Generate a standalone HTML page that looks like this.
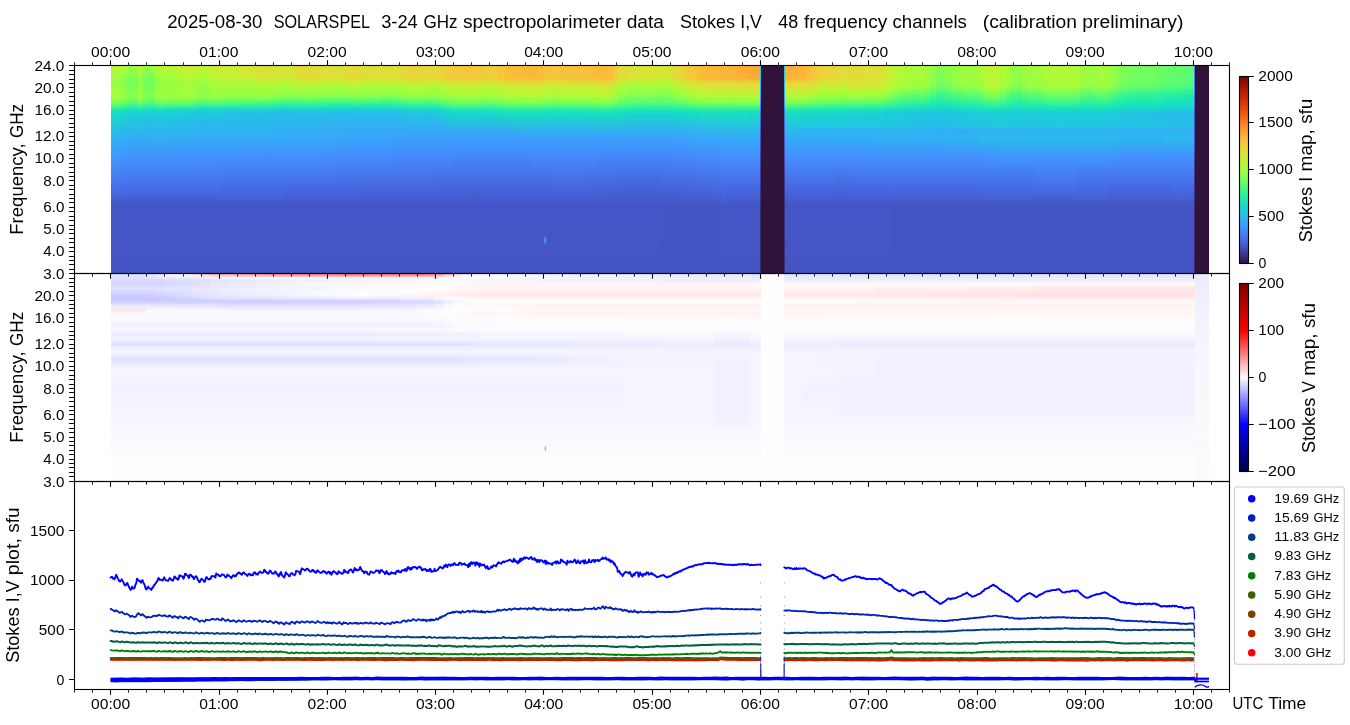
<!DOCTYPE html>
<html><head><meta charset="utf-8"><title>SOLARSPEL 2025-08-30</title>
<style>html,body{margin:0;padding:0;background:#fff;overflow:hidden}svg{display:block}text{font-family:"Liberation Sans",sans-serif;white-space:pre}</style></head>
<body>
<svg width="1350" height="725" viewBox="0 0 1350 725">
<rect width="1350" height="725" fill="#fff"/>
<defs>
<linearGradient id="i0" x1="0" y1="0" x2="0" y2="1"><stop offset="0" stop-color="#c3f134"/><stop offset="0.043" stop-color="#acfb38"/><stop offset="0.064" stop-color="#a1fd3d"/><stop offset="0.085" stop-color="#9ffd3f"/><stop offset="0.106" stop-color="#9ffd3f"/><stop offset="0.128" stop-color="#a7fc3a"/><stop offset="0.149" stop-color="#acfb38"/><stop offset="0.17" stop-color="#8fff49"/><stop offset="0.191" stop-color="#65fd69"/><stop offset="0.213" stop-color="#20eaac"/><stop offset="0.234" stop-color="#18d9c8"/><stop offset="0.34" stop-color="#2cb7f0"/><stop offset="0.447" stop-color="#4196ff"/><stop offset="0.553" stop-color="#4778f0"/><stop offset="0.638" stop-color="#4661d6"/><stop offset="0.655" stop-color="#4559cb"/><stop offset="0.674" stop-color="#4456c7"/><stop offset="1" stop-color="#4454c3"/></linearGradient>
<linearGradient id="i1" x1="0" y1="0" x2="0" y2="1"><stop offset="0" stop-color="#bef434"/><stop offset="0.043" stop-color="#a7fc3a"/><stop offset="0.064" stop-color="#9cfe40"/><stop offset="0.085" stop-color="#99fe42"/><stop offset="0.106" stop-color="#99fe42"/><stop offset="0.128" stop-color="#a1fd3d"/><stop offset="0.149" stop-color="#a7fc3a"/><stop offset="0.17" stop-color="#88ff4e"/><stop offset="0.191" stop-color="#5dfc6f"/><stop offset="0.213" stop-color="#1de7b2"/><stop offset="0.234" stop-color="#18d7ca"/><stop offset="0.34" stop-color="#2eb4f2"/><stop offset="0.447" stop-color="#4294ff"/><stop offset="0.553" stop-color="#4778f0"/><stop offset="0.638" stop-color="#4661d6"/><stop offset="0.655" stop-color="#4559cb"/><stop offset="0.674" stop-color="#4456c7"/><stop offset="1" stop-color="#4454c3"/></linearGradient>
<linearGradient id="i2" x1="0" y1="0" x2="0" y2="1"><stop offset="0" stop-color="#b1f936"/><stop offset="0.043" stop-color="#99fe42"/><stop offset="0.064" stop-color="#8bff4b"/><stop offset="0.085" stop-color="#88ff4e"/><stop offset="0.106" stop-color="#88ff4e"/><stop offset="0.128" stop-color="#92ff47"/><stop offset="0.149" stop-color="#99fe42"/><stop offset="0.17" stop-color="#75fe5c"/><stop offset="0.191" stop-color="#4ef97d"/><stop offset="0.213" stop-color="#1ae4b6"/><stop offset="0.234" stop-color="#1ad4d0"/><stop offset="0.34" stop-color="#2fb2f4"/><stop offset="0.447" stop-color="#4294ff"/><stop offset="0.553" stop-color="#4776ee"/><stop offset="0.638" stop-color="#4661d6"/><stop offset="0.655" stop-color="#4559cb"/><stop offset="0.674" stop-color="#4456c7"/><stop offset="1" stop-color="#4454c3"/></linearGradient>
<linearGradient id="i3" x1="0" y1="0" x2="0" y2="1"><stop offset="0" stop-color="#a1fd3d"/><stop offset="0.043" stop-color="#88ff4e"/><stop offset="0.064" stop-color="#79fe59"/><stop offset="0.085" stop-color="#75fe5c"/><stop offset="0.106" stop-color="#75fe5c"/><stop offset="0.128" stop-color="#80ff53"/><stop offset="0.149" stop-color="#88ff4e"/><stop offset="0.17" stop-color="#65fd69"/><stop offset="0.191" stop-color="#43f787"/><stop offset="0.213" stop-color="#18e0bd"/><stop offset="0.234" stop-color="#1bd0d5"/><stop offset="0.34" stop-color="#2fb2f4"/><stop offset="0.447" stop-color="#4391fe"/><stop offset="0.553" stop-color="#4776ee"/><stop offset="0.638" stop-color="#4661d6"/><stop offset="0.655" stop-color="#4559cb"/><stop offset="0.674" stop-color="#4456c7"/><stop offset="1" stop-color="#4454c3"/></linearGradient>
<linearGradient id="i4" x1="0" y1="0" x2="0" y2="1"><stop offset="0" stop-color="#a4fc3c"/><stop offset="0.043" stop-color="#8bff4b"/><stop offset="0.064" stop-color="#7dff56"/><stop offset="0.085" stop-color="#79fe59"/><stop offset="0.106" stop-color="#79fe59"/><stop offset="0.128" stop-color="#84ff51"/><stop offset="0.149" stop-color="#8bff4b"/><stop offset="0.17" stop-color="#65fd69"/><stop offset="0.191" stop-color="#3ff68a"/><stop offset="0.213" stop-color="#18dec0"/><stop offset="0.234" stop-color="#1ccdd8"/><stop offset="0.34" stop-color="#31aff5"/><stop offset="0.447" stop-color="#4391fe"/><stop offset="0.553" stop-color="#4776ee"/><stop offset="0.638" stop-color="#4661d6"/><stop offset="0.655" stop-color="#4559cb"/><stop offset="0.674" stop-color="#4456c7"/><stop offset="1" stop-color="#4454c3"/></linearGradient>
<linearGradient id="i5" x1="0" y1="0" x2="0" y2="1"><stop offset="0" stop-color="#b9f635"/><stop offset="0.043" stop-color="#a1fd3d"/><stop offset="0.064" stop-color="#92ff47"/><stop offset="0.085" stop-color="#92ff47"/><stop offset="0.106" stop-color="#92ff47"/><stop offset="0.128" stop-color="#99fe42"/><stop offset="0.149" stop-color="#a1fd3d"/><stop offset="0.17" stop-color="#7dff56"/><stop offset="0.191" stop-color="#52fa7a"/><stop offset="0.213" stop-color="#19e3b9"/><stop offset="0.234" stop-color="#1ad2d2"/><stop offset="0.34" stop-color="#31aff5"/><stop offset="0.447" stop-color="#4391fe"/><stop offset="0.553" stop-color="#4776ee"/><stop offset="0.638" stop-color="#4661d6"/><stop offset="0.655" stop-color="#4559cb"/><stop offset="0.674" stop-color="#4456c7"/><stop offset="1" stop-color="#4454c3"/></linearGradient>
<linearGradient id="i6" x1="0" y1="0" x2="0" y2="1"><stop offset="0" stop-color="#a1fd3d"/><stop offset="0.043" stop-color="#88ff4e"/><stop offset="0.064" stop-color="#79fe59"/><stop offset="0.085" stop-color="#75fe5c"/><stop offset="0.106" stop-color="#75fe5c"/><stop offset="0.128" stop-color="#80ff53"/><stop offset="0.149" stop-color="#88ff4e"/><stop offset="0.17" stop-color="#65fd69"/><stop offset="0.191" stop-color="#3ff68a"/><stop offset="0.213" stop-color="#18dec0"/><stop offset="0.234" stop-color="#1ecbda"/><stop offset="0.34" stop-color="#2fb2f4"/><stop offset="0.447" stop-color="#4391fe"/><stop offset="0.553" stop-color="#4776ee"/><stop offset="0.638" stop-color="#4661d6"/><stop offset="0.655" stop-color="#4559cb"/><stop offset="0.674" stop-color="#4456c7"/><stop offset="1" stop-color="#4454c3"/></linearGradient>
<linearGradient id="i7" x1="0" y1="0" x2="0" y2="1"><stop offset="0" stop-color="#9ffd3f"/><stop offset="0.043" stop-color="#80ff53"/><stop offset="0.064" stop-color="#71fe5f"/><stop offset="0.085" stop-color="#71fe5f"/><stop offset="0.106" stop-color="#71fe5f"/><stop offset="0.128" stop-color="#79fe59"/><stop offset="0.149" stop-color="#80ff53"/><stop offset="0.17" stop-color="#5dfc6f"/><stop offset="0.191" stop-color="#3cf58e"/><stop offset="0.213" stop-color="#18ddc2"/><stop offset="0.234" stop-color="#1ecbda"/><stop offset="0.34" stop-color="#2fb2f4"/><stop offset="0.447" stop-color="#4391fe"/><stop offset="0.553" stop-color="#4776ee"/><stop offset="0.638" stop-color="#4661d6"/><stop offset="0.655" stop-color="#4559cb"/><stop offset="0.674" stop-color="#4456c7"/><stop offset="1" stop-color="#4454c3"/></linearGradient>
<linearGradient id="i8" x1="0" y1="0" x2="0" y2="1"><stop offset="0" stop-color="#b7f735"/><stop offset="0.043" stop-color="#9ffd3f"/><stop offset="0.064" stop-color="#92ff47"/><stop offset="0.085" stop-color="#8fff49"/><stop offset="0.106" stop-color="#8fff49"/><stop offset="0.128" stop-color="#96fe44"/><stop offset="0.149" stop-color="#9ffd3f"/><stop offset="0.17" stop-color="#79fe59"/><stop offset="0.191" stop-color="#4ef97d"/><stop offset="0.213" stop-color="#18e0bd"/><stop offset="0.234" stop-color="#1ccdd8"/><stop offset="0.34" stop-color="#2eb4f2"/><stop offset="0.447" stop-color="#4391fe"/><stop offset="0.553" stop-color="#4776ee"/><stop offset="0.638" stop-color="#4661d6"/><stop offset="0.655" stop-color="#4559cb"/><stop offset="0.674" stop-color="#4456c7"/><stop offset="1" stop-color="#4454c3"/></linearGradient>
<linearGradient id="i9" x1="0" y1="0" x2="0" y2="1"><stop offset="0" stop-color="#bef434"/><stop offset="0.043" stop-color="#a7fc3a"/><stop offset="0.064" stop-color="#9cfe40"/><stop offset="0.085" stop-color="#99fe42"/><stop offset="0.106" stop-color="#96fe44"/><stop offset="0.128" stop-color="#9ffd3f"/><stop offset="0.149" stop-color="#a4fc3c"/><stop offset="0.17" stop-color="#7dff56"/><stop offset="0.191" stop-color="#52fa7a"/><stop offset="0.213" stop-color="#18e0bd"/><stop offset="0.234" stop-color="#1ccdd8"/><stop offset="0.34" stop-color="#2eb4f2"/><stop offset="0.447" stop-color="#4391fe"/><stop offset="0.553" stop-color="#4776ee"/><stop offset="0.638" stop-color="#4661d6"/><stop offset="0.655" stop-color="#4559cb"/><stop offset="0.674" stop-color="#4456c7"/><stop offset="1" stop-color="#4454c3"/></linearGradient>
<linearGradient id="i10" x1="0" y1="0" x2="0" y2="1"><stop offset="0" stop-color="#bef434"/><stop offset="0.043" stop-color="#a7fc3a"/><stop offset="0.064" stop-color="#9cfe40"/><stop offset="0.085" stop-color="#96fe44"/><stop offset="0.106" stop-color="#96fe44"/><stop offset="0.128" stop-color="#9cfe40"/><stop offset="0.149" stop-color="#9ffd3f"/><stop offset="0.17" stop-color="#79fe59"/><stop offset="0.191" stop-color="#4ef97d"/><stop offset="0.213" stop-color="#18dec0"/><stop offset="0.234" stop-color="#1ccdd8"/><stop offset="0.34" stop-color="#2fb2f4"/><stop offset="0.447" stop-color="#4391fe"/><stop offset="0.553" stop-color="#4776ee"/><stop offset="0.638" stop-color="#4661d6"/><stop offset="0.655" stop-color="#4559cb"/><stop offset="0.674" stop-color="#4456c7"/><stop offset="1" stop-color="#4454c3"/></linearGradient>
<linearGradient id="i11" x1="0" y1="0" x2="0" y2="1"><stop offset="0" stop-color="#c1f334"/><stop offset="0.043" stop-color="#acfb38"/><stop offset="0.064" stop-color="#a1fd3d"/><stop offset="0.085" stop-color="#9cfe40"/><stop offset="0.106" stop-color="#99fe42"/><stop offset="0.128" stop-color="#9cfe40"/><stop offset="0.149" stop-color="#a1fd3d"/><stop offset="0.17" stop-color="#79fe59"/><stop offset="0.191" stop-color="#4ef97d"/><stop offset="0.213" stop-color="#18ddc2"/><stop offset="0.234" stop-color="#1ecbda"/><stop offset="0.34" stop-color="#2fb2f4"/><stop offset="0.447" stop-color="#4391fe"/><stop offset="0.553" stop-color="#4776ee"/><stop offset="0.638" stop-color="#4661d6"/><stop offset="0.655" stop-color="#4559cb"/><stop offset="0.674" stop-color="#4456c7"/><stop offset="1" stop-color="#4454c3"/></linearGradient>
<linearGradient id="i12" x1="0" y1="0" x2="0" y2="1"><stop offset="0" stop-color="#c6f034"/><stop offset="0.043" stop-color="#b1f936"/><stop offset="0.064" stop-color="#a7fc3a"/><stop offset="0.085" stop-color="#9ffd3f"/><stop offset="0.106" stop-color="#9cfe40"/><stop offset="0.128" stop-color="#a1fd3d"/><stop offset="0.149" stop-color="#a4fc3c"/><stop offset="0.17" stop-color="#7dff56"/><stop offset="0.191" stop-color="#4ef97d"/><stop offset="0.213" stop-color="#18ddc2"/><stop offset="0.234" stop-color="#1ecbda"/><stop offset="0.34" stop-color="#2fb2f4"/><stop offset="0.447" stop-color="#4391fe"/><stop offset="0.553" stop-color="#4776ee"/><stop offset="0.638" stop-color="#4661d6"/><stop offset="0.655" stop-color="#4559cb"/><stop offset="0.674" stop-color="#4456c7"/><stop offset="1" stop-color="#4454c3"/></linearGradient>
<linearGradient id="i13" x1="0" y1="0" x2="0" y2="1"><stop offset="0" stop-color="#cbed34"/><stop offset="0.043" stop-color="#b9f635"/><stop offset="0.064" stop-color="#affa37"/><stop offset="0.085" stop-color="#a7fc3a"/><stop offset="0.106" stop-color="#a1fd3d"/><stop offset="0.128" stop-color="#a4fc3c"/><stop offset="0.149" stop-color="#a7fc3a"/><stop offset="0.17" stop-color="#80ff53"/><stop offset="0.191" stop-color="#4ef97d"/><stop offset="0.213" stop-color="#18dbc5"/><stop offset="0.234" stop-color="#1fc9dd"/><stop offset="0.34" stop-color="#2fb2f4"/><stop offset="0.447" stop-color="#4391fe"/><stop offset="0.553" stop-color="#4776ee"/><stop offset="0.638" stop-color="#4661d6"/><stop offset="0.655" stop-color="#4559cb"/><stop offset="0.674" stop-color="#4456c7"/><stop offset="1" stop-color="#4454c3"/></linearGradient>
<linearGradient id="i14" x1="0" y1="0" x2="0" y2="1"><stop offset="0" stop-color="#cdec34"/><stop offset="0.043" stop-color="#bcf534"/><stop offset="0.064" stop-color="#b4f836"/><stop offset="0.085" stop-color="#a7fc3a"/><stop offset="0.106" stop-color="#a4fc3c"/><stop offset="0.128" stop-color="#a4fc3c"/><stop offset="0.149" stop-color="#a7fc3a"/><stop offset="0.17" stop-color="#7dff56"/><stop offset="0.191" stop-color="#4ef97d"/><stop offset="0.213" stop-color="#18dbc5"/><stop offset="0.234" stop-color="#1fc9dd"/><stop offset="0.34" stop-color="#2fb2f4"/><stop offset="0.447" stop-color="#4391fe"/><stop offset="0.553" stop-color="#4776ee"/><stop offset="0.638" stop-color="#4661d6"/><stop offset="0.655" stop-color="#4559cb"/><stop offset="0.674" stop-color="#4456c7"/><stop offset="1" stop-color="#4454c3"/></linearGradient>
<linearGradient id="i15" x1="0" y1="0" x2="0" y2="1"><stop offset="0" stop-color="#cbed34"/><stop offset="0.043" stop-color="#b9f635"/><stop offset="0.064" stop-color="#b1f936"/><stop offset="0.085" stop-color="#a4fc3c"/><stop offset="0.106" stop-color="#9ffd3f"/><stop offset="0.128" stop-color="#9ffd3f"/><stop offset="0.149" stop-color="#9ffd3f"/><stop offset="0.17" stop-color="#75fe5c"/><stop offset="0.191" stop-color="#46f884"/><stop offset="0.213" stop-color="#18d9c8"/><stop offset="0.234" stop-color="#20c7df"/><stop offset="0.34" stop-color="#31aff5"/><stop offset="0.447" stop-color="#4391fe"/><stop offset="0.553" stop-color="#4776ee"/><stop offset="0.638" stop-color="#4661d6"/><stop offset="0.655" stop-color="#4559cb"/><stop offset="0.674" stop-color="#4456c7"/><stop offset="1" stop-color="#4454c3"/></linearGradient>
<linearGradient id="i16" x1="0" y1="0" x2="0" y2="1"><stop offset="0" stop-color="#bef434"/><stop offset="0.043" stop-color="#affa37"/><stop offset="0.064" stop-color="#a7fc3a"/><stop offset="0.085" stop-color="#99fe42"/><stop offset="0.106" stop-color="#8fff49"/><stop offset="0.128" stop-color="#8fff49"/><stop offset="0.149" stop-color="#8fff49"/><stop offset="0.17" stop-color="#65fd69"/><stop offset="0.191" stop-color="#38f491"/><stop offset="0.213" stop-color="#1ad4d0"/><stop offset="0.234" stop-color="#23c3e4"/><stop offset="0.34" stop-color="#31aff5"/><stop offset="0.447" stop-color="#4391fe"/><stop offset="0.553" stop-color="#4776ee"/><stop offset="0.638" stop-color="#4661d6"/><stop offset="0.655" stop-color="#4559cb"/><stop offset="0.674" stop-color="#4456c7"/><stop offset="1" stop-color="#4454c3"/></linearGradient>
<linearGradient id="i17" x1="0" y1="0" x2="0" y2="1"><stop offset="0" stop-color="#c1f334"/><stop offset="0.043" stop-color="#b4f836"/><stop offset="0.064" stop-color="#acfb38"/><stop offset="0.085" stop-color="#9cfe40"/><stop offset="0.106" stop-color="#92ff47"/><stop offset="0.128" stop-color="#92ff47"/><stop offset="0.149" stop-color="#8fff49"/><stop offset="0.17" stop-color="#65fd69"/><stop offset="0.191" stop-color="#38f491"/><stop offset="0.213" stop-color="#19d5cd"/><stop offset="0.234" stop-color="#23c3e4"/><stop offset="0.34" stop-color="#31aff5"/><stop offset="0.447" stop-color="#448ffe"/><stop offset="0.553" stop-color="#4776ee"/><stop offset="0.638" stop-color="#4661d6"/><stop offset="0.655" stop-color="#4559cb"/><stop offset="0.674" stop-color="#4456c7"/><stop offset="1" stop-color="#4454c3"/></linearGradient>
<linearGradient id="i18" x1="0" y1="0" x2="0" y2="1"><stop offset="0" stop-color="#c8ef34"/><stop offset="0.043" stop-color="#bcf534"/><stop offset="0.064" stop-color="#b4f836"/><stop offset="0.085" stop-color="#a4fc3c"/><stop offset="0.106" stop-color="#9cfe40"/><stop offset="0.128" stop-color="#99fe42"/><stop offset="0.149" stop-color="#96fe44"/><stop offset="0.17" stop-color="#69fd66"/><stop offset="0.191" stop-color="#3cf58e"/><stop offset="0.213" stop-color="#18d7ca"/><stop offset="0.234" stop-color="#22c5e2"/><stop offset="0.34" stop-color="#31aff5"/><stop offset="0.447" stop-color="#448ffe"/><stop offset="0.553" stop-color="#4776ee"/><stop offset="0.638" stop-color="#4661d6"/><stop offset="0.655" stop-color="#4559cb"/><stop offset="0.674" stop-color="#4456c7"/><stop offset="1" stop-color="#4454c3"/></linearGradient>
<linearGradient id="i19" x1="0" y1="0" x2="0" y2="1"><stop offset="0" stop-color="#d2e935"/><stop offset="0.043" stop-color="#c6f034"/><stop offset="0.064" stop-color="#bef434"/><stop offset="0.085" stop-color="#acfb38"/><stop offset="0.106" stop-color="#a4fc3c"/><stop offset="0.128" stop-color="#a1fd3d"/><stop offset="0.149" stop-color="#9cfe40"/><stop offset="0.17" stop-color="#71fe5f"/><stop offset="0.191" stop-color="#3ff68a"/><stop offset="0.213" stop-color="#18d7ca"/><stop offset="0.234" stop-color="#22c5e2"/><stop offset="0.34" stop-color="#31aff5"/><stop offset="0.447" stop-color="#448ffe"/><stop offset="0.553" stop-color="#4776ee"/><stop offset="0.638" stop-color="#4661d6"/><stop offset="0.655" stop-color="#4559cb"/><stop offset="0.674" stop-color="#4456c7"/><stop offset="1" stop-color="#4454c3"/></linearGradient>
<linearGradient id="i20" x1="0" y1="0" x2="0" y2="1"><stop offset="0" stop-color="#d2e935"/><stop offset="0.043" stop-color="#c6f034"/><stop offset="0.064" stop-color="#bef434"/><stop offset="0.085" stop-color="#acfb38"/><stop offset="0.106" stop-color="#a1fd3d"/><stop offset="0.128" stop-color="#9ffd3f"/><stop offset="0.149" stop-color="#99fe42"/><stop offset="0.17" stop-color="#6dfe62"/><stop offset="0.191" stop-color="#3cf58e"/><stop offset="0.213" stop-color="#18d7ca"/><stop offset="0.234" stop-color="#22c5e2"/><stop offset="0.34" stop-color="#31aff5"/><stop offset="0.447" stop-color="#448ffe"/><stop offset="0.553" stop-color="#4773eb"/><stop offset="0.638" stop-color="#4661d6"/><stop offset="0.655" stop-color="#4559cb"/><stop offset="0.674" stop-color="#4456c7"/><stop offset="1" stop-color="#4454c3"/></linearGradient>
<linearGradient id="i21" x1="0" y1="0" x2="0" y2="1"><stop offset="0" stop-color="#d0ea34"/><stop offset="0.043" stop-color="#c6f034"/><stop offset="0.064" stop-color="#bef434"/><stop offset="0.085" stop-color="#a9fb39"/><stop offset="0.106" stop-color="#a1fd3d"/><stop offset="0.128" stop-color="#9cfe40"/><stop offset="0.149" stop-color="#96fe44"/><stop offset="0.17" stop-color="#69fd66"/><stop offset="0.191" stop-color="#38f491"/><stop offset="0.213" stop-color="#19d5cd"/><stop offset="0.234" stop-color="#23c3e4"/><stop offset="0.34" stop-color="#31aff5"/><stop offset="0.447" stop-color="#448ffe"/><stop offset="0.553" stop-color="#4773eb"/><stop offset="0.638" stop-color="#4661d6"/><stop offset="0.655" stop-color="#4559cb"/><stop offset="0.674" stop-color="#4456c7"/><stop offset="1" stop-color="#4454c3"/></linearGradient>
<linearGradient id="i22" x1="0" y1="0" x2="0" y2="1"><stop offset="0" stop-color="#d0ea34"/><stop offset="0.043" stop-color="#c6f034"/><stop offset="0.064" stop-color="#bef434"/><stop offset="0.085" stop-color="#a9fb39"/><stop offset="0.106" stop-color="#9ffd3f"/><stop offset="0.128" stop-color="#9cfe40"/><stop offset="0.149" stop-color="#92ff47"/><stop offset="0.17" stop-color="#65fd69"/><stop offset="0.191" stop-color="#38f491"/><stop offset="0.213" stop-color="#1ad4d0"/><stop offset="0.234" stop-color="#23c3e4"/><stop offset="0.34" stop-color="#31aff5"/><stop offset="0.447" stop-color="#448ffe"/><stop offset="0.553" stop-color="#4773eb"/><stop offset="0.638" stop-color="#4661d6"/><stop offset="0.655" stop-color="#4559cb"/><stop offset="0.674" stop-color="#4456c7"/><stop offset="1" stop-color="#4454c3"/></linearGradient>
<linearGradient id="i23" x1="0" y1="0" x2="0" y2="1"><stop offset="0" stop-color="#d4e735"/><stop offset="0.043" stop-color="#cbed34"/><stop offset="0.064" stop-color="#c6f034"/><stop offset="0.085" stop-color="#affa37"/><stop offset="0.106" stop-color="#a4fc3c"/><stop offset="0.128" stop-color="#9ffd3f"/><stop offset="0.149" stop-color="#96fe44"/><stop offset="0.17" stop-color="#65fd69"/><stop offset="0.191" stop-color="#38f491"/><stop offset="0.213" stop-color="#1ad4d0"/><stop offset="0.234" stop-color="#25c0e7"/><stop offset="0.34" stop-color="#31aff5"/><stop offset="0.447" stop-color="#448ffe"/><stop offset="0.553" stop-color="#4773eb"/><stop offset="0.638" stop-color="#4661d6"/><stop offset="0.655" stop-color="#4559cb"/><stop offset="0.674" stop-color="#4456c7"/><stop offset="1" stop-color="#4454c3"/></linearGradient>
<linearGradient id="i24" x1="0" y1="0" x2="0" y2="1"><stop offset="0" stop-color="#d7e535"/><stop offset="0.043" stop-color="#cdec34"/><stop offset="0.064" stop-color="#c8ef34"/><stop offset="0.085" stop-color="#b1f936"/><stop offset="0.106" stop-color="#a4fc3c"/><stop offset="0.128" stop-color="#9ffd3f"/><stop offset="0.149" stop-color="#96fe44"/><stop offset="0.17" stop-color="#65fd69"/><stop offset="0.191" stop-color="#35f394"/><stop offset="0.213" stop-color="#1ad4d0"/><stop offset="0.234" stop-color="#25c0e7"/><stop offset="0.34" stop-color="#31aff5"/><stop offset="0.447" stop-color="#448ffe"/><stop offset="0.553" stop-color="#4773eb"/><stop offset="0.638" stop-color="#4661d6"/><stop offset="0.655" stop-color="#4559cb"/><stop offset="0.674" stop-color="#4456c7"/><stop offset="1" stop-color="#4454c3"/></linearGradient>
<linearGradient id="i25" x1="0" y1="0" x2="0" y2="1"><stop offset="0" stop-color="#d7e535"/><stop offset="0.043" stop-color="#cdec34"/><stop offset="0.064" stop-color="#c8ef34"/><stop offset="0.085" stop-color="#affa37"/><stop offset="0.106" stop-color="#a4fc3c"/><stop offset="0.128" stop-color="#9ffd3f"/><stop offset="0.149" stop-color="#92ff47"/><stop offset="0.17" stop-color="#65fd69"/><stop offset="0.191" stop-color="#35f394"/><stop offset="0.213" stop-color="#1ad4d0"/><stop offset="0.234" stop-color="#25c0e7"/><stop offset="0.34" stop-color="#33adf7"/><stop offset="0.447" stop-color="#448ffe"/><stop offset="0.553" stop-color="#4773eb"/><stop offset="0.638" stop-color="#4661d6"/><stop offset="0.655" stop-color="#4559cb"/><stop offset="0.674" stop-color="#4456c7"/><stop offset="1" stop-color="#4454c3"/></linearGradient>
<linearGradient id="i26" x1="0" y1="0" x2="0" y2="1"><stop offset="0" stop-color="#d9e436"/><stop offset="0.043" stop-color="#d0ea34"/><stop offset="0.064" stop-color="#cbed34"/><stop offset="0.085" stop-color="#b1f936"/><stop offset="0.106" stop-color="#a4fc3c"/><stop offset="0.128" stop-color="#9ffd3f"/><stop offset="0.149" stop-color="#92ff47"/><stop offset="0.17" stop-color="#65fd69"/><stop offset="0.191" stop-color="#35f394"/><stop offset="0.213" stop-color="#1ad4d0"/><stop offset="0.234" stop-color="#25c0e7"/><stop offset="0.34" stop-color="#33adf7"/><stop offset="0.447" stop-color="#448ffe"/><stop offset="0.553" stop-color="#4773eb"/><stop offset="0.638" stop-color="#4661d6"/><stop offset="0.655" stop-color="#4559cb"/><stop offset="0.674" stop-color="#4456c7"/><stop offset="1" stop-color="#4454c3"/></linearGradient>
<linearGradient id="i27" x1="0" y1="0" x2="0" y2="1"><stop offset="0" stop-color="#dbe236"/><stop offset="0.043" stop-color="#d4e735"/><stop offset="0.064" stop-color="#d0ea34"/><stop offset="0.085" stop-color="#b7f735"/><stop offset="0.106" stop-color="#a9fb39"/><stop offset="0.128" stop-color="#a1fd3d"/><stop offset="0.149" stop-color="#96fe44"/><stop offset="0.17" stop-color="#65fd69"/><stop offset="0.191" stop-color="#35f394"/><stop offset="0.213" stop-color="#1ad4d0"/><stop offset="0.234" stop-color="#25c0e7"/><stop offset="0.34" stop-color="#33adf7"/><stop offset="0.447" stop-color="#448ffe"/><stop offset="0.553" stop-color="#4773eb"/><stop offset="0.638" stop-color="#4661d6"/><stop offset="0.655" stop-color="#4559cb"/><stop offset="0.674" stop-color="#4456c7"/><stop offset="1" stop-color="#4454c3"/></linearGradient>
<linearGradient id="i28" x1="0" y1="0" x2="0" y2="1"><stop offset="0" stop-color="#dfdf37"/><stop offset="0.043" stop-color="#d9e436"/><stop offset="0.064" stop-color="#d4e735"/><stop offset="0.085" stop-color="#b9f635"/><stop offset="0.106" stop-color="#acfb38"/><stop offset="0.128" stop-color="#a4fc3c"/><stop offset="0.149" stop-color="#99fe42"/><stop offset="0.17" stop-color="#65fd69"/><stop offset="0.191" stop-color="#35f394"/><stop offset="0.213" stop-color="#1ad4d0"/><stop offset="0.234" stop-color="#25c0e7"/><stop offset="0.34" stop-color="#33adf7"/><stop offset="0.447" stop-color="#448ffe"/><stop offset="0.553" stop-color="#4773eb"/><stop offset="0.638" stop-color="#4661d6"/><stop offset="0.655" stop-color="#4559cb"/><stop offset="0.674" stop-color="#4456c7"/><stop offset="1" stop-color="#4454c3"/></linearGradient>
<linearGradient id="i29" x1="0" y1="0" x2="0" y2="1"><stop offset="0" stop-color="#dde037"/><stop offset="0.043" stop-color="#d9e436"/><stop offset="0.064" stop-color="#d4e735"/><stop offset="0.085" stop-color="#b9f635"/><stop offset="0.106" stop-color="#a9fb39"/><stop offset="0.128" stop-color="#a1fd3d"/><stop offset="0.149" stop-color="#96fe44"/><stop offset="0.17" stop-color="#61fc6c"/><stop offset="0.191" stop-color="#32f298"/><stop offset="0.213" stop-color="#1ad2d2"/><stop offset="0.234" stop-color="#25c0e7"/><stop offset="0.34" stop-color="#33adf7"/><stop offset="0.447" stop-color="#458cfd"/><stop offset="0.553" stop-color="#4773eb"/><stop offset="0.638" stop-color="#4661d6"/><stop offset="0.655" stop-color="#4559cb"/><stop offset="0.674" stop-color="#4456c7"/><stop offset="1" stop-color="#4454c3"/></linearGradient>
<linearGradient id="i30" x1="0" y1="0" x2="0" y2="1"><stop offset="0" stop-color="#dbe236"/><stop offset="0.043" stop-color="#d7e535"/><stop offset="0.064" stop-color="#d2e935"/><stop offset="0.085" stop-color="#b7f735"/><stop offset="0.106" stop-color="#a7fc3a"/><stop offset="0.128" stop-color="#9ffd3f"/><stop offset="0.149" stop-color="#8fff49"/><stop offset="0.17" stop-color="#59fb73"/><stop offset="0.191" stop-color="#2ff19b"/><stop offset="0.213" stop-color="#1bd0d5"/><stop offset="0.234" stop-color="#27bee9"/><stop offset="0.34" stop-color="#33adf7"/><stop offset="0.447" stop-color="#458cfd"/><stop offset="0.553" stop-color="#4773eb"/><stop offset="0.638" stop-color="#4661d6"/><stop offset="0.655" stop-color="#4559cb"/><stop offset="0.674" stop-color="#4456c7"/><stop offset="1" stop-color="#4454c3"/></linearGradient>
<linearGradient id="i31" x1="0" y1="0" x2="0" y2="1"><stop offset="0" stop-color="#d9e436"/><stop offset="0.043" stop-color="#d4e735"/><stop offset="0.064" stop-color="#d0ea34"/><stop offset="0.085" stop-color="#b1f936"/><stop offset="0.106" stop-color="#a4fc3c"/><stop offset="0.128" stop-color="#99fe42"/><stop offset="0.149" stop-color="#88ff4e"/><stop offset="0.17" stop-color="#55fa76"/><stop offset="0.191" stop-color="#2aefa1"/><stop offset="0.213" stop-color="#1bd0d5"/><stop offset="0.234" stop-color="#28bceb"/><stop offset="0.34" stop-color="#33adf7"/><stop offset="0.447" stop-color="#458cfd"/><stop offset="0.553" stop-color="#4773eb"/><stop offset="0.638" stop-color="#4661d6"/><stop offset="0.655" stop-color="#4559cb"/><stop offset="0.674" stop-color="#4456c7"/><stop offset="1" stop-color="#4454c3"/></linearGradient>
<linearGradient id="i32" x1="0" y1="0" x2="0" y2="1"><stop offset="0" stop-color="#d7e535"/><stop offset="0.043" stop-color="#d2e935"/><stop offset="0.064" stop-color="#d0ea34"/><stop offset="0.085" stop-color="#b1f936"/><stop offset="0.106" stop-color="#a1fd3d"/><stop offset="0.128" stop-color="#96fe44"/><stop offset="0.149" stop-color="#84ff51"/><stop offset="0.17" stop-color="#52fa7a"/><stop offset="0.191" stop-color="#27eea4"/><stop offset="0.213" stop-color="#1ccdd8"/><stop offset="0.234" stop-color="#28bceb"/><stop offset="0.34" stop-color="#35abf8"/><stop offset="0.447" stop-color="#458cfd"/><stop offset="0.553" stop-color="#4771e9"/><stop offset="0.638" stop-color="#455ed3"/><stop offset="0.655" stop-color="#4559cb"/><stop offset="0.674" stop-color="#4456c7"/><stop offset="1" stop-color="#4454c3"/></linearGradient>
<linearGradient id="i33" x1="0" y1="0" x2="0" y2="1"><stop offset="0" stop-color="#d9e436"/><stop offset="0.043" stop-color="#d7e535"/><stop offset="0.064" stop-color="#d4e735"/><stop offset="0.085" stop-color="#b4f836"/><stop offset="0.106" stop-color="#a4fc3c"/><stop offset="0.128" stop-color="#99fe42"/><stop offset="0.149" stop-color="#84ff51"/><stop offset="0.17" stop-color="#52fa7a"/><stop offset="0.191" stop-color="#2aefa1"/><stop offset="0.213" stop-color="#1bd0d5"/><stop offset="0.234" stop-color="#28bceb"/><stop offset="0.34" stop-color="#35abf8"/><stop offset="0.447" stop-color="#458cfd"/><stop offset="0.553" stop-color="#4771e9"/><stop offset="0.638" stop-color="#455ed3"/><stop offset="0.655" stop-color="#4559cb"/><stop offset="0.674" stop-color="#4456c7"/><stop offset="1" stop-color="#4454c3"/></linearGradient>
<linearGradient id="i34" x1="0" y1="0" x2="0" y2="1"><stop offset="0" stop-color="#dfdf37"/><stop offset="0.043" stop-color="#dde037"/><stop offset="0.064" stop-color="#dbe236"/><stop offset="0.085" stop-color="#b9f635"/><stop offset="0.106" stop-color="#a9fb39"/><stop offset="0.128" stop-color="#9cfe40"/><stop offset="0.149" stop-color="#88ff4e"/><stop offset="0.17" stop-color="#55fa76"/><stop offset="0.191" stop-color="#2aefa1"/><stop offset="0.213" stop-color="#1bd0d5"/><stop offset="0.234" stop-color="#27bee9"/><stop offset="0.34" stop-color="#35abf8"/><stop offset="0.447" stop-color="#458cfd"/><stop offset="0.553" stop-color="#4771e9"/><stop offset="0.638" stop-color="#455ed3"/><stop offset="0.655" stop-color="#4559cb"/><stop offset="0.674" stop-color="#4456c7"/><stop offset="1" stop-color="#4454c3"/></linearGradient>
<linearGradient id="i35" x1="0" y1="0" x2="0" y2="1"><stop offset="0" stop-color="#e5d938"/><stop offset="0.043" stop-color="#e3db38"/><stop offset="0.064" stop-color="#e1dd37"/><stop offset="0.085" stop-color="#bef434"/><stop offset="0.106" stop-color="#affa37"/><stop offset="0.128" stop-color="#a1fd3d"/><stop offset="0.149" stop-color="#8fff49"/><stop offset="0.17" stop-color="#59fb73"/><stop offset="0.191" stop-color="#2cf09e"/><stop offset="0.213" stop-color="#1ad2d2"/><stop offset="0.234" stop-color="#27bee9"/><stop offset="0.34" stop-color="#35abf8"/><stop offset="0.447" stop-color="#458cfd"/><stop offset="0.553" stop-color="#4771e9"/><stop offset="0.638" stop-color="#455ed3"/><stop offset="0.655" stop-color="#4559cb"/><stop offset="0.674" stop-color="#4456c7"/><stop offset="1" stop-color="#4454c3"/></linearGradient>
<linearGradient id="i36" x1="0" y1="0" x2="0" y2="1"><stop offset="0" stop-color="#e5d938"/><stop offset="0.043" stop-color="#e5d938"/><stop offset="0.064" stop-color="#e3db38"/><stop offset="0.085" stop-color="#c1f334"/><stop offset="0.106" stop-color="#affa37"/><stop offset="0.128" stop-color="#a1fd3d"/><stop offset="0.149" stop-color="#8fff49"/><stop offset="0.17" stop-color="#59fb73"/><stop offset="0.191" stop-color="#2cf09e"/><stop offset="0.213" stop-color="#1ad2d2"/><stop offset="0.234" stop-color="#27bee9"/><stop offset="0.34" stop-color="#35abf8"/><stop offset="0.447" stop-color="#458cfd"/><stop offset="0.553" stop-color="#4771e9"/><stop offset="0.638" stop-color="#455ed3"/><stop offset="0.655" stop-color="#4559cb"/><stop offset="0.674" stop-color="#4456c7"/><stop offset="1" stop-color="#4454c3"/></linearGradient>
<linearGradient id="i37" x1="0" y1="0" x2="0" y2="1"><stop offset="0" stop-color="#e3db38"/><stop offset="0.043" stop-color="#e3db38"/><stop offset="0.064" stop-color="#e1dd37"/><stop offset="0.085" stop-color="#bef434"/><stop offset="0.106" stop-color="#acfb38"/><stop offset="0.128" stop-color="#9ffd3f"/><stop offset="0.149" stop-color="#8bff4b"/><stop offset="0.17" stop-color="#55fa76"/><stop offset="0.191" stop-color="#2aefa1"/><stop offset="0.213" stop-color="#1bd0d5"/><stop offset="0.234" stop-color="#27bee9"/><stop offset="0.34" stop-color="#35abf8"/><stop offset="0.447" stop-color="#458cfd"/><stop offset="0.553" stop-color="#4771e9"/><stop offset="0.638" stop-color="#455ed3"/><stop offset="0.655" stop-color="#4559cb"/><stop offset="0.674" stop-color="#4456c7"/><stop offset="1" stop-color="#4454c3"/></linearGradient>
<linearGradient id="i38" x1="0" y1="0" x2="0" y2="1"><stop offset="0" stop-color="#e1dd37"/><stop offset="0.043" stop-color="#e1dd37"/><stop offset="0.064" stop-color="#dfdf37"/><stop offset="0.085" stop-color="#bcf534"/><stop offset="0.106" stop-color="#a9fb39"/><stop offset="0.128" stop-color="#9cfe40"/><stop offset="0.149" stop-color="#88ff4e"/><stop offset="0.17" stop-color="#52fa7a"/><stop offset="0.191" stop-color="#2aefa1"/><stop offset="0.213" stop-color="#1bd0d5"/><stop offset="0.234" stop-color="#27bee9"/><stop offset="0.34" stop-color="#37a8fa"/><stop offset="0.447" stop-color="#458cfd"/><stop offset="0.553" stop-color="#4771e9"/><stop offset="0.638" stop-color="#455ed3"/><stop offset="0.655" stop-color="#4559cb"/><stop offset="0.674" stop-color="#4456c7"/><stop offset="1" stop-color="#4454c3"/></linearGradient>
<linearGradient id="i39" x1="0" y1="0" x2="0" y2="1"><stop offset="0" stop-color="#dfdf37"/><stop offset="0.043" stop-color="#dfdf37"/><stop offset="0.064" stop-color="#dde037"/><stop offset="0.085" stop-color="#b9f635"/><stop offset="0.106" stop-color="#a9fb39"/><stop offset="0.128" stop-color="#9cfe40"/><stop offset="0.149" stop-color="#84ff51"/><stop offset="0.17" stop-color="#52fa7a"/><stop offset="0.191" stop-color="#27eea4"/><stop offset="0.213" stop-color="#1bd0d5"/><stop offset="0.234" stop-color="#27bee9"/><stop offset="0.34" stop-color="#37a8fa"/><stop offset="0.447" stop-color="#458cfd"/><stop offset="0.553" stop-color="#4771e9"/><stop offset="0.638" stop-color="#455ed3"/><stop offset="0.655" stop-color="#4559cb"/><stop offset="0.674" stop-color="#4456c7"/><stop offset="1" stop-color="#4454c3"/></linearGradient>
<linearGradient id="i40" x1="0" y1="0" x2="0" y2="1"><stop offset="0" stop-color="#dfdf37"/><stop offset="0.043" stop-color="#dde037"/><stop offset="0.064" stop-color="#dbe236"/><stop offset="0.085" stop-color="#b9f635"/><stop offset="0.106" stop-color="#a7fc3a"/><stop offset="0.128" stop-color="#99fe42"/><stop offset="0.149" stop-color="#84ff51"/><stop offset="0.17" stop-color="#4ef97d"/><stop offset="0.191" stop-color="#27eea4"/><stop offset="0.213" stop-color="#1bd0d5"/><stop offset="0.234" stop-color="#28bceb"/><stop offset="0.34" stop-color="#37a8fa"/><stop offset="0.447" stop-color="#458cfd"/><stop offset="0.553" stop-color="#4771e9"/><stop offset="0.638" stop-color="#455ed3"/><stop offset="0.655" stop-color="#4559cb"/><stop offset="0.674" stop-color="#4456c7"/><stop offset="1" stop-color="#4454c3"/></linearGradient>
<linearGradient id="i41" x1="0" y1="0" x2="0" y2="1"><stop offset="0" stop-color="#dfdf37"/><stop offset="0.043" stop-color="#dde037"/><stop offset="0.064" stop-color="#dbe236"/><stop offset="0.085" stop-color="#b9f635"/><stop offset="0.106" stop-color="#a7fc3a"/><stop offset="0.128" stop-color="#99fe42"/><stop offset="0.149" stop-color="#84ff51"/><stop offset="0.17" stop-color="#4ef97d"/><stop offset="0.191" stop-color="#27eea4"/><stop offset="0.213" stop-color="#1ccdd8"/><stop offset="0.234" stop-color="#28bceb"/><stop offset="0.34" stop-color="#37a8fa"/><stop offset="0.447" stop-color="#458cfd"/><stop offset="0.553" stop-color="#4771e9"/><stop offset="0.638" stop-color="#455ed3"/><stop offset="0.655" stop-color="#4559cb"/><stop offset="0.674" stop-color="#4456c7"/><stop offset="1" stop-color="#4454c3"/></linearGradient>
<linearGradient id="i42" x1="0" y1="0" x2="0" y2="1"><stop offset="0" stop-color="#dfdf37"/><stop offset="0.043" stop-color="#dde037"/><stop offset="0.064" stop-color="#dde037"/><stop offset="0.085" stop-color="#b9f635"/><stop offset="0.106" stop-color="#a7fc3a"/><stop offset="0.128" stop-color="#99fe42"/><stop offset="0.149" stop-color="#84ff51"/><stop offset="0.17" stop-color="#4ef97d"/><stop offset="0.191" stop-color="#27eea4"/><stop offset="0.213" stop-color="#1ccdd8"/><stop offset="0.234" stop-color="#28bceb"/><stop offset="0.34" stop-color="#37a8fa"/><stop offset="0.447" stop-color="#458afc"/><stop offset="0.553" stop-color="#4771e9"/><stop offset="0.638" stop-color="#455ed3"/><stop offset="0.655" stop-color="#4559cb"/><stop offset="0.674" stop-color="#4456c7"/><stop offset="1" stop-color="#4454c3"/></linearGradient>
<linearGradient id="i43" x1="0" y1="0" x2="0" y2="1"><stop offset="0" stop-color="#e1dd37"/><stop offset="0.043" stop-color="#e1dd37"/><stop offset="0.064" stop-color="#dfdf37"/><stop offset="0.085" stop-color="#bcf534"/><stop offset="0.106" stop-color="#a9fb39"/><stop offset="0.128" stop-color="#9cfe40"/><stop offset="0.149" stop-color="#88ff4e"/><stop offset="0.17" stop-color="#52fa7a"/><stop offset="0.191" stop-color="#27eea4"/><stop offset="0.213" stop-color="#1ccdd8"/><stop offset="0.234" stop-color="#28bceb"/><stop offset="0.34" stop-color="#37a8fa"/><stop offset="0.447" stop-color="#458afc"/><stop offset="0.553" stop-color="#4771e9"/><stop offset="0.638" stop-color="#455ed3"/><stop offset="0.655" stop-color="#4559cb"/><stop offset="0.674" stop-color="#4456c7"/><stop offset="1" stop-color="#4454c3"/></linearGradient>
<linearGradient id="i44" x1="0" y1="0" x2="0" y2="1"><stop offset="0" stop-color="#e5d938"/><stop offset="0.043" stop-color="#e3db38"/><stop offset="0.064" stop-color="#e1dd37"/><stop offset="0.085" stop-color="#c1f334"/><stop offset="0.106" stop-color="#affa37"/><stop offset="0.128" stop-color="#a1fd3d"/><stop offset="0.149" stop-color="#8bff4b"/><stop offset="0.17" stop-color="#52fa7a"/><stop offset="0.191" stop-color="#27eea4"/><stop offset="0.213" stop-color="#1ccdd8"/><stop offset="0.234" stop-color="#28bceb"/><stop offset="0.34" stop-color="#38a5fb"/><stop offset="0.447" stop-color="#458afc"/><stop offset="0.553" stop-color="#4771e9"/><stop offset="0.638" stop-color="#455ed3"/><stop offset="0.655" stop-color="#4559cb"/><stop offset="0.674" stop-color="#4456c7"/><stop offset="1" stop-color="#4454c3"/></linearGradient>
<linearGradient id="i45" x1="0" y1="0" x2="0" y2="1"><stop offset="0" stop-color="#e5d938"/><stop offset="0.043" stop-color="#e5d938"/><stop offset="0.064" stop-color="#e3db38"/><stop offset="0.085" stop-color="#c1f334"/><stop offset="0.106" stop-color="#affa37"/><stop offset="0.128" stop-color="#a1fd3d"/><stop offset="0.149" stop-color="#8fff49"/><stop offset="0.17" stop-color="#55fa76"/><stop offset="0.191" stop-color="#2aefa1"/><stop offset="0.213" stop-color="#1ccdd8"/><stop offset="0.234" stop-color="#28bceb"/><stop offset="0.34" stop-color="#38a5fb"/><stop offset="0.447" stop-color="#458afc"/><stop offset="0.553" stop-color="#4771e9"/><stop offset="0.638" stop-color="#455ed3"/><stop offset="0.655" stop-color="#4559cb"/><stop offset="0.674" stop-color="#4456c7"/><stop offset="1" stop-color="#4454c3"/></linearGradient>
<linearGradient id="i46" x1="0" y1="0" x2="0" y2="1"><stop offset="0" stop-color="#e3db38"/><stop offset="0.043" stop-color="#e3db38"/><stop offset="0.064" stop-color="#e1dd37"/><stop offset="0.085" stop-color="#bef434"/><stop offset="0.106" stop-color="#acfb38"/><stop offset="0.128" stop-color="#9ffd3f"/><stop offset="0.149" stop-color="#8bff4b"/><stop offset="0.17" stop-color="#52fa7a"/><stop offset="0.191" stop-color="#27eea4"/><stop offset="0.213" stop-color="#1ccdd8"/><stop offset="0.234" stop-color="#28bceb"/><stop offset="0.34" stop-color="#38a5fb"/><stop offset="0.447" stop-color="#458afc"/><stop offset="0.553" stop-color="#476ee6"/><stop offset="0.638" stop-color="#455ed3"/><stop offset="0.655" stop-color="#4559cb"/><stop offset="0.674" stop-color="#4456c7"/><stop offset="1" stop-color="#4454c3"/></linearGradient>
<linearGradient id="i47" x1="0" y1="0" x2="0" y2="1"><stop offset="0" stop-color="#dfdf37"/><stop offset="0.043" stop-color="#dde037"/><stop offset="0.064" stop-color="#dde037"/><stop offset="0.085" stop-color="#b9f635"/><stop offset="0.106" stop-color="#a7fc3a"/><stop offset="0.128" stop-color="#99fe42"/><stop offset="0.149" stop-color="#84ff51"/><stop offset="0.17" stop-color="#4ef97d"/><stop offset="0.191" stop-color="#27eea4"/><stop offset="0.213" stop-color="#1ccdd8"/><stop offset="0.234" stop-color="#28bceb"/><stop offset="0.34" stop-color="#38a5fb"/><stop offset="0.447" stop-color="#458afc"/><stop offset="0.553" stop-color="#476ee6"/><stop offset="0.638" stop-color="#455ed3"/><stop offset="0.655" stop-color="#4559cb"/><stop offset="0.674" stop-color="#4456c7"/><stop offset="1" stop-color="#4454c3"/></linearGradient>
<linearGradient id="i48" x1="0" y1="0" x2="0" y2="1"><stop offset="0" stop-color="#e1dd37"/><stop offset="0.043" stop-color="#dfdf37"/><stop offset="0.064" stop-color="#dde037"/><stop offset="0.085" stop-color="#bcf534"/><stop offset="0.106" stop-color="#a9fb39"/><stop offset="0.128" stop-color="#9cfe40"/><stop offset="0.149" stop-color="#84ff51"/><stop offset="0.17" stop-color="#4ef97d"/><stop offset="0.191" stop-color="#27eea4"/><stop offset="0.213" stop-color="#1ccdd8"/><stop offset="0.234" stop-color="#28bceb"/><stop offset="0.34" stop-color="#38a5fb"/><stop offset="0.447" stop-color="#458afc"/><stop offset="0.553" stop-color="#476ee6"/><stop offset="0.638" stop-color="#455ed3"/><stop offset="0.655" stop-color="#4559cb"/><stop offset="0.674" stop-color="#4456c7"/><stop offset="1" stop-color="#4454c3"/></linearGradient>
<linearGradient id="i49" x1="0" y1="0" x2="0" y2="1"><stop offset="0" stop-color="#e1dd37"/><stop offset="0.043" stop-color="#e1dd37"/><stop offset="0.064" stop-color="#dfdf37"/><stop offset="0.085" stop-color="#bcf534"/><stop offset="0.106" stop-color="#a9fb39"/><stop offset="0.128" stop-color="#9ffd3f"/><stop offset="0.149" stop-color="#88ff4e"/><stop offset="0.17" stop-color="#52fa7a"/><stop offset="0.191" stop-color="#27eea4"/><stop offset="0.213" stop-color="#1ccdd8"/><stop offset="0.234" stop-color="#28bceb"/><stop offset="0.34" stop-color="#38a5fb"/><stop offset="0.447" stop-color="#458afc"/><stop offset="0.553" stop-color="#476ee6"/><stop offset="0.638" stop-color="#455ed3"/><stop offset="0.655" stop-color="#4559cb"/><stop offset="0.674" stop-color="#4456c7"/><stop offset="1" stop-color="#4454c3"/></linearGradient>
<linearGradient id="i50" x1="0" y1="0" x2="0" y2="1"><stop offset="0" stop-color="#dfdf37"/><stop offset="0.043" stop-color="#dfdf37"/><stop offset="0.064" stop-color="#dde037"/><stop offset="0.085" stop-color="#bcf534"/><stop offset="0.106" stop-color="#a9fb39"/><stop offset="0.128" stop-color="#9cfe40"/><stop offset="0.149" stop-color="#84ff51"/><stop offset="0.17" stop-color="#4ef97d"/><stop offset="0.191" stop-color="#27eea4"/><stop offset="0.213" stop-color="#1ccdd8"/><stop offset="0.234" stop-color="#28bceb"/><stop offset="0.34" stop-color="#38a5fb"/><stop offset="0.447" stop-color="#458afc"/><stop offset="0.553" stop-color="#476ee6"/><stop offset="0.638" stop-color="#455ed3"/><stop offset="0.655" stop-color="#4559cb"/><stop offset="0.674" stop-color="#4456c7"/><stop offset="1" stop-color="#4454c3"/></linearGradient>
<linearGradient id="i51" x1="0" y1="0" x2="0" y2="1"><stop offset="0" stop-color="#dde037"/><stop offset="0.043" stop-color="#dbe236"/><stop offset="0.064" stop-color="#dbe236"/><stop offset="0.085" stop-color="#b7f735"/><stop offset="0.106" stop-color="#a7fc3a"/><stop offset="0.128" stop-color="#99fe42"/><stop offset="0.149" stop-color="#80ff53"/><stop offset="0.17" stop-color="#4ef97d"/><stop offset="0.191" stop-color="#25eca7"/><stop offset="0.213" stop-color="#1ccdd8"/><stop offset="0.234" stop-color="#28bceb"/><stop offset="0.34" stop-color="#38a5fb"/><stop offset="0.447" stop-color="#458afc"/><stop offset="0.553" stop-color="#476ee6"/><stop offset="0.638" stop-color="#455ed3"/><stop offset="0.655" stop-color="#4559cb"/><stop offset="0.674" stop-color="#4456c7"/><stop offset="1" stop-color="#4454c3"/></linearGradient>
<linearGradient id="i52" x1="0" y1="0" x2="0" y2="1"><stop offset="0" stop-color="#dfdf37"/><stop offset="0.043" stop-color="#dde037"/><stop offset="0.064" stop-color="#dbe236"/><stop offset="0.085" stop-color="#b9f635"/><stop offset="0.106" stop-color="#a7fc3a"/><stop offset="0.128" stop-color="#99fe42"/><stop offset="0.149" stop-color="#84ff51"/><stop offset="0.17" stop-color="#4ef97d"/><stop offset="0.191" stop-color="#27eea4"/><stop offset="0.213" stop-color="#1bd0d5"/><stop offset="0.234" stop-color="#28bceb"/><stop offset="0.34" stop-color="#38a5fb"/><stop offset="0.447" stop-color="#4687fb"/><stop offset="0.553" stop-color="#476ee6"/><stop offset="0.638" stop-color="#455ed3"/><stop offset="0.655" stop-color="#4559cb"/><stop offset="0.674" stop-color="#4456c7"/><stop offset="1" stop-color="#4454c3"/></linearGradient>
<linearGradient id="i53" x1="0" y1="0" x2="0" y2="1"><stop offset="0" stop-color="#e3db38"/><stop offset="0.043" stop-color="#e1dd37"/><stop offset="0.064" stop-color="#dfdf37"/><stop offset="0.085" stop-color="#bef434"/><stop offset="0.106" stop-color="#acfb38"/><stop offset="0.128" stop-color="#9ffd3f"/><stop offset="0.149" stop-color="#88ff4e"/><stop offset="0.17" stop-color="#55fa76"/><stop offset="0.191" stop-color="#2aefa1"/><stop offset="0.213" stop-color="#1ad2d2"/><stop offset="0.234" stop-color="#27bee9"/><stop offset="0.34" stop-color="#3aa3fc"/><stop offset="0.447" stop-color="#4687fb"/><stop offset="0.553" stop-color="#476ee6"/><stop offset="0.638" stop-color="#455ed3"/><stop offset="0.655" stop-color="#4559cb"/><stop offset="0.674" stop-color="#4456c7"/><stop offset="1" stop-color="#4454c3"/></linearGradient>
<linearGradient id="i54" x1="0" y1="0" x2="0" y2="1"><stop offset="0" stop-color="#e7d739"/><stop offset="0.043" stop-color="#e5d938"/><stop offset="0.064" stop-color="#e3db38"/><stop offset="0.085" stop-color="#c1f334"/><stop offset="0.106" stop-color="#affa37"/><stop offset="0.128" stop-color="#a1fd3d"/><stop offset="0.149" stop-color="#8fff49"/><stop offset="0.17" stop-color="#59fb73"/><stop offset="0.191" stop-color="#2cf09e"/><stop offset="0.213" stop-color="#1ad4d0"/><stop offset="0.234" stop-color="#25c0e7"/><stop offset="0.34" stop-color="#3aa3fc"/><stop offset="0.447" stop-color="#4687fb"/><stop offset="0.553" stop-color="#476ee6"/><stop offset="0.638" stop-color="#455ed3"/><stop offset="0.655" stop-color="#4559cb"/><stop offset="0.674" stop-color="#4456c7"/><stop offset="1" stop-color="#4454c3"/></linearGradient>
<linearGradient id="i55" x1="0" y1="0" x2="0" y2="1"><stop offset="0" stop-color="#ebd339"/><stop offset="0.043" stop-color="#e9d539"/><stop offset="0.064" stop-color="#e7d739"/><stop offset="0.085" stop-color="#c6f034"/><stop offset="0.106" stop-color="#b4f836"/><stop offset="0.128" stop-color="#a7fc3a"/><stop offset="0.149" stop-color="#92ff47"/><stop offset="0.17" stop-color="#5dfc6f"/><stop offset="0.191" stop-color="#32f298"/><stop offset="0.213" stop-color="#19d5cd"/><stop offset="0.234" stop-color="#23c3e4"/><stop offset="0.34" stop-color="#3aa3fc"/><stop offset="0.447" stop-color="#4687fb"/><stop offset="0.553" stop-color="#476ee6"/><stop offset="0.638" stop-color="#455ed3"/><stop offset="0.655" stop-color="#4559cb"/><stop offset="0.674" stop-color="#4456c7"/><stop offset="1" stop-color="#4454c3"/></linearGradient>
<linearGradient id="i56" x1="0" y1="0" x2="0" y2="1"><stop offset="0" stop-color="#ecd13a"/><stop offset="0.043" stop-color="#ebd339"/><stop offset="0.064" stop-color="#e9d539"/><stop offset="0.085" stop-color="#c8ef34"/><stop offset="0.106" stop-color="#b7f735"/><stop offset="0.128" stop-color="#a9fb39"/><stop offset="0.149" stop-color="#96fe44"/><stop offset="0.17" stop-color="#61fc6c"/><stop offset="0.191" stop-color="#35f394"/><stop offset="0.213" stop-color="#18d7ca"/><stop offset="0.234" stop-color="#22c5e2"/><stop offset="0.34" stop-color="#3aa3fc"/><stop offset="0.447" stop-color="#4687fb"/><stop offset="0.553" stop-color="#476ee6"/><stop offset="0.638" stop-color="#455ed3"/><stop offset="0.655" stop-color="#4559cb"/><stop offset="0.674" stop-color="#4456c7"/><stop offset="1" stop-color="#4454c3"/></linearGradient>
<linearGradient id="i57" x1="0" y1="0" x2="0" y2="1"><stop offset="0" stop-color="#ebd339"/><stop offset="0.043" stop-color="#e9d539"/><stop offset="0.064" stop-color="#e7d739"/><stop offset="0.085" stop-color="#c6f034"/><stop offset="0.106" stop-color="#b4f836"/><stop offset="0.128" stop-color="#a7fc3a"/><stop offset="0.149" stop-color="#92ff47"/><stop offset="0.17" stop-color="#61fc6c"/><stop offset="0.191" stop-color="#32f298"/><stop offset="0.213" stop-color="#18d7ca"/><stop offset="0.234" stop-color="#22c5e2"/><stop offset="0.34" stop-color="#3aa3fc"/><stop offset="0.447" stop-color="#4687fb"/><stop offset="0.553" stop-color="#476ee6"/><stop offset="0.638" stop-color="#455ed3"/><stop offset="0.655" stop-color="#4559cb"/><stop offset="0.674" stop-color="#4456c7"/><stop offset="1" stop-color="#4454c3"/></linearGradient>
<linearGradient id="i58" x1="0" y1="0" x2="0" y2="1"><stop offset="0" stop-color="#e7d739"/><stop offset="0.043" stop-color="#e7d739"/><stop offset="0.064" stop-color="#e5d938"/><stop offset="0.085" stop-color="#c3f134"/><stop offset="0.106" stop-color="#b1f936"/><stop offset="0.128" stop-color="#a4fc3c"/><stop offset="0.149" stop-color="#8fff49"/><stop offset="0.17" stop-color="#5dfc6f"/><stop offset="0.191" stop-color="#32f298"/><stop offset="0.213" stop-color="#19d5cd"/><stop offset="0.234" stop-color="#23c3e4"/><stop offset="0.34" stop-color="#3aa3fc"/><stop offset="0.447" stop-color="#4687fb"/><stop offset="0.553" stop-color="#476ee6"/><stop offset="0.638" stop-color="#455ed3"/><stop offset="0.655" stop-color="#4559cb"/><stop offset="0.674" stop-color="#4456c7"/><stop offset="1" stop-color="#4454c3"/></linearGradient>
<linearGradient id="i59" x1="0" y1="0" x2="0" y2="1"><stop offset="0" stop-color="#e7d739"/><stop offset="0.043" stop-color="#e5d938"/><stop offset="0.064" stop-color="#e5d938"/><stop offset="0.085" stop-color="#c3f134"/><stop offset="0.106" stop-color="#b1f936"/><stop offset="0.128" stop-color="#a4fc3c"/><stop offset="0.149" stop-color="#8fff49"/><stop offset="0.17" stop-color="#5dfc6f"/><stop offset="0.191" stop-color="#32f298"/><stop offset="0.213" stop-color="#19d5cd"/><stop offset="0.234" stop-color="#23c3e4"/><stop offset="0.34" stop-color="#3aa3fc"/><stop offset="0.447" stop-color="#4687fb"/><stop offset="0.553" stop-color="#476ee6"/><stop offset="0.638" stop-color="#455ed3"/><stop offset="0.655" stop-color="#4559cb"/><stop offset="0.674" stop-color="#4456c7"/><stop offset="1" stop-color="#4454c3"/></linearGradient>
<linearGradient id="i60" x1="0" y1="0" x2="0" y2="1"><stop offset="0" stop-color="#e9d539"/><stop offset="0.043" stop-color="#e7d739"/><stop offset="0.064" stop-color="#e7d739"/><stop offset="0.085" stop-color="#c6f034"/><stop offset="0.106" stop-color="#b1f936"/><stop offset="0.128" stop-color="#a4fc3c"/><stop offset="0.149" stop-color="#92ff47"/><stop offset="0.17" stop-color="#61fc6c"/><stop offset="0.191" stop-color="#35f394"/><stop offset="0.213" stop-color="#18d9c8"/><stop offset="0.234" stop-color="#20c7df"/><stop offset="0.34" stop-color="#3aa3fc"/><stop offset="0.447" stop-color="#4687fb"/><stop offset="0.553" stop-color="#466be3"/><stop offset="0.638" stop-color="#455ed3"/><stop offset="0.655" stop-color="#4559cb"/><stop offset="0.674" stop-color="#4456c7"/><stop offset="1" stop-color="#4454c3"/></linearGradient>
<linearGradient id="i61" x1="0" y1="0" x2="0" y2="1"><stop offset="0" stop-color="#ecd13a"/><stop offset="0.043" stop-color="#ebd339"/><stop offset="0.064" stop-color="#e9d539"/><stop offset="0.085" stop-color="#c8ef34"/><stop offset="0.106" stop-color="#b7f735"/><stop offset="0.128" stop-color="#a9fb39"/><stop offset="0.149" stop-color="#96fe44"/><stop offset="0.17" stop-color="#6dfe62"/><stop offset="0.191" stop-color="#3ff68a"/><stop offset="0.213" stop-color="#18dec0"/><stop offset="0.234" stop-color="#1ecbda"/><stop offset="0.34" stop-color="#3ba0fd"/><stop offset="0.447" stop-color="#4687fb"/><stop offset="0.553" stop-color="#466be3"/><stop offset="0.638" stop-color="#455ed3"/><stop offset="0.655" stop-color="#4559cb"/><stop offset="0.674" stop-color="#4456c7"/><stop offset="1" stop-color="#4454c3"/></linearGradient>
<linearGradient id="i62" x1="0" y1="0" x2="0" y2="1"><stop offset="0" stop-color="#efcd3a"/><stop offset="0.043" stop-color="#efcd3a"/><stop offset="0.064" stop-color="#eecf3a"/><stop offset="0.085" stop-color="#cdec34"/><stop offset="0.106" stop-color="#bcf534"/><stop offset="0.128" stop-color="#affa37"/><stop offset="0.149" stop-color="#9cfe40"/><stop offset="0.17" stop-color="#75fe5c"/><stop offset="0.191" stop-color="#4af880"/><stop offset="0.213" stop-color="#19e3b9"/><stop offset="0.234" stop-color="#1ad2d2"/><stop offset="0.34" stop-color="#3ba0fd"/><stop offset="0.447" stop-color="#4687fb"/><stop offset="0.553" stop-color="#466be3"/><stop offset="0.638" stop-color="#455ed3"/><stop offset="0.655" stop-color="#4559cb"/><stop offset="0.674" stop-color="#4456c7"/><stop offset="1" stop-color="#4454c3"/></linearGradient>
<linearGradient id="i63" x1="0" y1="0" x2="0" y2="1"><stop offset="0" stop-color="#f2c93a"/><stop offset="0.043" stop-color="#f1cb3a"/><stop offset="0.064" stop-color="#efcd3a"/><stop offset="0.085" stop-color="#d2e935"/><stop offset="0.106" stop-color="#c1f334"/><stop offset="0.128" stop-color="#b1f936"/><stop offset="0.149" stop-color="#9ffd3f"/><stop offset="0.17" stop-color="#7dff56"/><stop offset="0.191" stop-color="#52fa7a"/><stop offset="0.213" stop-color="#1ce6b4"/><stop offset="0.234" stop-color="#19d5cd"/><stop offset="0.34" stop-color="#3ba0fd"/><stop offset="0.447" stop-color="#4685fa"/><stop offset="0.553" stop-color="#466be3"/><stop offset="0.638" stop-color="#455ed3"/><stop offset="0.655" stop-color="#4559cb"/><stop offset="0.674" stop-color="#4456c7"/><stop offset="1" stop-color="#4454c3"/></linearGradient>
<linearGradient id="i64" x1="0" y1="0" x2="0" y2="1"><stop offset="0" stop-color="#f4c73a"/><stop offset="0.043" stop-color="#f2c93a"/><stop offset="0.064" stop-color="#f1cb3a"/><stop offset="0.085" stop-color="#d4e735"/><stop offset="0.106" stop-color="#c1f334"/><stop offset="0.128" stop-color="#b4f836"/><stop offset="0.149" stop-color="#a1fd3d"/><stop offset="0.17" stop-color="#80ff53"/><stop offset="0.191" stop-color="#52fa7a"/><stop offset="0.213" stop-color="#1de7b2"/><stop offset="0.234" stop-color="#18d7ca"/><stop offset="0.34" stop-color="#3ba0fd"/><stop offset="0.447" stop-color="#4685fa"/><stop offset="0.553" stop-color="#466be3"/><stop offset="0.638" stop-color="#455ed3"/><stop offset="0.655" stop-color="#4559cb"/><stop offset="0.674" stop-color="#4456c7"/><stop offset="1" stop-color="#4454c3"/></linearGradient>
<linearGradient id="i65" x1="0" y1="0" x2="0" y2="1"><stop offset="0" stop-color="#f4c73a"/><stop offset="0.043" stop-color="#f2c93a"/><stop offset="0.064" stop-color="#f1cb3a"/><stop offset="0.085" stop-color="#d4e735"/><stop offset="0.106" stop-color="#c1f334"/><stop offset="0.128" stop-color="#b4f836"/><stop offset="0.149" stop-color="#a1fd3d"/><stop offset="0.17" stop-color="#80ff53"/><stop offset="0.191" stop-color="#52fa7a"/><stop offset="0.213" stop-color="#1de7b2"/><stop offset="0.234" stop-color="#18d7ca"/><stop offset="0.34" stop-color="#3ba0fd"/><stop offset="0.447" stop-color="#4685fa"/><stop offset="0.553" stop-color="#466be3"/><stop offset="0.638" stop-color="#455ed3"/><stop offset="0.655" stop-color="#4559cb"/><stop offset="0.674" stop-color="#4456c7"/><stop offset="1" stop-color="#4454c3"/></linearGradient>
<linearGradient id="i66" x1="0" y1="0" x2="0" y2="1"><stop offset="0" stop-color="#f4c73a"/><stop offset="0.043" stop-color="#f2c93a"/><stop offset="0.064" stop-color="#f1cb3a"/><stop offset="0.085" stop-color="#d4e735"/><stop offset="0.106" stop-color="#c1f334"/><stop offset="0.128" stop-color="#b4f836"/><stop offset="0.149" stop-color="#a1fd3d"/><stop offset="0.17" stop-color="#80ff53"/><stop offset="0.191" stop-color="#55fa76"/><stop offset="0.213" stop-color="#1de7b2"/><stop offset="0.234" stop-color="#18d7ca"/><stop offset="0.34" stop-color="#3ba0fd"/><stop offset="0.447" stop-color="#4685fa"/><stop offset="0.553" stop-color="#466be3"/><stop offset="0.638" stop-color="#455ed3"/><stop offset="0.655" stop-color="#4559cb"/><stop offset="0.674" stop-color="#4456c7"/><stop offset="1" stop-color="#4454c3"/></linearGradient>
<linearGradient id="i67" x1="0" y1="0" x2="0" y2="1"><stop offset="0" stop-color="#f5c53a"/><stop offset="0.043" stop-color="#f4c73a"/><stop offset="0.064" stop-color="#f2c93a"/><stop offset="0.085" stop-color="#d7e535"/><stop offset="0.106" stop-color="#c3f134"/><stop offset="0.128" stop-color="#b7f735"/><stop offset="0.149" stop-color="#a4fc3c"/><stop offset="0.17" stop-color="#84ff51"/><stop offset="0.191" stop-color="#55fa76"/><stop offset="0.213" stop-color="#1de7b2"/><stop offset="0.234" stop-color="#18d7ca"/><stop offset="0.34" stop-color="#3ba0fd"/><stop offset="0.447" stop-color="#4685fa"/><stop offset="0.553" stop-color="#466be3"/><stop offset="0.638" stop-color="#455ccf"/><stop offset="0.655" stop-color="#4559cb"/><stop offset="0.674" stop-color="#4456c7"/><stop offset="1" stop-color="#4454c3"/></linearGradient>
<linearGradient id="i68" x1="0" y1="0" x2="0" y2="1"><stop offset="0" stop-color="#f2c93a"/><stop offset="0.043" stop-color="#f2c93a"/><stop offset="0.064" stop-color="#f1cb3a"/><stop offset="0.085" stop-color="#d2e935"/><stop offset="0.106" stop-color="#c1f334"/><stop offset="0.128" stop-color="#b4f836"/><stop offset="0.149" stop-color="#a1fd3d"/><stop offset="0.17" stop-color="#80ff53"/><stop offset="0.191" stop-color="#52fa7a"/><stop offset="0.213" stop-color="#1de7b2"/><stop offset="0.234" stop-color="#18d7ca"/><stop offset="0.34" stop-color="#3ba0fd"/><stop offset="0.447" stop-color="#4685fa"/><stop offset="0.553" stop-color="#466be3"/><stop offset="0.638" stop-color="#455ccf"/><stop offset="0.655" stop-color="#4559cb"/><stop offset="0.674" stop-color="#4456c7"/><stop offset="1" stop-color="#4454c3"/></linearGradient>
<linearGradient id="i69" x1="0" y1="0" x2="0" y2="1"><stop offset="0" stop-color="#efcd3a"/><stop offset="0.043" stop-color="#eecf3a"/><stop offset="0.064" stop-color="#ecd13a"/><stop offset="0.085" stop-color="#cdec34"/><stop offset="0.106" stop-color="#bcf534"/><stop offset="0.128" stop-color="#affa37"/><stop offset="0.149" stop-color="#9cfe40"/><stop offset="0.17" stop-color="#79fe59"/><stop offset="0.191" stop-color="#4ef97d"/><stop offset="0.213" stop-color="#1de7b2"/><stop offset="0.234" stop-color="#19d5cd"/><stop offset="0.34" stop-color="#3ba0fd"/><stop offset="0.447" stop-color="#4685fa"/><stop offset="0.553" stop-color="#466be3"/><stop offset="0.638" stop-color="#455ed3"/><stop offset="0.655" stop-color="#4559cb"/><stop offset="0.674" stop-color="#4456c7"/><stop offset="1" stop-color="#4454c3"/></linearGradient>
<linearGradient id="i70" x1="0" y1="0" x2="0" y2="1"><stop offset="0" stop-color="#efcd3a"/><stop offset="0.043" stop-color="#eecf3a"/><stop offset="0.064" stop-color="#ecd13a"/><stop offset="0.085" stop-color="#cdec34"/><stop offset="0.106" stop-color="#bcf534"/><stop offset="0.128" stop-color="#acfb38"/><stop offset="0.149" stop-color="#9cfe40"/><stop offset="0.17" stop-color="#7dff56"/><stop offset="0.191" stop-color="#4ef97d"/><stop offset="0.213" stop-color="#1de7b2"/><stop offset="0.234" stop-color="#18d7ca"/><stop offset="0.34" stop-color="#3ba0fd"/><stop offset="0.447" stop-color="#4685fa"/><stop offset="0.553" stop-color="#466be3"/><stop offset="0.638" stop-color="#455ed3"/><stop offset="0.655" stop-color="#4559cb"/><stop offset="0.674" stop-color="#4456c7"/><stop offset="1" stop-color="#4454c3"/></linearGradient>
<linearGradient id="i71" x1="0" y1="0" x2="0" y2="1"><stop offset="0" stop-color="#f2c93a"/><stop offset="0.043" stop-color="#f1cb3a"/><stop offset="0.064" stop-color="#f1cb3a"/><stop offset="0.085" stop-color="#d2e935"/><stop offset="0.106" stop-color="#c1f334"/><stop offset="0.128" stop-color="#b4f836"/><stop offset="0.149" stop-color="#a1fd3d"/><stop offset="0.17" stop-color="#80ff53"/><stop offset="0.191" stop-color="#55fa76"/><stop offset="0.213" stop-color="#1fe9af"/><stop offset="0.234" stop-color="#18d9c8"/><stop offset="0.34" stop-color="#3ba0fd"/><stop offset="0.447" stop-color="#4685fa"/><stop offset="0.553" stop-color="#466be3"/><stop offset="0.638" stop-color="#455ed3"/><stop offset="0.655" stop-color="#4559cb"/><stop offset="0.674" stop-color="#4456c7"/><stop offset="1" stop-color="#4454c3"/></linearGradient>
<linearGradient id="i72" x1="0" y1="0" x2="0" y2="1"><stop offset="0" stop-color="#f6c33a"/><stop offset="0.043" stop-color="#f5c53a"/><stop offset="0.064" stop-color="#f5c53a"/><stop offset="0.085" stop-color="#d9e436"/><stop offset="0.106" stop-color="#c6f034"/><stop offset="0.128" stop-color="#b9f635"/><stop offset="0.149" stop-color="#a7fc3a"/><stop offset="0.17" stop-color="#88ff4e"/><stop offset="0.191" stop-color="#59fb73"/><stop offset="0.213" stop-color="#20eaac"/><stop offset="0.234" stop-color="#18d9c8"/><stop offset="0.34" stop-color="#3ba0fd"/><stop offset="0.447" stop-color="#4685fa"/><stop offset="0.553" stop-color="#466be3"/><stop offset="0.638" stop-color="#455ed3"/><stop offset="0.655" stop-color="#4559cb"/><stop offset="0.674" stop-color="#4456c7"/><stop offset="1" stop-color="#4454c3"/></linearGradient>
<linearGradient id="i73" x1="0" y1="0" x2="0" y2="1"><stop offset="0" stop-color="#f8be39"/><stop offset="0.043" stop-color="#f8be39"/><stop offset="0.064" stop-color="#f7c13a"/><stop offset="0.085" stop-color="#dde037"/><stop offset="0.106" stop-color="#cbed34"/><stop offset="0.128" stop-color="#bef434"/><stop offset="0.149" stop-color="#acfb38"/><stop offset="0.17" stop-color="#8fff49"/><stop offset="0.191" stop-color="#61fc6c"/><stop offset="0.213" stop-color="#22ebaa"/><stop offset="0.234" stop-color="#18dbc5"/><stop offset="0.34" stop-color="#3ba0fd"/><stop offset="0.447" stop-color="#4685fa"/><stop offset="0.553" stop-color="#466be3"/><stop offset="0.638" stop-color="#455ed3"/><stop offset="0.655" stop-color="#4559cb"/><stop offset="0.674" stop-color="#4456c7"/><stop offset="1" stop-color="#4454c3"/></linearGradient>
<linearGradient id="i74" x1="0" y1="0" x2="0" y2="1"><stop offset="0" stop-color="#f9bc39"/><stop offset="0.043" stop-color="#f8be39"/><stop offset="0.064" stop-color="#f7c13a"/><stop offset="0.085" stop-color="#dde037"/><stop offset="0.106" stop-color="#cdec34"/><stop offset="0.128" stop-color="#bef434"/><stop offset="0.149" stop-color="#acfb38"/><stop offset="0.17" stop-color="#8fff49"/><stop offset="0.191" stop-color="#61fc6c"/><stop offset="0.213" stop-color="#25eca7"/><stop offset="0.234" stop-color="#18ddc2"/><stop offset="0.34" stop-color="#3ba0fd"/><stop offset="0.447" stop-color="#4685fa"/><stop offset="0.553" stop-color="#466be3"/><stop offset="0.638" stop-color="#455ed3"/><stop offset="0.655" stop-color="#4559cb"/><stop offset="0.674" stop-color="#4456c7"/><stop offset="1" stop-color="#4454c3"/></linearGradient>
<linearGradient id="i75" x1="0" y1="0" x2="0" y2="1"><stop offset="0" stop-color="#f9bc39"/><stop offset="0.043" stop-color="#f8be39"/><stop offset="0.064" stop-color="#f7c13a"/><stop offset="0.085" stop-color="#dde037"/><stop offset="0.106" stop-color="#cdec34"/><stop offset="0.128" stop-color="#bef434"/><stop offset="0.149" stop-color="#acfb38"/><stop offset="0.17" stop-color="#8fff49"/><stop offset="0.191" stop-color="#61fc6c"/><stop offset="0.213" stop-color="#25eca7"/><stop offset="0.234" stop-color="#18ddc2"/><stop offset="0.34" stop-color="#3ba0fd"/><stop offset="0.447" stop-color="#4685fa"/><stop offset="0.553" stop-color="#466be3"/><stop offset="0.638" stop-color="#455ed3"/><stop offset="0.655" stop-color="#4559cb"/><stop offset="0.674" stop-color="#4456c7"/><stop offset="1" stop-color="#4454c3"/></linearGradient>
<linearGradient id="i76" x1="0" y1="0" x2="0" y2="1"><stop offset="0" stop-color="#faba39"/><stop offset="0.043" stop-color="#faba39"/><stop offset="0.064" stop-color="#f9bc39"/><stop offset="0.085" stop-color="#e1dd37"/><stop offset="0.106" stop-color="#d0ea34"/><stop offset="0.128" stop-color="#c1f334"/><stop offset="0.149" stop-color="#affa37"/><stop offset="0.17" stop-color="#92ff47"/><stop offset="0.191" stop-color="#65fd69"/><stop offset="0.213" stop-color="#25eca7"/><stop offset="0.234" stop-color="#18ddc2"/><stop offset="0.34" stop-color="#3aa3fc"/><stop offset="0.447" stop-color="#4685fa"/><stop offset="0.553" stop-color="#466be3"/><stop offset="0.638" stop-color="#455ed3"/><stop offset="0.655" stop-color="#4559cb"/><stop offset="0.674" stop-color="#4456c7"/><stop offset="1" stop-color="#4454c3"/></linearGradient>
<linearGradient id="i77" x1="0" y1="0" x2="0" y2="1"><stop offset="0" stop-color="#fbb838"/><stop offset="0.043" stop-color="#fbb838"/><stop offset="0.064" stop-color="#faba39"/><stop offset="0.085" stop-color="#e3db38"/><stop offset="0.106" stop-color="#d2e935"/><stop offset="0.128" stop-color="#c3f134"/><stop offset="0.149" stop-color="#b1f936"/><stop offset="0.17" stop-color="#96fe44"/><stop offset="0.191" stop-color="#65fd69"/><stop offset="0.213" stop-color="#25eca7"/><stop offset="0.234" stop-color="#18ddc2"/><stop offset="0.34" stop-color="#3aa3fc"/><stop offset="0.447" stop-color="#4685fa"/><stop offset="0.553" stop-color="#466be3"/><stop offset="0.638" stop-color="#455ed3"/><stop offset="0.655" stop-color="#4559cb"/><stop offset="0.674" stop-color="#4456c7"/><stop offset="1" stop-color="#4454c3"/></linearGradient>
<linearGradient id="i78" x1="0" y1="0" x2="0" y2="1"><stop offset="0" stop-color="#fbb838"/><stop offset="0.043" stop-color="#faba39"/><stop offset="0.064" stop-color="#f9bc39"/><stop offset="0.085" stop-color="#e1dd37"/><stop offset="0.106" stop-color="#d0ea34"/><stop offset="0.128" stop-color="#c3f134"/><stop offset="0.149" stop-color="#b1f936"/><stop offset="0.17" stop-color="#92ff47"/><stop offset="0.191" stop-color="#65fd69"/><stop offset="0.213" stop-color="#25eca7"/><stop offset="0.234" stop-color="#18ddc2"/><stop offset="0.34" stop-color="#3aa3fc"/><stop offset="0.447" stop-color="#4687fb"/><stop offset="0.553" stop-color="#466be3"/><stop offset="0.638" stop-color="#455ed3"/><stop offset="0.655" stop-color="#4559cb"/><stop offset="0.674" stop-color="#4456c7"/><stop offset="1" stop-color="#4454c3"/></linearGradient>
<linearGradient id="i79" x1="0" y1="0" x2="0" y2="1"><stop offset="0" stop-color="#f9bc39"/><stop offset="0.043" stop-color="#f9bc39"/><stop offset="0.064" stop-color="#f8be39"/><stop offset="0.085" stop-color="#dfdf37"/><stop offset="0.106" stop-color="#cdec34"/><stop offset="0.128" stop-color="#c1f334"/><stop offset="0.149" stop-color="#acfb38"/><stop offset="0.17" stop-color="#8fff49"/><stop offset="0.191" stop-color="#61fc6c"/><stop offset="0.213" stop-color="#25eca7"/><stop offset="0.234" stop-color="#18ddc2"/><stop offset="0.34" stop-color="#3aa3fc"/><stop offset="0.447" stop-color="#4687fb"/><stop offset="0.553" stop-color="#466be3"/><stop offset="0.638" stop-color="#455ed3"/><stop offset="0.655" stop-color="#4559cb"/><stop offset="0.674" stop-color="#4456c7"/><stop offset="1" stop-color="#4454c3"/></linearGradient>
<linearGradient id="i80" x1="0" y1="0" x2="0" y2="1"><stop offset="0" stop-color="#f7c13a"/><stop offset="0.043" stop-color="#f7c13a"/><stop offset="0.064" stop-color="#f6c33a"/><stop offset="0.085" stop-color="#dbe236"/><stop offset="0.106" stop-color="#c8ef34"/><stop offset="0.128" stop-color="#bcf534"/><stop offset="0.149" stop-color="#a9fb39"/><stop offset="0.17" stop-color="#8bff4b"/><stop offset="0.191" stop-color="#61fc6c"/><stop offset="0.213" stop-color="#22ebaa"/><stop offset="0.234" stop-color="#18dbc5"/><stop offset="0.34" stop-color="#3aa3fc"/><stop offset="0.447" stop-color="#4687fb"/><stop offset="0.553" stop-color="#466be3"/><stop offset="0.638" stop-color="#455ed3"/><stop offset="0.655" stop-color="#4559cb"/><stop offset="0.674" stop-color="#4456c7"/><stop offset="1" stop-color="#4454c3"/></linearGradient>
<linearGradient id="i81" x1="0" y1="0" x2="0" y2="1"><stop offset="0" stop-color="#f6c33a"/><stop offset="0.043" stop-color="#f5c53a"/><stop offset="0.064" stop-color="#f4c73a"/><stop offset="0.085" stop-color="#d9e436"/><stop offset="0.106" stop-color="#c6f034"/><stop offset="0.128" stop-color="#b9f635"/><stop offset="0.149" stop-color="#a7fc3a"/><stop offset="0.17" stop-color="#88ff4e"/><stop offset="0.191" stop-color="#5dfc6f"/><stop offset="0.213" stop-color="#22ebaa"/><stop offset="0.234" stop-color="#18dbc5"/><stop offset="0.34" stop-color="#3aa3fc"/><stop offset="0.447" stop-color="#4687fb"/><stop offset="0.553" stop-color="#466be3"/><stop offset="0.638" stop-color="#455ed3"/><stop offset="0.655" stop-color="#4559cb"/><stop offset="0.674" stop-color="#4456c7"/><stop offset="1" stop-color="#4454c3"/></linearGradient>
<linearGradient id="i82" x1="0" y1="0" x2="0" y2="1"><stop offset="0" stop-color="#f5c53a"/><stop offset="0.043" stop-color="#f5c53a"/><stop offset="0.064" stop-color="#f4c73a"/><stop offset="0.085" stop-color="#d7e535"/><stop offset="0.106" stop-color="#c6f034"/><stop offset="0.128" stop-color="#b7f735"/><stop offset="0.149" stop-color="#a4fc3c"/><stop offset="0.17" stop-color="#88ff4e"/><stop offset="0.191" stop-color="#59fb73"/><stop offset="0.213" stop-color="#20eaac"/><stop offset="0.234" stop-color="#18dbc5"/><stop offset="0.34" stop-color="#3aa3fc"/><stop offset="0.447" stop-color="#4687fb"/><stop offset="0.553" stop-color="#476ee6"/><stop offset="0.638" stop-color="#455ed3"/><stop offset="0.655" stop-color="#4559cb"/><stop offset="0.674" stop-color="#4456c7"/><stop offset="1" stop-color="#4454c3"/></linearGradient>
<linearGradient id="i83" x1="0" y1="0" x2="0" y2="1"><stop offset="0" stop-color="#f6c33a"/><stop offset="0.043" stop-color="#f6c33a"/><stop offset="0.064" stop-color="#f5c53a"/><stop offset="0.085" stop-color="#d9e436"/><stop offset="0.106" stop-color="#c6f034"/><stop offset="0.128" stop-color="#b9f635"/><stop offset="0.149" stop-color="#a7fc3a"/><stop offset="0.17" stop-color="#88ff4e"/><stop offset="0.191" stop-color="#5dfc6f"/><stop offset="0.213" stop-color="#20eaac"/><stop offset="0.234" stop-color="#18dbc5"/><stop offset="0.34" stop-color="#3aa3fc"/><stop offset="0.447" stop-color="#4687fb"/><stop offset="0.553" stop-color="#476ee6"/><stop offset="0.638" stop-color="#455ed3"/><stop offset="0.655" stop-color="#4559cb"/><stop offset="0.674" stop-color="#4456c7"/><stop offset="1" stop-color="#4454c3"/></linearGradient>
<linearGradient id="i84" x1="0" y1="0" x2="0" y2="1"><stop offset="0" stop-color="#f7c13a"/><stop offset="0.043" stop-color="#f7c13a"/><stop offset="0.064" stop-color="#f6c33a"/><stop offset="0.085" stop-color="#dbe236"/><stop offset="0.106" stop-color="#c8ef34"/><stop offset="0.128" stop-color="#bcf534"/><stop offset="0.149" stop-color="#a9fb39"/><stop offset="0.17" stop-color="#8bff4b"/><stop offset="0.191" stop-color="#5dfc6f"/><stop offset="0.213" stop-color="#22ebaa"/><stop offset="0.234" stop-color="#18dbc5"/><stop offset="0.34" stop-color="#3aa3fc"/><stop offset="0.447" stop-color="#4687fb"/><stop offset="0.553" stop-color="#476ee6"/><stop offset="0.638" stop-color="#455ed3"/><stop offset="0.655" stop-color="#4559cb"/><stop offset="0.674" stop-color="#4456c7"/><stop offset="1" stop-color="#4454c3"/></linearGradient>
<linearGradient id="i85" x1="0" y1="0" x2="0" y2="1"><stop offset="0" stop-color="#f8be39"/><stop offset="0.043" stop-color="#f7c13a"/><stop offset="0.064" stop-color="#f6c33a"/><stop offset="0.085" stop-color="#dbe236"/><stop offset="0.106" stop-color="#c8ef34"/><stop offset="0.128" stop-color="#bcf534"/><stop offset="0.149" stop-color="#a9fb39"/><stop offset="0.17" stop-color="#8bff4b"/><stop offset="0.191" stop-color="#5dfc6f"/><stop offset="0.213" stop-color="#22ebaa"/><stop offset="0.234" stop-color="#18dbc5"/><stop offset="0.34" stop-color="#3aa3fc"/><stop offset="0.447" stop-color="#4687fb"/><stop offset="0.553" stop-color="#476ee6"/><stop offset="0.638" stop-color="#455ed3"/><stop offset="0.655" stop-color="#4559cb"/><stop offset="0.674" stop-color="#4456c7"/><stop offset="1" stop-color="#4454c3"/></linearGradient>
<linearGradient id="i86" x1="0" y1="0" x2="0" y2="1"><stop offset="0" stop-color="#f7c13a"/><stop offset="0.043" stop-color="#f7c13a"/><stop offset="0.064" stop-color="#f6c33a"/><stop offset="0.085" stop-color="#dbe236"/><stop offset="0.106" stop-color="#c8ef34"/><stop offset="0.128" stop-color="#bcf534"/><stop offset="0.149" stop-color="#a9fb39"/><stop offset="0.17" stop-color="#8bff4b"/><stop offset="0.191" stop-color="#5dfc6f"/><stop offset="0.213" stop-color="#22ebaa"/><stop offset="0.234" stop-color="#18dbc5"/><stop offset="0.34" stop-color="#3aa3fc"/><stop offset="0.447" stop-color="#4687fb"/><stop offset="0.553" stop-color="#476ee6"/><stop offset="0.638" stop-color="#455ed3"/><stop offset="0.655" stop-color="#4559cb"/><stop offset="0.674" stop-color="#4456c7"/><stop offset="1" stop-color="#4454c3"/></linearGradient>
<linearGradient id="i87" x1="0" y1="0" x2="0" y2="1"><stop offset="0" stop-color="#f7c13a"/><stop offset="0.043" stop-color="#f7c13a"/><stop offset="0.064" stop-color="#f6c33a"/><stop offset="0.085" stop-color="#dbe236"/><stop offset="0.106" stop-color="#c8ef34"/><stop offset="0.128" stop-color="#bcf534"/><stop offset="0.149" stop-color="#a9fb39"/><stop offset="0.17" stop-color="#8bff4b"/><stop offset="0.191" stop-color="#61fc6c"/><stop offset="0.213" stop-color="#22ebaa"/><stop offset="0.234" stop-color="#18dbc5"/><stop offset="0.34" stop-color="#3aa3fc"/><stop offset="0.447" stop-color="#4687fb"/><stop offset="0.553" stop-color="#476ee6"/><stop offset="0.638" stop-color="#455ed3"/><stop offset="0.655" stop-color="#4559cb"/><stop offset="0.674" stop-color="#4456c7"/><stop offset="1" stop-color="#4454c3"/></linearGradient>
<linearGradient id="i88" x1="0" y1="0" x2="0" y2="1"><stop offset="0" stop-color="#f8be39"/><stop offset="0.043" stop-color="#f7c13a"/><stop offset="0.064" stop-color="#f6c33a"/><stop offset="0.085" stop-color="#dbe236"/><stop offset="0.106" stop-color="#c8ef34"/><stop offset="0.128" stop-color="#bcf534"/><stop offset="0.149" stop-color="#a9fb39"/><stop offset="0.17" stop-color="#8fff49"/><stop offset="0.191" stop-color="#61fc6c"/><stop offset="0.213" stop-color="#25eca7"/><stop offset="0.234" stop-color="#18ddc2"/><stop offset="0.34" stop-color="#3aa3fc"/><stop offset="0.447" stop-color="#4687fb"/><stop offset="0.553" stop-color="#466be3"/><stop offset="0.638" stop-color="#455ed3"/><stop offset="0.655" stop-color="#4559cb"/><stop offset="0.674" stop-color="#4456c7"/><stop offset="1" stop-color="#4454c3"/></linearGradient>
<linearGradient id="i89" x1="0" y1="0" x2="0" y2="1"><stop offset="0" stop-color="#f9bc39"/><stop offset="0.043" stop-color="#f8be39"/><stop offset="0.064" stop-color="#f7c13a"/><stop offset="0.085" stop-color="#dde037"/><stop offset="0.106" stop-color="#cbed34"/><stop offset="0.128" stop-color="#bef434"/><stop offset="0.149" stop-color="#acfb38"/><stop offset="0.17" stop-color="#8fff49"/><stop offset="0.191" stop-color="#65fd69"/><stop offset="0.213" stop-color="#25eca7"/><stop offset="0.234" stop-color="#18ddc2"/><stop offset="0.34" stop-color="#3aa3fc"/><stop offset="0.447" stop-color="#4687fb"/><stop offset="0.553" stop-color="#466be3"/><stop offset="0.638" stop-color="#455ed3"/><stop offset="0.655" stop-color="#4559cb"/><stop offset="0.674" stop-color="#4456c7"/><stop offset="1" stop-color="#4454c3"/></linearGradient>
<linearGradient id="i90" x1="0" y1="0" x2="0" y2="1"><stop offset="0" stop-color="#faba39"/><stop offset="0.043" stop-color="#faba39"/><stop offset="0.064" stop-color="#f9bc39"/><stop offset="0.085" stop-color="#e1dd37"/><stop offset="0.106" stop-color="#d0ea34"/><stop offset="0.128" stop-color="#c1f334"/><stop offset="0.149" stop-color="#affa37"/><stop offset="0.17" stop-color="#92ff47"/><stop offset="0.191" stop-color="#65fd69"/><stop offset="0.213" stop-color="#27eea4"/><stop offset="0.234" stop-color="#18dec0"/><stop offset="0.34" stop-color="#3aa3fc"/><stop offset="0.447" stop-color="#4685fa"/><stop offset="0.553" stop-color="#466be3"/><stop offset="0.638" stop-color="#455ed3"/><stop offset="0.655" stop-color="#4559cb"/><stop offset="0.674" stop-color="#4456c7"/><stop offset="1" stop-color="#4454c3"/></linearGradient>
<linearGradient id="i91" x1="0" y1="0" x2="0" y2="1"><stop offset="0" stop-color="#fbb838"/><stop offset="0.043" stop-color="#faba39"/><stop offset="0.064" stop-color="#faba39"/><stop offset="0.085" stop-color="#e1dd37"/><stop offset="0.106" stop-color="#d2e935"/><stop offset="0.128" stop-color="#c3f134"/><stop offset="0.149" stop-color="#b1f936"/><stop offset="0.17" stop-color="#96fe44"/><stop offset="0.191" stop-color="#69fd66"/><stop offset="0.213" stop-color="#27eea4"/><stop offset="0.234" stop-color="#18dec0"/><stop offset="0.34" stop-color="#3aa3fc"/><stop offset="0.447" stop-color="#4685fa"/><stop offset="0.553" stop-color="#466be3"/><stop offset="0.638" stop-color="#455ccf"/><stop offset="0.655" stop-color="#4559cb"/><stop offset="0.674" stop-color="#4456c7"/><stop offset="1" stop-color="#4454c3"/></linearGradient>
<linearGradient id="i92" x1="0" y1="0" x2="0" y2="1"><stop offset="0" stop-color="#f9bc39"/><stop offset="0.043" stop-color="#f8be39"/><stop offset="0.064" stop-color="#f7c13a"/><stop offset="0.085" stop-color="#dde037"/><stop offset="0.106" stop-color="#cbed34"/><stop offset="0.128" stop-color="#bef434"/><stop offset="0.149" stop-color="#acfb38"/><stop offset="0.17" stop-color="#92ff47"/><stop offset="0.191" stop-color="#65fd69"/><stop offset="0.213" stop-color="#27eea4"/><stop offset="0.234" stop-color="#18dec0"/><stop offset="0.34" stop-color="#3aa3fc"/><stop offset="0.447" stop-color="#4685fa"/><stop offset="0.553" stop-color="#466be3"/><stop offset="0.638" stop-color="#455ccf"/><stop offset="0.655" stop-color="#4559cb"/><stop offset="0.674" stop-color="#4456c7"/><stop offset="1" stop-color="#4454c3"/></linearGradient>
<linearGradient id="i93" x1="0" y1="0" x2="0" y2="1"><stop offset="0" stop-color="#efcd3a"/><stop offset="0.043" stop-color="#efcd3a"/><stop offset="0.064" stop-color="#eecf3a"/><stop offset="0.085" stop-color="#d0ea34"/><stop offset="0.106" stop-color="#bcf534"/><stop offset="0.128" stop-color="#affa37"/><stop offset="0.149" stop-color="#9cfe40"/><stop offset="0.17" stop-color="#84ff51"/><stop offset="0.191" stop-color="#59fb73"/><stop offset="0.213" stop-color="#22ebaa"/><stop offset="0.234" stop-color="#18ddc2"/><stop offset="0.34" stop-color="#3aa3fc"/><stop offset="0.447" stop-color="#4685fa"/><stop offset="0.553" stop-color="#466be3"/><stop offset="0.638" stop-color="#455ccf"/><stop offset="0.655" stop-color="#4559cb"/><stop offset="0.674" stop-color="#4456c7"/><stop offset="1" stop-color="#4454c3"/></linearGradient>
<linearGradient id="i94" x1="0" y1="0" x2="0" y2="1"><stop offset="0" stop-color="#e3db38"/><stop offset="0.043" stop-color="#e1dd37"/><stop offset="0.064" stop-color="#dfdf37"/><stop offset="0.085" stop-color="#bef434"/><stop offset="0.106" stop-color="#acfb38"/><stop offset="0.128" stop-color="#9ffd3f"/><stop offset="0.149" stop-color="#88ff4e"/><stop offset="0.17" stop-color="#75fe5c"/><stop offset="0.191" stop-color="#4ef97d"/><stop offset="0.213" stop-color="#20eaac"/><stop offset="0.234" stop-color="#18dbc5"/><stop offset="0.34" stop-color="#3aa3fc"/><stop offset="0.447" stop-color="#4685fa"/><stop offset="0.553" stop-color="#4669e0"/><stop offset="0.638" stop-color="#455ccf"/><stop offset="0.655" stop-color="#4559cb"/><stop offset="0.674" stop-color="#4456c7"/><stop offset="1" stop-color="#4454c3"/></linearGradient>
<linearGradient id="i95" x1="0" y1="0" x2="0" y2="1"><stop offset="0" stop-color="#dfdf37"/><stop offset="0.043" stop-color="#dfdf37"/><stop offset="0.064" stop-color="#dde037"/><stop offset="0.085" stop-color="#b9f635"/><stop offset="0.106" stop-color="#a7fc3a"/><stop offset="0.128" stop-color="#9cfe40"/><stop offset="0.149" stop-color="#84ff51"/><stop offset="0.17" stop-color="#6dfe62"/><stop offset="0.191" stop-color="#4af880"/><stop offset="0.213" stop-color="#1fe9af"/><stop offset="0.234" stop-color="#18d9c8"/><stop offset="0.34" stop-color="#3aa3fc"/><stop offset="0.447" stop-color="#4685fa"/><stop offset="0.553" stop-color="#4669e0"/><stop offset="0.638" stop-color="#455ccf"/><stop offset="0.655" stop-color="#4559cb"/><stop offset="0.674" stop-color="#4456c7"/><stop offset="1" stop-color="#4454c3"/></linearGradient>
<linearGradient id="i96" x1="0" y1="0" x2="0" y2="1"><stop offset="0" stop-color="#dbe236"/><stop offset="0.043" stop-color="#d9e436"/><stop offset="0.064" stop-color="#d9e436"/><stop offset="0.085" stop-color="#b4f836"/><stop offset="0.106" stop-color="#a4fc3c"/><stop offset="0.128" stop-color="#96fe44"/><stop offset="0.149" stop-color="#7dff56"/><stop offset="0.17" stop-color="#69fd66"/><stop offset="0.191" stop-color="#46f884"/><stop offset="0.213" stop-color="#1de7b2"/><stop offset="0.234" stop-color="#18d7ca"/><stop offset="0.34" stop-color="#3aa3fc"/><stop offset="0.447" stop-color="#4685fa"/><stop offset="0.553" stop-color="#4669e0"/><stop offset="0.638" stop-color="#455ccf"/><stop offset="0.655" stop-color="#4559cb"/><stop offset="0.674" stop-color="#4456c7"/><stop offset="1" stop-color="#4454c3"/></linearGradient>
<linearGradient id="i97" x1="0" y1="0" x2="0" y2="1"><stop offset="0" stop-color="#d9e436"/><stop offset="0.043" stop-color="#d9e436"/><stop offset="0.064" stop-color="#d7e535"/><stop offset="0.085" stop-color="#b4f836"/><stop offset="0.106" stop-color="#a1fd3d"/><stop offset="0.128" stop-color="#92ff47"/><stop offset="0.149" stop-color="#7dff56"/><stop offset="0.17" stop-color="#65fd69"/><stop offset="0.191" stop-color="#43f787"/><stop offset="0.213" stop-color="#1ce6b4"/><stop offset="0.234" stop-color="#19d5cd"/><stop offset="0.34" stop-color="#3aa3fc"/><stop offset="0.447" stop-color="#4685fa"/><stop offset="0.553" stop-color="#4669e0"/><stop offset="0.638" stop-color="#455ccf"/><stop offset="0.655" stop-color="#4559cb"/><stop offset="0.674" stop-color="#4456c7"/><stop offset="1" stop-color="#4454c3"/></linearGradient>
<linearGradient id="i98" x1="0" y1="0" x2="0" y2="1"><stop offset="0" stop-color="#d9e436"/><stop offset="0.043" stop-color="#d7e535"/><stop offset="0.064" stop-color="#d7e535"/><stop offset="0.085" stop-color="#b1f936"/><stop offset="0.106" stop-color="#a1fd3d"/><stop offset="0.128" stop-color="#92ff47"/><stop offset="0.149" stop-color="#7dff56"/><stop offset="0.17" stop-color="#65fd69"/><stop offset="0.191" stop-color="#43f787"/><stop offset="0.213" stop-color="#1ce6b4"/><stop offset="0.234" stop-color="#19d5cd"/><stop offset="0.34" stop-color="#38a5fb"/><stop offset="0.447" stop-color="#4685fa"/><stop offset="0.553" stop-color="#4669e0"/><stop offset="0.638" stop-color="#455ccf"/><stop offset="0.655" stop-color="#4559cb"/><stop offset="0.674" stop-color="#4456c7"/><stop offset="1" stop-color="#4454c3"/></linearGradient>
<linearGradient id="i99" x1="0" y1="0" x2="0" y2="1"><stop offset="0" stop-color="#dbe236"/><stop offset="0.043" stop-color="#d9e436"/><stop offset="0.064" stop-color="#d9e436"/><stop offset="0.085" stop-color="#b4f836"/><stop offset="0.106" stop-color="#a1fd3d"/><stop offset="0.128" stop-color="#96fe44"/><stop offset="0.149" stop-color="#7dff56"/><stop offset="0.17" stop-color="#69fd66"/><stop offset="0.191" stop-color="#43f787"/><stop offset="0.213" stop-color="#1ce6b4"/><stop offset="0.234" stop-color="#19d5cd"/><stop offset="0.34" stop-color="#38a5fb"/><stop offset="0.447" stop-color="#4685fa"/><stop offset="0.553" stop-color="#4669e0"/><stop offset="0.638" stop-color="#455ccf"/><stop offset="0.655" stop-color="#4559cb"/><stop offset="0.674" stop-color="#4456c7"/><stop offset="1" stop-color="#4454c3"/></linearGradient>
<linearGradient id="i100" x1="0" y1="0" x2="0" y2="1"><stop offset="0" stop-color="#d9e436"/><stop offset="0.043" stop-color="#d9e436"/><stop offset="0.064" stop-color="#d7e535"/><stop offset="0.085" stop-color="#b4f836"/><stop offset="0.106" stop-color="#a1fd3d"/><stop offset="0.128" stop-color="#92ff47"/><stop offset="0.149" stop-color="#7dff56"/><stop offset="0.17" stop-color="#65fd69"/><stop offset="0.191" stop-color="#43f787"/><stop offset="0.213" stop-color="#1de7b2"/><stop offset="0.234" stop-color="#19d5cd"/><stop offset="0.34" stop-color="#38a5fb"/><stop offset="0.447" stop-color="#4685fa"/><stop offset="0.553" stop-color="#4669e0"/><stop offset="0.638" stop-color="#455ccf"/><stop offset="0.655" stop-color="#4559cb"/><stop offset="0.674" stop-color="#4456c7"/><stop offset="1" stop-color="#4454c3"/></linearGradient>
<linearGradient id="i101" x1="0" y1="0" x2="0" y2="1"><stop offset="0" stop-color="#d7e535"/><stop offset="0.043" stop-color="#d4e735"/><stop offset="0.064" stop-color="#d2e935"/><stop offset="0.085" stop-color="#affa37"/><stop offset="0.106" stop-color="#9ffd3f"/><stop offset="0.128" stop-color="#8fff49"/><stop offset="0.149" stop-color="#75fe5c"/><stop offset="0.17" stop-color="#65fd69"/><stop offset="0.191" stop-color="#43f787"/><stop offset="0.213" stop-color="#1de7b2"/><stop offset="0.234" stop-color="#19d5cd"/><stop offset="0.34" stop-color="#38a5fb"/><stop offset="0.447" stop-color="#4685fa"/><stop offset="0.553" stop-color="#4669e0"/><stop offset="0.638" stop-color="#455ccf"/><stop offset="0.655" stop-color="#4559cb"/><stop offset="0.674" stop-color="#4456c7"/><stop offset="1" stop-color="#4454c3"/></linearGradient>
<linearGradient id="i102" x1="0" y1="0" x2="0" y2="1"><stop offset="0" stop-color="#d7e535"/><stop offset="0.043" stop-color="#d4e735"/><stop offset="0.064" stop-color="#d2e935"/><stop offset="0.085" stop-color="#b1f936"/><stop offset="0.106" stop-color="#9ffd3f"/><stop offset="0.128" stop-color="#8fff49"/><stop offset="0.149" stop-color="#79fe59"/><stop offset="0.17" stop-color="#65fd69"/><stop offset="0.191" stop-color="#43f787"/><stop offset="0.213" stop-color="#1de7b2"/><stop offset="0.234" stop-color="#19d5cd"/><stop offset="0.34" stop-color="#38a5fb"/><stop offset="0.447" stop-color="#4685fa"/><stop offset="0.553" stop-color="#466be3"/><stop offset="0.638" stop-color="#455ccf"/><stop offset="0.655" stop-color="#4559cb"/><stop offset="0.674" stop-color="#4454c3"/><stop offset="1" stop-color="#4454c3"/></linearGradient>
<linearGradient id="i103" x1="0" y1="0" x2="0" y2="1"><stop offset="0" stop-color="#d9e436"/><stop offset="0.043" stop-color="#d7e535"/><stop offset="0.064" stop-color="#d7e535"/><stop offset="0.085" stop-color="#b4f836"/><stop offset="0.106" stop-color="#a1fd3d"/><stop offset="0.128" stop-color="#92ff47"/><stop offset="0.149" stop-color="#7dff56"/><stop offset="0.17" stop-color="#65fd69"/><stop offset="0.191" stop-color="#43f787"/><stop offset="0.213" stop-color="#1de7b2"/><stop offset="0.234" stop-color="#18d7ca"/><stop offset="0.34" stop-color="#38a5fb"/><stop offset="0.447" stop-color="#4685fa"/><stop offset="0.553" stop-color="#466be3"/><stop offset="0.638" stop-color="#455ccf"/><stop offset="0.655" stop-color="#4559cb"/><stop offset="0.674" stop-color="#4454c3"/><stop offset="1" stop-color="#4454c3"/></linearGradient>
<linearGradient id="i104" x1="0" y1="0" x2="0" y2="1"><stop offset="0" stop-color="#dfdf37"/><stop offset="0.043" stop-color="#dfdf37"/><stop offset="0.064" stop-color="#dde037"/><stop offset="0.085" stop-color="#bcf534"/><stop offset="0.106" stop-color="#a9fb39"/><stop offset="0.128" stop-color="#9cfe40"/><stop offset="0.149" stop-color="#84ff51"/><stop offset="0.17" stop-color="#6dfe62"/><stop offset="0.191" stop-color="#46f884"/><stop offset="0.213" stop-color="#1de7b2"/><stop offset="0.234" stop-color="#18d7ca"/><stop offset="0.34" stop-color="#38a5fb"/><stop offset="0.447" stop-color="#4687fb"/><stop offset="0.553" stop-color="#466be3"/><stop offset="0.638" stop-color="#455ccf"/><stop offset="0.655" stop-color="#4559cb"/><stop offset="0.674" stop-color="#4454c3"/><stop offset="1" stop-color="#4454c3"/></linearGradient>
<linearGradient id="i105" x1="0" y1="0" x2="0" y2="1"><stop offset="0" stop-color="#e7d739"/><stop offset="0.043" stop-color="#e7d739"/><stop offset="0.064" stop-color="#e5d938"/><stop offset="0.085" stop-color="#c6f034"/><stop offset="0.106" stop-color="#b4f836"/><stop offset="0.128" stop-color="#a4fc3c"/><stop offset="0.149" stop-color="#92ff47"/><stop offset="0.17" stop-color="#75fe5c"/><stop offset="0.191" stop-color="#4ef97d"/><stop offset="0.213" stop-color="#1de7b2"/><stop offset="0.234" stop-color="#18d7ca"/><stop offset="0.34" stop-color="#38a5fb"/><stop offset="0.447" stop-color="#4687fb"/><stop offset="0.553" stop-color="#466be3"/><stop offset="0.638" stop-color="#455ccf"/><stop offset="0.655" stop-color="#4559cb"/><stop offset="0.674" stop-color="#4454c3"/><stop offset="1" stop-color="#4454c3"/></linearGradient>
<linearGradient id="i106" x1="0" y1="0" x2="0" y2="1"><stop offset="0" stop-color="#eecf3a"/><stop offset="0.043" stop-color="#eecf3a"/><stop offset="0.064" stop-color="#ecd13a"/><stop offset="0.085" stop-color="#cdec34"/><stop offset="0.106" stop-color="#bef434"/><stop offset="0.128" stop-color="#affa37"/><stop offset="0.149" stop-color="#9cfe40"/><stop offset="0.17" stop-color="#7dff56"/><stop offset="0.191" stop-color="#52fa7a"/><stop offset="0.213" stop-color="#1fe9af"/><stop offset="0.234" stop-color="#18d9c8"/><stop offset="0.34" stop-color="#37a8fa"/><stop offset="0.447" stop-color="#4687fb"/><stop offset="0.553" stop-color="#466be3"/><stop offset="0.638" stop-color="#455ed3"/><stop offset="0.655" stop-color="#4559cb"/><stop offset="0.674" stop-color="#4454c3"/><stop offset="1" stop-color="#4454c3"/></linearGradient>
<linearGradient id="i107" x1="0" y1="0" x2="0" y2="1"><stop offset="0" stop-color="#f4c73a"/><stop offset="0.043" stop-color="#f2c93a"/><stop offset="0.064" stop-color="#f1cb3a"/><stop offset="0.085" stop-color="#d7e535"/><stop offset="0.106" stop-color="#c6f034"/><stop offset="0.128" stop-color="#b4f836"/><stop offset="0.149" stop-color="#a1fd3d"/><stop offset="0.17" stop-color="#84ff51"/><stop offset="0.191" stop-color="#59fb73"/><stop offset="0.213" stop-color="#20eaac"/><stop offset="0.234" stop-color="#18d9c8"/><stop offset="0.34" stop-color="#37a8fa"/><stop offset="0.447" stop-color="#4687fb"/><stop offset="0.553" stop-color="#466be3"/><stop offset="0.638" stop-color="#455ed3"/><stop offset="0.655" stop-color="#4559cb"/><stop offset="0.674" stop-color="#4454c3"/><stop offset="1" stop-color="#4454c3"/></linearGradient>
<linearGradient id="i108" x1="0" y1="0" x2="0" y2="1"><stop offset="0" stop-color="#f7c13a"/><stop offset="0.043" stop-color="#f6c33a"/><stop offset="0.064" stop-color="#f5c53a"/><stop offset="0.085" stop-color="#dbe236"/><stop offset="0.106" stop-color="#cbed34"/><stop offset="0.128" stop-color="#bcf534"/><stop offset="0.149" stop-color="#a7fc3a"/><stop offset="0.17" stop-color="#8bff4b"/><stop offset="0.191" stop-color="#5dfc6f"/><stop offset="0.213" stop-color="#22ebaa"/><stop offset="0.234" stop-color="#18dbc5"/><stop offset="0.34" stop-color="#37a8fa"/><stop offset="0.447" stop-color="#458afc"/><stop offset="0.553" stop-color="#476ee6"/><stop offset="0.638" stop-color="#455ed3"/><stop offset="0.655" stop-color="#4559cb"/><stop offset="0.674" stop-color="#4454c3"/><stop offset="1" stop-color="#4454c3"/></linearGradient>
<linearGradient id="i109" x1="0" y1="0" x2="0" y2="1"><stop offset="0" stop-color="#f9bc39"/><stop offset="0.043" stop-color="#f9bc39"/><stop offset="0.064" stop-color="#f8be39"/><stop offset="0.085" stop-color="#dfdf37"/><stop offset="0.106" stop-color="#d0ea34"/><stop offset="0.128" stop-color="#bef434"/><stop offset="0.149" stop-color="#acfb38"/><stop offset="0.17" stop-color="#8fff49"/><stop offset="0.191" stop-color="#61fc6c"/><stop offset="0.213" stop-color="#25eca7"/><stop offset="0.234" stop-color="#18ddc2"/><stop offset="0.34" stop-color="#35abf8"/><stop offset="0.447" stop-color="#458afc"/><stop offset="0.553" stop-color="#476ee6"/><stop offset="0.638" stop-color="#455ed3"/><stop offset="0.655" stop-color="#4559cb"/><stop offset="0.674" stop-color="#4454c3"/><stop offset="1" stop-color="#4454c3"/></linearGradient>
<linearGradient id="i110" x1="0" y1="0" x2="0" y2="1"><stop offset="0" stop-color="#fbb838"/><stop offset="0.043" stop-color="#faba39"/><stop offset="0.064" stop-color="#faba39"/><stop offset="0.085" stop-color="#e3db38"/><stop offset="0.106" stop-color="#d4e735"/><stop offset="0.128" stop-color="#c3f134"/><stop offset="0.149" stop-color="#affa37"/><stop offset="0.17" stop-color="#92ff47"/><stop offset="0.191" stop-color="#65fd69"/><stop offset="0.213" stop-color="#25eca7"/><stop offset="0.234" stop-color="#18ddc2"/><stop offset="0.34" stop-color="#35abf8"/><stop offset="0.447" stop-color="#458afc"/><stop offset="0.553" stop-color="#476ee6"/><stop offset="0.638" stop-color="#455ed3"/><stop offset="0.655" stop-color="#4559cb"/><stop offset="0.674" stop-color="#4454c3"/><stop offset="1" stop-color="#4454c3"/></linearGradient>
<linearGradient id="i111" x1="0" y1="0" x2="0" y2="1"><stop offset="0" stop-color="#fbb637"/><stop offset="0.043" stop-color="#fbb838"/><stop offset="0.064" stop-color="#fbb838"/><stop offset="0.085" stop-color="#e3db38"/><stop offset="0.106" stop-color="#d7e535"/><stop offset="0.128" stop-color="#c3f134"/><stop offset="0.149" stop-color="#b1f936"/><stop offset="0.17" stop-color="#92ff47"/><stop offset="0.191" stop-color="#65fd69"/><stop offset="0.213" stop-color="#25eca7"/><stop offset="0.234" stop-color="#18ddc2"/><stop offset="0.34" stop-color="#35abf8"/><stop offset="0.447" stop-color="#458afc"/><stop offset="0.553" stop-color="#476ee6"/><stop offset="0.638" stop-color="#455ed3"/><stop offset="0.655" stop-color="#4559cb"/><stop offset="0.674" stop-color="#4454c3"/><stop offset="1" stop-color="#4454c3"/></linearGradient>
<linearGradient id="i112" x1="0" y1="0" x2="0" y2="1"><stop offset="0" stop-color="#fcb336"/><stop offset="0.043" stop-color="#fbb637"/><stop offset="0.064" stop-color="#fbb838"/><stop offset="0.085" stop-color="#e3db38"/><stop offset="0.106" stop-color="#d7e535"/><stop offset="0.128" stop-color="#c3f134"/><stop offset="0.149" stop-color="#b1f936"/><stop offset="0.17" stop-color="#92ff47"/><stop offset="0.191" stop-color="#65fd69"/><stop offset="0.213" stop-color="#25eca7"/><stop offset="0.234" stop-color="#18ddc2"/><stop offset="0.34" stop-color="#33adf7"/><stop offset="0.447" stop-color="#458afc"/><stop offset="0.553" stop-color="#4771e9"/><stop offset="0.638" stop-color="#455ed3"/><stop offset="0.655" stop-color="#4559cb"/><stop offset="0.674" stop-color="#4454c3"/><stop offset="1" stop-color="#4454c3"/></linearGradient>
<linearGradient id="i113" x1="0" y1="0" x2="0" y2="1"><stop offset="0" stop-color="#fcb336"/><stop offset="0.043" stop-color="#fbb637"/><stop offset="0.064" stop-color="#fbb838"/><stop offset="0.085" stop-color="#e3db38"/><stop offset="0.106" stop-color="#d7e535"/><stop offset="0.128" stop-color="#c3f134"/><stop offset="0.149" stop-color="#affa37"/><stop offset="0.17" stop-color="#92ff47"/><stop offset="0.191" stop-color="#65fd69"/><stop offset="0.213" stop-color="#25eca7"/><stop offset="0.234" stop-color="#18ddc2"/><stop offset="0.34" stop-color="#33adf7"/><stop offset="0.447" stop-color="#458cfd"/><stop offset="0.553" stop-color="#4771e9"/><stop offset="0.638" stop-color="#4661d6"/><stop offset="0.655" stop-color="#455ccf"/><stop offset="0.674" stop-color="#4456c7"/><stop offset="1" stop-color="#4454c3"/></linearGradient>
<linearGradient id="i114" x1="0" y1="0" x2="0" y2="1"><stop offset="0" stop-color="#fcb336"/><stop offset="0.043" stop-color="#fbb637"/><stop offset="0.064" stop-color="#fbb637"/><stop offset="0.085" stop-color="#e3db38"/><stop offset="0.106" stop-color="#d7e535"/><stop offset="0.128" stop-color="#c3f134"/><stop offset="0.149" stop-color="#affa37"/><stop offset="0.17" stop-color="#92ff47"/><stop offset="0.191" stop-color="#65fd69"/><stop offset="0.213" stop-color="#22ebaa"/><stop offset="0.234" stop-color="#18ddc2"/><stop offset="0.34" stop-color="#33adf7"/><stop offset="0.447" stop-color="#458cfd"/><stop offset="0.553" stop-color="#4771e9"/><stop offset="0.638" stop-color="#455ed3"/><stop offset="0.655" stop-color="#455ccf"/><stop offset="0.674" stop-color="#4456c7"/><stop offset="1" stop-color="#4454c3"/></linearGradient>
<linearGradient id="i115" x1="0" y1="0" x2="0" y2="1"><stop offset="0" stop-color="#fcb136"/><stop offset="0.043" stop-color="#fcb336"/><stop offset="0.064" stop-color="#fbb637"/><stop offset="0.085" stop-color="#e3db38"/><stop offset="0.106" stop-color="#d7e535"/><stop offset="0.128" stop-color="#c3f134"/><stop offset="0.149" stop-color="#affa37"/><stop offset="0.17" stop-color="#92ff47"/><stop offset="0.191" stop-color="#61fc6c"/><stop offset="0.213" stop-color="#22ebaa"/><stop offset="0.234" stop-color="#18ddc2"/><stop offset="0.34" stop-color="#33adf7"/><stop offset="0.447" stop-color="#458cfd"/><stop offset="0.553" stop-color="#4771e9"/><stop offset="0.638" stop-color="#455ed3"/><stop offset="0.655" stop-color="#4559cb"/><stop offset="0.674" stop-color="#4456c7"/><stop offset="1" stop-color="#4454c3"/></linearGradient>
<linearGradient id="i116" x1="0" y1="0" x2="0" y2="1"><stop offset="0" stop-color="#fdac34"/><stop offset="0.043" stop-color="#fdae35"/><stop offset="0.064" stop-color="#fcb136"/><stop offset="0.085" stop-color="#e5d938"/><stop offset="0.106" stop-color="#d9e436"/><stop offset="0.128" stop-color="#c6f034"/><stop offset="0.149" stop-color="#b1f936"/><stop offset="0.17" stop-color="#92ff47"/><stop offset="0.191" stop-color="#65fd69"/><stop offset="0.213" stop-color="#22ebaa"/><stop offset="0.234" stop-color="#18ddc2"/><stop offset="0.34" stop-color="#33adf7"/><stop offset="0.447" stop-color="#458cfd"/><stop offset="0.553" stop-color="#4771e9"/><stop offset="0.638" stop-color="#455ed3"/><stop offset="0.655" stop-color="#4559cb"/><stop offset="0.674" stop-color="#4456c7"/><stop offset="1" stop-color="#4454c3"/></linearGradient>
<linearGradient id="i117" x1="0" y1="0" x2="0" y2="1"><stop offset="0" stop-color="#fea933"/><stop offset="0.043" stop-color="#fdac34"/><stop offset="0.064" stop-color="#fdae35"/><stop offset="0.085" stop-color="#e7d739"/><stop offset="0.106" stop-color="#dbe236"/><stop offset="0.128" stop-color="#c6f034"/><stop offset="0.149" stop-color="#b4f836"/><stop offset="0.17" stop-color="#92ff47"/><stop offset="0.191" stop-color="#65fd69"/><stop offset="0.213" stop-color="#22ebaa"/><stop offset="0.234" stop-color="#18ddc2"/><stop offset="0.34" stop-color="#31aff5"/><stop offset="0.447" stop-color="#458cfd"/><stop offset="0.553" stop-color="#4771e9"/><stop offset="0.638" stop-color="#455ed3"/><stop offset="0.655" stop-color="#4559cb"/><stop offset="0.674" stop-color="#4456c7"/><stop offset="1" stop-color="#4454c3"/></linearGradient>
<linearGradient id="i118" x1="0" y1="0" x2="0" y2="1"><stop offset="0" stop-color="#fea732"/><stop offset="0.043" stop-color="#fea933"/><stop offset="0.064" stop-color="#fdac34"/><stop offset="0.085" stop-color="#e7d739"/><stop offset="0.106" stop-color="#dbe236"/><stop offset="0.128" stop-color="#c6f034"/><stop offset="0.149" stop-color="#b4f836"/><stop offset="0.17" stop-color="#92ff47"/><stop offset="0.191" stop-color="#65fd69"/><stop offset="0.213" stop-color="#22ebaa"/><stop offset="0.234" stop-color="#18dbc5"/><stop offset="0.34" stop-color="#31aff5"/><stop offset="0.447" stop-color="#458cfd"/><stop offset="0.553" stop-color="#4771e9"/><stop offset="0.638" stop-color="#455ed3"/><stop offset="0.655" stop-color="#4559cb"/><stop offset="0.674" stop-color="#4456c7"/><stop offset="1" stop-color="#4454c3"/></linearGradient>
<linearGradient id="i119" x1="0" y1="0" x2="0" y2="1"><stop offset="0" stop-color="#fea732"/><stop offset="0.043" stop-color="#fea933"/><stop offset="0.064" stop-color="#fdac34"/><stop offset="0.085" stop-color="#e9d539"/><stop offset="0.106" stop-color="#dbe236"/><stop offset="0.128" stop-color="#c8ef34"/><stop offset="0.149" stop-color="#b4f836"/><stop offset="0.17" stop-color="#96fe44"/><stop offset="0.191" stop-color="#65fd69"/><stop offset="0.213" stop-color="#22ebaa"/><stop offset="0.234" stop-color="#18dbc5"/><stop offset="0.34" stop-color="#31aff5"/><stop offset="0.447" stop-color="#458cfd"/><stop offset="0.553" stop-color="#4771e9"/><stop offset="0.638" stop-color="#455ed3"/><stop offset="0.655" stop-color="#4559cb"/><stop offset="0.674" stop-color="#4456c7"/><stop offset="1" stop-color="#4454c3"/></linearGradient>
<linearGradient id="i120" x1="0" y1="0" x2="0" y2="1"><stop offset="0" stop-color="#fea431"/><stop offset="0.043" stop-color="#fea732"/><stop offset="0.064" stop-color="#fea933"/><stop offset="0.085" stop-color="#e9d539"/><stop offset="0.106" stop-color="#dde037"/><stop offset="0.128" stop-color="#c8ef34"/><stop offset="0.149" stop-color="#b4f836"/><stop offset="0.17" stop-color="#96fe44"/><stop offset="0.191" stop-color="#65fd69"/><stop offset="0.213" stop-color="#22ebaa"/><stop offset="0.234" stop-color="#18dbc5"/><stop offset="0.34" stop-color="#31aff5"/><stop offset="0.447" stop-color="#458cfd"/><stop offset="0.553" stop-color="#4771e9"/><stop offset="0.638" stop-color="#455ed3"/><stop offset="0.655" stop-color="#4559cb"/><stop offset="0.674" stop-color="#4456c7"/><stop offset="1" stop-color="#4454c3"/></linearGradient>
<linearGradient id="i121" x1="0" y1="0" x2="0" y2="1"><stop offset="0" stop-color="#fdae35"/><stop offset="0.043" stop-color="#fcb136"/><stop offset="0.064" stop-color="#fcb336"/><stop offset="0.085" stop-color="#e5d938"/><stop offset="0.106" stop-color="#dbe236"/><stop offset="0.128" stop-color="#c3f134"/><stop offset="0.149" stop-color="#affa37"/><stop offset="0.17" stop-color="#8fff49"/><stop offset="0.191" stop-color="#5dfc6f"/><stop offset="0.213" stop-color="#1fe9af"/><stop offset="0.234" stop-color="#18d9c8"/><stop offset="0.34" stop-color="#31aff5"/><stop offset="0.447" stop-color="#458cfd"/><stop offset="0.553" stop-color="#4771e9"/><stop offset="0.638" stop-color="#455ed3"/><stop offset="0.655" stop-color="#4559cb"/><stop offset="0.674" stop-color="#4456c7"/><stop offset="1" stop-color="#4454c3"/></linearGradient>
<linearGradient id="i122" x1="0" y1="0" x2="0" y2="1"><stop offset="0" stop-color="#fcb136"/><stop offset="0.043" stop-color="#fcb336"/><stop offset="0.064" stop-color="#fbb637"/><stop offset="0.085" stop-color="#e5d938"/><stop offset="0.106" stop-color="#dbe236"/><stop offset="0.128" stop-color="#c3f134"/><stop offset="0.149" stop-color="#affa37"/><stop offset="0.17" stop-color="#8bff4b"/><stop offset="0.191" stop-color="#5dfc6f"/><stop offset="0.213" stop-color="#1fe9af"/><stop offset="0.234" stop-color="#18d9c8"/><stop offset="0.34" stop-color="#2fb2f4"/><stop offset="0.447" stop-color="#458cfd"/><stop offset="0.553" stop-color="#4771e9"/><stop offset="0.638" stop-color="#455ed3"/><stop offset="0.655" stop-color="#4559cb"/><stop offset="0.674" stop-color="#4456c7"/><stop offset="1" stop-color="#4454c3"/></linearGradient>
<linearGradient id="i123" x1="0" y1="0" x2="0" y2="1"><stop offset="0" stop-color="#fcb136"/><stop offset="0.043" stop-color="#fcb336"/><stop offset="0.064" stop-color="#fbb637"/><stop offset="0.085" stop-color="#e5d938"/><stop offset="0.106" stop-color="#dbe236"/><stop offset="0.128" stop-color="#c3f134"/><stop offset="0.149" stop-color="#affa37"/><stop offset="0.17" stop-color="#8bff4b"/><stop offset="0.191" stop-color="#5dfc6f"/><stop offset="0.213" stop-color="#1fe9af"/><stop offset="0.234" stop-color="#18d9c8"/><stop offset="0.294" stop-color="#20c7df"/><stop offset="0.313" stop-color="#2fb2f4"/><stop offset="0.34" stop-color="#2fb2f4"/><stop offset="0.447" stop-color="#458cfd"/><stop offset="0.553" stop-color="#4771e9"/><stop offset="0.638" stop-color="#455ed3"/><stop offset="0.655" stop-color="#4559cb"/><stop offset="0.674" stop-color="#4456c7"/><stop offset="1" stop-color="#4454c3"/></linearGradient>
<linearGradient id="i124" x1="0" y1="0" x2="0" y2="1"><stop offset="0" stop-color="#fcb336"/><stop offset="0.043" stop-color="#fbb637"/><stop offset="0.064" stop-color="#fbb838"/><stop offset="0.085" stop-color="#e7d739"/><stop offset="0.106" stop-color="#dbe236"/><stop offset="0.128" stop-color="#c3f134"/><stop offset="0.149" stop-color="#affa37"/><stop offset="0.17" stop-color="#8bff4b"/><stop offset="0.191" stop-color="#59fb73"/><stop offset="0.213" stop-color="#1de7b2"/><stop offset="0.234" stop-color="#18d7ca"/><stop offset="0.294" stop-color="#20c7df"/><stop offset="0.313" stop-color="#2fb2f4"/><stop offset="0.34" stop-color="#2fb2f4"/><stop offset="0.447" stop-color="#458cfd"/><stop offset="0.553" stop-color="#4771e9"/><stop offset="0.638" stop-color="#455ed3"/><stop offset="0.655" stop-color="#4559cb"/><stop offset="0.674" stop-color="#4456c7"/><stop offset="1" stop-color="#4454c3"/></linearGradient>
<linearGradient id="i125" x1="0" y1="0" x2="0" y2="1"><stop offset="0" stop-color="#faba39"/><stop offset="0.043" stop-color="#f8be39"/><stop offset="0.064" stop-color="#f8be39"/><stop offset="0.085" stop-color="#e3db38"/><stop offset="0.106" stop-color="#d7e535"/><stop offset="0.128" stop-color="#bef434"/><stop offset="0.149" stop-color="#acfb38"/><stop offset="0.17" stop-color="#88ff4e"/><stop offset="0.191" stop-color="#55fa76"/><stop offset="0.213" stop-color="#1de7b2"/><stop offset="0.234" stop-color="#18d7ca"/><stop offset="0.294" stop-color="#20c7df"/><stop offset="0.313" stop-color="#2fb2f4"/><stop offset="0.34" stop-color="#2fb2f4"/><stop offset="0.447" stop-color="#458cfd"/><stop offset="0.553" stop-color="#4771e9"/><stop offset="0.638" stop-color="#455ed3"/><stop offset="0.655" stop-color="#4559cb"/><stop offset="0.674" stop-color="#4456c7"/><stop offset="1" stop-color="#4454c3"/></linearGradient>
<linearGradient id="i126" x1="0" y1="0" x2="0" y2="1"><stop offset="0" stop-color="#f5c53a"/><stop offset="0.043" stop-color="#f4c73a"/><stop offset="0.064" stop-color="#f2c93a"/><stop offset="0.085" stop-color="#dde037"/><stop offset="0.106" stop-color="#d2e935"/><stop offset="0.128" stop-color="#b9f635"/><stop offset="0.149" stop-color="#a4fc3c"/><stop offset="0.17" stop-color="#80ff53"/><stop offset="0.191" stop-color="#52fa7a"/><stop offset="0.213" stop-color="#1ce6b4"/><stop offset="0.234" stop-color="#19d5cd"/><stop offset="0.294" stop-color="#20c7df"/><stop offset="0.313" stop-color="#2fb2f4"/><stop offset="0.34" stop-color="#2fb2f4"/><stop offset="0.447" stop-color="#458cfd"/><stop offset="0.553" stop-color="#4771e9"/><stop offset="0.638" stop-color="#455ed3"/><stop offset="0.655" stop-color="#4559cb"/><stop offset="0.674" stop-color="#4456c7"/><stop offset="1" stop-color="#4454c3"/></linearGradient>
<linearGradient id="i127" x1="0" y1="0" x2="0" y2="1"><stop offset="0" stop-color="#efcd3a"/><stop offset="0.043" stop-color="#eecf3a"/><stop offset="0.064" stop-color="#ecd13a"/><stop offset="0.085" stop-color="#d7e535"/><stop offset="0.106" stop-color="#cbed34"/><stop offset="0.128" stop-color="#b1f936"/><stop offset="0.149" stop-color="#9cfe40"/><stop offset="0.17" stop-color="#79fe59"/><stop offset="0.191" stop-color="#4ef97d"/><stop offset="0.213" stop-color="#1ce6b4"/><stop offset="0.234" stop-color="#19d5cd"/><stop offset="0.294" stop-color="#22c5e2"/><stop offset="0.313" stop-color="#2fb2f4"/><stop offset="0.34" stop-color="#2fb2f4"/><stop offset="0.447" stop-color="#458cfd"/><stop offset="0.553" stop-color="#4771e9"/><stop offset="0.638" stop-color="#455ed3"/><stop offset="0.655" stop-color="#4559cb"/><stop offset="0.674" stop-color="#4456c7"/><stop offset="1" stop-color="#4454c3"/></linearGradient>
<linearGradient id="i128" x1="0" y1="0" x2="0" y2="1"><stop offset="0" stop-color="#ebd339"/><stop offset="0.043" stop-color="#e9d539"/><stop offset="0.064" stop-color="#e7d739"/><stop offset="0.085" stop-color="#d2e935"/><stop offset="0.106" stop-color="#c6f034"/><stop offset="0.128" stop-color="#acfb38"/><stop offset="0.149" stop-color="#99fe42"/><stop offset="0.17" stop-color="#75fe5c"/><stop offset="0.191" stop-color="#4af880"/><stop offset="0.213" stop-color="#1ae4b6"/><stop offset="0.234" stop-color="#1ad4d0"/><stop offset="0.294" stop-color="#22c5e2"/><stop offset="0.313" stop-color="#2fb2f4"/><stop offset="0.34" stop-color="#2fb2f4"/><stop offset="0.447" stop-color="#458cfd"/><stop offset="0.553" stop-color="#4771e9"/><stop offset="0.638" stop-color="#455ed3"/><stop offset="0.655" stop-color="#4559cb"/><stop offset="0.674" stop-color="#4456c7"/><stop offset="1" stop-color="#4454c3"/></linearGradient>
<linearGradient id="i129" x1="0" y1="0" x2="0" y2="1"><stop offset="0" stop-color="#ebd339"/><stop offset="0.043" stop-color="#e9d539"/><stop offset="0.064" stop-color="#e7d739"/><stop offset="0.085" stop-color="#d4e735"/><stop offset="0.106" stop-color="#cbed34"/><stop offset="0.128" stop-color="#affa37"/><stop offset="0.149" stop-color="#9cfe40"/><stop offset="0.17" stop-color="#75fe5c"/><stop offset="0.191" stop-color="#4af880"/><stop offset="0.213" stop-color="#1ae4b6"/><stop offset="0.234" stop-color="#1ad4d0"/><stop offset="0.294" stop-color="#22c5e2"/><stop offset="0.313" stop-color="#2fb2f4"/><stop offset="0.34" stop-color="#2fb2f4"/><stop offset="0.447" stop-color="#458cfd"/><stop offset="0.553" stop-color="#4771e9"/><stop offset="0.638" stop-color="#455ed3"/><stop offset="0.655" stop-color="#4559cb"/><stop offset="0.674" stop-color="#4456c7"/><stop offset="1" stop-color="#4454c3"/></linearGradient>
<linearGradient id="i130" x1="0" y1="0" x2="0" y2="1"><stop offset="0" stop-color="#e9d539"/><stop offset="0.043" stop-color="#e7d739"/><stop offset="0.064" stop-color="#e5d938"/><stop offset="0.085" stop-color="#d4e735"/><stop offset="0.106" stop-color="#cbed34"/><stop offset="0.128" stop-color="#affa37"/><stop offset="0.149" stop-color="#9cfe40"/><stop offset="0.17" stop-color="#75fe5c"/><stop offset="0.191" stop-color="#4af880"/><stop offset="0.213" stop-color="#1ae4b6"/><stop offset="0.234" stop-color="#1ad4d0"/><stop offset="0.294" stop-color="#22c5e2"/><stop offset="0.313" stop-color="#2fb2f4"/><stop offset="0.34" stop-color="#2fb2f4"/><stop offset="0.447" stop-color="#458cfd"/><stop offset="0.553" stop-color="#476ee6"/><stop offset="0.638" stop-color="#455ed3"/><stop offset="0.655" stop-color="#4559cb"/><stop offset="0.674" stop-color="#4456c7"/><stop offset="1" stop-color="#4454c3"/></linearGradient>
<linearGradient id="i131" x1="0" y1="0" x2="0" y2="1"><stop offset="0" stop-color="#e1dd37"/><stop offset="0.043" stop-color="#dfdf37"/><stop offset="0.064" stop-color="#dfdf37"/><stop offset="0.085" stop-color="#d0ea34"/><stop offset="0.106" stop-color="#c3f134"/><stop offset="0.128" stop-color="#a9fb39"/><stop offset="0.149" stop-color="#96fe44"/><stop offset="0.17" stop-color="#71fe5f"/><stop offset="0.191" stop-color="#46f884"/><stop offset="0.213" stop-color="#1ae4b6"/><stop offset="0.234" stop-color="#1ad4d0"/><stop offset="0.294" stop-color="#22c5e2"/><stop offset="0.313" stop-color="#2fb2f4"/><stop offset="0.34" stop-color="#2fb2f4"/><stop offset="0.447" stop-color="#458cfd"/><stop offset="0.553" stop-color="#476ee6"/><stop offset="0.638" stop-color="#455ed3"/><stop offset="0.655" stop-color="#4559cb"/><stop offset="0.674" stop-color="#4456c7"/><stop offset="1" stop-color="#4454c3"/></linearGradient>
<linearGradient id="i132" x1="0" y1="0" x2="0" y2="1"><stop offset="0" stop-color="#e1dd37"/><stop offset="0.043" stop-color="#dfdf37"/><stop offset="0.064" stop-color="#dde037"/><stop offset="0.085" stop-color="#d0ea34"/><stop offset="0.106" stop-color="#c6f034"/><stop offset="0.128" stop-color="#a9fb39"/><stop offset="0.149" stop-color="#96fe44"/><stop offset="0.17" stop-color="#71fe5f"/><stop offset="0.191" stop-color="#46f884"/><stop offset="0.213" stop-color="#19e3b9"/><stop offset="0.234" stop-color="#1ad4d0"/><stop offset="0.294" stop-color="#22c5e2"/><stop offset="0.313" stop-color="#2fb2f4"/><stop offset="0.34" stop-color="#2fb2f4"/><stop offset="0.447" stop-color="#458cfd"/><stop offset="0.553" stop-color="#476ee6"/><stop offset="0.638" stop-color="#455ed3"/><stop offset="0.655" stop-color="#4559cb"/><stop offset="0.674" stop-color="#4456c7"/><stop offset="1" stop-color="#4454c3"/></linearGradient>
<linearGradient id="i133" x1="0" y1="0" x2="0" y2="1"><stop offset="0" stop-color="#e5d938"/><stop offset="0.043" stop-color="#e3db38"/><stop offset="0.064" stop-color="#e1dd37"/><stop offset="0.085" stop-color="#d7e535"/><stop offset="0.106" stop-color="#cbed34"/><stop offset="0.128" stop-color="#b1f936"/><stop offset="0.149" stop-color="#9cfe40"/><stop offset="0.17" stop-color="#75fe5c"/><stop offset="0.191" stop-color="#46f884"/><stop offset="0.213" stop-color="#19e3b9"/><stop offset="0.234" stop-color="#1ad2d2"/><stop offset="0.294" stop-color="#22c5e2"/><stop offset="0.313" stop-color="#2fb2f4"/><stop offset="0.34" stop-color="#2fb2f4"/><stop offset="0.447" stop-color="#458cfd"/><stop offset="0.553" stop-color="#4771e9"/><stop offset="0.638" stop-color="#455ed3"/><stop offset="0.655" stop-color="#4559cb"/><stop offset="0.674" stop-color="#4456c7"/><stop offset="1" stop-color="#4454c3"/></linearGradient>
<linearGradient id="i134" x1="0" y1="0" x2="0" y2="1"><stop offset="0" stop-color="#e5d938"/><stop offset="0.043" stop-color="#e3db38"/><stop offset="0.064" stop-color="#e3db38"/><stop offset="0.085" stop-color="#d9e436"/><stop offset="0.106" stop-color="#d0ea34"/><stop offset="0.128" stop-color="#b4f836"/><stop offset="0.149" stop-color="#9ffd3f"/><stop offset="0.17" stop-color="#75fe5c"/><stop offset="0.191" stop-color="#46f884"/><stop offset="0.213" stop-color="#19e3b9"/><stop offset="0.234" stop-color="#1ad2d2"/><stop offset="0.294" stop-color="#22c5e2"/><stop offset="0.313" stop-color="#2fb2f4"/><stop offset="0.34" stop-color="#2fb2f4"/><stop offset="0.447" stop-color="#458cfd"/><stop offset="0.553" stop-color="#4771e9"/><stop offset="0.638" stop-color="#455ed3"/><stop offset="0.655" stop-color="#4559cb"/><stop offset="0.674" stop-color="#4456c7"/><stop offset="1" stop-color="#4454c3"/></linearGradient>
<linearGradient id="i135" x1="0" y1="0" x2="0" y2="1"><stop offset="0" stop-color="#e3db38"/><stop offset="0.043" stop-color="#e1dd37"/><stop offset="0.064" stop-color="#dfdf37"/><stop offset="0.085" stop-color="#d7e535"/><stop offset="0.106" stop-color="#cdec34"/><stop offset="0.128" stop-color="#b1f936"/><stop offset="0.149" stop-color="#9cfe40"/><stop offset="0.17" stop-color="#75fe5c"/><stop offset="0.191" stop-color="#46f884"/><stop offset="0.213" stop-color="#19e2bb"/><stop offset="0.234" stop-color="#1ad2d2"/><stop offset="0.294" stop-color="#22c5e2"/><stop offset="0.313" stop-color="#2fb2f4"/><stop offset="0.34" stop-color="#2fb2f4"/><stop offset="0.447" stop-color="#458cfd"/><stop offset="0.553" stop-color="#4771e9"/><stop offset="0.638" stop-color="#455ed3"/><stop offset="0.655" stop-color="#4559cb"/><stop offset="0.674" stop-color="#4456c7"/><stop offset="1" stop-color="#4454c3"/></linearGradient>
<linearGradient id="i136" x1="0" y1="0" x2="0" y2="1"><stop offset="0" stop-color="#e1dd37"/><stop offset="0.043" stop-color="#dde037"/><stop offset="0.064" stop-color="#dde037"/><stop offset="0.085" stop-color="#d4e735"/><stop offset="0.106" stop-color="#cbed34"/><stop offset="0.128" stop-color="#affa37"/><stop offset="0.149" stop-color="#99fe42"/><stop offset="0.17" stop-color="#71fe5f"/><stop offset="0.191" stop-color="#43f787"/><stop offset="0.213" stop-color="#19e2bb"/><stop offset="0.234" stop-color="#1bd0d5"/><stop offset="0.294" stop-color="#22c5e2"/><stop offset="0.313" stop-color="#2fb2f4"/><stop offset="0.34" stop-color="#2fb2f4"/><stop offset="0.447" stop-color="#458cfd"/><stop offset="0.553" stop-color="#4771e9"/><stop offset="0.638" stop-color="#455ed3"/><stop offset="0.655" stop-color="#4559cb"/><stop offset="0.674" stop-color="#4456c7"/><stop offset="1" stop-color="#4454c3"/></linearGradient>
<linearGradient id="i137" x1="0" y1="0" x2="0" y2="1"><stop offset="0" stop-color="#dfdf37"/><stop offset="0.043" stop-color="#dde037"/><stop offset="0.064" stop-color="#dbe236"/><stop offset="0.085" stop-color="#d4e735"/><stop offset="0.106" stop-color="#cbed34"/><stop offset="0.128" stop-color="#affa37"/><stop offset="0.149" stop-color="#99fe42"/><stop offset="0.17" stop-color="#71fe5f"/><stop offset="0.191" stop-color="#43f787"/><stop offset="0.213" stop-color="#19e2bb"/><stop offset="0.234" stop-color="#1bd0d5"/><stop offset="0.294" stop-color="#22c5e2"/><stop offset="0.313" stop-color="#2fb2f4"/><stop offset="0.34" stop-color="#2fb2f4"/><stop offset="0.447" stop-color="#448ffe"/><stop offset="0.553" stop-color="#4771e9"/><stop offset="0.638" stop-color="#455ed3"/><stop offset="0.655" stop-color="#4559cb"/><stop offset="0.674" stop-color="#4456c7"/><stop offset="1" stop-color="#4454c3"/></linearGradient>
<linearGradient id="i138" x1="0" y1="0" x2="0" y2="1"><stop offset="0" stop-color="#dde037"/><stop offset="0.043" stop-color="#dbe236"/><stop offset="0.064" stop-color="#d9e436"/><stop offset="0.085" stop-color="#d4e735"/><stop offset="0.106" stop-color="#cbed34"/><stop offset="0.128" stop-color="#affa37"/><stop offset="0.149" stop-color="#99fe42"/><stop offset="0.17" stop-color="#6dfe62"/><stop offset="0.191" stop-color="#43f787"/><stop offset="0.213" stop-color="#18e0bd"/><stop offset="0.234" stop-color="#1bd0d5"/><stop offset="0.294" stop-color="#22c5e2"/><stop offset="0.313" stop-color="#2eb4f2"/><stop offset="0.34" stop-color="#2eb4f2"/><stop offset="0.447" stop-color="#448ffe"/><stop offset="0.553" stop-color="#4771e9"/><stop offset="0.638" stop-color="#455ed3"/><stop offset="0.655" stop-color="#4559cb"/><stop offset="0.674" stop-color="#4456c7"/><stop offset="1" stop-color="#4454c3"/></linearGradient>
<linearGradient id="i139" x1="0" y1="0" x2="0" y2="1"><stop offset="0" stop-color="#d7e535"/><stop offset="0.043" stop-color="#d4e735"/><stop offset="0.064" stop-color="#d2e935"/><stop offset="0.085" stop-color="#d0ea34"/><stop offset="0.106" stop-color="#c6f034"/><stop offset="0.128" stop-color="#a7fc3a"/><stop offset="0.149" stop-color="#92ff47"/><stop offset="0.17" stop-color="#69fd66"/><stop offset="0.191" stop-color="#3cf58e"/><stop offset="0.213" stop-color="#18dec0"/><stop offset="0.234" stop-color="#1ccdd8"/><stop offset="0.294" stop-color="#23c3e4"/><stop offset="0.313" stop-color="#2eb4f2"/><stop offset="0.34" stop-color="#2eb4f2"/><stop offset="0.447" stop-color="#448ffe"/><stop offset="0.553" stop-color="#4771e9"/><stop offset="0.638" stop-color="#455ed3"/><stop offset="0.655" stop-color="#4559cb"/><stop offset="0.674" stop-color="#4456c7"/><stop offset="1" stop-color="#4454c3"/></linearGradient>
<linearGradient id="i140" x1="0" y1="0" x2="0" y2="1"><stop offset="0" stop-color="#cbed34"/><stop offset="0.043" stop-color="#c8ef34"/><stop offset="0.064" stop-color="#c8ef34"/><stop offset="0.085" stop-color="#c3f134"/><stop offset="0.106" stop-color="#b9f635"/><stop offset="0.128" stop-color="#9cfe40"/><stop offset="0.149" stop-color="#84ff51"/><stop offset="0.17" stop-color="#5dfc6f"/><stop offset="0.191" stop-color="#35f394"/><stop offset="0.213" stop-color="#18dec0"/><stop offset="0.234" stop-color="#1ecbda"/><stop offset="0.294" stop-color="#23c3e4"/><stop offset="0.313" stop-color="#2eb4f2"/><stop offset="0.34" stop-color="#2eb4f2"/><stop offset="0.447" stop-color="#448ffe"/><stop offset="0.553" stop-color="#4771e9"/><stop offset="0.638" stop-color="#455ed3"/><stop offset="0.655" stop-color="#4559cb"/><stop offset="0.674" stop-color="#4456c7"/><stop offset="1" stop-color="#4454c3"/></linearGradient>
<linearGradient id="i141" x1="0" y1="0" x2="0" y2="1"><stop offset="0" stop-color="#bef434"/><stop offset="0.043" stop-color="#bcf534"/><stop offset="0.064" stop-color="#bcf534"/><stop offset="0.085" stop-color="#b7f735"/><stop offset="0.106" stop-color="#affa37"/><stop offset="0.128" stop-color="#8fff49"/><stop offset="0.149" stop-color="#75fe5c"/><stop offset="0.17" stop-color="#52fa7a"/><stop offset="0.191" stop-color="#2ff19b"/><stop offset="0.213" stop-color="#18ddc2"/><stop offset="0.234" stop-color="#1fc9dd"/><stop offset="0.294" stop-color="#23c3e4"/><stop offset="0.313" stop-color="#2eb4f2"/><stop offset="0.34" stop-color="#2eb4f2"/><stop offset="0.447" stop-color="#448ffe"/><stop offset="0.553" stop-color="#4773eb"/><stop offset="0.638" stop-color="#455ed3"/><stop offset="0.655" stop-color="#4559cb"/><stop offset="0.674" stop-color="#4454c3"/><stop offset="1" stop-color="#4454c3"/></linearGradient>
<linearGradient id="i142" x1="0" y1="0" x2="0" y2="1"><stop offset="0" stop-color="#b7f735"/><stop offset="0.043" stop-color="#b4f836"/><stop offset="0.064" stop-color="#b1f936"/><stop offset="0.085" stop-color="#affa37"/><stop offset="0.106" stop-color="#a4fc3c"/><stop offset="0.128" stop-color="#84ff51"/><stop offset="0.149" stop-color="#69fd66"/><stop offset="0.17" stop-color="#46f884"/><stop offset="0.191" stop-color="#2aefa1"/><stop offset="0.213" stop-color="#18dbc5"/><stop offset="0.234" stop-color="#1fc9dd"/><stop offset="0.294" stop-color="#23c3e4"/><stop offset="0.313" stop-color="#2fb2f4"/><stop offset="0.34" stop-color="#2eb4f2"/><stop offset="0.447" stop-color="#448ffe"/><stop offset="0.553" stop-color="#4771e9"/><stop offset="0.638" stop-color="#455ed3"/><stop offset="0.655" stop-color="#4559cb"/><stop offset="0.674" stop-color="#4454c3"/><stop offset="1" stop-color="#4454c3"/></linearGradient>
<linearGradient id="i143" x1="0" y1="0" x2="0" y2="1"><stop offset="0" stop-color="#b1f936"/><stop offset="0.043" stop-color="#acfb38"/><stop offset="0.064" stop-color="#acfb38"/><stop offset="0.085" stop-color="#a9fb39"/><stop offset="0.106" stop-color="#9ffd3f"/><stop offset="0.128" stop-color="#7dff56"/><stop offset="0.149" stop-color="#61fc6c"/><stop offset="0.17" stop-color="#43f787"/><stop offset="0.191" stop-color="#27eea4"/><stop offset="0.213" stop-color="#18d9c8"/><stop offset="0.234" stop-color="#20c7df"/><stop offset="0.294" stop-color="#23c3e4"/><stop offset="0.313" stop-color="#2fb2f4"/><stop offset="0.34" stop-color="#2eb4f2"/><stop offset="0.447" stop-color="#448ffe"/><stop offset="0.553" stop-color="#4771e9"/><stop offset="0.638" stop-color="#455ed3"/><stop offset="0.655" stop-color="#4559cb"/><stop offset="0.674" stop-color="#4454c3"/><stop offset="1" stop-color="#4454c3"/></linearGradient>
<linearGradient id="i144" x1="0" y1="0" x2="0" y2="1"><stop offset="0" stop-color="#a9fb39"/><stop offset="0.043" stop-color="#a7fc3a"/><stop offset="0.064" stop-color="#a4fc3c"/><stop offset="0.085" stop-color="#a1fd3d"/><stop offset="0.106" stop-color="#99fe42"/><stop offset="0.128" stop-color="#75fe5c"/><stop offset="0.149" stop-color="#59fb73"/><stop offset="0.17" stop-color="#3cf58e"/><stop offset="0.191" stop-color="#25eca7"/><stop offset="0.213" stop-color="#18d9c8"/><stop offset="0.234" stop-color="#20c7df"/><stop offset="0.294" stop-color="#25c0e7"/><stop offset="0.313" stop-color="#31aff5"/><stop offset="0.34" stop-color="#2eb4f2"/><stop offset="0.447" stop-color="#448ffe"/><stop offset="0.553" stop-color="#4771e9"/><stop offset="0.638" stop-color="#455ed3"/><stop offset="0.655" stop-color="#4559cb"/><stop offset="0.674" stop-color="#4454c3"/><stop offset="1" stop-color="#4454c3"/></linearGradient>
<linearGradient id="i145" x1="0" y1="0" x2="0" y2="1"><stop offset="0" stop-color="#a9fb39"/><stop offset="0.043" stop-color="#a7fc3a"/><stop offset="0.064" stop-color="#a7fc3a"/><stop offset="0.085" stop-color="#a1fd3d"/><stop offset="0.106" stop-color="#99fe42"/><stop offset="0.128" stop-color="#75fe5c"/><stop offset="0.149" stop-color="#59fb73"/><stop offset="0.17" stop-color="#3cf58e"/><stop offset="0.191" stop-color="#22ebaa"/><stop offset="0.213" stop-color="#18d7ca"/><stop offset="0.234" stop-color="#22c5e2"/><stop offset="0.294" stop-color="#25c0e7"/><stop offset="0.313" stop-color="#31aff5"/><stop offset="0.34" stop-color="#2eb4f2"/><stop offset="0.447" stop-color="#448ffe"/><stop offset="0.553" stop-color="#4771e9"/><stop offset="0.638" stop-color="#455ed3"/><stop offset="0.655" stop-color="#4559cb"/><stop offset="0.674" stop-color="#4454c3"/><stop offset="1" stop-color="#4454c3"/></linearGradient>
<linearGradient id="i146" x1="0" y1="0" x2="0" y2="1"><stop offset="0" stop-color="#acfb38"/><stop offset="0.043" stop-color="#a9fb39"/><stop offset="0.064" stop-color="#a7fc3a"/><stop offset="0.085" stop-color="#a4fc3c"/><stop offset="0.106" stop-color="#9cfe40"/><stop offset="0.128" stop-color="#79fe59"/><stop offset="0.149" stop-color="#5dfc6f"/><stop offset="0.17" stop-color="#3ff68a"/><stop offset="0.191" stop-color="#22ebaa"/><stop offset="0.213" stop-color="#19d5cd"/><stop offset="0.234" stop-color="#22c5e2"/><stop offset="0.294" stop-color="#25c0e7"/><stop offset="0.313" stop-color="#31aff5"/><stop offset="0.34" stop-color="#2eb4f2"/><stop offset="0.447" stop-color="#448ffe"/><stop offset="0.553" stop-color="#4771e9"/><stop offset="0.638" stop-color="#455ed3"/><stop offset="0.655" stop-color="#4559cb"/><stop offset="0.674" stop-color="#4454c3"/><stop offset="1" stop-color="#4454c3"/></linearGradient>
<linearGradient id="i147" x1="0" y1="0" x2="0" y2="1"><stop offset="0" stop-color="#a4fc3c"/><stop offset="0.043" stop-color="#a1fd3d"/><stop offset="0.064" stop-color="#9ffd3f"/><stop offset="0.085" stop-color="#9cfe40"/><stop offset="0.106" stop-color="#92ff47"/><stop offset="0.128" stop-color="#6dfe62"/><stop offset="0.149" stop-color="#55fa76"/><stop offset="0.17" stop-color="#38f491"/><stop offset="0.191" stop-color="#20eaac"/><stop offset="0.213" stop-color="#19d5cd"/><stop offset="0.234" stop-color="#23c3e4"/><stop offset="0.294" stop-color="#25c0e7"/><stop offset="0.313" stop-color="#33adf7"/><stop offset="0.34" stop-color="#2eb4f2"/><stop offset="0.447" stop-color="#448ffe"/><stop offset="0.553" stop-color="#4771e9"/><stop offset="0.638" stop-color="#455ed3"/><stop offset="0.655" stop-color="#4559cb"/><stop offset="0.674" stop-color="#4454c3"/><stop offset="1" stop-color="#4454c3"/></linearGradient>
<linearGradient id="i148" x1="0" y1="0" x2="0" y2="1"><stop offset="0" stop-color="#92ff47"/><stop offset="0.043" stop-color="#8fff49"/><stop offset="0.064" stop-color="#8fff49"/><stop offset="0.085" stop-color="#8bff4b"/><stop offset="0.106" stop-color="#7dff56"/><stop offset="0.128" stop-color="#59fb73"/><stop offset="0.149" stop-color="#43f787"/><stop offset="0.17" stop-color="#2cf09e"/><stop offset="0.191" stop-color="#1de7b2"/><stop offset="0.213" stop-color="#19d5cd"/><stop offset="0.234" stop-color="#23c3e4"/><stop offset="0.294" stop-color="#25c0e7"/><stop offset="0.313" stop-color="#33adf7"/><stop offset="0.34" stop-color="#2eb4f2"/><stop offset="0.447" stop-color="#448ffe"/><stop offset="0.553" stop-color="#4771e9"/><stop offset="0.638" stop-color="#455ed3"/><stop offset="0.655" stop-color="#4559cb"/><stop offset="0.674" stop-color="#4454c3"/><stop offset="1" stop-color="#4454c3"/></linearGradient>
<linearGradient id="i149" x1="0" y1="0" x2="0" y2="1"><stop offset="0" stop-color="#84ff51"/><stop offset="0.043" stop-color="#80ff53"/><stop offset="0.064" stop-color="#7dff56"/><stop offset="0.085" stop-color="#79fe59"/><stop offset="0.106" stop-color="#6dfe62"/><stop offset="0.128" stop-color="#4af880"/><stop offset="0.149" stop-color="#35f394"/><stop offset="0.17" stop-color="#27eea4"/><stop offset="0.191" stop-color="#1ae4b6"/><stop offset="0.213" stop-color="#1ad4d0"/><stop offset="0.234" stop-color="#23c3e4"/><stop offset="0.294" stop-color="#25c0e7"/><stop offset="0.313" stop-color="#35abf8"/><stop offset="0.34" stop-color="#2eb4f2"/><stop offset="0.447" stop-color="#448ffe"/><stop offset="0.553" stop-color="#4771e9"/><stop offset="0.638" stop-color="#455ed3"/><stop offset="0.655" stop-color="#4559cb"/><stop offset="0.674" stop-color="#4454c3"/><stop offset="1" stop-color="#4454c3"/></linearGradient>
<linearGradient id="i150" x1="0" y1="0" x2="0" y2="1"><stop offset="0" stop-color="#84ff51"/><stop offset="0.043" stop-color="#80ff53"/><stop offset="0.064" stop-color="#7dff56"/><stop offset="0.085" stop-color="#79fe59"/><stop offset="0.106" stop-color="#6dfe62"/><stop offset="0.128" stop-color="#4af880"/><stop offset="0.149" stop-color="#35f394"/><stop offset="0.17" stop-color="#27eea4"/><stop offset="0.191" stop-color="#1ae4b6"/><stop offset="0.213" stop-color="#1ad4d0"/><stop offset="0.234" stop-color="#25c0e7"/><stop offset="0.294" stop-color="#25c0e7"/><stop offset="0.313" stop-color="#35abf8"/><stop offset="0.34" stop-color="#2eb4f2"/><stop offset="0.447" stop-color="#448ffe"/><stop offset="0.553" stop-color="#4771e9"/><stop offset="0.638" stop-color="#455ed3"/><stop offset="0.655" stop-color="#4559cb"/><stop offset="0.674" stop-color="#4454c3"/><stop offset="1" stop-color="#4454c3"/></linearGradient>
<linearGradient id="i151" x1="0" y1="0" x2="0" y2="1"><stop offset="0" stop-color="#8fff49"/><stop offset="0.043" stop-color="#8bff4b"/><stop offset="0.064" stop-color="#88ff4e"/><stop offset="0.085" stop-color="#84ff51"/><stop offset="0.106" stop-color="#79fe59"/><stop offset="0.128" stop-color="#55fa76"/><stop offset="0.149" stop-color="#3ff68a"/><stop offset="0.17" stop-color="#2cf09e"/><stop offset="0.191" stop-color="#1ce6b4"/><stop offset="0.213" stop-color="#19d5cd"/><stop offset="0.234" stop-color="#23c3e4"/><stop offset="0.294" stop-color="#25c0e7"/><stop offset="0.313" stop-color="#35abf8"/><stop offset="0.34" stop-color="#2cb7f0"/><stop offset="0.447" stop-color="#448ffe"/><stop offset="0.553" stop-color="#4771e9"/><stop offset="0.638" stop-color="#455ed3"/><stop offset="0.655" stop-color="#4559cb"/><stop offset="0.674" stop-color="#4454c3"/><stop offset="1" stop-color="#4454c3"/></linearGradient>
<linearGradient id="i152" x1="0" y1="0" x2="0" y2="1"><stop offset="0" stop-color="#96fe44"/><stop offset="0.043" stop-color="#92ff47"/><stop offset="0.064" stop-color="#92ff47"/><stop offset="0.085" stop-color="#8bff4b"/><stop offset="0.106" stop-color="#80ff53"/><stop offset="0.128" stop-color="#5dfc6f"/><stop offset="0.149" stop-color="#46f884"/><stop offset="0.17" stop-color="#2ff19b"/><stop offset="0.191" stop-color="#1fe9af"/><stop offset="0.213" stop-color="#19d5cd"/><stop offset="0.234" stop-color="#22c5e2"/><stop offset="0.294" stop-color="#23c3e4"/><stop offset="0.313" stop-color="#37a8fa"/><stop offset="0.34" stop-color="#2cb7f0"/><stop offset="0.447" stop-color="#448ffe"/><stop offset="0.553" stop-color="#4771e9"/><stop offset="0.638" stop-color="#455ed3"/><stop offset="0.655" stop-color="#4559cb"/><stop offset="0.674" stop-color="#4454c3"/><stop offset="1" stop-color="#4454c3"/></linearGradient>
<linearGradient id="i153" x1="0" y1="0" x2="0" y2="1"><stop offset="0" stop-color="#9ffd3f"/><stop offset="0.043" stop-color="#9cfe40"/><stop offset="0.064" stop-color="#99fe42"/><stop offset="0.085" stop-color="#96fe44"/><stop offset="0.106" stop-color="#8bff4b"/><stop offset="0.128" stop-color="#65fd69"/><stop offset="0.149" stop-color="#4ef97d"/><stop offset="0.17" stop-color="#35f394"/><stop offset="0.191" stop-color="#20eaac"/><stop offset="0.213" stop-color="#18d7ca"/><stop offset="0.234" stop-color="#22c5e2"/><stop offset="0.294" stop-color="#23c3e4"/><stop offset="0.313" stop-color="#37a8fa"/><stop offset="0.34" stop-color="#2cb7f0"/><stop offset="0.447" stop-color="#448ffe"/><stop offset="0.553" stop-color="#4771e9"/><stop offset="0.638" stop-color="#455ed3"/><stop offset="0.655" stop-color="#4559cb"/><stop offset="0.674" stop-color="#4454c3"/><stop offset="1" stop-color="#4454c3"/></linearGradient>
<linearGradient id="i154" x1="0" y1="0" x2="0" y2="1"><stop offset="0" stop-color="#a4fc3c"/><stop offset="0.043" stop-color="#a1fd3d"/><stop offset="0.064" stop-color="#a1fd3d"/><stop offset="0.085" stop-color="#9cfe40"/><stop offset="0.106" stop-color="#92ff47"/><stop offset="0.128" stop-color="#6dfe62"/><stop offset="0.149" stop-color="#55fa76"/><stop offset="0.17" stop-color="#38f491"/><stop offset="0.191" stop-color="#22ebaa"/><stop offset="0.213" stop-color="#18d9c8"/><stop offset="0.234" stop-color="#20c7df"/><stop offset="0.294" stop-color="#22c5e2"/><stop offset="0.313" stop-color="#37a8fa"/><stop offset="0.34" stop-color="#2ab9ee"/><stop offset="0.447" stop-color="#448ffe"/><stop offset="0.553" stop-color="#4771e9"/><stop offset="0.638" stop-color="#455ed3"/><stop offset="0.655" stop-color="#4559cb"/><stop offset="0.674" stop-color="#4454c3"/><stop offset="1" stop-color="#4454c3"/></linearGradient>
<linearGradient id="i155" x1="0" y1="0" x2="0" y2="1"><stop offset="0" stop-color="#a1fd3d"/><stop offset="0.043" stop-color="#9ffd3f"/><stop offset="0.064" stop-color="#9ffd3f"/><stop offset="0.085" stop-color="#9cfe40"/><stop offset="0.106" stop-color="#8fff49"/><stop offset="0.128" stop-color="#6dfe62"/><stop offset="0.149" stop-color="#52fa7a"/><stop offset="0.17" stop-color="#38f491"/><stop offset="0.191" stop-color="#22ebaa"/><stop offset="0.213" stop-color="#18d9c8"/><stop offset="0.234" stop-color="#20c7df"/><stop offset="0.294" stop-color="#22c5e2"/><stop offset="0.313" stop-color="#35abf8"/><stop offset="0.34" stop-color="#2ab9ee"/><stop offset="0.447" stop-color="#448ffe"/><stop offset="0.553" stop-color="#4771e9"/><stop offset="0.638" stop-color="#455ed3"/><stop offset="0.655" stop-color="#4559cb"/><stop offset="0.674" stop-color="#4454c3"/><stop offset="1" stop-color="#4454c3"/></linearGradient>
<linearGradient id="i156" x1="0" y1="0" x2="0" y2="1"><stop offset="0" stop-color="#a4fc3c"/><stop offset="0.043" stop-color="#a1fd3d"/><stop offset="0.064" stop-color="#9ffd3f"/><stop offset="0.085" stop-color="#9cfe40"/><stop offset="0.106" stop-color="#92ff47"/><stop offset="0.128" stop-color="#6dfe62"/><stop offset="0.149" stop-color="#55fa76"/><stop offset="0.17" stop-color="#3cf58e"/><stop offset="0.191" stop-color="#25eca7"/><stop offset="0.213" stop-color="#18dbc5"/><stop offset="0.234" stop-color="#1fc9dd"/><stop offset="0.294" stop-color="#20c7df"/><stop offset="0.313" stop-color="#35abf8"/><stop offset="0.34" stop-color="#2ab9ee"/><stop offset="0.447" stop-color="#448ffe"/><stop offset="0.553" stop-color="#4771e9"/><stop offset="0.638" stop-color="#455ed3"/><stop offset="0.655" stop-color="#4559cb"/><stop offset="0.674" stop-color="#4454c3"/><stop offset="1" stop-color="#4454c3"/></linearGradient>
<linearGradient id="i157" x1="0" y1="0" x2="0" y2="1"><stop offset="0" stop-color="#affa37"/><stop offset="0.043" stop-color="#acfb38"/><stop offset="0.064" stop-color="#a9fb39"/><stop offset="0.085" stop-color="#a7fc3a"/><stop offset="0.106" stop-color="#9ffd3f"/><stop offset="0.128" stop-color="#7dff56"/><stop offset="0.149" stop-color="#61fc6c"/><stop offset="0.17" stop-color="#43f787"/><stop offset="0.191" stop-color="#2aefa1"/><stop offset="0.213" stop-color="#18ddc2"/><stop offset="0.234" stop-color="#1ecbda"/><stop offset="0.294" stop-color="#20c7df"/><stop offset="0.313" stop-color="#35abf8"/><stop offset="0.34" stop-color="#28bceb"/><stop offset="0.447" stop-color="#448ffe"/><stop offset="0.553" stop-color="#4773eb"/><stop offset="0.638" stop-color="#455ed3"/><stop offset="0.655" stop-color="#4559cb"/><stop offset="0.674" stop-color="#4454c3"/><stop offset="1" stop-color="#4454c3"/></linearGradient>
<linearGradient id="i158" x1="0" y1="0" x2="0" y2="1"><stop offset="0" stop-color="#bcf534"/><stop offset="0.043" stop-color="#b9f635"/><stop offset="0.064" stop-color="#b9f635"/><stop offset="0.085" stop-color="#b4f836"/><stop offset="0.106" stop-color="#acfb38"/><stop offset="0.128" stop-color="#8bff4b"/><stop offset="0.149" stop-color="#71fe5f"/><stop offset="0.17" stop-color="#4ef97d"/><stop offset="0.191" stop-color="#2ff19b"/><stop offset="0.213" stop-color="#18dec0"/><stop offset="0.234" stop-color="#1ecbda"/><stop offset="0.294" stop-color="#20c7df"/><stop offset="0.313" stop-color="#35abf8"/><stop offset="0.34" stop-color="#28bceb"/><stop offset="0.447" stop-color="#4391fe"/><stop offset="0.553" stop-color="#4773eb"/><stop offset="0.638" stop-color="#4661d6"/><stop offset="0.655" stop-color="#4559cb"/><stop offset="0.674" stop-color="#4454c3"/><stop offset="1" stop-color="#4454c3"/></linearGradient>
<linearGradient id="i159" x1="0" y1="0" x2="0" y2="1"><stop offset="0" stop-color="#c3f134"/><stop offset="0.043" stop-color="#c1f334"/><stop offset="0.064" stop-color="#c1f334"/><stop offset="0.085" stop-color="#bcf534"/><stop offset="0.106" stop-color="#b4f836"/><stop offset="0.128" stop-color="#96fe44"/><stop offset="0.149" stop-color="#7dff56"/><stop offset="0.17" stop-color="#55fa76"/><stop offset="0.191" stop-color="#35f394"/><stop offset="0.213" stop-color="#18dec0"/><stop offset="0.234" stop-color="#1ccdd8"/><stop offset="0.294" stop-color="#1fc9dd"/><stop offset="0.313" stop-color="#33adf7"/><stop offset="0.34" stop-color="#28bceb"/><stop offset="0.447" stop-color="#4391fe"/><stop offset="0.553" stop-color="#4773eb"/><stop offset="0.638" stop-color="#4661d6"/><stop offset="0.655" stop-color="#4559cb"/><stop offset="0.674" stop-color="#4454c3"/><stop offset="1" stop-color="#4454c3"/></linearGradient>
<linearGradient id="i160" x1="0" y1="0" x2="0" y2="1"><stop offset="0" stop-color="#bef434"/><stop offset="0.043" stop-color="#bcf534"/><stop offset="0.064" stop-color="#b9f635"/><stop offset="0.085" stop-color="#b7f735"/><stop offset="0.106" stop-color="#affa37"/><stop offset="0.128" stop-color="#8fff49"/><stop offset="0.149" stop-color="#75fe5c"/><stop offset="0.17" stop-color="#52fa7a"/><stop offset="0.191" stop-color="#32f298"/><stop offset="0.213" stop-color="#18dec0"/><stop offset="0.234" stop-color="#1ccdd8"/><stop offset="0.294" stop-color="#1fc9dd"/><stop offset="0.313" stop-color="#33adf7"/><stop offset="0.34" stop-color="#28bceb"/><stop offset="0.447" stop-color="#4391fe"/><stop offset="0.553" stop-color="#4773eb"/><stop offset="0.638" stop-color="#4661d6"/><stop offset="0.655" stop-color="#4559cb"/><stop offset="0.674" stop-color="#4454c3"/><stop offset="1" stop-color="#4454c3"/></linearGradient>
<linearGradient id="i161" x1="0" y1="0" x2="0" y2="1"><stop offset="0" stop-color="#b1f936"/><stop offset="0.043" stop-color="#affa37"/><stop offset="0.064" stop-color="#affa37"/><stop offset="0.085" stop-color="#a9fb39"/><stop offset="0.106" stop-color="#a1fd3d"/><stop offset="0.128" stop-color="#80ff53"/><stop offset="0.149" stop-color="#65fd69"/><stop offset="0.17" stop-color="#46f884"/><stop offset="0.191" stop-color="#2cf09e"/><stop offset="0.213" stop-color="#18dec0"/><stop offset="0.234" stop-color="#1ecbda"/><stop offset="0.294" stop-color="#1fc9dd"/><stop offset="0.313" stop-color="#33adf7"/><stop offset="0.34" stop-color="#28bceb"/><stop offset="0.447" stop-color="#4294ff"/><stop offset="0.553" stop-color="#4773eb"/><stop offset="0.638" stop-color="#4661d6"/><stop offset="0.655" stop-color="#4559cb"/><stop offset="0.674" stop-color="#4454c3"/><stop offset="1" stop-color="#4454c3"/></linearGradient>
<linearGradient id="i162" x1="0" y1="0" x2="0" y2="1"><stop offset="0" stop-color="#a4fc3c"/><stop offset="0.043" stop-color="#a1fd3d"/><stop offset="0.064" stop-color="#9ffd3f"/><stop offset="0.085" stop-color="#9cfe40"/><stop offset="0.106" stop-color="#92ff47"/><stop offset="0.128" stop-color="#6dfe62"/><stop offset="0.149" stop-color="#55fa76"/><stop offset="0.17" stop-color="#3cf58e"/><stop offset="0.191" stop-color="#25eca7"/><stop offset="0.213" stop-color="#18ddc2"/><stop offset="0.234" stop-color="#1ecbda"/><stop offset="0.294" stop-color="#20c7df"/><stop offset="0.313" stop-color="#33adf7"/><stop offset="0.34" stop-color="#28bceb"/><stop offset="0.447" stop-color="#4294ff"/><stop offset="0.553" stop-color="#4773eb"/><stop offset="0.638" stop-color="#4661d6"/><stop offset="0.655" stop-color="#4559cb"/><stop offset="0.674" stop-color="#4454c3"/><stop offset="1" stop-color="#4454c3"/></linearGradient>
<linearGradient id="i163" x1="0" y1="0" x2="0" y2="1"><stop offset="0" stop-color="#96fe44"/><stop offset="0.043" stop-color="#92ff47"/><stop offset="0.064" stop-color="#8fff49"/><stop offset="0.085" stop-color="#8bff4b"/><stop offset="0.106" stop-color="#80ff53"/><stop offset="0.128" stop-color="#5dfc6f"/><stop offset="0.149" stop-color="#43f787"/><stop offset="0.17" stop-color="#32f298"/><stop offset="0.191" stop-color="#20eaac"/><stop offset="0.213" stop-color="#18dbc5"/><stop offset="0.234" stop-color="#1fc9dd"/><stop offset="0.294" stop-color="#20c7df"/><stop offset="0.313" stop-color="#33adf7"/><stop offset="0.34" stop-color="#28bceb"/><stop offset="0.447" stop-color="#4294ff"/><stop offset="0.553" stop-color="#4773eb"/><stop offset="0.638" stop-color="#4661d6"/><stop offset="0.655" stop-color="#4559cb"/><stop offset="0.674" stop-color="#4454c3"/><stop offset="1" stop-color="#4454c3"/></linearGradient>
<linearGradient id="i164" x1="0" y1="0" x2="0" y2="1"><stop offset="0" stop-color="#8fff49"/><stop offset="0.043" stop-color="#8bff4b"/><stop offset="0.064" stop-color="#8bff4b"/><stop offset="0.085" stop-color="#88ff4e"/><stop offset="0.106" stop-color="#7dff56"/><stop offset="0.128" stop-color="#55fa76"/><stop offset="0.149" stop-color="#3ff68a"/><stop offset="0.17" stop-color="#2ff19b"/><stop offset="0.191" stop-color="#1fe9af"/><stop offset="0.213" stop-color="#18d9c8"/><stop offset="0.234" stop-color="#20c7df"/><stop offset="0.294" stop-color="#20c7df"/><stop offset="0.313" stop-color="#33adf7"/><stop offset="0.34" stop-color="#28bceb"/><stop offset="0.447" stop-color="#4294ff"/><stop offset="0.553" stop-color="#4773eb"/><stop offset="0.638" stop-color="#4661d6"/><stop offset="0.655" stop-color="#4559cb"/><stop offset="0.674" stop-color="#4454c3"/><stop offset="1" stop-color="#4454c3"/></linearGradient>
<linearGradient id="i165" x1="0" y1="0" x2="0" y2="1"><stop offset="0" stop-color="#9ffd3f"/><stop offset="0.043" stop-color="#9cfe40"/><stop offset="0.064" stop-color="#99fe42"/><stop offset="0.085" stop-color="#96fe44"/><stop offset="0.106" stop-color="#8bff4b"/><stop offset="0.128" stop-color="#65fd69"/><stop offset="0.149" stop-color="#4ef97d"/><stop offset="0.17" stop-color="#35f394"/><stop offset="0.191" stop-color="#22ebaa"/><stop offset="0.213" stop-color="#18d9c8"/><stop offset="0.234" stop-color="#20c7df"/><stop offset="0.294" stop-color="#20c7df"/><stop offset="0.313" stop-color="#33adf7"/><stop offset="0.34" stop-color="#27bee9"/><stop offset="0.447" stop-color="#4294ff"/><stop offset="0.553" stop-color="#4773eb"/><stop offset="0.638" stop-color="#4661d6"/><stop offset="0.655" stop-color="#4559cb"/><stop offset="0.674" stop-color="#4454c3"/><stop offset="1" stop-color="#4454c3"/></linearGradient>
<linearGradient id="i166" x1="0" y1="0" x2="0" y2="1"><stop offset="0" stop-color="#a7fc3a"/><stop offset="0.043" stop-color="#a1fd3d"/><stop offset="0.064" stop-color="#a1fd3d"/><stop offset="0.085" stop-color="#9ffd3f"/><stop offset="0.106" stop-color="#96fe44"/><stop offset="0.128" stop-color="#71fe5f"/><stop offset="0.149" stop-color="#55fa76"/><stop offset="0.17" stop-color="#3cf58e"/><stop offset="0.191" stop-color="#25eca7"/><stop offset="0.213" stop-color="#18dbc5"/><stop offset="0.234" stop-color="#1fc9dd"/><stop offset="0.294" stop-color="#20c7df"/><stop offset="0.313" stop-color="#33adf7"/><stop offset="0.34" stop-color="#27bee9"/><stop offset="0.447" stop-color="#4294ff"/><stop offset="0.553" stop-color="#4773eb"/><stop offset="0.638" stop-color="#4661d6"/><stop offset="0.655" stop-color="#4559cb"/><stop offset="0.674" stop-color="#4454c3"/><stop offset="1" stop-color="#4454c3"/></linearGradient>
<linearGradient id="i167" x1="0" y1="0" x2="0" y2="1"><stop offset="0" stop-color="#a1fd3d"/><stop offset="0.043" stop-color="#9ffd3f"/><stop offset="0.064" stop-color="#9ffd3f"/><stop offset="0.085" stop-color="#9cfe40"/><stop offset="0.106" stop-color="#8fff49"/><stop offset="0.128" stop-color="#69fd66"/><stop offset="0.149" stop-color="#52fa7a"/><stop offset="0.17" stop-color="#38f491"/><stop offset="0.191" stop-color="#25eca7"/><stop offset="0.213" stop-color="#18dbc5"/><stop offset="0.234" stop-color="#1fc9dd"/><stop offset="0.294" stop-color="#20c7df"/><stop offset="0.313" stop-color="#33adf7"/><stop offset="0.34" stop-color="#27bee9"/><stop offset="0.447" stop-color="#4294ff"/><stop offset="0.553" stop-color="#4776ee"/><stop offset="0.638" stop-color="#4661d6"/><stop offset="0.655" stop-color="#4559cb"/><stop offset="0.674" stop-color="#4454c3"/><stop offset="1" stop-color="#4454c3"/></linearGradient>
<linearGradient id="i168" x1="0" y1="0" x2="0" y2="1"><stop offset="0" stop-color="#a7fc3a"/><stop offset="0.043" stop-color="#a4fc3c"/><stop offset="0.064" stop-color="#a1fd3d"/><stop offset="0.085" stop-color="#9ffd3f"/><stop offset="0.106" stop-color="#96fe44"/><stop offset="0.128" stop-color="#71fe5f"/><stop offset="0.149" stop-color="#55fa76"/><stop offset="0.17" stop-color="#3cf58e"/><stop offset="0.191" stop-color="#25eca7"/><stop offset="0.213" stop-color="#18dbc5"/><stop offset="0.234" stop-color="#1fc9dd"/><stop offset="0.294" stop-color="#1fc9dd"/><stop offset="0.313" stop-color="#33adf7"/><stop offset="0.34" stop-color="#27bee9"/><stop offset="0.447" stop-color="#4294ff"/><stop offset="0.553" stop-color="#4776ee"/><stop offset="0.638" stop-color="#4661d6"/><stop offset="0.655" stop-color="#4559cb"/><stop offset="0.674" stop-color="#4454c3"/><stop offset="1" stop-color="#4454c3"/></linearGradient>
<linearGradient id="i169" x1="0" y1="0" x2="0" y2="1"><stop offset="0" stop-color="#affa37"/><stop offset="0.043" stop-color="#acfb38"/><stop offset="0.064" stop-color="#acfb38"/><stop offset="0.085" stop-color="#a7fc3a"/><stop offset="0.106" stop-color="#9ffd3f"/><stop offset="0.128" stop-color="#7dff56"/><stop offset="0.149" stop-color="#61fc6c"/><stop offset="0.17" stop-color="#43f787"/><stop offset="0.191" stop-color="#2aefa1"/><stop offset="0.213" stop-color="#18dbc5"/><stop offset="0.234" stop-color="#1fc9dd"/><stop offset="0.294" stop-color="#1fc9dd"/><stop offset="0.313" stop-color="#33adf7"/><stop offset="0.34" stop-color="#27bee9"/><stop offset="0.447" stop-color="#4294ff"/><stop offset="0.553" stop-color="#4776ee"/><stop offset="0.638" stop-color="#4661d6"/><stop offset="0.655" stop-color="#4559cb"/><stop offset="0.674" stop-color="#4454c3"/><stop offset="1" stop-color="#4454c3"/></linearGradient>
<linearGradient id="i170" x1="0" y1="0" x2="0" y2="1"><stop offset="0" stop-color="#b4f836"/><stop offset="0.043" stop-color="#b1f936"/><stop offset="0.064" stop-color="#b1f936"/><stop offset="0.085" stop-color="#acfb38"/><stop offset="0.106" stop-color="#a4fc3c"/><stop offset="0.128" stop-color="#84ff51"/><stop offset="0.149" stop-color="#69fd66"/><stop offset="0.17" stop-color="#46f884"/><stop offset="0.191" stop-color="#2aefa1"/><stop offset="0.213" stop-color="#18ddc2"/><stop offset="0.234" stop-color="#1fc9dd"/><stop offset="0.294" stop-color="#1fc9dd"/><stop offset="0.313" stop-color="#33adf7"/><stop offset="0.34" stop-color="#27bee9"/><stop offset="0.447" stop-color="#4294ff"/><stop offset="0.553" stop-color="#4776ee"/><stop offset="0.638" stop-color="#4661d6"/><stop offset="0.655" stop-color="#4559cb"/><stop offset="0.674" stop-color="#4454c3"/><stop offset="1" stop-color="#4454c3"/></linearGradient>
<linearGradient id="i171" x1="0" y1="0" x2="0" y2="1"><stop offset="0" stop-color="#b7f735"/><stop offset="0.043" stop-color="#b4f836"/><stop offset="0.064" stop-color="#b1f936"/><stop offset="0.085" stop-color="#affa37"/><stop offset="0.106" stop-color="#a7fc3a"/><stop offset="0.128" stop-color="#84ff51"/><stop offset="0.149" stop-color="#69fd66"/><stop offset="0.17" stop-color="#4af880"/><stop offset="0.191" stop-color="#2cf09e"/><stop offset="0.213" stop-color="#18ddc2"/><stop offset="0.234" stop-color="#1ecbda"/><stop offset="0.294" stop-color="#1fc9dd"/><stop offset="0.313" stop-color="#31aff5"/><stop offset="0.34" stop-color="#27bee9"/><stop offset="0.447" stop-color="#4294ff"/><stop offset="0.553" stop-color="#4776ee"/><stop offset="0.638" stop-color="#4661d6"/><stop offset="0.655" stop-color="#4559cb"/><stop offset="0.674" stop-color="#4454c3"/><stop offset="1" stop-color="#4454c3"/></linearGradient>
<linearGradient id="i172" x1="0" y1="0" x2="0" y2="1"><stop offset="0" stop-color="#b1f936"/><stop offset="0.043" stop-color="#affa37"/><stop offset="0.064" stop-color="#affa37"/><stop offset="0.085" stop-color="#a9fb39"/><stop offset="0.106" stop-color="#a1fd3d"/><stop offset="0.128" stop-color="#80ff53"/><stop offset="0.149" stop-color="#65fd69"/><stop offset="0.17" stop-color="#46f884"/><stop offset="0.191" stop-color="#2aefa1"/><stop offset="0.213" stop-color="#18ddc2"/><stop offset="0.234" stop-color="#1ecbda"/><stop offset="0.294" stop-color="#1fc9dd"/><stop offset="0.313" stop-color="#31aff5"/><stop offset="0.34" stop-color="#27bee9"/><stop offset="0.447" stop-color="#4294ff"/><stop offset="0.553" stop-color="#4776ee"/><stop offset="0.638" stop-color="#4661d6"/><stop offset="0.655" stop-color="#4559cb"/><stop offset="0.674" stop-color="#4454c3"/><stop offset="1" stop-color="#4454c3"/></linearGradient>
<linearGradient id="i173" x1="0" y1="0" x2="0" y2="1"><stop offset="0" stop-color="#b1f936"/><stop offset="0.043" stop-color="#affa37"/><stop offset="0.064" stop-color="#acfb38"/><stop offset="0.085" stop-color="#a9fb39"/><stop offset="0.106" stop-color="#a1fd3d"/><stop offset="0.128" stop-color="#80ff53"/><stop offset="0.149" stop-color="#65fd69"/><stop offset="0.17" stop-color="#46f884"/><stop offset="0.191" stop-color="#2aefa1"/><stop offset="0.213" stop-color="#18dbc5"/><stop offset="0.234" stop-color="#1fc9dd"/><stop offset="0.294" stop-color="#1fc9dd"/><stop offset="0.313" stop-color="#31aff5"/><stop offset="0.34" stop-color="#27bee9"/><stop offset="0.447" stop-color="#4294ff"/><stop offset="0.553" stop-color="#4776ee"/><stop offset="0.638" stop-color="#4661d6"/><stop offset="0.655" stop-color="#4559cb"/><stop offset="0.674" stop-color="#4454c3"/><stop offset="1" stop-color="#4454c3"/></linearGradient>
<linearGradient id="i174" x1="0" y1="0" x2="0" y2="1"><stop offset="0" stop-color="#b1f936"/><stop offset="0.043" stop-color="#affa37"/><stop offset="0.064" stop-color="#affa37"/><stop offset="0.085" stop-color="#acfb38"/><stop offset="0.106" stop-color="#a1fd3d"/><stop offset="0.128" stop-color="#80ff53"/><stop offset="0.149" stop-color="#65fd69"/><stop offset="0.17" stop-color="#46f884"/><stop offset="0.191" stop-color="#2aefa1"/><stop offset="0.213" stop-color="#18dbc5"/><stop offset="0.234" stop-color="#1fc9dd"/><stop offset="0.294" stop-color="#1fc9dd"/><stop offset="0.313" stop-color="#31aff5"/><stop offset="0.34" stop-color="#27bee9"/><stop offset="0.447" stop-color="#4294ff"/><stop offset="0.553" stop-color="#4776ee"/><stop offset="0.638" stop-color="#4661d6"/><stop offset="0.655" stop-color="#4559cb"/><stop offset="0.674" stop-color="#4454c3"/><stop offset="1" stop-color="#4454c3"/></linearGradient>
<linearGradient id="i175" x1="0" y1="0" x2="0" y2="1"><stop offset="0" stop-color="#acfb38"/><stop offset="0.043" stop-color="#a9fb39"/><stop offset="0.064" stop-color="#a9fb39"/><stop offset="0.085" stop-color="#a7fc3a"/><stop offset="0.106" stop-color="#9cfe40"/><stop offset="0.128" stop-color="#79fe59"/><stop offset="0.149" stop-color="#5dfc6f"/><stop offset="0.17" stop-color="#43f787"/><stop offset="0.191" stop-color="#27eea4"/><stop offset="0.213" stop-color="#18dbc5"/><stop offset="0.234" stop-color="#1fc9dd"/><stop offset="0.294" stop-color="#1fc9dd"/><stop offset="0.313" stop-color="#33adf7"/><stop offset="0.34" stop-color="#27bee9"/><stop offset="0.447" stop-color="#4294ff"/><stop offset="0.553" stop-color="#4773eb"/><stop offset="0.638" stop-color="#4661d6"/><stop offset="0.655" stop-color="#4559cb"/><stop offset="0.674" stop-color="#4454c3"/><stop offset="1" stop-color="#4454c3"/></linearGradient>
<linearGradient id="i176" x1="0" y1="0" x2="0" y2="1"><stop offset="0" stop-color="#a1fd3d"/><stop offset="0.043" stop-color="#9ffd3f"/><stop offset="0.064" stop-color="#9cfe40"/><stop offset="0.085" stop-color="#99fe42"/><stop offset="0.106" stop-color="#8fff49"/><stop offset="0.128" stop-color="#69fd66"/><stop offset="0.149" stop-color="#52fa7a"/><stop offset="0.17" stop-color="#38f491"/><stop offset="0.191" stop-color="#22ebaa"/><stop offset="0.213" stop-color="#18dbc5"/><stop offset="0.234" stop-color="#1fc9dd"/><stop offset="0.294" stop-color="#1fc9dd"/><stop offset="0.313" stop-color="#33adf7"/><stop offset="0.34" stop-color="#27bee9"/><stop offset="0.447" stop-color="#4294ff"/><stop offset="0.553" stop-color="#4773eb"/><stop offset="0.638" stop-color="#4661d6"/><stop offset="0.655" stop-color="#4559cb"/><stop offset="0.674" stop-color="#4454c3"/><stop offset="1" stop-color="#4454c3"/></linearGradient>
<linearGradient id="i177" x1="0" y1="0" x2="0" y2="1"><stop offset="0" stop-color="#9cfe40"/><stop offset="0.043" stop-color="#99fe42"/><stop offset="0.064" stop-color="#99fe42"/><stop offset="0.085" stop-color="#96fe44"/><stop offset="0.106" stop-color="#88ff4e"/><stop offset="0.128" stop-color="#65fd69"/><stop offset="0.149" stop-color="#4af880"/><stop offset="0.17" stop-color="#35f394"/><stop offset="0.191" stop-color="#22ebaa"/><stop offset="0.213" stop-color="#18dbc5"/><stop offset="0.234" stop-color="#1fc9dd"/><stop offset="0.294" stop-color="#1fc9dd"/><stop offset="0.313" stop-color="#33adf7"/><stop offset="0.34" stop-color="#27bee9"/><stop offset="0.447" stop-color="#4294ff"/><stop offset="0.553" stop-color="#4773eb"/><stop offset="0.638" stop-color="#4661d6"/><stop offset="0.655" stop-color="#4559cb"/><stop offset="0.674" stop-color="#4454c3"/><stop offset="1" stop-color="#4454c3"/></linearGradient>
<linearGradient id="i178" x1="0" y1="0" x2="0" y2="1"><stop offset="0" stop-color="#a1fd3d"/><stop offset="0.043" stop-color="#9ffd3f"/><stop offset="0.064" stop-color="#9ffd3f"/><stop offset="0.085" stop-color="#9cfe40"/><stop offset="0.106" stop-color="#8fff49"/><stop offset="0.128" stop-color="#6dfe62"/><stop offset="0.149" stop-color="#52fa7a"/><stop offset="0.17" stop-color="#38f491"/><stop offset="0.191" stop-color="#25eca7"/><stop offset="0.213" stop-color="#18dbc5"/><stop offset="0.234" stop-color="#1fc9dd"/><stop offset="0.294" stop-color="#1fc9dd"/><stop offset="0.313" stop-color="#33adf7"/><stop offset="0.34" stop-color="#27bee9"/><stop offset="0.447" stop-color="#4294ff"/><stop offset="0.553" stop-color="#4773eb"/><stop offset="0.638" stop-color="#4661d6"/><stop offset="0.655" stop-color="#4559cb"/><stop offset="0.674" stop-color="#4454c3"/><stop offset="1" stop-color="#4454c3"/></linearGradient>
<linearGradient id="i179" x1="0" y1="0" x2="0" y2="1"><stop offset="0" stop-color="#a9fb39"/><stop offset="0.043" stop-color="#a4fc3c"/><stop offset="0.064" stop-color="#a4fc3c"/><stop offset="0.085" stop-color="#a1fd3d"/><stop offset="0.106" stop-color="#99fe42"/><stop offset="0.128" stop-color="#75fe5c"/><stop offset="0.149" stop-color="#59fb73"/><stop offset="0.17" stop-color="#3ff68a"/><stop offset="0.191" stop-color="#25eca7"/><stop offset="0.213" stop-color="#18dbc5"/><stop offset="0.234" stop-color="#1fc9dd"/><stop offset="0.294" stop-color="#1fc9dd"/><stop offset="0.313" stop-color="#33adf7"/><stop offset="0.34" stop-color="#27bee9"/><stop offset="0.447" stop-color="#4294ff"/><stop offset="0.553" stop-color="#4773eb"/><stop offset="0.638" stop-color="#4661d6"/><stop offset="0.655" stop-color="#4559cb"/><stop offset="0.674" stop-color="#4454c3"/><stop offset="1" stop-color="#4454c3"/></linearGradient>
<linearGradient id="i180" x1="0" y1="0" x2="0" y2="1"><stop offset="0" stop-color="#a9fb39"/><stop offset="0.043" stop-color="#a7fc3a"/><stop offset="0.064" stop-color="#a4fc3c"/><stop offset="0.085" stop-color="#a1fd3d"/><stop offset="0.106" stop-color="#99fe42"/><stop offset="0.128" stop-color="#75fe5c"/><stop offset="0.149" stop-color="#59fb73"/><stop offset="0.17" stop-color="#3ff68a"/><stop offset="0.191" stop-color="#25eca7"/><stop offset="0.213" stop-color="#18dbc5"/><stop offset="0.234" stop-color="#1fc9dd"/><stop offset="0.294" stop-color="#20c7df"/><stop offset="0.313" stop-color="#33adf7"/><stop offset="0.34" stop-color="#27bee9"/><stop offset="0.447" stop-color="#4294ff"/><stop offset="0.553" stop-color="#4773eb"/><stop offset="0.638" stop-color="#4661d6"/><stop offset="0.655" stop-color="#4559cb"/><stop offset="0.674" stop-color="#4454c3"/><stop offset="1" stop-color="#4454c3"/></linearGradient>
<linearGradient id="i181" x1="0" y1="0" x2="0" y2="1"><stop offset="0" stop-color="#9ffd3f"/><stop offset="0.043" stop-color="#9cfe40"/><stop offset="0.064" stop-color="#9cfe40"/><stop offset="0.085" stop-color="#99fe42"/><stop offset="0.106" stop-color="#8bff4b"/><stop offset="0.128" stop-color="#69fd66"/><stop offset="0.149" stop-color="#4ef97d"/><stop offset="0.17" stop-color="#35f394"/><stop offset="0.191" stop-color="#22ebaa"/><stop offset="0.213" stop-color="#18d9c8"/><stop offset="0.234" stop-color="#20c7df"/><stop offset="0.294" stop-color="#20c7df"/><stop offset="0.313" stop-color="#33adf7"/><stop offset="0.34" stop-color="#28bceb"/><stop offset="0.447" stop-color="#4391fe"/><stop offset="0.553" stop-color="#4773eb"/><stop offset="0.638" stop-color="#455ed3"/><stop offset="0.655" stop-color="#4559cb"/><stop offset="0.674" stop-color="#4454c3"/><stop offset="1" stop-color="#4454c3"/></linearGradient>
<linearGradient id="i182" x1="0" y1="0" x2="0" y2="1"><stop offset="0" stop-color="#8fff49"/><stop offset="0.043" stop-color="#8bff4b"/><stop offset="0.064" stop-color="#8bff4b"/><stop offset="0.085" stop-color="#88ff4e"/><stop offset="0.106" stop-color="#7dff56"/><stop offset="0.128" stop-color="#55fa76"/><stop offset="0.149" stop-color="#3ff68a"/><stop offset="0.17" stop-color="#2cf09e"/><stop offset="0.191" stop-color="#1de7b2"/><stop offset="0.213" stop-color="#18d7ca"/><stop offset="0.234" stop-color="#22c5e2"/><stop offset="0.294" stop-color="#22c5e2"/><stop offset="0.313" stop-color="#35abf8"/><stop offset="0.34" stop-color="#28bceb"/><stop offset="0.447" stop-color="#4391fe"/><stop offset="0.553" stop-color="#4771e9"/><stop offset="0.638" stop-color="#455ed3"/><stop offset="0.655" stop-color="#4559cb"/><stop offset="0.674" stop-color="#4454c3"/><stop offset="1" stop-color="#4454c3"/></linearGradient>
<linearGradient id="i183" x1="0" y1="0" x2="0" y2="1"><stop offset="0" stop-color="#84ff51"/><stop offset="0.043" stop-color="#80ff53"/><stop offset="0.064" stop-color="#7dff56"/><stop offset="0.085" stop-color="#79fe59"/><stop offset="0.106" stop-color="#6dfe62"/><stop offset="0.128" stop-color="#4af880"/><stop offset="0.149" stop-color="#35f394"/><stop offset="0.17" stop-color="#27eea4"/><stop offset="0.191" stop-color="#1ae4b6"/><stop offset="0.213" stop-color="#19d5cd"/><stop offset="0.234" stop-color="#23c3e4"/><stop offset="0.294" stop-color="#23c3e4"/><stop offset="0.313" stop-color="#35abf8"/><stop offset="0.34" stop-color="#2ab9ee"/><stop offset="0.447" stop-color="#448ffe"/><stop offset="0.553" stop-color="#4771e9"/><stop offset="0.638" stop-color="#455ed3"/><stop offset="0.655" stop-color="#4559cb"/><stop offset="0.674" stop-color="#4454c3"/><stop offset="1" stop-color="#4454c3"/></linearGradient>
<linearGradient id="i184" x1="0" y1="0" x2="0" y2="1"><stop offset="0" stop-color="#7dff56"/><stop offset="0.043" stop-color="#79fe59"/><stop offset="0.064" stop-color="#75fe5c"/><stop offset="0.085" stop-color="#71fe5f"/><stop offset="0.106" stop-color="#65fd69"/><stop offset="0.128" stop-color="#43f787"/><stop offset="0.149" stop-color="#2ff19b"/><stop offset="0.17" stop-color="#25eca7"/><stop offset="0.191" stop-color="#1ae4b6"/><stop offset="0.213" stop-color="#1ad4d0"/><stop offset="0.234" stop-color="#23c3e4"/><stop offset="0.294" stop-color="#23c3e4"/><stop offset="0.313" stop-color="#35abf8"/><stop offset="0.34" stop-color="#2ab9ee"/><stop offset="0.447" stop-color="#448ffe"/><stop offset="0.553" stop-color="#4771e9"/><stop offset="0.638" stop-color="#455ed3"/><stop offset="0.655" stop-color="#4559cb"/><stop offset="0.674" stop-color="#4454c3"/><stop offset="1" stop-color="#4454c3"/></linearGradient>
<linearGradient id="i185" x1="0" y1="0" x2="0" y2="1"><stop offset="0" stop-color="#79fe59"/><stop offset="0.043" stop-color="#75fe5c"/><stop offset="0.064" stop-color="#71fe5f"/><stop offset="0.085" stop-color="#6dfe62"/><stop offset="0.106" stop-color="#61fc6c"/><stop offset="0.128" stop-color="#3ff68a"/><stop offset="0.149" stop-color="#2ff19b"/><stop offset="0.17" stop-color="#22ebaa"/><stop offset="0.191" stop-color="#19e3b9"/><stop offset="0.213" stop-color="#1ad4d0"/><stop offset="0.234" stop-color="#25c0e7"/><stop offset="0.294" stop-color="#23c3e4"/><stop offset="0.313" stop-color="#35abf8"/><stop offset="0.34" stop-color="#2ab9ee"/><stop offset="0.447" stop-color="#448ffe"/><stop offset="0.553" stop-color="#4771e9"/><stop offset="0.638" stop-color="#455ed3"/><stop offset="0.655" stop-color="#4559cb"/><stop offset="0.674" stop-color="#4454c3"/><stop offset="1" stop-color="#4454c3"/></linearGradient>
<linearGradient id="i186" x1="0" y1="0" x2="0" y2="1"><stop offset="0" stop-color="#75fe5c"/><stop offset="0.043" stop-color="#71fe5f"/><stop offset="0.064" stop-color="#71fe5f"/><stop offset="0.085" stop-color="#6dfe62"/><stop offset="0.106" stop-color="#61fc6c"/><stop offset="0.128" stop-color="#3ff68a"/><stop offset="0.149" stop-color="#2cf09e"/><stop offset="0.17" stop-color="#20eaac"/><stop offset="0.191" stop-color="#19e3b9"/><stop offset="0.213" stop-color="#1ad4d0"/><stop offset="0.234" stop-color="#25c0e7"/><stop offset="0.294" stop-color="#23c3e4"/><stop offset="0.313" stop-color="#35abf8"/><stop offset="0.34" stop-color="#2ab9ee"/><stop offset="0.447" stop-color="#448ffe"/><stop offset="0.553" stop-color="#4771e9"/><stop offset="0.638" stop-color="#455ed3"/><stop offset="0.655" stop-color="#4559cb"/><stop offset="0.674" stop-color="#4454c3"/><stop offset="1" stop-color="#4454c3"/></linearGradient>
<linearGradient id="i187" x1="0" y1="0" x2="0" y2="1"><stop offset="0" stop-color="#75fe5c"/><stop offset="0.043" stop-color="#71fe5f"/><stop offset="0.064" stop-color="#71fe5f"/><stop offset="0.085" stop-color="#6dfe62"/><stop offset="0.106" stop-color="#61fc6c"/><stop offset="0.128" stop-color="#3ff68a"/><stop offset="0.149" stop-color="#2cf09e"/><stop offset="0.17" stop-color="#20eaac"/><stop offset="0.191" stop-color="#19e2bb"/><stop offset="0.213" stop-color="#1ad2d2"/><stop offset="0.234" stop-color="#25c0e7"/><stop offset="0.294" stop-color="#23c3e4"/><stop offset="0.313" stop-color="#35abf8"/><stop offset="0.34" stop-color="#2ab9ee"/><stop offset="0.447" stop-color="#448ffe"/><stop offset="0.553" stop-color="#4771e9"/><stop offset="0.638" stop-color="#455ed3"/><stop offset="0.655" stop-color="#4559cb"/><stop offset="0.674" stop-color="#4454c3"/><stop offset="1" stop-color="#4454c3"/></linearGradient>
<linearGradient id="i188" x1="0" y1="0" x2="0" y2="1"><stop offset="0" stop-color="#75fe5c"/><stop offset="0.043" stop-color="#71fe5f"/><stop offset="0.064" stop-color="#71fe5f"/><stop offset="0.085" stop-color="#6dfe62"/><stop offset="0.106" stop-color="#61fc6c"/><stop offset="0.128" stop-color="#3ff68a"/><stop offset="0.149" stop-color="#2cf09e"/><stop offset="0.17" stop-color="#20eaac"/><stop offset="0.191" stop-color="#19e2bb"/><stop offset="0.213" stop-color="#1ad2d2"/><stop offset="0.234" stop-color="#25c0e7"/><stop offset="0.294" stop-color="#23c3e4"/><stop offset="0.313" stop-color="#35abf8"/><stop offset="0.34" stop-color="#2ab9ee"/><stop offset="0.447" stop-color="#448ffe"/><stop offset="0.553" stop-color="#4771e9"/><stop offset="0.638" stop-color="#455ed3"/><stop offset="0.655" stop-color="#4559cb"/><stop offset="0.674" stop-color="#4454c3"/><stop offset="1" stop-color="#4454c3"/></linearGradient>
<linearGradient id="i189" x1="0" y1="0" x2="0" y2="1"><stop offset="0" stop-color="#75fe5c"/><stop offset="0.043" stop-color="#71fe5f"/><stop offset="0.064" stop-color="#6dfe62"/><stop offset="0.085" stop-color="#69fd66"/><stop offset="0.106" stop-color="#5dfc6f"/><stop offset="0.128" stop-color="#3ff68a"/><stop offset="0.149" stop-color="#2cf09e"/><stop offset="0.17" stop-color="#20eaac"/><stop offset="0.191" stop-color="#19e2bb"/><stop offset="0.213" stop-color="#1ad2d2"/><stop offset="0.234" stop-color="#27bee9"/><stop offset="0.294" stop-color="#23c3e4"/><stop offset="0.313" stop-color="#35abf8"/><stop offset="0.34" stop-color="#2ab9ee"/><stop offset="0.447" stop-color="#448ffe"/><stop offset="0.553" stop-color="#4771e9"/><stop offset="0.638" stop-color="#455ed3"/><stop offset="0.655" stop-color="#4559cb"/><stop offset="0.674" stop-color="#4454c3"/><stop offset="1" stop-color="#4454c3"/></linearGradient>
<linearGradient id="i190" x1="0" y1="0" x2="0" y2="1"><stop offset="0" stop-color="#6dfe62"/><stop offset="0.043" stop-color="#69fd66"/><stop offset="0.064" stop-color="#65fd69"/><stop offset="0.085" stop-color="#61fc6c"/><stop offset="0.106" stop-color="#59fb73"/><stop offset="0.128" stop-color="#38f491"/><stop offset="0.149" stop-color="#27eea4"/><stop offset="0.17" stop-color="#1fe9af"/><stop offset="0.191" stop-color="#18e0bd"/><stop offset="0.213" stop-color="#1bd0d5"/><stop offset="0.234" stop-color="#27bee9"/><stop offset="0.294" stop-color="#23c3e4"/><stop offset="0.313" stop-color="#35abf8"/><stop offset="0.34" stop-color="#2ab9ee"/><stop offset="0.447" stop-color="#448ffe"/><stop offset="0.553" stop-color="#4771e9"/><stop offset="0.638" stop-color="#455ed3"/><stop offset="0.655" stop-color="#4559cb"/><stop offset="0.674" stop-color="#4454c3"/><stop offset="1" stop-color="#4454c3"/></linearGradient>
<linearGradient id="i191" x1="0" y1="0" x2="0" y2="1"><stop offset="0" stop-color="#69fd66"/><stop offset="0.043" stop-color="#65fd69"/><stop offset="0.064" stop-color="#61fc6c"/><stop offset="0.085" stop-color="#5dfc6f"/><stop offset="0.106" stop-color="#55fa76"/><stop offset="0.128" stop-color="#35f394"/><stop offset="0.149" stop-color="#25eca7"/><stop offset="0.17" stop-color="#1de7b2"/><stop offset="0.191" stop-color="#18dec0"/><stop offset="0.213" stop-color="#1bd0d5"/><stop offset="0.234" stop-color="#27bee9"/><stop offset="0.294" stop-color="#23c3e4"/><stop offset="0.313" stop-color="#35abf8"/><stop offset="0.34" stop-color="#28bceb"/><stop offset="0.447" stop-color="#448ffe"/><stop offset="0.553" stop-color="#4771e9"/><stop offset="0.638" stop-color="#455ed3"/><stop offset="0.655" stop-color="#4559cb"/><stop offset="0.674" stop-color="#4454c3"/><stop offset="1" stop-color="#4454c3"/></linearGradient>
<linearGradient id="i192" x1="0" y1="0" x2="0" y2="1"><stop offset="0" stop-color="#69fd66"/><stop offset="0.043" stop-color="#65fd69"/><stop offset="0.064" stop-color="#61fc6c"/><stop offset="0.085" stop-color="#5dfc6f"/><stop offset="0.106" stop-color="#52fa7a"/><stop offset="0.128" stop-color="#35f394"/><stop offset="0.149" stop-color="#25eca7"/><stop offset="0.17" stop-color="#1de7b2"/><stop offset="0.191" stop-color="#18dec0"/><stop offset="0.213" stop-color="#1bd0d5"/><stop offset="0.234" stop-color="#28bceb"/><stop offset="0.294" stop-color="#23c3e4"/><stop offset="0.313" stop-color="#35abf8"/><stop offset="0.34" stop-color="#28bceb"/><stop offset="0.447" stop-color="#448ffe"/><stop offset="0.553" stop-color="#4773eb"/><stop offset="0.638" stop-color="#455ed3"/><stop offset="0.655" stop-color="#4559cb"/><stop offset="0.674" stop-color="#4454c3"/><stop offset="1" stop-color="#4454c3"/></linearGradient>
<linearGradient id="i193" x1="0" y1="0" x2="0" y2="1"><stop offset="0" stop-color="#65fd69"/><stop offset="0.043" stop-color="#61fc6c"/><stop offset="0.064" stop-color="#61fc6c"/><stop offset="0.085" stop-color="#5dfc6f"/><stop offset="0.106" stop-color="#52fa7a"/><stop offset="0.128" stop-color="#35f394"/><stop offset="0.149" stop-color="#25eca7"/><stop offset="0.17" stop-color="#1ce6b4"/><stop offset="0.191" stop-color="#18dec0"/><stop offset="0.213" stop-color="#1ccdd8"/><stop offset="0.234" stop-color="#28bceb"/><stop offset="0.294" stop-color="#25c0e7"/><stop offset="0.313" stop-color="#35abf8"/><stop offset="0.34" stop-color="#28bceb"/><stop offset="0.447" stop-color="#448ffe"/><stop offset="0.553" stop-color="#4773eb"/><stop offset="0.638" stop-color="#4661d6"/><stop offset="0.655" stop-color="#4559cb"/><stop offset="0.674" stop-color="#4454c3"/><stop offset="1" stop-color="#4454c3"/></linearGradient>
<linearGradient id="i194" x1="0" y1="0" x2="0" y2="1"><stop offset="0" stop-color="#61fc6c"/><stop offset="0.043" stop-color="#5dfc6f"/><stop offset="0.064" stop-color="#5dfc6f"/><stop offset="0.085" stop-color="#59fb73"/><stop offset="0.106" stop-color="#4ef97d"/><stop offset="0.128" stop-color="#2ff19b"/><stop offset="0.149" stop-color="#22ebaa"/><stop offset="0.17" stop-color="#1ae4b6"/><stop offset="0.191" stop-color="#18ddc2"/><stop offset="0.213" stop-color="#1ccdd8"/><stop offset="0.234" stop-color="#28bceb"/><stop offset="0.294" stop-color="#25c0e7"/><stop offset="0.313" stop-color="#35abf8"/><stop offset="0.34" stop-color="#28bceb"/><stop offset="0.447" stop-color="#448ffe"/><stop offset="0.553" stop-color="#4773eb"/><stop offset="0.638" stop-color="#4661d6"/><stop offset="0.655" stop-color="#4559cb"/><stop offset="0.674" stop-color="#4454c3"/><stop offset="1" stop-color="#4454c3"/></linearGradient>
<linearGradient id="i195" x1="0" y1="0" x2="0" y2="1"><stop offset="0" stop-color="#5dfc6f"/><stop offset="0.043" stop-color="#59fb73"/><stop offset="0.064" stop-color="#59fb73"/><stop offset="0.085" stop-color="#55fa76"/><stop offset="0.106" stop-color="#4af880"/><stop offset="0.128" stop-color="#2ff19b"/><stop offset="0.149" stop-color="#20eaac"/><stop offset="0.17" stop-color="#1ae4b6"/><stop offset="0.191" stop-color="#18ddc2"/><stop offset="0.213" stop-color="#1ecbda"/><stop offset="0.234" stop-color="#2ab9ee"/><stop offset="0.294" stop-color="#25c0e7"/><stop offset="0.313" stop-color="#35abf8"/><stop offset="0.34" stop-color="#28bceb"/><stop offset="0.447" stop-color="#448ffe"/><stop offset="0.553" stop-color="#4773eb"/><stop offset="0.638" stop-color="#455ed3"/><stop offset="0.655" stop-color="#4559cb"/><stop offset="0.674" stop-color="#4454c3"/><stop offset="1" stop-color="#4454c3"/></linearGradient>
<linearGradient id="i196" x1="0" y1="0" x2="0" y2="1"><stop offset="0" stop-color="#5dfc6f"/><stop offset="0.043" stop-color="#59fb73"/><stop offset="0.064" stop-color="#59fb73"/><stop offset="0.085" stop-color="#55fa76"/><stop offset="0.106" stop-color="#4af880"/><stop offset="0.128" stop-color="#2ff19b"/><stop offset="0.149" stop-color="#20eaac"/><stop offset="0.17" stop-color="#1ae4b6"/><stop offset="0.191" stop-color="#18ddc2"/><stop offset="0.213" stop-color="#1ccdd8"/><stop offset="0.234" stop-color="#28bceb"/><stop offset="0.294" stop-color="#25c0e7"/><stop offset="0.313" stop-color="#35abf8"/><stop offset="0.34" stop-color="#28bceb"/><stop offset="0.447" stop-color="#448ffe"/><stop offset="0.553" stop-color="#4773eb"/><stop offset="0.638" stop-color="#455ed3"/><stop offset="0.655" stop-color="#4559cb"/><stop offset="0.674" stop-color="#4454c3"/><stop offset="1" stop-color="#4454c3"/></linearGradient>
<linearGradient id="ie0" x1="0" y1="0" x2="0" y2="1"><stop offset="0" stop-color="#1ecbda"/><stop offset="0.043" stop-color="#1ecbda"/><stop offset="0.064" stop-color="#1fc9dd"/><stop offset="0.085" stop-color="#2cb7f0"/><stop offset="0.106" stop-color="#2fb2f4"/><stop offset="0.128" stop-color="#37a8fa"/><stop offset="0.149" stop-color="#3ba0fd"/><stop offset="0.17" stop-color="#4196ff"/><stop offset="0.191" stop-color="#458afc"/><stop offset="0.213" stop-color="#4776ee"/><stop offset="0.234" stop-color="#4669e0"/><stop offset="0.34" stop-color="#4454c3"/><stop offset="0.447" stop-color="#4146ac"/><stop offset="0.553" stop-color="#3e3891"/><stop offset="0.638" stop-color="#3c3286"/><stop offset="0.655" stop-color="#3b2f80"/><stop offset="0.674" stop-color="#3a2d79"/><stop offset="1" stop-color="#3a2d79"/></linearGradient>
<linearGradient id="ie1" x1="0" y1="0" x2="0" y2="1"><stop offset="0" stop-color="#1bd0d5"/><stop offset="0.043" stop-color="#1bd0d5"/><stop offset="0.064" stop-color="#1ccdd8"/><stop offset="0.085" stop-color="#27bee9"/><stop offset="0.106" stop-color="#2ab9ee"/><stop offset="0.128" stop-color="#33adf7"/><stop offset="0.149" stop-color="#38a5fb"/><stop offset="0.17" stop-color="#4099ff"/><stop offset="0.191" stop-color="#458cfd"/><stop offset="0.213" stop-color="#4778f0"/><stop offset="0.234" stop-color="#466be3"/><stop offset="0.34" stop-color="#4559cb"/><stop offset="0.447" stop-color="#4249b1"/><stop offset="0.553" stop-color="#3f3b97"/><stop offset="0.638" stop-color="#3c3286"/><stop offset="0.655" stop-color="#3b2f80"/><stop offset="0.674" stop-color="#3b2f80"/><stop offset="1" stop-color="#3a2d79"/></linearGradient>
<linearGradient id="ie2" x1="0" y1="0" x2="0" y2="1"><stop offset="0" stop-color="#4682f8"/><stop offset="0.043" stop-color="#4680f6"/><stop offset="0.064" stop-color="#4680f6"/><stop offset="0.085" stop-color="#4680f6"/><stop offset="0.106" stop-color="#467df4"/><stop offset="0.128" stop-color="#4776ee"/><stop offset="0.149" stop-color="#4771e9"/><stop offset="0.17" stop-color="#466be3"/><stop offset="0.191" stop-color="#4666dd"/><stop offset="0.213" stop-color="#455ed3"/><stop offset="0.234" stop-color="#4456c7"/><stop offset="0.294" stop-color="#4559cb"/><stop offset="0.313" stop-color="#434eba"/><stop offset="0.34" stop-color="#4456c7"/><stop offset="0.447" stop-color="#4143a7"/><stop offset="0.553" stop-color="#3e3891"/><stop offset="0.638" stop-color="#3b2f80"/><stop offset="0.655" stop-color="#3a2d79"/><stop offset="0.674" stop-color="#3a2d79"/><stop offset="1" stop-color="#392a73"/></linearGradient>
<radialGradient id="spI"><stop offset="0" stop-color="#2cb0f5"/><stop offset=".45" stop-color="#38a0f2" stop-opacity=".8"/><stop offset="1" stop-color="#4458c8" stop-opacity="0"/></radialGradient>
<linearGradient id="v0" x1="0" y1="0" x2="0" y2="1"><stop offset="0" stop-color="#e1e1ff"/><stop offset="0.01" stop-color="#e1e1ff"/><stop offset="0.022" stop-color="#e1e1ff"/><stop offset="0.032" stop-color="#d9d9ff"/><stop offset="0.051" stop-color="#d5d5ff"/><stop offset="0.072" stop-color="#e1e1ff"/><stop offset="0.092" stop-color="#d5d5ff"/><stop offset="0.106" stop-color="#cdcdff"/><stop offset="0.121" stop-color="#c5c5ff"/><stop offset="0.136" stop-color="#cdcdff"/><stop offset="0.155" stop-color="#e9e9ff"/><stop offset="0.177" stop-color="#ffe9e9"/><stop offset="0.196" stop-color="#f9f9ff"/><stop offset="0.224" stop-color="#f9f9ff"/><stop offset="0.249" stop-color="#f1f1ff"/><stop offset="0.27" stop-color="#f9f9ff"/><stop offset="0.294" stop-color="#e9e9ff"/><stop offset="0.313" stop-color="#f5f5ff"/><stop offset="0.341" stop-color="#e1e1ff"/><stop offset="0.362" stop-color="#f1f1ff"/><stop offset="0.379" stop-color="#f5f5ff"/><stop offset="0.413" stop-color="#e1e1ff"/><stop offset="0.432" stop-color="#e9e9ff"/><stop offset="0.458" stop-color="#f5f5ff"/><stop offset="0.511" stop-color="#f5f5ff"/><stop offset="0.575" stop-color="#f1f1ff"/><stop offset="0.639" stop-color="#f5f5ff"/><stop offset="0.702" stop-color="#f5f5ff"/><stop offset="0.766" stop-color="#f9f9ff"/><stop offset="0.83" stop-color="#f9f9ff"/><stop offset="0.873" stop-color="#fdfdff"/><stop offset="0.915" stop-color="#fffdfd"/><stop offset="1" stop-color="#fffdfd"/></linearGradient>
<linearGradient id="v1" x1="0" y1="0" x2="0" y2="1"><stop offset="0" stop-color="#e5e5ff"/><stop offset="0.01" stop-color="#e5e5ff"/><stop offset="0.022" stop-color="#e5e5ff"/><stop offset="0.032" stop-color="#d9d9ff"/><stop offset="0.051" stop-color="#d5d5ff"/><stop offset="0.072" stop-color="#e1e1ff"/><stop offset="0.092" stop-color="#d5d5ff"/><stop offset="0.106" stop-color="#cdcdff"/><stop offset="0.121" stop-color="#c9c9ff"/><stop offset="0.136" stop-color="#cdcdff"/><stop offset="0.155" stop-color="#e9e9ff"/><stop offset="0.177" stop-color="#f9f9ff"/><stop offset="0.196" stop-color="#f9f9ff"/><stop offset="0.224" stop-color="#f9f9ff"/><stop offset="0.249" stop-color="#f1f1ff"/><stop offset="0.27" stop-color="#f9f9ff"/><stop offset="0.294" stop-color="#e9e9ff"/><stop offset="0.313" stop-color="#f5f5ff"/><stop offset="0.341" stop-color="#e1e1ff"/><stop offset="0.362" stop-color="#f1f1ff"/><stop offset="0.379" stop-color="#f5f5ff"/><stop offset="0.413" stop-color="#e1e1ff"/><stop offset="0.432" stop-color="#e9e9ff"/><stop offset="0.458" stop-color="#f5f5ff"/><stop offset="0.511" stop-color="#f5f5ff"/><stop offset="0.575" stop-color="#f1f1ff"/><stop offset="0.639" stop-color="#f5f5ff"/><stop offset="0.702" stop-color="#f5f5ff"/><stop offset="0.766" stop-color="#f9f9ff"/><stop offset="0.83" stop-color="#f9f9ff"/><stop offset="0.873" stop-color="#fdfdff"/><stop offset="0.915" stop-color="#fffdfd"/><stop offset="1" stop-color="#fffdfd"/></linearGradient>
<linearGradient id="v2" x1="0" y1="0" x2="0" y2="1"><stop offset="0" stop-color="#f1f1ff"/><stop offset="0.01" stop-color="#ededff"/><stop offset="0.022" stop-color="#e5e5ff"/><stop offset="0.032" stop-color="#d9d9ff"/><stop offset="0.051" stop-color="#d5d5ff"/><stop offset="0.072" stop-color="#e1e1ff"/><stop offset="0.092" stop-color="#d9d9ff"/><stop offset="0.106" stop-color="#d1d1ff"/><stop offset="0.121" stop-color="#c9c9ff"/><stop offset="0.136" stop-color="#cdcdff"/><stop offset="0.155" stop-color="#e9e9ff"/><stop offset="0.177" stop-color="#f9f9ff"/><stop offset="0.196" stop-color="#f9f9ff"/><stop offset="0.224" stop-color="#f9f9ff"/><stop offset="0.249" stop-color="#f1f1ff"/><stop offset="0.27" stop-color="#f9f9ff"/><stop offset="0.294" stop-color="#e9e9ff"/><stop offset="0.313" stop-color="#f5f5ff"/><stop offset="0.341" stop-color="#e1e1ff"/><stop offset="0.362" stop-color="#f1f1ff"/><stop offset="0.379" stop-color="#f5f5ff"/><stop offset="0.413" stop-color="#e1e1ff"/><stop offset="0.432" stop-color="#e9e9ff"/><stop offset="0.458" stop-color="#f5f5ff"/><stop offset="0.511" stop-color="#f5f5ff"/><stop offset="0.575" stop-color="#f1f1ff"/><stop offset="0.639" stop-color="#f5f5ff"/><stop offset="0.702" stop-color="#f5f5ff"/><stop offset="0.766" stop-color="#f9f9ff"/><stop offset="0.83" stop-color="#f9f9ff"/><stop offset="0.873" stop-color="#fdfdff"/><stop offset="0.915" stop-color="#fffdfd"/><stop offset="1" stop-color="#fffdfd"/></linearGradient>
<linearGradient id="v3" x1="0" y1="0" x2="0" y2="1"><stop offset="0" stop-color="#fdfdff"/><stop offset="0.01" stop-color="#f5f5ff"/><stop offset="0.022" stop-color="#e5e5ff"/><stop offset="0.032" stop-color="#ddddff"/><stop offset="0.051" stop-color="#d9d9ff"/><stop offset="0.072" stop-color="#e5e5ff"/><stop offset="0.092" stop-color="#ddddff"/><stop offset="0.106" stop-color="#d5d5ff"/><stop offset="0.121" stop-color="#cdcdff"/><stop offset="0.136" stop-color="#cdcdff"/><stop offset="0.155" stop-color="#e9e9ff"/><stop offset="0.177" stop-color="#f9f9ff"/><stop offset="0.196" stop-color="#f9f9ff"/><stop offset="0.224" stop-color="#f9f9ff"/><stop offset="0.249" stop-color="#f1f1ff"/><stop offset="0.27" stop-color="#f9f9ff"/><stop offset="0.294" stop-color="#e9e9ff"/><stop offset="0.313" stop-color="#f5f5ff"/><stop offset="0.341" stop-color="#e1e1ff"/><stop offset="0.362" stop-color="#f1f1ff"/><stop offset="0.379" stop-color="#f5f5ff"/><stop offset="0.413" stop-color="#e1e1ff"/><stop offset="0.432" stop-color="#e9e9ff"/><stop offset="0.458" stop-color="#f5f5ff"/><stop offset="0.511" stop-color="#f5f5ff"/><stop offset="0.575" stop-color="#f1f1ff"/><stop offset="0.639" stop-color="#f5f5ff"/><stop offset="0.702" stop-color="#f5f5ff"/><stop offset="0.766" stop-color="#f9f9ff"/><stop offset="0.83" stop-color="#f9f9ff"/><stop offset="0.873" stop-color="#fdfdff"/><stop offset="0.915" stop-color="#fffdfd"/><stop offset="1" stop-color="#fffdfd"/></linearGradient>
<linearGradient id="v4" x1="0" y1="0" x2="0" y2="1"><stop offset="0" stop-color="#fff5f5"/><stop offset="0.01" stop-color="#fdfdff"/><stop offset="0.022" stop-color="#e9e9ff"/><stop offset="0.032" stop-color="#ddddff"/><stop offset="0.051" stop-color="#d9d9ff"/><stop offset="0.072" stop-color="#e5e5ff"/><stop offset="0.092" stop-color="#ddddff"/><stop offset="0.106" stop-color="#d9d9ff"/><stop offset="0.121" stop-color="#d1d1ff"/><stop offset="0.136" stop-color="#cdcdff"/><stop offset="0.155" stop-color="#e5e5ff"/><stop offset="0.177" stop-color="#f9f9ff"/><stop offset="0.196" stop-color="#f9f9ff"/><stop offset="0.224" stop-color="#f9f9ff"/><stop offset="0.249" stop-color="#f1f1ff"/><stop offset="0.27" stop-color="#f9f9ff"/><stop offset="0.294" stop-color="#e9e9ff"/><stop offset="0.313" stop-color="#f5f5ff"/><stop offset="0.341" stop-color="#e1e1ff"/><stop offset="0.362" stop-color="#f1f1ff"/><stop offset="0.379" stop-color="#f5f5ff"/><stop offset="0.413" stop-color="#e1e1ff"/><stop offset="0.432" stop-color="#e9e9ff"/><stop offset="0.458" stop-color="#f5f5ff"/><stop offset="0.511" stop-color="#f5f5ff"/><stop offset="0.575" stop-color="#f1f1ff"/><stop offset="0.639" stop-color="#f5f5ff"/><stop offset="0.702" stop-color="#f5f5ff"/><stop offset="0.766" stop-color="#f9f9ff"/><stop offset="0.83" stop-color="#f9f9ff"/><stop offset="0.873" stop-color="#fdfdff"/><stop offset="0.915" stop-color="#fffdfd"/><stop offset="1" stop-color="#fffdfd"/></linearGradient>
<linearGradient id="v5" x1="0" y1="0" x2="0" y2="1"><stop offset="0" stop-color="#ffe9e9"/><stop offset="0.01" stop-color="#fff9f9"/><stop offset="0.022" stop-color="#e9e9ff"/><stop offset="0.032" stop-color="#ddddff"/><stop offset="0.051" stop-color="#ddddff"/><stop offset="0.072" stop-color="#e5e5ff"/><stop offset="0.092" stop-color="#e1e1ff"/><stop offset="0.106" stop-color="#ddddff"/><stop offset="0.121" stop-color="#d1d1ff"/><stop offset="0.136" stop-color="#cdcdff"/><stop offset="0.155" stop-color="#e5e5ff"/><stop offset="0.177" stop-color="#f9f9ff"/><stop offset="0.196" stop-color="#f9f9ff"/><stop offset="0.224" stop-color="#f9f9ff"/><stop offset="0.249" stop-color="#f1f1ff"/><stop offset="0.27" stop-color="#f9f9ff"/><stop offset="0.294" stop-color="#e9e9ff"/><stop offset="0.313" stop-color="#f5f5ff"/><stop offset="0.341" stop-color="#e1e1ff"/><stop offset="0.362" stop-color="#f1f1ff"/><stop offset="0.379" stop-color="#f5f5ff"/><stop offset="0.413" stop-color="#e1e1ff"/><stop offset="0.432" stop-color="#e9e9ff"/><stop offset="0.458" stop-color="#f5f5ff"/><stop offset="0.511" stop-color="#f5f5ff"/><stop offset="0.575" stop-color="#f1f1ff"/><stop offset="0.639" stop-color="#f5f5ff"/><stop offset="0.702" stop-color="#f5f5ff"/><stop offset="0.766" stop-color="#f9f9ff"/><stop offset="0.83" stop-color="#f9f9ff"/><stop offset="0.873" stop-color="#fdfdff"/><stop offset="0.915" stop-color="#fffdfd"/><stop offset="1" stop-color="#fffdfd"/></linearGradient>
<linearGradient id="v6" x1="0" y1="0" x2="0" y2="1"><stop offset="0" stop-color="#ffd9d9"/><stop offset="0.01" stop-color="#ffe9e9"/><stop offset="0.022" stop-color="#ededff"/><stop offset="0.032" stop-color="#e1e1ff"/><stop offset="0.051" stop-color="#ddddff"/><stop offset="0.072" stop-color="#e9e9ff"/><stop offset="0.092" stop-color="#e5e5ff"/><stop offset="0.106" stop-color="#e1e1ff"/><stop offset="0.121" stop-color="#d5d5ff"/><stop offset="0.136" stop-color="#cdcdff"/><stop offset="0.155" stop-color="#e5e5ff"/><stop offset="0.177" stop-color="#f9f9ff"/><stop offset="0.196" stop-color="#f9f9ff"/><stop offset="0.224" stop-color="#f9f9ff"/><stop offset="0.249" stop-color="#f1f1ff"/><stop offset="0.27" stop-color="#f9f9ff"/><stop offset="0.294" stop-color="#e9e9ff"/><stop offset="0.313" stop-color="#f5f5ff"/><stop offset="0.341" stop-color="#e1e1ff"/><stop offset="0.362" stop-color="#f1f1ff"/><stop offset="0.379" stop-color="#f5f5ff"/><stop offset="0.413" stop-color="#e1e1ff"/><stop offset="0.432" stop-color="#e9e9ff"/><stop offset="0.458" stop-color="#f5f5ff"/><stop offset="0.511" stop-color="#f5f5ff"/><stop offset="0.575" stop-color="#f1f1ff"/><stop offset="0.639" stop-color="#f5f5ff"/><stop offset="0.702" stop-color="#f5f5ff"/><stop offset="0.766" stop-color="#f9f9ff"/><stop offset="0.83" stop-color="#f9f9ff"/><stop offset="0.873" stop-color="#fdfdff"/><stop offset="0.915" stop-color="#fffdfd"/><stop offset="1" stop-color="#fffdfd"/></linearGradient>
<linearGradient id="v7" x1="0" y1="0" x2="0" y2="1"><stop offset="0" stop-color="#ffc5c5"/><stop offset="0.01" stop-color="#ffdddd"/><stop offset="0.022" stop-color="#f1f1ff"/><stop offset="0.032" stop-color="#e1e1ff"/><stop offset="0.051" stop-color="#e1e1ff"/><stop offset="0.072" stop-color="#e9e9ff"/><stop offset="0.092" stop-color="#e5e5ff"/><stop offset="0.106" stop-color="#e5e5ff"/><stop offset="0.121" stop-color="#d9d9ff"/><stop offset="0.136" stop-color="#cdcdff"/><stop offset="0.155" stop-color="#e5e5ff"/><stop offset="0.177" stop-color="#f9f9ff"/><stop offset="0.196" stop-color="#f9f9ff"/><stop offset="0.224" stop-color="#f9f9ff"/><stop offset="0.249" stop-color="#f1f1ff"/><stop offset="0.27" stop-color="#f9f9ff"/><stop offset="0.294" stop-color="#e9e9ff"/><stop offset="0.313" stop-color="#f5f5ff"/><stop offset="0.341" stop-color="#e1e1ff"/><stop offset="0.362" stop-color="#f1f1ff"/><stop offset="0.379" stop-color="#f5f5ff"/><stop offset="0.413" stop-color="#e1e1ff"/><stop offset="0.432" stop-color="#e9e9ff"/><stop offset="0.458" stop-color="#f5f5ff"/><stop offset="0.511" stop-color="#f5f5ff"/><stop offset="0.575" stop-color="#f1f1ff"/><stop offset="0.639" stop-color="#f5f5ff"/><stop offset="0.702" stop-color="#f5f5ff"/><stop offset="0.766" stop-color="#f9f9ff"/><stop offset="0.83" stop-color="#f9f9ff"/><stop offset="0.873" stop-color="#fdfdff"/><stop offset="0.915" stop-color="#fffdfd"/><stop offset="1" stop-color="#fffdfd"/></linearGradient>
<linearGradient id="v8" x1="0" y1="0" x2="0" y2="1"><stop offset="0" stop-color="#ffb5b5"/><stop offset="0.01" stop-color="#ffcdcd"/><stop offset="0.022" stop-color="#f5f5ff"/><stop offset="0.032" stop-color="#e5e5ff"/><stop offset="0.051" stop-color="#e5e5ff"/><stop offset="0.072" stop-color="#ededff"/><stop offset="0.092" stop-color="#e9e9ff"/><stop offset="0.106" stop-color="#e5e5ff"/><stop offset="0.121" stop-color="#ddddff"/><stop offset="0.136" stop-color="#cdcdff"/><stop offset="0.155" stop-color="#e5e5ff"/><stop offset="0.177" stop-color="#f9f9ff"/><stop offset="0.196" stop-color="#f9f9ff"/><stop offset="0.224" stop-color="#f9f9ff"/><stop offset="0.249" stop-color="#f1f1ff"/><stop offset="0.27" stop-color="#f9f9ff"/><stop offset="0.294" stop-color="#e9e9ff"/><stop offset="0.313" stop-color="#f5f5ff"/><stop offset="0.341" stop-color="#e1e1ff"/><stop offset="0.362" stop-color="#f1f1ff"/><stop offset="0.379" stop-color="#f5f5ff"/><stop offset="0.413" stop-color="#e1e1ff"/><stop offset="0.432" stop-color="#e9e9ff"/><stop offset="0.458" stop-color="#f5f5ff"/><stop offset="0.511" stop-color="#f5f5ff"/><stop offset="0.575" stop-color="#f1f1ff"/><stop offset="0.639" stop-color="#f5f5ff"/><stop offset="0.702" stop-color="#f5f5ff"/><stop offset="0.766" stop-color="#f9f9ff"/><stop offset="0.83" stop-color="#f9f9ff"/><stop offset="0.873" stop-color="#fdfdff"/><stop offset="0.915" stop-color="#fffdfd"/><stop offset="1" stop-color="#fffdfd"/></linearGradient>
<linearGradient id="v9" x1="0" y1="0" x2="0" y2="1"><stop offset="0" stop-color="#ffa9a9"/><stop offset="0.01" stop-color="#ffc5c5"/><stop offset="0.022" stop-color="#f9f9ff"/><stop offset="0.032" stop-color="#e5e5ff"/><stop offset="0.051" stop-color="#e5e5ff"/><stop offset="0.072" stop-color="#ededff"/><stop offset="0.092" stop-color="#ededff"/><stop offset="0.106" stop-color="#e9e9ff"/><stop offset="0.121" stop-color="#ddddff"/><stop offset="0.136" stop-color="#cdcdff"/><stop offset="0.155" stop-color="#e1e1ff"/><stop offset="0.177" stop-color="#f9f9ff"/><stop offset="0.196" stop-color="#f9f9ff"/><stop offset="0.224" stop-color="#f9f9ff"/><stop offset="0.249" stop-color="#f1f1ff"/><stop offset="0.27" stop-color="#f9f9ff"/><stop offset="0.294" stop-color="#e9e9ff"/><stop offset="0.313" stop-color="#f5f5ff"/><stop offset="0.341" stop-color="#e1e1ff"/><stop offset="0.362" stop-color="#f1f1ff"/><stop offset="0.379" stop-color="#f5f5ff"/><stop offset="0.413" stop-color="#e1e1ff"/><stop offset="0.432" stop-color="#e9e9ff"/><stop offset="0.458" stop-color="#f5f5ff"/><stop offset="0.511" stop-color="#f5f5ff"/><stop offset="0.575" stop-color="#f1f1ff"/><stop offset="0.639" stop-color="#f5f5ff"/><stop offset="0.702" stop-color="#f5f5ff"/><stop offset="0.766" stop-color="#f9f9ff"/><stop offset="0.83" stop-color="#f9f9ff"/><stop offset="0.873" stop-color="#fdfdff"/><stop offset="0.915" stop-color="#fffdfd"/><stop offset="1" stop-color="#fffdfd"/></linearGradient>
<linearGradient id="v10" x1="0" y1="0" x2="0" y2="1"><stop offset="0" stop-color="#ffa5a5"/><stop offset="0.01" stop-color="#ffc1c1"/><stop offset="0.022" stop-color="#f9f9ff"/><stop offset="0.032" stop-color="#e9e9ff"/><stop offset="0.051" stop-color="#e9e9ff"/><stop offset="0.072" stop-color="#ededff"/><stop offset="0.092" stop-color="#ededff"/><stop offset="0.106" stop-color="#e9e9ff"/><stop offset="0.121" stop-color="#e1e1ff"/><stop offset="0.136" stop-color="#cdcdff"/><stop offset="0.155" stop-color="#e1e1ff"/><stop offset="0.177" stop-color="#f5f5ff"/><stop offset="0.196" stop-color="#f9f9ff"/><stop offset="0.224" stop-color="#f9f9ff"/><stop offset="0.249" stop-color="#f1f1ff"/><stop offset="0.27" stop-color="#f9f9ff"/><stop offset="0.294" stop-color="#e9e9ff"/><stop offset="0.313" stop-color="#f5f5ff"/><stop offset="0.341" stop-color="#e1e1ff"/><stop offset="0.362" stop-color="#f1f1ff"/><stop offset="0.379" stop-color="#f5f5ff"/><stop offset="0.413" stop-color="#e1e1ff"/><stop offset="0.432" stop-color="#e9e9ff"/><stop offset="0.458" stop-color="#f5f5ff"/><stop offset="0.511" stop-color="#f5f5ff"/><stop offset="0.575" stop-color="#f1f1ff"/><stop offset="0.639" stop-color="#f5f5ff"/><stop offset="0.702" stop-color="#f5f5ff"/><stop offset="0.766" stop-color="#f9f9ff"/><stop offset="0.83" stop-color="#f9f9ff"/><stop offset="0.873" stop-color="#fdfdff"/><stop offset="0.915" stop-color="#fffdfd"/><stop offset="1" stop-color="#fffdfd"/></linearGradient>
<linearGradient id="v11" x1="0" y1="0" x2="0" y2="1"><stop offset="0" stop-color="#ff9d9d"/><stop offset="0.01" stop-color="#ffbdbd"/><stop offset="0.022" stop-color="#fdfdff"/><stop offset="0.032" stop-color="#e9e9ff"/><stop offset="0.051" stop-color="#e9e9ff"/><stop offset="0.072" stop-color="#f1f1ff"/><stop offset="0.092" stop-color="#ededff"/><stop offset="0.106" stop-color="#ededff"/><stop offset="0.121" stop-color="#e1e1ff"/><stop offset="0.136" stop-color="#cdcdff"/><stop offset="0.155" stop-color="#e1e1ff"/><stop offset="0.177" stop-color="#f5f5ff"/><stop offset="0.196" stop-color="#f9f9ff"/><stop offset="0.224" stop-color="#f9f9ff"/><stop offset="0.249" stop-color="#f1f1ff"/><stop offset="0.27" stop-color="#f9f9ff"/><stop offset="0.294" stop-color="#e9e9ff"/><stop offset="0.313" stop-color="#f5f5ff"/><stop offset="0.341" stop-color="#e1e1ff"/><stop offset="0.362" stop-color="#f1f1ff"/><stop offset="0.379" stop-color="#f5f5ff"/><stop offset="0.413" stop-color="#e1e1ff"/><stop offset="0.432" stop-color="#e9e9ff"/><stop offset="0.458" stop-color="#f5f5ff"/><stop offset="0.511" stop-color="#f5f5ff"/><stop offset="0.575" stop-color="#f1f1ff"/><stop offset="0.639" stop-color="#f5f5ff"/><stop offset="0.702" stop-color="#f5f5ff"/><stop offset="0.766" stop-color="#f9f9ff"/><stop offset="0.83" stop-color="#f9f9ff"/><stop offset="0.873" stop-color="#fdfdff"/><stop offset="0.915" stop-color="#fffdfd"/><stop offset="1" stop-color="#fffdfd"/></linearGradient>
<linearGradient id="v12" x1="0" y1="0" x2="0" y2="1"><stop offset="0" stop-color="#ff9999"/><stop offset="0.01" stop-color="#ffb9b9"/><stop offset="0.022" stop-color="#fdfdff"/><stop offset="0.032" stop-color="#e9e9ff"/><stop offset="0.051" stop-color="#e9e9ff"/><stop offset="0.072" stop-color="#f1f1ff"/><stop offset="0.092" stop-color="#ededff"/><stop offset="0.106" stop-color="#ededff"/><stop offset="0.121" stop-color="#e1e1ff"/><stop offset="0.136" stop-color="#cdcdff"/><stop offset="0.155" stop-color="#e1e1ff"/><stop offset="0.177" stop-color="#f5f5ff"/><stop offset="0.196" stop-color="#f9f9ff"/><stop offset="0.224" stop-color="#f9f9ff"/><stop offset="0.249" stop-color="#f1f1ff"/><stop offset="0.27" stop-color="#f9f9ff"/><stop offset="0.294" stop-color="#e9e9ff"/><stop offset="0.313" stop-color="#f5f5ff"/><stop offset="0.341" stop-color="#e1e1ff"/><stop offset="0.362" stop-color="#f1f1ff"/><stop offset="0.379" stop-color="#f5f5ff"/><stop offset="0.413" stop-color="#e1e1ff"/><stop offset="0.432" stop-color="#e9e9ff"/><stop offset="0.458" stop-color="#f5f5ff"/><stop offset="0.511" stop-color="#f5f5ff"/><stop offset="0.575" stop-color="#f1f1ff"/><stop offset="0.639" stop-color="#f5f5ff"/><stop offset="0.702" stop-color="#f5f5ff"/><stop offset="0.766" stop-color="#f9f9ff"/><stop offset="0.83" stop-color="#f9f9ff"/><stop offset="0.873" stop-color="#fdfdff"/><stop offset="0.915" stop-color="#fffdfd"/><stop offset="1" stop-color="#fffdfd"/></linearGradient>
<linearGradient id="v13" x1="0" y1="0" x2="0" y2="1"><stop offset="0" stop-color="#ff9595"/><stop offset="0.01" stop-color="#ffb1b1"/><stop offset="0.022" stop-color="#fdfdff"/><stop offset="0.032" stop-color="#ededff"/><stop offset="0.051" stop-color="#ededff"/><stop offset="0.072" stop-color="#f1f1ff"/><stop offset="0.092" stop-color="#f1f1ff"/><stop offset="0.106" stop-color="#ededff"/><stop offset="0.121" stop-color="#e1e1ff"/><stop offset="0.136" stop-color="#cdcdff"/><stop offset="0.155" stop-color="#e1e1ff"/><stop offset="0.177" stop-color="#f5f5ff"/><stop offset="0.196" stop-color="#f9f9ff"/><stop offset="0.224" stop-color="#f9f9ff"/><stop offset="0.249" stop-color="#f1f1ff"/><stop offset="0.27" stop-color="#f9f9ff"/><stop offset="0.294" stop-color="#e9e9ff"/><stop offset="0.313" stop-color="#f5f5ff"/><stop offset="0.341" stop-color="#e1e1ff"/><stop offset="0.362" stop-color="#f1f1ff"/><stop offset="0.379" stop-color="#f5f5ff"/><stop offset="0.413" stop-color="#e1e1ff"/><stop offset="0.432" stop-color="#e9e9ff"/><stop offset="0.458" stop-color="#f5f5ff"/><stop offset="0.511" stop-color="#f5f5ff"/><stop offset="0.575" stop-color="#f1f1ff"/><stop offset="0.639" stop-color="#f5f5ff"/><stop offset="0.702" stop-color="#f5f5ff"/><stop offset="0.766" stop-color="#f9f9ff"/><stop offset="0.83" stop-color="#f9f9ff"/><stop offset="0.873" stop-color="#fdfdff"/><stop offset="0.915" stop-color="#fffdfd"/><stop offset="1" stop-color="#fffdfd"/></linearGradient>
<linearGradient id="v14" x1="0" y1="0" x2="0" y2="1"><stop offset="0" stop-color="#ff8d8d"/><stop offset="0.01" stop-color="#ffadad"/><stop offset="0.022" stop-color="#fffdfd"/><stop offset="0.032" stop-color="#ededff"/><stop offset="0.051" stop-color="#ededff"/><stop offset="0.072" stop-color="#f1f1ff"/><stop offset="0.092" stop-color="#f1f1ff"/><stop offset="0.106" stop-color="#ededff"/><stop offset="0.121" stop-color="#e1e1ff"/><stop offset="0.136" stop-color="#cdcdff"/><stop offset="0.155" stop-color="#e1e1ff"/><stop offset="0.177" stop-color="#f5f5ff"/><stop offset="0.196" stop-color="#f9f9ff"/><stop offset="0.224" stop-color="#f9f9ff"/><stop offset="0.249" stop-color="#f1f1ff"/><stop offset="0.27" stop-color="#f9f9ff"/><stop offset="0.294" stop-color="#e9e9ff"/><stop offset="0.313" stop-color="#f5f5ff"/><stop offset="0.341" stop-color="#e1e1ff"/><stop offset="0.362" stop-color="#f1f1ff"/><stop offset="0.379" stop-color="#f5f5ff"/><stop offset="0.413" stop-color="#e1e1ff"/><stop offset="0.432" stop-color="#e9e9ff"/><stop offset="0.458" stop-color="#f5f5ff"/><stop offset="0.511" stop-color="#f5f5ff"/><stop offset="0.575" stop-color="#f1f1ff"/><stop offset="0.639" stop-color="#f5f5ff"/><stop offset="0.702" stop-color="#f5f5ff"/><stop offset="0.766" stop-color="#f9f9ff"/><stop offset="0.83" stop-color="#f9f9ff"/><stop offset="0.873" stop-color="#fdfdff"/><stop offset="0.915" stop-color="#fffdfd"/><stop offset="1" stop-color="#fffdfd"/></linearGradient>
<linearGradient id="v15" x1="0" y1="0" x2="0" y2="1"><stop offset="0" stop-color="#ff8989"/><stop offset="0.01" stop-color="#ffa9a9"/><stop offset="0.022" stop-color="#fffdfd"/><stop offset="0.032" stop-color="#ededff"/><stop offset="0.051" stop-color="#f1f1ff"/><stop offset="0.072" stop-color="#f5f5ff"/><stop offset="0.092" stop-color="#f1f1ff"/><stop offset="0.106" stop-color="#f1f1ff"/><stop offset="0.121" stop-color="#e5e5ff"/><stop offset="0.136" stop-color="#cdcdff"/><stop offset="0.155" stop-color="#e1e1ff"/><stop offset="0.177" stop-color="#f5f5ff"/><stop offset="0.196" stop-color="#f9f9ff"/><stop offset="0.224" stop-color="#f9f9ff"/><stop offset="0.249" stop-color="#f1f1ff"/><stop offset="0.27" stop-color="#f9f9ff"/><stop offset="0.294" stop-color="#e9e9ff"/><stop offset="0.313" stop-color="#f5f5ff"/><stop offset="0.341" stop-color="#e1e1ff"/><stop offset="0.362" stop-color="#f1f1ff"/><stop offset="0.379" stop-color="#f5f5ff"/><stop offset="0.413" stop-color="#e1e1ff"/><stop offset="0.432" stop-color="#e9e9ff"/><stop offset="0.458" stop-color="#f5f5ff"/><stop offset="0.511" stop-color="#f5f5ff"/><stop offset="0.575" stop-color="#f1f1ff"/><stop offset="0.639" stop-color="#f5f5ff"/><stop offset="0.702" stop-color="#f5f5ff"/><stop offset="0.766" stop-color="#f9f9ff"/><stop offset="0.83" stop-color="#f9f9ff"/><stop offset="0.873" stop-color="#fdfdff"/><stop offset="0.915" stop-color="#fffdfd"/><stop offset="1" stop-color="#fffdfd"/></linearGradient>
<linearGradient id="v16" x1="0" y1="0" x2="0" y2="1"><stop offset="0" stop-color="#ff8181"/><stop offset="0.01" stop-color="#ffa5a5"/><stop offset="0.022" stop-color="#fff9f9"/><stop offset="0.032" stop-color="#ededff"/><stop offset="0.051" stop-color="#f1f1ff"/><stop offset="0.072" stop-color="#f5f5ff"/><stop offset="0.092" stop-color="#f5f5ff"/><stop offset="0.106" stop-color="#f1f1ff"/><stop offset="0.121" stop-color="#e5e5ff"/><stop offset="0.136" stop-color="#cdcdff"/><stop offset="0.155" stop-color="#e1e1ff"/><stop offset="0.177" stop-color="#f5f5ff"/><stop offset="0.196" stop-color="#f9f9ff"/><stop offset="0.224" stop-color="#f9f9ff"/><stop offset="0.249" stop-color="#f1f1ff"/><stop offset="0.27" stop-color="#f9f9ff"/><stop offset="0.294" stop-color="#e9e9ff"/><stop offset="0.313" stop-color="#f5f5ff"/><stop offset="0.341" stop-color="#e1e1ff"/><stop offset="0.362" stop-color="#f1f1ff"/><stop offset="0.379" stop-color="#f5f5ff"/><stop offset="0.413" stop-color="#e1e1ff"/><stop offset="0.432" stop-color="#e9e9ff"/><stop offset="0.458" stop-color="#f5f5ff"/><stop offset="0.511" stop-color="#f5f5ff"/><stop offset="0.575" stop-color="#f1f1ff"/><stop offset="0.639" stop-color="#f5f5ff"/><stop offset="0.702" stop-color="#f5f5ff"/><stop offset="0.766" stop-color="#f9f9ff"/><stop offset="0.83" stop-color="#f9f9ff"/><stop offset="0.873" stop-color="#fdfdff"/><stop offset="0.915" stop-color="#fffdfd"/><stop offset="1" stop-color="#fffdfd"/></linearGradient>
<linearGradient id="v17" x1="0" y1="0" x2="0" y2="1"><stop offset="0" stop-color="#ff7d7d"/><stop offset="0.01" stop-color="#ffa1a1"/><stop offset="0.022" stop-color="#fff9f9"/><stop offset="0.032" stop-color="#f1f1ff"/><stop offset="0.051" stop-color="#f1f1ff"/><stop offset="0.072" stop-color="#f5f5ff"/><stop offset="0.092" stop-color="#f5f5ff"/><stop offset="0.106" stop-color="#f5f5ff"/><stop offset="0.121" stop-color="#e5e5ff"/><stop offset="0.136" stop-color="#cdcdff"/><stop offset="0.155" stop-color="#e1e1ff"/><stop offset="0.177" stop-color="#f5f5ff"/><stop offset="0.196" stop-color="#f9f9ff"/><stop offset="0.224" stop-color="#f9f9ff"/><stop offset="0.249" stop-color="#f1f1ff"/><stop offset="0.27" stop-color="#f9f9ff"/><stop offset="0.294" stop-color="#e9e9ff"/><stop offset="0.313" stop-color="#f5f5ff"/><stop offset="0.341" stop-color="#e1e1ff"/><stop offset="0.362" stop-color="#f1f1ff"/><stop offset="0.379" stop-color="#f5f5ff"/><stop offset="0.413" stop-color="#e1e1ff"/><stop offset="0.432" stop-color="#e9e9ff"/><stop offset="0.458" stop-color="#f5f5ff"/><stop offset="0.511" stop-color="#f5f5ff"/><stop offset="0.575" stop-color="#f1f1ff"/><stop offset="0.639" stop-color="#f5f5ff"/><stop offset="0.702" stop-color="#f5f5ff"/><stop offset="0.766" stop-color="#f9f9ff"/><stop offset="0.83" stop-color="#f9f9ff"/><stop offset="0.873" stop-color="#fdfdff"/><stop offset="0.915" stop-color="#fffdfd"/><stop offset="1" stop-color="#fffdfd"/></linearGradient>
<linearGradient id="v18" x1="0" y1="0" x2="0" y2="1"><stop offset="0" stop-color="#ff7d7d"/><stop offset="0.01" stop-color="#ffa1a1"/><stop offset="0.022" stop-color="#fff9f9"/><stop offset="0.032" stop-color="#f1f1ff"/><stop offset="0.051" stop-color="#f5f5ff"/><stop offset="0.072" stop-color="#f5f5ff"/><stop offset="0.092" stop-color="#f5f5ff"/><stop offset="0.106" stop-color="#f5f5ff"/><stop offset="0.121" stop-color="#e5e5ff"/><stop offset="0.136" stop-color="#cdcdff"/><stop offset="0.155" stop-color="#e1e1ff"/><stop offset="0.177" stop-color="#f5f5ff"/><stop offset="0.196" stop-color="#f9f9ff"/><stop offset="0.224" stop-color="#f9f9ff"/><stop offset="0.249" stop-color="#f1f1ff"/><stop offset="0.27" stop-color="#f9f9ff"/><stop offset="0.294" stop-color="#e9e9ff"/><stop offset="0.313" stop-color="#f5f5ff"/><stop offset="0.341" stop-color="#e1e1ff"/><stop offset="0.362" stop-color="#f1f1ff"/><stop offset="0.379" stop-color="#f5f5ff"/><stop offset="0.413" stop-color="#e1e1ff"/><stop offset="0.432" stop-color="#e9e9ff"/><stop offset="0.458" stop-color="#f5f5ff"/><stop offset="0.511" stop-color="#f5f5ff"/><stop offset="0.575" stop-color="#f1f1ff"/><stop offset="0.639" stop-color="#f5f5ff"/><stop offset="0.702" stop-color="#f5f5ff"/><stop offset="0.766" stop-color="#f9f9ff"/><stop offset="0.83" stop-color="#f9f9ff"/><stop offset="0.873" stop-color="#fdfdff"/><stop offset="0.915" stop-color="#fffdfd"/><stop offset="1" stop-color="#fffdfd"/></linearGradient>
<linearGradient id="v19" x1="0" y1="0" x2="0" y2="1"><stop offset="0" stop-color="#ff7979"/><stop offset="0.01" stop-color="#ff9d9d"/><stop offset="0.022" stop-color="#fff9f9"/><stop offset="0.032" stop-color="#f1f1ff"/><stop offset="0.051" stop-color="#f5f5ff"/><stop offset="0.072" stop-color="#f5f5ff"/><stop offset="0.092" stop-color="#f9f9ff"/><stop offset="0.106" stop-color="#f5f5ff"/><stop offset="0.121" stop-color="#e5e5ff"/><stop offset="0.136" stop-color="#cdcdff"/><stop offset="0.155" stop-color="#e1e1ff"/><stop offset="0.177" stop-color="#f5f5ff"/><stop offset="0.196" stop-color="#f9f9ff"/><stop offset="0.224" stop-color="#f9f9ff"/><stop offset="0.249" stop-color="#f1f1ff"/><stop offset="0.27" stop-color="#f9f9ff"/><stop offset="0.294" stop-color="#e9e9ff"/><stop offset="0.313" stop-color="#f5f5ff"/><stop offset="0.341" stop-color="#e1e1ff"/><stop offset="0.362" stop-color="#f1f1ff"/><stop offset="0.379" stop-color="#f5f5ff"/><stop offset="0.413" stop-color="#e1e1ff"/><stop offset="0.432" stop-color="#e9e9ff"/><stop offset="0.458" stop-color="#f5f5ff"/><stop offset="0.511" stop-color="#f5f5ff"/><stop offset="0.575" stop-color="#f1f1ff"/><stop offset="0.639" stop-color="#f5f5ff"/><stop offset="0.702" stop-color="#f5f5ff"/><stop offset="0.766" stop-color="#f9f9ff"/><stop offset="0.83" stop-color="#f9f9ff"/><stop offset="0.873" stop-color="#fdfdff"/><stop offset="0.915" stop-color="#fffdfd"/><stop offset="1" stop-color="#fffdfd"/></linearGradient>
<linearGradient id="v20" x1="0" y1="0" x2="0" y2="1"><stop offset="0" stop-color="#ff7575"/><stop offset="0.01" stop-color="#ff9d9d"/><stop offset="0.022" stop-color="#fff9f9"/><stop offset="0.032" stop-color="#f1f1ff"/><stop offset="0.051" stop-color="#f5f5ff"/><stop offset="0.072" stop-color="#f5f5ff"/><stop offset="0.092" stop-color="#f9f9ff"/><stop offset="0.106" stop-color="#f9f9ff"/><stop offset="0.121" stop-color="#e5e5ff"/><stop offset="0.136" stop-color="#cdcdff"/><stop offset="0.155" stop-color="#e1e1ff"/><stop offset="0.177" stop-color="#f5f5ff"/><stop offset="0.196" stop-color="#f9f9ff"/><stop offset="0.224" stop-color="#f9f9ff"/><stop offset="0.249" stop-color="#f1f1ff"/><stop offset="0.27" stop-color="#f9f9ff"/><stop offset="0.294" stop-color="#e9e9ff"/><stop offset="0.313" stop-color="#f5f5ff"/><stop offset="0.341" stop-color="#e1e1ff"/><stop offset="0.362" stop-color="#f1f1ff"/><stop offset="0.379" stop-color="#f5f5ff"/><stop offset="0.413" stop-color="#e1e1ff"/><stop offset="0.432" stop-color="#e9e9ff"/><stop offset="0.458" stop-color="#f5f5ff"/><stop offset="0.511" stop-color="#f5f5ff"/><stop offset="0.575" stop-color="#f1f1ff"/><stop offset="0.639" stop-color="#f5f5ff"/><stop offset="0.702" stop-color="#f5f5ff"/><stop offset="0.766" stop-color="#f9f9ff"/><stop offset="0.83" stop-color="#f9f9ff"/><stop offset="0.873" stop-color="#fdfdff"/><stop offset="0.915" stop-color="#fffdfd"/><stop offset="1" stop-color="#fffdfd"/></linearGradient>
<linearGradient id="v21" x1="0" y1="0" x2="0" y2="1"><stop offset="0" stop-color="#ff7575"/><stop offset="0.01" stop-color="#ff9999"/><stop offset="0.022" stop-color="#fff9f9"/><stop offset="0.032" stop-color="#f1f1ff"/><stop offset="0.051" stop-color="#f5f5ff"/><stop offset="0.072" stop-color="#f9f9ff"/><stop offset="0.092" stop-color="#f9f9ff"/><stop offset="0.106" stop-color="#f9f9ff"/><stop offset="0.121" stop-color="#e5e5ff"/><stop offset="0.136" stop-color="#cdcdff"/><stop offset="0.155" stop-color="#e1e1ff"/><stop offset="0.177" stop-color="#f5f5ff"/><stop offset="0.196" stop-color="#f9f9ff"/><stop offset="0.224" stop-color="#f9f9ff"/><stop offset="0.249" stop-color="#f1f1ff"/><stop offset="0.27" stop-color="#f9f9ff"/><stop offset="0.294" stop-color="#e9e9ff"/><stop offset="0.313" stop-color="#f5f5ff"/><stop offset="0.341" stop-color="#e1e1ff"/><stop offset="0.362" stop-color="#f1f1ff"/><stop offset="0.379" stop-color="#f5f5ff"/><stop offset="0.413" stop-color="#e1e1ff"/><stop offset="0.432" stop-color="#e9e9ff"/><stop offset="0.458" stop-color="#f5f5ff"/><stop offset="0.511" stop-color="#f5f5ff"/><stop offset="0.575" stop-color="#f1f1ff"/><stop offset="0.639" stop-color="#f5f5ff"/><stop offset="0.702" stop-color="#f5f5ff"/><stop offset="0.766" stop-color="#f9f9ff"/><stop offset="0.83" stop-color="#f9f9ff"/><stop offset="0.873" stop-color="#fdfdff"/><stop offset="0.915" stop-color="#fffdfd"/><stop offset="1" stop-color="#fffdfd"/></linearGradient>
<linearGradient id="v22" x1="0" y1="0" x2="0" y2="1"><stop offset="0" stop-color="#ff7171"/><stop offset="0.01" stop-color="#ff9999"/><stop offset="0.022" stop-color="#fff5f5"/><stop offset="0.032" stop-color="#f5f5ff"/><stop offset="0.051" stop-color="#f5f5ff"/><stop offset="0.072" stop-color="#f9f9ff"/><stop offset="0.092" stop-color="#f9f9ff"/><stop offset="0.106" stop-color="#fdfdff"/><stop offset="0.121" stop-color="#e9e9ff"/><stop offset="0.136" stop-color="#cdcdff"/><stop offset="0.155" stop-color="#e1e1ff"/><stop offset="0.177" stop-color="#f5f5ff"/><stop offset="0.196" stop-color="#f9f9ff"/><stop offset="0.224" stop-color="#f9f9ff"/><stop offset="0.249" stop-color="#f1f1ff"/><stop offset="0.27" stop-color="#f9f9ff"/><stop offset="0.294" stop-color="#e9e9ff"/><stop offset="0.313" stop-color="#f5f5ff"/><stop offset="0.341" stop-color="#e1e1ff"/><stop offset="0.362" stop-color="#f1f1ff"/><stop offset="0.379" stop-color="#f5f5ff"/><stop offset="0.413" stop-color="#e1e1ff"/><stop offset="0.432" stop-color="#e9e9ff"/><stop offset="0.458" stop-color="#f5f5ff"/><stop offset="0.511" stop-color="#f5f5ff"/><stop offset="0.575" stop-color="#f1f1ff"/><stop offset="0.639" stop-color="#f5f5ff"/><stop offset="0.702" stop-color="#f5f5ff"/><stop offset="0.766" stop-color="#f9f9ff"/><stop offset="0.83" stop-color="#f9f9ff"/><stop offset="0.873" stop-color="#fdfdff"/><stop offset="0.915" stop-color="#fffdfd"/><stop offset="1" stop-color="#fffdfd"/></linearGradient>
<linearGradient id="v23" x1="0" y1="0" x2="0" y2="1"><stop offset="0" stop-color="#ff6d6d"/><stop offset="0.01" stop-color="#ff9595"/><stop offset="0.022" stop-color="#fff5f5"/><stop offset="0.032" stop-color="#f5f5ff"/><stop offset="0.051" stop-color="#f5f5ff"/><stop offset="0.072" stop-color="#f9f9ff"/><stop offset="0.092" stop-color="#f9f9ff"/><stop offset="0.106" stop-color="#fdfdff"/><stop offset="0.121" stop-color="#e9e9ff"/><stop offset="0.136" stop-color="#cdcdff"/><stop offset="0.155" stop-color="#e1e1ff"/><stop offset="0.177" stop-color="#f5f5ff"/><stop offset="0.196" stop-color="#f9f9ff"/><stop offset="0.224" stop-color="#f9f9ff"/><stop offset="0.249" stop-color="#f1f1ff"/><stop offset="0.27" stop-color="#f9f9ff"/><stop offset="0.294" stop-color="#e9e9ff"/><stop offset="0.313" stop-color="#f5f5ff"/><stop offset="0.341" stop-color="#e1e1ff"/><stop offset="0.362" stop-color="#f1f1ff"/><stop offset="0.379" stop-color="#f5f5ff"/><stop offset="0.413" stop-color="#e1e1ff"/><stop offset="0.432" stop-color="#e9e9ff"/><stop offset="0.458" stop-color="#f5f5ff"/><stop offset="0.511" stop-color="#f5f5ff"/><stop offset="0.575" stop-color="#f1f1ff"/><stop offset="0.639" stop-color="#f5f5ff"/><stop offset="0.702" stop-color="#f5f5ff"/><stop offset="0.766" stop-color="#f9f9ff"/><stop offset="0.83" stop-color="#f9f9ff"/><stop offset="0.873" stop-color="#fdfdff"/><stop offset="0.915" stop-color="#fffdfd"/><stop offset="1" stop-color="#fffdfd"/></linearGradient>
<linearGradient id="v24" x1="0" y1="0" x2="0" y2="1"><stop offset="0" stop-color="#ff6d6d"/><stop offset="0.01" stop-color="#ff9595"/><stop offset="0.022" stop-color="#fff5f5"/><stop offset="0.032" stop-color="#f5f5ff"/><stop offset="0.051" stop-color="#f5f5ff"/><stop offset="0.072" stop-color="#f9f9ff"/><stop offset="0.092" stop-color="#fdfdff"/><stop offset="0.106" stop-color="#fffdfd"/><stop offset="0.121" stop-color="#e9e9ff"/><stop offset="0.136" stop-color="#cdcdff"/><stop offset="0.155" stop-color="#e1e1ff"/><stop offset="0.177" stop-color="#f5f5ff"/><stop offset="0.196" stop-color="#f9f9ff"/><stop offset="0.224" stop-color="#f9f9ff"/><stop offset="0.249" stop-color="#f1f1ff"/><stop offset="0.27" stop-color="#f9f9ff"/><stop offset="0.294" stop-color="#e9e9ff"/><stop offset="0.313" stop-color="#f5f5ff"/><stop offset="0.341" stop-color="#e1e1ff"/><stop offset="0.362" stop-color="#f1f1ff"/><stop offset="0.379" stop-color="#f5f5ff"/><stop offset="0.413" stop-color="#e1e1ff"/><stop offset="0.432" stop-color="#e9e9ff"/><stop offset="0.458" stop-color="#f5f5ff"/><stop offset="0.511" stop-color="#f5f5ff"/><stop offset="0.575" stop-color="#f1f1ff"/><stop offset="0.639" stop-color="#f5f5ff"/><stop offset="0.702" stop-color="#f5f5ff"/><stop offset="0.766" stop-color="#f9f9ff"/><stop offset="0.83" stop-color="#f9f9ff"/><stop offset="0.873" stop-color="#fdfdff"/><stop offset="0.915" stop-color="#fffdfd"/><stop offset="1" stop-color="#fffdfd"/></linearGradient>
<linearGradient id="v25" x1="0" y1="0" x2="0" y2="1"><stop offset="0" stop-color="#ff6969"/><stop offset="0.01" stop-color="#ff9595"/><stop offset="0.022" stop-color="#fff5f5"/><stop offset="0.032" stop-color="#f5f5ff"/><stop offset="0.051" stop-color="#f9f9ff"/><stop offset="0.072" stop-color="#f9f9ff"/><stop offset="0.092" stop-color="#fdfdff"/><stop offset="0.106" stop-color="#fffdfd"/><stop offset="0.121" stop-color="#e9e9ff"/><stop offset="0.136" stop-color="#cdcdff"/><stop offset="0.155" stop-color="#e5e5ff"/><stop offset="0.177" stop-color="#f5f5ff"/><stop offset="0.196" stop-color="#f9f9ff"/><stop offset="0.224" stop-color="#f9f9ff"/><stop offset="0.249" stop-color="#f1f1ff"/><stop offset="0.27" stop-color="#f9f9ff"/><stop offset="0.294" stop-color="#e9e9ff"/><stop offset="0.313" stop-color="#f5f5ff"/><stop offset="0.341" stop-color="#e1e1ff"/><stop offset="0.362" stop-color="#f1f1ff"/><stop offset="0.379" stop-color="#f5f5ff"/><stop offset="0.413" stop-color="#e1e1ff"/><stop offset="0.432" stop-color="#e9e9ff"/><stop offset="0.458" stop-color="#f5f5ff"/><stop offset="0.511" stop-color="#f5f5ff"/><stop offset="0.575" stop-color="#f1f1ff"/><stop offset="0.639" stop-color="#f5f5ff"/><stop offset="0.702" stop-color="#f5f5ff"/><stop offset="0.766" stop-color="#f9f9ff"/><stop offset="0.83" stop-color="#f9f9ff"/><stop offset="0.873" stop-color="#fdfdff"/><stop offset="0.915" stop-color="#fffdfd"/><stop offset="1" stop-color="#fffdfd"/></linearGradient>
<linearGradient id="v26" x1="0" y1="0" x2="0" y2="1"><stop offset="0" stop-color="#ff6969"/><stop offset="0.01" stop-color="#ff9595"/><stop offset="0.022" stop-color="#fff5f5"/><stop offset="0.032" stop-color="#f5f5ff"/><stop offset="0.051" stop-color="#f9f9ff"/><stop offset="0.072" stop-color="#f9f9ff"/><stop offset="0.092" stop-color="#fdfdff"/><stop offset="0.106" stop-color="#fff9f9"/><stop offset="0.121" stop-color="#e9e9ff"/><stop offset="0.136" stop-color="#d1d1ff"/><stop offset="0.155" stop-color="#e5e5ff"/><stop offset="0.177" stop-color="#f5f5ff"/><stop offset="0.196" stop-color="#f9f9ff"/><stop offset="0.224" stop-color="#f9f9ff"/><stop offset="0.249" stop-color="#f1f1ff"/><stop offset="0.27" stop-color="#f9f9ff"/><stop offset="0.294" stop-color="#ededff"/><stop offset="0.313" stop-color="#f5f5ff"/><stop offset="0.341" stop-color="#e1e1ff"/><stop offset="0.362" stop-color="#f1f1ff"/><stop offset="0.379" stop-color="#f5f5ff"/><stop offset="0.413" stop-color="#e1e1ff"/><stop offset="0.432" stop-color="#e9e9ff"/><stop offset="0.458" stop-color="#f5f5ff"/><stop offset="0.511" stop-color="#f5f5ff"/><stop offset="0.575" stop-color="#f1f1ff"/><stop offset="0.639" stop-color="#f5f5ff"/><stop offset="0.702" stop-color="#f5f5ff"/><stop offset="0.766" stop-color="#f9f9ff"/><stop offset="0.83" stop-color="#f9f9ff"/><stop offset="0.873" stop-color="#fdfdff"/><stop offset="0.915" stop-color="#fffdfd"/><stop offset="1" stop-color="#fffdfd"/></linearGradient>
<linearGradient id="v27" x1="0" y1="0" x2="0" y2="1"><stop offset="0" stop-color="#ff6969"/><stop offset="0.01" stop-color="#ff9595"/><stop offset="0.022" stop-color="#fff5f5"/><stop offset="0.032" stop-color="#f5f5ff"/><stop offset="0.051" stop-color="#f9f9ff"/><stop offset="0.072" stop-color="#f9f9ff"/><stop offset="0.092" stop-color="#fffdfd"/><stop offset="0.106" stop-color="#fff9f9"/><stop offset="0.121" stop-color="#e9e9ff"/><stop offset="0.136" stop-color="#d1d1ff"/><stop offset="0.155" stop-color="#e5e5ff"/><stop offset="0.177" stop-color="#f5f5ff"/><stop offset="0.196" stop-color="#f9f9ff"/><stop offset="0.224" stop-color="#f9f9ff"/><stop offset="0.249" stop-color="#f1f1ff"/><stop offset="0.27" stop-color="#f9f9ff"/><stop offset="0.294" stop-color="#ededff"/><stop offset="0.313" stop-color="#f5f5ff"/><stop offset="0.341" stop-color="#e1e1ff"/><stop offset="0.362" stop-color="#f1f1ff"/><stop offset="0.379" stop-color="#f5f5ff"/><stop offset="0.413" stop-color="#e1e1ff"/><stop offset="0.432" stop-color="#e9e9ff"/><stop offset="0.458" stop-color="#f5f5ff"/><stop offset="0.511" stop-color="#f5f5ff"/><stop offset="0.575" stop-color="#f1f1ff"/><stop offset="0.639" stop-color="#f5f5ff"/><stop offset="0.702" stop-color="#f5f5ff"/><stop offset="0.766" stop-color="#f9f9ff"/><stop offset="0.83" stop-color="#f9f9ff"/><stop offset="0.873" stop-color="#fdfdff"/><stop offset="0.915" stop-color="#fffdfd"/><stop offset="1" stop-color="#fffdfd"/></linearGradient>
<linearGradient id="v28" x1="0" y1="0" x2="0" y2="1"><stop offset="0" stop-color="#ff6969"/><stop offset="0.01" stop-color="#ff9595"/><stop offset="0.022" stop-color="#fff5f5"/><stop offset="0.032" stop-color="#f5f5ff"/><stop offset="0.051" stop-color="#f9f9ff"/><stop offset="0.072" stop-color="#fdfdff"/><stop offset="0.092" stop-color="#fffdfd"/><stop offset="0.106" stop-color="#fff9f9"/><stop offset="0.121" stop-color="#e9e9ff"/><stop offset="0.136" stop-color="#d1d1ff"/><stop offset="0.155" stop-color="#e5e5ff"/><stop offset="0.177" stop-color="#f5f5ff"/><stop offset="0.196" stop-color="#f9f9ff"/><stop offset="0.224" stop-color="#f9f9ff"/><stop offset="0.249" stop-color="#f1f1ff"/><stop offset="0.27" stop-color="#f9f9ff"/><stop offset="0.294" stop-color="#ededff"/><stop offset="0.313" stop-color="#f5f5ff"/><stop offset="0.341" stop-color="#e1e1ff"/><stop offset="0.362" stop-color="#f1f1ff"/><stop offset="0.379" stop-color="#f5f5ff"/><stop offset="0.413" stop-color="#e1e1ff"/><stop offset="0.432" stop-color="#e9e9ff"/><stop offset="0.458" stop-color="#f5f5ff"/><stop offset="0.511" stop-color="#f5f5ff"/><stop offset="0.575" stop-color="#f1f1ff"/><stop offset="0.639" stop-color="#f5f5ff"/><stop offset="0.702" stop-color="#f5f5ff"/><stop offset="0.766" stop-color="#f9f9ff"/><stop offset="0.83" stop-color="#f9f9ff"/><stop offset="0.873" stop-color="#fdfdff"/><stop offset="0.915" stop-color="#fffdfd"/><stop offset="1" stop-color="#fffdfd"/></linearGradient>
<linearGradient id="v29" x1="0" y1="0" x2="0" y2="1"><stop offset="0" stop-color="#ff6969"/><stop offset="0.01" stop-color="#ff9595"/><stop offset="0.022" stop-color="#fff5f5"/><stop offset="0.032" stop-color="#f5f5ff"/><stop offset="0.051" stop-color="#f9f9ff"/><stop offset="0.072" stop-color="#fdfdff"/><stop offset="0.092" stop-color="#fffdfd"/><stop offset="0.106" stop-color="#fff5f5"/><stop offset="0.121" stop-color="#ededff"/><stop offset="0.136" stop-color="#d5d5ff"/><stop offset="0.155" stop-color="#e5e5ff"/><stop offset="0.177" stop-color="#f5f5ff"/><stop offset="0.196" stop-color="#f9f9ff"/><stop offset="0.224" stop-color="#f9f9ff"/><stop offset="0.249" stop-color="#f1f1ff"/><stop offset="0.27" stop-color="#f9f9ff"/><stop offset="0.294" stop-color="#ededff"/><stop offset="0.313" stop-color="#f5f5ff"/><stop offset="0.341" stop-color="#e1e1ff"/><stop offset="0.362" stop-color="#f1f1ff"/><stop offset="0.379" stop-color="#f5f5ff"/><stop offset="0.413" stop-color="#e1e1ff"/><stop offset="0.432" stop-color="#e9e9ff"/><stop offset="0.458" stop-color="#f5f5ff"/><stop offset="0.511" stop-color="#f5f5ff"/><stop offset="0.575" stop-color="#f1f1ff"/><stop offset="0.639" stop-color="#f5f5ff"/><stop offset="0.702" stop-color="#f5f5ff"/><stop offset="0.766" stop-color="#f9f9ff"/><stop offset="0.83" stop-color="#f9f9ff"/><stop offset="0.873" stop-color="#fdfdff"/><stop offset="0.915" stop-color="#fffdfd"/><stop offset="1" stop-color="#fffdfd"/></linearGradient>
<linearGradient id="v30" x1="0" y1="0" x2="0" y2="1"><stop offset="0" stop-color="#ff6969"/><stop offset="0.01" stop-color="#ff9595"/><stop offset="0.022" stop-color="#fff5f5"/><stop offset="0.032" stop-color="#f9f9ff"/><stop offset="0.051" stop-color="#f9f9ff"/><stop offset="0.072" stop-color="#fdfdff"/><stop offset="0.092" stop-color="#fff9f9"/><stop offset="0.106" stop-color="#fff5f5"/><stop offset="0.121" stop-color="#ededff"/><stop offset="0.136" stop-color="#d5d5ff"/><stop offset="0.155" stop-color="#e9e9ff"/><stop offset="0.177" stop-color="#f9f9ff"/><stop offset="0.196" stop-color="#f9f9ff"/><stop offset="0.224" stop-color="#f9f9ff"/><stop offset="0.249" stop-color="#f1f1ff"/><stop offset="0.27" stop-color="#f9f9ff"/><stop offset="0.294" stop-color="#ededff"/><stop offset="0.313" stop-color="#f5f5ff"/><stop offset="0.341" stop-color="#e1e1ff"/><stop offset="0.362" stop-color="#f1f1ff"/><stop offset="0.379" stop-color="#f5f5ff"/><stop offset="0.413" stop-color="#e1e1ff"/><stop offset="0.432" stop-color="#e9e9ff"/><stop offset="0.458" stop-color="#f5f5ff"/><stop offset="0.511" stop-color="#f5f5ff"/><stop offset="0.575" stop-color="#f1f1ff"/><stop offset="0.639" stop-color="#f5f5ff"/><stop offset="0.702" stop-color="#f5f5ff"/><stop offset="0.766" stop-color="#f9f9ff"/><stop offset="0.83" stop-color="#f9f9ff"/><stop offset="0.873" stop-color="#fdfdff"/><stop offset="0.915" stop-color="#fffdfd"/><stop offset="1" stop-color="#fffdfd"/></linearGradient>
<linearGradient id="v31" x1="0" y1="0" x2="0" y2="1"><stop offset="0" stop-color="#ff7979"/><stop offset="0.01" stop-color="#ff9d9d"/><stop offset="0.022" stop-color="#fff5f5"/><stop offset="0.032" stop-color="#f9f9ff"/><stop offset="0.051" stop-color="#fdfdff"/><stop offset="0.072" stop-color="#fdfdff"/><stop offset="0.092" stop-color="#fff9f9"/><stop offset="0.106" stop-color="#fff1f1"/><stop offset="0.121" stop-color="#f1f1ff"/><stop offset="0.136" stop-color="#d9d9ff"/><stop offset="0.155" stop-color="#e9e9ff"/><stop offset="0.177" stop-color="#f9f9ff"/><stop offset="0.196" stop-color="#fdfdff"/><stop offset="0.224" stop-color="#f9f9ff"/><stop offset="0.249" stop-color="#f1f1ff"/><stop offset="0.27" stop-color="#f9f9ff"/><stop offset="0.294" stop-color="#ededff"/><stop offset="0.313" stop-color="#f5f5ff"/><stop offset="0.341" stop-color="#e1e1ff"/><stop offset="0.362" stop-color="#f1f1ff"/><stop offset="0.379" stop-color="#f5f5ff"/><stop offset="0.413" stop-color="#e1e1ff"/><stop offset="0.432" stop-color="#e9e9ff"/><stop offset="0.458" stop-color="#f5f5ff"/><stop offset="0.511" stop-color="#f5f5ff"/><stop offset="0.575" stop-color="#f1f1ff"/><stop offset="0.639" stop-color="#f5f5ff"/><stop offset="0.702" stop-color="#f5f5ff"/><stop offset="0.766" stop-color="#f9f9ff"/><stop offset="0.83" stop-color="#f9f9ff"/><stop offset="0.873" stop-color="#fdfdff"/><stop offset="0.915" stop-color="#fffdfd"/><stop offset="1" stop-color="#fffdfd"/></linearGradient>
<linearGradient id="v32" x1="0" y1="0" x2="0" y2="1"><stop offset="0" stop-color="#ff9999"/><stop offset="0.01" stop-color="#ffb5b5"/><stop offset="0.022" stop-color="#fff9f9"/><stop offset="0.032" stop-color="#f9f9ff"/><stop offset="0.051" stop-color="#fdfdff"/><stop offset="0.072" stop-color="#fffdfd"/><stop offset="0.092" stop-color="#fff5f5"/><stop offset="0.106" stop-color="#fff1f1"/><stop offset="0.121" stop-color="#f5f5ff"/><stop offset="0.136" stop-color="#e1e1ff"/><stop offset="0.155" stop-color="#f1f1ff"/><stop offset="0.177" stop-color="#f9f9ff"/><stop offset="0.196" stop-color="#fdfdff"/><stop offset="0.224" stop-color="#f9f9ff"/><stop offset="0.249" stop-color="#f5f5ff"/><stop offset="0.27" stop-color="#f9f9ff"/><stop offset="0.294" stop-color="#ededff"/><stop offset="0.313" stop-color="#f5f5ff"/><stop offset="0.341" stop-color="#e1e1ff"/><stop offset="0.362" stop-color="#f1f1ff"/><stop offset="0.379" stop-color="#f5f5ff"/><stop offset="0.413" stop-color="#e1e1ff"/><stop offset="0.432" stop-color="#e9e9ff"/><stop offset="0.458" stop-color="#f5f5ff"/><stop offset="0.511" stop-color="#f5f5ff"/><stop offset="0.575" stop-color="#f1f1ff"/><stop offset="0.639" stop-color="#f5f5ff"/><stop offset="0.702" stop-color="#f5f5ff"/><stop offset="0.766" stop-color="#f9f9ff"/><stop offset="0.83" stop-color="#f9f9ff"/><stop offset="0.873" stop-color="#fdfdff"/><stop offset="0.915" stop-color="#fffdfd"/><stop offset="1" stop-color="#fffdfd"/></linearGradient>
<linearGradient id="v33" x1="0" y1="0" x2="0" y2="1"><stop offset="0" stop-color="#ffb9b9"/><stop offset="0.01" stop-color="#ffd1d1"/><stop offset="0.022" stop-color="#fffdfd"/><stop offset="0.032" stop-color="#f9f9ff"/><stop offset="0.051" stop-color="#fffdfd"/><stop offset="0.072" stop-color="#fffdfd"/><stop offset="0.092" stop-color="#fff5f5"/><stop offset="0.106" stop-color="#ffeded"/><stop offset="0.121" stop-color="#fdfdff"/><stop offset="0.136" stop-color="#ededff"/><stop offset="0.155" stop-color="#f9f9ff"/><stop offset="0.177" stop-color="#fdfdff"/><stop offset="0.196" stop-color="#fffdfd"/><stop offset="0.224" stop-color="#fdfdff"/><stop offset="0.249" stop-color="#f5f5ff"/><stop offset="0.27" stop-color="#f9f9ff"/><stop offset="0.294" stop-color="#f1f1ff"/><stop offset="0.313" stop-color="#f5f5ff"/><stop offset="0.341" stop-color="#e1e1ff"/><stop offset="0.362" stop-color="#f1f1ff"/><stop offset="0.379" stop-color="#f5f5ff"/><stop offset="0.413" stop-color="#e1e1ff"/><stop offset="0.432" stop-color="#e9e9ff"/><stop offset="0.458" stop-color="#f5f5ff"/><stop offset="0.511" stop-color="#f5f5ff"/><stop offset="0.575" stop-color="#f1f1ff"/><stop offset="0.639" stop-color="#f5f5ff"/><stop offset="0.702" stop-color="#f5f5ff"/><stop offset="0.766" stop-color="#f9f9ff"/><stop offset="0.83" stop-color="#f9f9ff"/><stop offset="0.873" stop-color="#fdfdff"/><stop offset="0.915" stop-color="#fffdfd"/><stop offset="1" stop-color="#fffdfd"/></linearGradient>
<linearGradient id="v34" x1="0" y1="0" x2="0" y2="1"><stop offset="0" stop-color="#ffdddd"/><stop offset="0.01" stop-color="#ffe9e9"/><stop offset="0.022" stop-color="#fdfdff"/><stop offset="0.032" stop-color="#f9f9ff"/><stop offset="0.051" stop-color="#fff9f9"/><stop offset="0.072" stop-color="#fff9f9"/><stop offset="0.092" stop-color="#fff1f1"/><stop offset="0.106" stop-color="#ffeded"/><stop offset="0.121" stop-color="#fffdfd"/><stop offset="0.136" stop-color="#f5f5ff"/><stop offset="0.155" stop-color="#fffdfd"/><stop offset="0.177" stop-color="#fffdfd"/><stop offset="0.196" stop-color="#fff9f9"/><stop offset="0.224" stop-color="#fdfdff"/><stop offset="0.249" stop-color="#f9f9ff"/><stop offset="0.27" stop-color="#fdfdff"/><stop offset="0.294" stop-color="#f1f1ff"/><stop offset="0.313" stop-color="#f5f5ff"/><stop offset="0.341" stop-color="#e1e1ff"/><stop offset="0.362" stop-color="#f1f1ff"/><stop offset="0.379" stop-color="#f5f5ff"/><stop offset="0.413" stop-color="#e1e1ff"/><stop offset="0.432" stop-color="#e9e9ff"/><stop offset="0.458" stop-color="#f5f5ff"/><stop offset="0.511" stop-color="#f5f5ff"/><stop offset="0.575" stop-color="#f1f1ff"/><stop offset="0.639" stop-color="#f5f5ff"/><stop offset="0.702" stop-color="#f5f5ff"/><stop offset="0.766" stop-color="#f9f9ff"/><stop offset="0.83" stop-color="#f9f9ff"/><stop offset="0.873" stop-color="#fdfdff"/><stop offset="0.915" stop-color="#fffdfd"/><stop offset="1" stop-color="#fffdfd"/></linearGradient>
<linearGradient id="v35" x1="0" y1="0" x2="0" y2="1"><stop offset="0" stop-color="#fff1f1"/><stop offset="0.01" stop-color="#fff9f9"/><stop offset="0.022" stop-color="#fdfdff"/><stop offset="0.032" stop-color="#f9f9ff"/><stop offset="0.051" stop-color="#fff9f9"/><stop offset="0.072" stop-color="#fff9f9"/><stop offset="0.092" stop-color="#fff1f1"/><stop offset="0.106" stop-color="#ffe9e9"/><stop offset="0.121" stop-color="#fff9f9"/><stop offset="0.136" stop-color="#f9f9ff"/><stop offset="0.155" stop-color="#fff9f9"/><stop offset="0.177" stop-color="#fffdfd"/><stop offset="0.196" stop-color="#fff9f9"/><stop offset="0.224" stop-color="#fffdfd"/><stop offset="0.249" stop-color="#f9f9ff"/><stop offset="0.27" stop-color="#fdfdff"/><stop offset="0.294" stop-color="#f1f1ff"/><stop offset="0.313" stop-color="#f5f5ff"/><stop offset="0.341" stop-color="#e1e1ff"/><stop offset="0.362" stop-color="#f1f1ff"/><stop offset="0.379" stop-color="#f5f5ff"/><stop offset="0.413" stop-color="#e5e5ff"/><stop offset="0.432" stop-color="#e9e9ff"/><stop offset="0.458" stop-color="#f5f5ff"/><stop offset="0.511" stop-color="#f5f5ff"/><stop offset="0.575" stop-color="#f1f1ff"/><stop offset="0.639" stop-color="#f5f5ff"/><stop offset="0.702" stop-color="#f5f5ff"/><stop offset="0.766" stop-color="#f9f9ff"/><stop offset="0.83" stop-color="#f9f9ff"/><stop offset="0.873" stop-color="#fdfdff"/><stop offset="0.915" stop-color="#fffdfd"/><stop offset="1" stop-color="#fffdfd"/></linearGradient>
<linearGradient id="v36" x1="0" y1="0" x2="0" y2="1"><stop offset="0" stop-color="#fff5f5"/><stop offset="0.01" stop-color="#fff9f9"/><stop offset="0.022" stop-color="#fdfdff"/><stop offset="0.032" stop-color="#f5f5ff"/><stop offset="0.051" stop-color="#fff5f5"/><stop offset="0.072" stop-color="#fff5f5"/><stop offset="0.092" stop-color="#fff1f1"/><stop offset="0.106" stop-color="#ffe9e9"/><stop offset="0.121" stop-color="#fff5f5"/><stop offset="0.136" stop-color="#fdfdff"/><stop offset="0.155" stop-color="#fff9f9"/><stop offset="0.177" stop-color="#fffdfd"/><stop offset="0.196" stop-color="#fff5f5"/><stop offset="0.224" stop-color="#fffdfd"/><stop offset="0.249" stop-color="#f9f9ff"/><stop offset="0.27" stop-color="#fdfdff"/><stop offset="0.294" stop-color="#f1f1ff"/><stop offset="0.313" stop-color="#f5f5ff"/><stop offset="0.341" stop-color="#e5e5ff"/><stop offset="0.362" stop-color="#f1f1ff"/><stop offset="0.379" stop-color="#f5f5ff"/><stop offset="0.413" stop-color="#e5e5ff"/><stop offset="0.432" stop-color="#e9e9ff"/><stop offset="0.458" stop-color="#f5f5ff"/><stop offset="0.511" stop-color="#f5f5ff"/><stop offset="0.575" stop-color="#f1f1ff"/><stop offset="0.639" stop-color="#f5f5ff"/><stop offset="0.702" stop-color="#f5f5ff"/><stop offset="0.766" stop-color="#f9f9ff"/><stop offset="0.83" stop-color="#f9f9ff"/><stop offset="0.873" stop-color="#fdfdff"/><stop offset="0.915" stop-color="#fffdfd"/><stop offset="1" stop-color="#fffdfd"/></linearGradient>
<linearGradient id="v37" x1="0" y1="0" x2="0" y2="1"><stop offset="0" stop-color="#fff9f9"/><stop offset="0.01" stop-color="#fffdfd"/><stop offset="0.022" stop-color="#f9f9ff"/><stop offset="0.032" stop-color="#f5f5ff"/><stop offset="0.051" stop-color="#fff5f5"/><stop offset="0.072" stop-color="#fff5f5"/><stop offset="0.092" stop-color="#ffeded"/><stop offset="0.106" stop-color="#ffe9e9"/><stop offset="0.121" stop-color="#fff5f5"/><stop offset="0.136" stop-color="#fdfdff"/><stop offset="0.155" stop-color="#fff9f9"/><stop offset="0.177" stop-color="#fffdfd"/><stop offset="0.196" stop-color="#fff5f5"/><stop offset="0.224" stop-color="#fffdfd"/><stop offset="0.249" stop-color="#f9f9ff"/><stop offset="0.27" stop-color="#fdfdff"/><stop offset="0.294" stop-color="#f5f5ff"/><stop offset="0.313" stop-color="#f5f5ff"/><stop offset="0.341" stop-color="#e5e5ff"/><stop offset="0.362" stop-color="#f1f1ff"/><stop offset="0.379" stop-color="#f5f5ff"/><stop offset="0.413" stop-color="#e5e5ff"/><stop offset="0.432" stop-color="#ededff"/><stop offset="0.458" stop-color="#f5f5ff"/><stop offset="0.511" stop-color="#f5f5ff"/><stop offset="0.575" stop-color="#f1f1ff"/><stop offset="0.639" stop-color="#f5f5ff"/><stop offset="0.702" stop-color="#f5f5ff"/><stop offset="0.766" stop-color="#f9f9ff"/><stop offset="0.83" stop-color="#f9f9ff"/><stop offset="0.873" stop-color="#fdfdff"/><stop offset="0.915" stop-color="#fffdfd"/><stop offset="1" stop-color="#fffdfd"/></linearGradient>
<linearGradient id="v38" x1="0" y1="0" x2="0" y2="1"><stop offset="0" stop-color="#fffdfd"/><stop offset="0.01" stop-color="#fdfdff"/><stop offset="0.022" stop-color="#f9f9ff"/><stop offset="0.032" stop-color="#f5f5ff"/><stop offset="0.051" stop-color="#fff5f5"/><stop offset="0.072" stop-color="#fff5f5"/><stop offset="0.092" stop-color="#ffeded"/><stop offset="0.106" stop-color="#ffe9e9"/><stop offset="0.121" stop-color="#fff5f5"/><stop offset="0.136" stop-color="#fdfdff"/><stop offset="0.155" stop-color="#fff5f5"/><stop offset="0.177" stop-color="#fffdfd"/><stop offset="0.196" stop-color="#fff5f5"/><stop offset="0.224" stop-color="#fffdfd"/><stop offset="0.249" stop-color="#fdfdff"/><stop offset="0.27" stop-color="#fdfdff"/><stop offset="0.294" stop-color="#f5f5ff"/><stop offset="0.313" stop-color="#f5f5ff"/><stop offset="0.341" stop-color="#e5e5ff"/><stop offset="0.362" stop-color="#f1f1ff"/><stop offset="0.379" stop-color="#f5f5ff"/><stop offset="0.413" stop-color="#e5e5ff"/><stop offset="0.432" stop-color="#ededff"/><stop offset="0.458" stop-color="#f5f5ff"/><stop offset="0.511" stop-color="#f5f5ff"/><stop offset="0.575" stop-color="#f1f1ff"/><stop offset="0.639" stop-color="#f5f5ff"/><stop offset="0.702" stop-color="#f5f5ff"/><stop offset="0.766" stop-color="#f9f9ff"/><stop offset="0.83" stop-color="#f9f9ff"/><stop offset="0.873" stop-color="#fdfdff"/><stop offset="0.915" stop-color="#fffdfd"/><stop offset="1" stop-color="#fffdfd"/></linearGradient>
<linearGradient id="v39" x1="0" y1="0" x2="0" y2="1"><stop offset="0" stop-color="#f9f9ff"/><stop offset="0.01" stop-color="#f9f9ff"/><stop offset="0.022" stop-color="#f5f5ff"/><stop offset="0.032" stop-color="#f5f5ff"/><stop offset="0.051" stop-color="#fff5f5"/><stop offset="0.072" stop-color="#fff5f5"/><stop offset="0.092" stop-color="#ffeded"/><stop offset="0.106" stop-color="#ffe9e9"/><stop offset="0.121" stop-color="#fff5f5"/><stop offset="0.136" stop-color="#fffdfd"/><stop offset="0.155" stop-color="#fff5f5"/><stop offset="0.177" stop-color="#fff9f9"/><stop offset="0.196" stop-color="#fff5f5"/><stop offset="0.224" stop-color="#fffdfd"/><stop offset="0.249" stop-color="#fdfdff"/><stop offset="0.27" stop-color="#fdfdff"/><stop offset="0.294" stop-color="#f5f5ff"/><stop offset="0.313" stop-color="#f5f5ff"/><stop offset="0.341" stop-color="#e5e5ff"/><stop offset="0.362" stop-color="#f1f1ff"/><stop offset="0.379" stop-color="#f5f5ff"/><stop offset="0.413" stop-color="#e5e5ff"/><stop offset="0.432" stop-color="#ededff"/><stop offset="0.458" stop-color="#f5f5ff"/><stop offset="0.511" stop-color="#f5f5ff"/><stop offset="0.575" stop-color="#f1f1ff"/><stop offset="0.639" stop-color="#f5f5ff"/><stop offset="0.702" stop-color="#f5f5ff"/><stop offset="0.766" stop-color="#f9f9ff"/><stop offset="0.83" stop-color="#f9f9ff"/><stop offset="0.873" stop-color="#fdfdff"/><stop offset="0.915" stop-color="#fffdfd"/><stop offset="1" stop-color="#fffdfd"/></linearGradient>
<linearGradient id="v40" x1="0" y1="0" x2="0" y2="1"><stop offset="0" stop-color="#f5f5ff"/><stop offset="0.01" stop-color="#f5f5ff"/><stop offset="0.022" stop-color="#f5f5ff"/><stop offset="0.032" stop-color="#f1f1ff"/><stop offset="0.051" stop-color="#fff5f5"/><stop offset="0.072" stop-color="#fff5f5"/><stop offset="0.092" stop-color="#ffeded"/><stop offset="0.106" stop-color="#ffe9e9"/><stop offset="0.121" stop-color="#fff5f5"/><stop offset="0.136" stop-color="#fffdfd"/><stop offset="0.155" stop-color="#fff1f1"/><stop offset="0.177" stop-color="#fff9f9"/><stop offset="0.196" stop-color="#fff1f1"/><stop offset="0.224" stop-color="#fffdfd"/><stop offset="0.249" stop-color="#fdfdff"/><stop offset="0.27" stop-color="#fdfdff"/><stop offset="0.294" stop-color="#f5f5ff"/><stop offset="0.313" stop-color="#f5f5ff"/><stop offset="0.341" stop-color="#e5e5ff"/><stop offset="0.362" stop-color="#f1f1ff"/><stop offset="0.379" stop-color="#f5f5ff"/><stop offset="0.413" stop-color="#e9e9ff"/><stop offset="0.432" stop-color="#ededff"/><stop offset="0.458" stop-color="#f5f5ff"/><stop offset="0.511" stop-color="#f5f5ff"/><stop offset="0.575" stop-color="#f1f1ff"/><stop offset="0.639" stop-color="#f5f5ff"/><stop offset="0.702" stop-color="#f5f5ff"/><stop offset="0.766" stop-color="#f9f9ff"/><stop offset="0.83" stop-color="#f9f9ff"/><stop offset="0.873" stop-color="#fdfdff"/><stop offset="0.915" stop-color="#fffdfd"/><stop offset="1" stop-color="#fffdfd"/></linearGradient>
<linearGradient id="v41" x1="0" y1="0" x2="0" y2="1"><stop offset="0" stop-color="#f1f1ff"/><stop offset="0.01" stop-color="#f1f1ff"/><stop offset="0.022" stop-color="#f1f1ff"/><stop offset="0.032" stop-color="#f1f1ff"/><stop offset="0.051" stop-color="#fff5f5"/><stop offset="0.072" stop-color="#fff5f5"/><stop offset="0.092" stop-color="#ffeded"/><stop offset="0.106" stop-color="#ffe9e9"/><stop offset="0.121" stop-color="#fff5f5"/><stop offset="0.136" stop-color="#fffdfd"/><stop offset="0.155" stop-color="#fff1f1"/><stop offset="0.177" stop-color="#fff9f9"/><stop offset="0.196" stop-color="#fff1f1"/><stop offset="0.224" stop-color="#fffdfd"/><stop offset="0.249" stop-color="#fdfdff"/><stop offset="0.27" stop-color="#fdfdff"/><stop offset="0.294" stop-color="#f5f5ff"/><stop offset="0.313" stop-color="#f5f5ff"/><stop offset="0.341" stop-color="#e9e9ff"/><stop offset="0.362" stop-color="#f1f1ff"/><stop offset="0.379" stop-color="#f5f5ff"/><stop offset="0.413" stop-color="#ededff"/><stop offset="0.432" stop-color="#f1f1ff"/><stop offset="0.458" stop-color="#f5f5ff"/><stop offset="0.511" stop-color="#f5f5ff"/><stop offset="0.575" stop-color="#f1f1ff"/><stop offset="0.639" stop-color="#f5f5ff"/><stop offset="0.702" stop-color="#f5f5ff"/><stop offset="0.766" stop-color="#f9f9ff"/><stop offset="0.83" stop-color="#f9f9ff"/><stop offset="0.873" stop-color="#fdfdff"/><stop offset="0.915" stop-color="#fffdfd"/><stop offset="1" stop-color="#fffdfd"/></linearGradient>
<linearGradient id="v42" x1="0" y1="0" x2="0" y2="1"><stop offset="0" stop-color="#f1f1ff"/><stop offset="0.01" stop-color="#f1f1ff"/><stop offset="0.022" stop-color="#f1f1ff"/><stop offset="0.032" stop-color="#f1f1ff"/><stop offset="0.051" stop-color="#fff5f5"/><stop offset="0.072" stop-color="#fff5f5"/><stop offset="0.092" stop-color="#ffeded"/><stop offset="0.106" stop-color="#ffe9e9"/><stop offset="0.121" stop-color="#fff5f5"/><stop offset="0.136" stop-color="#fffdfd"/><stop offset="0.155" stop-color="#fff1f1"/><stop offset="0.177" stop-color="#fff9f9"/><stop offset="0.196" stop-color="#fff1f1"/><stop offset="0.224" stop-color="#fffdfd"/><stop offset="0.249" stop-color="#fdfdff"/><stop offset="0.27" stop-color="#fdfdff"/><stop offset="0.294" stop-color="#f5f5ff"/><stop offset="0.313" stop-color="#f5f5ff"/><stop offset="0.341" stop-color="#e9e9ff"/><stop offset="0.362" stop-color="#f1f1ff"/><stop offset="0.379" stop-color="#f5f5ff"/><stop offset="0.413" stop-color="#f1f1ff"/><stop offset="0.432" stop-color="#f1f1ff"/><stop offset="0.458" stop-color="#f5f5ff"/><stop offset="0.511" stop-color="#f5f5ff"/><stop offset="0.575" stop-color="#f1f1ff"/><stop offset="0.639" stop-color="#f5f5ff"/><stop offset="0.702" stop-color="#f5f5ff"/><stop offset="0.766" stop-color="#f9f9ff"/><stop offset="0.83" stop-color="#f9f9ff"/><stop offset="0.873" stop-color="#fdfdff"/><stop offset="0.915" stop-color="#fffdfd"/><stop offset="1" stop-color="#fffdfd"/></linearGradient>
<linearGradient id="v43" x1="0" y1="0" x2="0" y2="1"><stop offset="0" stop-color="#f1f1ff"/><stop offset="0.01" stop-color="#f1f1ff"/><stop offset="0.022" stop-color="#f1f1ff"/><stop offset="0.032" stop-color="#f1f1ff"/><stop offset="0.051" stop-color="#fff5f5"/><stop offset="0.072" stop-color="#fff5f5"/><stop offset="0.092" stop-color="#ffeded"/><stop offset="0.106" stop-color="#ffe9e9"/><stop offset="0.121" stop-color="#fff5f5"/><stop offset="0.136" stop-color="#fffdfd"/><stop offset="0.155" stop-color="#fff1f1"/><stop offset="0.177" stop-color="#fff9f9"/><stop offset="0.196" stop-color="#fff1f1"/><stop offset="0.224" stop-color="#fffdfd"/><stop offset="0.249" stop-color="#fdfdff"/><stop offset="0.27" stop-color="#fdfdff"/><stop offset="0.294" stop-color="#f9f9ff"/><stop offset="0.313" stop-color="#f5f5ff"/><stop offset="0.341" stop-color="#e9e9ff"/><stop offset="0.362" stop-color="#f1f1ff"/><stop offset="0.379" stop-color="#f5f5ff"/><stop offset="0.413" stop-color="#f1f1ff"/><stop offset="0.432" stop-color="#f5f5ff"/><stop offset="0.458" stop-color="#f5f5ff"/><stop offset="0.511" stop-color="#f5f5ff"/><stop offset="0.575" stop-color="#f5f5ff"/><stop offset="0.639" stop-color="#f5f5ff"/><stop offset="0.702" stop-color="#f5f5ff"/><stop offset="0.766" stop-color="#f9f9ff"/><stop offset="0.83" stop-color="#f9f9ff"/><stop offset="0.873" stop-color="#fdfdff"/><stop offset="0.915" stop-color="#fffdfd"/><stop offset="1" stop-color="#fffdfd"/></linearGradient>
<linearGradient id="v44" x1="0" y1="0" x2="0" y2="1"><stop offset="0" stop-color="#ededff"/><stop offset="0.01" stop-color="#ededff"/><stop offset="0.022" stop-color="#ededff"/><stop offset="0.032" stop-color="#f1f1ff"/><stop offset="0.051" stop-color="#fff5f5"/><stop offset="0.072" stop-color="#fff5f5"/><stop offset="0.092" stop-color="#ffeded"/><stop offset="0.106" stop-color="#ffe9e9"/><stop offset="0.121" stop-color="#fff5f5"/><stop offset="0.136" stop-color="#fffdfd"/><stop offset="0.155" stop-color="#fff1f1"/><stop offset="0.177" stop-color="#fff9f9"/><stop offset="0.196" stop-color="#fff1f1"/><stop offset="0.224" stop-color="#fffdfd"/><stop offset="0.249" stop-color="#fdfdff"/><stop offset="0.27" stop-color="#fdfdff"/><stop offset="0.294" stop-color="#f9f9ff"/><stop offset="0.313" stop-color="#f5f5ff"/><stop offset="0.341" stop-color="#e9e9ff"/><stop offset="0.362" stop-color="#f1f1ff"/><stop offset="0.379" stop-color="#f5f5ff"/><stop offset="0.413" stop-color="#f1f1ff"/><stop offset="0.432" stop-color="#f5f5ff"/><stop offset="0.458" stop-color="#f5f5ff"/><stop offset="0.511" stop-color="#f5f5ff"/><stop offset="0.575" stop-color="#f5f5ff"/><stop offset="0.639" stop-color="#f5f5ff"/><stop offset="0.702" stop-color="#f5f5ff"/><stop offset="0.766" stop-color="#f9f9ff"/><stop offset="0.83" stop-color="#f9f9ff"/><stop offset="0.873" stop-color="#fdfdff"/><stop offset="0.915" stop-color="#fffdfd"/><stop offset="1" stop-color="#fffdfd"/></linearGradient>
<linearGradient id="v45" x1="0" y1="0" x2="0" y2="1"><stop offset="0" stop-color="#ededff"/><stop offset="0.01" stop-color="#ededff"/><stop offset="0.022" stop-color="#ededff"/><stop offset="0.032" stop-color="#ededff"/><stop offset="0.051" stop-color="#fff5f5"/><stop offset="0.072" stop-color="#fff5f5"/><stop offset="0.092" stop-color="#ffeded"/><stop offset="0.106" stop-color="#ffe9e9"/><stop offset="0.121" stop-color="#fff5f5"/><stop offset="0.136" stop-color="#fffdfd"/><stop offset="0.155" stop-color="#fff1f1"/><stop offset="0.177" stop-color="#fff9f9"/><stop offset="0.196" stop-color="#fff1f1"/><stop offset="0.224" stop-color="#fffdfd"/><stop offset="0.249" stop-color="#fdfdff"/><stop offset="0.27" stop-color="#fdfdff"/><stop offset="0.294" stop-color="#f9f9ff"/><stop offset="0.313" stop-color="#f5f5ff"/><stop offset="0.341" stop-color="#ededff"/><stop offset="0.362" stop-color="#f1f1ff"/><stop offset="0.379" stop-color="#f5f5ff"/><stop offset="0.413" stop-color="#f1f1ff"/><stop offset="0.432" stop-color="#f5f5ff"/><stop offset="0.458" stop-color="#f5f5ff"/><stop offset="0.511" stop-color="#f5f5ff"/><stop offset="0.575" stop-color="#f5f5ff"/><stop offset="0.639" stop-color="#f5f5ff"/><stop offset="0.702" stop-color="#f5f5ff"/><stop offset="0.766" stop-color="#f9f9ff"/><stop offset="0.83" stop-color="#f9f9ff"/><stop offset="0.873" stop-color="#fdfdff"/><stop offset="0.915" stop-color="#fffdfd"/><stop offset="1" stop-color="#fffdfd"/></linearGradient>
<linearGradient id="v46" x1="0" y1="0" x2="0" y2="1"><stop offset="0" stop-color="#ededff"/><stop offset="0.01" stop-color="#ededff"/><stop offset="0.022" stop-color="#ededff"/><stop offset="0.032" stop-color="#ededff"/><stop offset="0.051" stop-color="#fff5f5"/><stop offset="0.072" stop-color="#fff5f5"/><stop offset="0.092" stop-color="#ffeded"/><stop offset="0.106" stop-color="#ffe9e9"/><stop offset="0.121" stop-color="#fff5f5"/><stop offset="0.136" stop-color="#fffdfd"/><stop offset="0.155" stop-color="#fff1f1"/><stop offset="0.177" stop-color="#fff9f9"/><stop offset="0.196" stop-color="#fff1f1"/><stop offset="0.224" stop-color="#fffdfd"/><stop offset="0.249" stop-color="#fdfdff"/><stop offset="0.27" stop-color="#fdfdff"/><stop offset="0.294" stop-color="#f5f5ff"/><stop offset="0.313" stop-color="#f1f1ff"/><stop offset="0.341" stop-color="#e9e9ff"/><stop offset="0.362" stop-color="#f1f1ff"/><stop offset="0.379" stop-color="#f5f5ff"/><stop offset="0.413" stop-color="#f1f1ff"/><stop offset="0.432" stop-color="#f1f1ff"/><stop offset="0.458" stop-color="#f1f1ff"/><stop offset="0.511" stop-color="#f1f1ff"/><stop offset="0.575" stop-color="#f1f1ff"/><stop offset="0.639" stop-color="#f1f1ff"/><stop offset="0.702" stop-color="#f1f1ff"/><stop offset="0.766" stop-color="#f9f9ff"/><stop offset="0.83" stop-color="#f9f9ff"/><stop offset="0.873" stop-color="#fdfdff"/><stop offset="0.915" stop-color="#fffdfd"/><stop offset="1" stop-color="#fffdfd"/></linearGradient>
<linearGradient id="v47" x1="0" y1="0" x2="0" y2="1"><stop offset="0" stop-color="#e9e9ff"/><stop offset="0.01" stop-color="#e9e9ff"/><stop offset="0.022" stop-color="#e9e9ff"/><stop offset="0.032" stop-color="#ededff"/><stop offset="0.051" stop-color="#fff9f9"/><stop offset="0.072" stop-color="#fff5f5"/><stop offset="0.092" stop-color="#ffeded"/><stop offset="0.106" stop-color="#ffe9e9"/><stop offset="0.121" stop-color="#fff5f5"/><stop offset="0.136" stop-color="#fffdfd"/><stop offset="0.155" stop-color="#fff1f1"/><stop offset="0.177" stop-color="#fff9f9"/><stop offset="0.196" stop-color="#fff1f1"/><stop offset="0.224" stop-color="#fffdfd"/><stop offset="0.249" stop-color="#fdfdff"/><stop offset="0.27" stop-color="#fdfdff"/><stop offset="0.294" stop-color="#f9f9ff"/><stop offset="0.313" stop-color="#f5f5ff"/><stop offset="0.341" stop-color="#ededff"/><stop offset="0.362" stop-color="#f1f1ff"/><stop offset="0.379" stop-color="#f5f5ff"/><stop offset="0.413" stop-color="#f5f5ff"/><stop offset="0.432" stop-color="#f5f5ff"/><stop offset="0.458" stop-color="#f5f5ff"/><stop offset="0.511" stop-color="#f5f5ff"/><stop offset="0.575" stop-color="#f5f5ff"/><stop offset="0.639" stop-color="#f5f5ff"/><stop offset="0.702" stop-color="#f5f5ff"/><stop offset="0.766" stop-color="#f9f9ff"/><stop offset="0.83" stop-color="#f9f9ff"/><stop offset="0.873" stop-color="#fdfdff"/><stop offset="0.915" stop-color="#fffdfd"/><stop offset="1" stop-color="#fffdfd"/></linearGradient>
<linearGradient id="v48" x1="0" y1="0" x2="0" y2="1"><stop offset="0" stop-color="#e9e9ff"/><stop offset="0.01" stop-color="#e9e9ff"/><stop offset="0.022" stop-color="#e9e9ff"/><stop offset="0.032" stop-color="#ededff"/><stop offset="0.051" stop-color="#fff9f9"/><stop offset="0.072" stop-color="#fff5f5"/><stop offset="0.092" stop-color="#ffeded"/><stop offset="0.106" stop-color="#ffe9e9"/><stop offset="0.121" stop-color="#fff5f5"/><stop offset="0.136" stop-color="#fffdfd"/><stop offset="0.155" stop-color="#fff1f1"/><stop offset="0.177" stop-color="#fff9f9"/><stop offset="0.196" stop-color="#fff1f1"/><stop offset="0.224" stop-color="#fffdfd"/><stop offset="0.249" stop-color="#fdfdff"/><stop offset="0.27" stop-color="#fdfdff"/><stop offset="0.294" stop-color="#f9f9ff"/><stop offset="0.313" stop-color="#f5f5ff"/><stop offset="0.341" stop-color="#ededff"/><stop offset="0.362" stop-color="#f1f1ff"/><stop offset="0.379" stop-color="#f5f5ff"/><stop offset="0.413" stop-color="#f5f5ff"/><stop offset="0.432" stop-color="#f5f5ff"/><stop offset="0.458" stop-color="#f5f5ff"/><stop offset="0.511" stop-color="#f5f5ff"/><stop offset="0.575" stop-color="#f5f5ff"/><stop offset="0.639" stop-color="#f5f5ff"/><stop offset="0.702" stop-color="#f5f5ff"/><stop offset="0.766" stop-color="#f9f9ff"/><stop offset="0.83" stop-color="#f9f9ff"/><stop offset="0.873" stop-color="#fdfdff"/><stop offset="0.915" stop-color="#fffdfd"/><stop offset="1" stop-color="#fffdfd"/></linearGradient>
<linearGradient id="v49" x1="0" y1="0" x2="0" y2="1"><stop offset="0" stop-color="#e9e9ff"/><stop offset="0.01" stop-color="#e9e9ff"/><stop offset="0.022" stop-color="#e9e9ff"/><stop offset="0.032" stop-color="#ededff"/><stop offset="0.051" stop-color="#fff9f9"/><stop offset="0.072" stop-color="#fff5f5"/><stop offset="0.092" stop-color="#ffeded"/><stop offset="0.106" stop-color="#ffe9e9"/><stop offset="0.121" stop-color="#fff5f5"/><stop offset="0.136" stop-color="#fffdfd"/><stop offset="0.155" stop-color="#fff1f1"/><stop offset="0.177" stop-color="#fff9f9"/><stop offset="0.196" stop-color="#fff1f1"/><stop offset="0.224" stop-color="#fffdfd"/><stop offset="0.249" stop-color="#fdfdff"/><stop offset="0.27" stop-color="#fdfdff"/><stop offset="0.294" stop-color="#f9f9ff"/><stop offset="0.313" stop-color="#f5f5ff"/><stop offset="0.341" stop-color="#ededff"/><stop offset="0.362" stop-color="#f1f1ff"/><stop offset="0.379" stop-color="#f5f5ff"/><stop offset="0.413" stop-color="#f5f5ff"/><stop offset="0.432" stop-color="#f5f5ff"/><stop offset="0.458" stop-color="#f5f5ff"/><stop offset="0.511" stop-color="#f5f5ff"/><stop offset="0.575" stop-color="#f1f1ff"/><stop offset="0.639" stop-color="#f5f5ff"/><stop offset="0.702" stop-color="#f5f5ff"/><stop offset="0.766" stop-color="#f9f9ff"/><stop offset="0.83" stop-color="#f9f9ff"/><stop offset="0.873" stop-color="#fdfdff"/><stop offset="0.915" stop-color="#fffdfd"/><stop offset="1" stop-color="#fffdfd"/></linearGradient>
<linearGradient id="v50" x1="0" y1="0" x2="0" y2="1"><stop offset="0" stop-color="#e9e9ff"/><stop offset="0.01" stop-color="#e9e9ff"/><stop offset="0.022" stop-color="#e9e9ff"/><stop offset="0.032" stop-color="#ededff"/><stop offset="0.051" stop-color="#fff9f9"/><stop offset="0.072" stop-color="#fff5f5"/><stop offset="0.092" stop-color="#ffeded"/><stop offset="0.106" stop-color="#ffe9e9"/><stop offset="0.121" stop-color="#fff5f5"/><stop offset="0.136" stop-color="#fffdfd"/><stop offset="0.155" stop-color="#fff1f1"/><stop offset="0.177" stop-color="#fff9f9"/><stop offset="0.196" stop-color="#fff5f5"/><stop offset="0.224" stop-color="#fffdfd"/><stop offset="0.249" stop-color="#fdfdff"/><stop offset="0.27" stop-color="#fdfdff"/><stop offset="0.294" stop-color="#f9f9ff"/><stop offset="0.313" stop-color="#f5f5ff"/><stop offset="0.341" stop-color="#ededff"/><stop offset="0.362" stop-color="#f1f1ff"/><stop offset="0.379" stop-color="#f5f5ff"/><stop offset="0.413" stop-color="#f1f1ff"/><stop offset="0.432" stop-color="#f5f5ff"/><stop offset="0.458" stop-color="#f5f5ff"/><stop offset="0.511" stop-color="#f5f5ff"/><stop offset="0.575" stop-color="#f1f1ff"/><stop offset="0.639" stop-color="#f5f5ff"/><stop offset="0.702" stop-color="#f5f5ff"/><stop offset="0.766" stop-color="#f9f9ff"/><stop offset="0.83" stop-color="#f9f9ff"/><stop offset="0.873" stop-color="#fdfdff"/><stop offset="0.915" stop-color="#fffdfd"/><stop offset="1" stop-color="#fffdfd"/></linearGradient>
<linearGradient id="v51" x1="0" y1="0" x2="0" y2="1"><stop offset="0" stop-color="#e9e9ff"/><stop offset="0.01" stop-color="#e9e9ff"/><stop offset="0.022" stop-color="#e9e9ff"/><stop offset="0.032" stop-color="#ededff"/><stop offset="0.051" stop-color="#fff9f9"/><stop offset="0.072" stop-color="#fff5f5"/><stop offset="0.092" stop-color="#ffeded"/><stop offset="0.106" stop-color="#ffe9e9"/><stop offset="0.121" stop-color="#fff5f5"/><stop offset="0.136" stop-color="#fffdfd"/><stop offset="0.155" stop-color="#fff1f1"/><stop offset="0.177" stop-color="#fff9f9"/><stop offset="0.196" stop-color="#fff5f5"/><stop offset="0.224" stop-color="#fffdfd"/><stop offset="0.249" stop-color="#fdfdff"/><stop offset="0.27" stop-color="#fdfdff"/><stop offset="0.294" stop-color="#f9f9ff"/><stop offset="0.313" stop-color="#f5f5ff"/><stop offset="0.341" stop-color="#e9e9ff"/><stop offset="0.362" stop-color="#f1f1ff"/><stop offset="0.379" stop-color="#f5f5ff"/><stop offset="0.413" stop-color="#f1f1ff"/><stop offset="0.432" stop-color="#f5f5ff"/><stop offset="0.458" stop-color="#f5f5ff"/><stop offset="0.511" stop-color="#f1f1ff"/><stop offset="0.575" stop-color="#f1f1ff"/><stop offset="0.639" stop-color="#f1f1ff"/><stop offset="0.702" stop-color="#f5f5ff"/><stop offset="0.766" stop-color="#f9f9ff"/><stop offset="0.83" stop-color="#f9f9ff"/><stop offset="0.873" stop-color="#fdfdff"/><stop offset="0.915" stop-color="#fffdfd"/><stop offset="1" stop-color="#fffdfd"/></linearGradient>
<linearGradient id="v52" x1="0" y1="0" x2="0" y2="1"><stop offset="0" stop-color="#e9e9ff"/><stop offset="0.01" stop-color="#e9e9ff"/><stop offset="0.022" stop-color="#e9e9ff"/><stop offset="0.032" stop-color="#ededff"/><stop offset="0.051" stop-color="#fff9f9"/><stop offset="0.072" stop-color="#fff5f5"/><stop offset="0.092" stop-color="#ffeded"/><stop offset="0.106" stop-color="#ffe9e9"/><stop offset="0.121" stop-color="#fff5f5"/><stop offset="0.136" stop-color="#fff9f9"/><stop offset="0.155" stop-color="#fff1f1"/><stop offset="0.177" stop-color="#fff9f9"/><stop offset="0.196" stop-color="#fff5f5"/><stop offset="0.224" stop-color="#fffdfd"/><stop offset="0.249" stop-color="#fdfdff"/><stop offset="0.27" stop-color="#fdfdff"/><stop offset="0.294" stop-color="#f9f9ff"/><stop offset="0.313" stop-color="#f5f5ff"/><stop offset="0.341" stop-color="#e9e9ff"/><stop offset="0.362" stop-color="#f1f1ff"/><stop offset="0.379" stop-color="#f5f5ff"/><stop offset="0.413" stop-color="#f1f1ff"/><stop offset="0.432" stop-color="#f5f5ff"/><stop offset="0.458" stop-color="#f5f5ff"/><stop offset="0.511" stop-color="#f1f1ff"/><stop offset="0.575" stop-color="#f1f1ff"/><stop offset="0.639" stop-color="#f1f1ff"/><stop offset="0.702" stop-color="#f5f5ff"/><stop offset="0.766" stop-color="#f9f9ff"/><stop offset="0.83" stop-color="#f9f9ff"/><stop offset="0.873" stop-color="#fdfdff"/><stop offset="0.915" stop-color="#fffdfd"/><stop offset="1" stop-color="#fffdfd"/></linearGradient>
<linearGradient id="v53" x1="0" y1="0" x2="0" y2="1"><stop offset="0" stop-color="#e9e9ff"/><stop offset="0.01" stop-color="#e9e9ff"/><stop offset="0.022" stop-color="#e9e9ff"/><stop offset="0.032" stop-color="#ededff"/><stop offset="0.051" stop-color="#fff9f9"/><stop offset="0.072" stop-color="#fff1f1"/><stop offset="0.092" stop-color="#ffe9e9"/><stop offset="0.106" stop-color="#ffe9e9"/><stop offset="0.121" stop-color="#fff1f1"/><stop offset="0.136" stop-color="#fff9f9"/><stop offset="0.155" stop-color="#fff1f1"/><stop offset="0.177" stop-color="#fff9f9"/><stop offset="0.196" stop-color="#fff5f5"/><stop offset="0.224" stop-color="#fffdfd"/><stop offset="0.249" stop-color="#fdfdff"/><stop offset="0.27" stop-color="#fdfdff"/><stop offset="0.294" stop-color="#f9f9ff"/><stop offset="0.313" stop-color="#f5f5ff"/><stop offset="0.341" stop-color="#e9e9ff"/><stop offset="0.362" stop-color="#f1f1ff"/><stop offset="0.379" stop-color="#f1f1ff"/><stop offset="0.413" stop-color="#f1f1ff"/><stop offset="0.432" stop-color="#f1f1ff"/><stop offset="0.458" stop-color="#f1f1ff"/><stop offset="0.511" stop-color="#f1f1ff"/><stop offset="0.575" stop-color="#f1f1ff"/><stop offset="0.639" stop-color="#f1f1ff"/><stop offset="0.702" stop-color="#f5f5ff"/><stop offset="0.766" stop-color="#f9f9ff"/><stop offset="0.83" stop-color="#f9f9ff"/><stop offset="0.873" stop-color="#fdfdff"/><stop offset="0.915" stop-color="#fffdfd"/><stop offset="1" stop-color="#fffdfd"/></linearGradient>
<linearGradient id="v54" x1="0" y1="0" x2="0" y2="1"><stop offset="0" stop-color="#e9e9ff"/><stop offset="0.01" stop-color="#e9e9ff"/><stop offset="0.022" stop-color="#e9e9ff"/><stop offset="0.032" stop-color="#ededff"/><stop offset="0.051" stop-color="#fff9f9"/><stop offset="0.072" stop-color="#fff1f1"/><stop offset="0.092" stop-color="#ffe9e9"/><stop offset="0.106" stop-color="#ffe5e5"/><stop offset="0.121" stop-color="#fff1f1"/><stop offset="0.136" stop-color="#fff9f9"/><stop offset="0.155" stop-color="#fff1f1"/><stop offset="0.177" stop-color="#fff9f9"/><stop offset="0.196" stop-color="#fff5f5"/><stop offset="0.224" stop-color="#fffdfd"/><stop offset="0.249" stop-color="#fdfdff"/><stop offset="0.27" stop-color="#fdfdff"/><stop offset="0.294" stop-color="#f9f9ff"/><stop offset="0.313" stop-color="#f5f5ff"/><stop offset="0.341" stop-color="#e9e9ff"/><stop offset="0.362" stop-color="#f1f1ff"/><stop offset="0.379" stop-color="#f1f1ff"/><stop offset="0.413" stop-color="#f1f1ff"/><stop offset="0.432" stop-color="#f1f1ff"/><stop offset="0.458" stop-color="#f1f1ff"/><stop offset="0.511" stop-color="#f1f1ff"/><stop offset="0.575" stop-color="#f1f1ff"/><stop offset="0.639" stop-color="#f1f1ff"/><stop offset="0.702" stop-color="#f5f5ff"/><stop offset="0.766" stop-color="#f9f9ff"/><stop offset="0.83" stop-color="#f9f9ff"/><stop offset="0.873" stop-color="#fdfdff"/><stop offset="0.915" stop-color="#fffdfd"/><stop offset="1" stop-color="#fffdfd"/></linearGradient>
<linearGradient id="v55" x1="0" y1="0" x2="0" y2="1"><stop offset="0" stop-color="#e9e9ff"/><stop offset="0.01" stop-color="#e9e9ff"/><stop offset="0.022" stop-color="#e9e9ff"/><stop offset="0.032" stop-color="#ededff"/><stop offset="0.051" stop-color="#fff9f9"/><stop offset="0.072" stop-color="#ffeded"/><stop offset="0.092" stop-color="#ffe5e5"/><stop offset="0.106" stop-color="#ffe5e5"/><stop offset="0.121" stop-color="#fff1f1"/><stop offset="0.136" stop-color="#fff9f9"/><stop offset="0.155" stop-color="#fff1f1"/><stop offset="0.177" stop-color="#fff9f9"/><stop offset="0.196" stop-color="#fff5f5"/><stop offset="0.224" stop-color="#fffdfd"/><stop offset="0.249" stop-color="#fdfdff"/><stop offset="0.27" stop-color="#fdfdff"/><stop offset="0.294" stop-color="#f9f9ff"/><stop offset="0.313" stop-color="#f5f5ff"/><stop offset="0.341" stop-color="#e9e9ff"/><stop offset="0.362" stop-color="#f1f1ff"/><stop offset="0.379" stop-color="#f1f1ff"/><stop offset="0.413" stop-color="#f1f1ff"/><stop offset="0.432" stop-color="#f1f1ff"/><stop offset="0.458" stop-color="#f1f1ff"/><stop offset="0.511" stop-color="#f1f1ff"/><stop offset="0.575" stop-color="#f1f1ff"/><stop offset="0.639" stop-color="#f1f1ff"/><stop offset="0.702" stop-color="#f5f5ff"/><stop offset="0.766" stop-color="#f9f9ff"/><stop offset="0.83" stop-color="#f9f9ff"/><stop offset="0.873" stop-color="#fdfdff"/><stop offset="0.915" stop-color="#fffdfd"/><stop offset="1" stop-color="#fffdfd"/></linearGradient>
<linearGradient id="v56" x1="0" y1="0" x2="0" y2="1"><stop offset="0" stop-color="#e9e9ff"/><stop offset="0.01" stop-color="#e9e9ff"/><stop offset="0.022" stop-color="#e9e9ff"/><stop offset="0.032" stop-color="#ededff"/><stop offset="0.051" stop-color="#fff9f9"/><stop offset="0.072" stop-color="#ffeded"/><stop offset="0.092" stop-color="#ffe5e5"/><stop offset="0.106" stop-color="#ffe5e5"/><stop offset="0.121" stop-color="#ffeded"/><stop offset="0.136" stop-color="#fff9f9"/><stop offset="0.155" stop-color="#fff1f1"/><stop offset="0.177" stop-color="#fff9f9"/><stop offset="0.196" stop-color="#fff5f5"/><stop offset="0.224" stop-color="#fffdfd"/><stop offset="0.249" stop-color="#fdfdff"/><stop offset="0.27" stop-color="#fdfdff"/><stop offset="0.294" stop-color="#f9f9ff"/><stop offset="0.313" stop-color="#f5f5ff"/><stop offset="0.341" stop-color="#e9e9ff"/><stop offset="0.362" stop-color="#f1f1ff"/><stop offset="0.379" stop-color="#f1f1ff"/><stop offset="0.413" stop-color="#f1f1ff"/><stop offset="0.432" stop-color="#f1f1ff"/><stop offset="0.458" stop-color="#f1f1ff"/><stop offset="0.511" stop-color="#f1f1ff"/><stop offset="0.575" stop-color="#f1f1ff"/><stop offset="0.639" stop-color="#f1f1ff"/><stop offset="0.702" stop-color="#f5f5ff"/><stop offset="0.766" stop-color="#f9f9ff"/><stop offset="0.83" stop-color="#f9f9ff"/><stop offset="0.873" stop-color="#fdfdff"/><stop offset="0.915" stop-color="#fffdfd"/><stop offset="1" stop-color="#fffdfd"/></linearGradient>
<linearGradient id="v57" x1="0" y1="0" x2="0" y2="1"><stop offset="0" stop-color="#e9e9ff"/><stop offset="0.01" stop-color="#e9e9ff"/><stop offset="0.022" stop-color="#e9e9ff"/><stop offset="0.032" stop-color="#ededff"/><stop offset="0.051" stop-color="#fff9f9"/><stop offset="0.072" stop-color="#ffeded"/><stop offset="0.092" stop-color="#ffe5e5"/><stop offset="0.106" stop-color="#ffe1e1"/><stop offset="0.121" stop-color="#ffeded"/><stop offset="0.136" stop-color="#fff9f9"/><stop offset="0.155" stop-color="#fff1f1"/><stop offset="0.177" stop-color="#fff9f9"/><stop offset="0.196" stop-color="#fff5f5"/><stop offset="0.224" stop-color="#fffdfd"/><stop offset="0.249" stop-color="#fdfdff"/><stop offset="0.27" stop-color="#fdfdff"/><stop offset="0.294" stop-color="#f9f9ff"/><stop offset="0.313" stop-color="#f5f5ff"/><stop offset="0.341" stop-color="#e9e9ff"/><stop offset="0.362" stop-color="#f1f1ff"/><stop offset="0.379" stop-color="#f1f1ff"/><stop offset="0.413" stop-color="#f1f1ff"/><stop offset="0.432" stop-color="#f1f1ff"/><stop offset="0.458" stop-color="#f1f1ff"/><stop offset="0.511" stop-color="#f1f1ff"/><stop offset="0.575" stop-color="#f1f1ff"/><stop offset="0.639" stop-color="#f1f1ff"/><stop offset="0.702" stop-color="#f5f5ff"/><stop offset="0.766" stop-color="#f9f9ff"/><stop offset="0.83" stop-color="#f9f9ff"/><stop offset="0.873" stop-color="#fdfdff"/><stop offset="0.915" stop-color="#fffdfd"/><stop offset="1" stop-color="#fffdfd"/></linearGradient>
<linearGradient id="v58" x1="0" y1="0" x2="0" y2="1"><stop offset="0" stop-color="#e9e9ff"/><stop offset="0.01" stop-color="#e9e9ff"/><stop offset="0.022" stop-color="#e9e9ff"/><stop offset="0.032" stop-color="#ededff"/><stop offset="0.051" stop-color="#fff9f9"/><stop offset="0.072" stop-color="#ffe9e9"/><stop offset="0.092" stop-color="#ffe5e5"/><stop offset="0.106" stop-color="#ffe1e1"/><stop offset="0.121" stop-color="#ffeded"/><stop offset="0.136" stop-color="#fff9f9"/><stop offset="0.155" stop-color="#fff1f1"/><stop offset="0.177" stop-color="#fff9f9"/><stop offset="0.196" stop-color="#fff5f5"/><stop offset="0.224" stop-color="#fffdfd"/><stop offset="0.249" stop-color="#fdfdff"/><stop offset="0.27" stop-color="#fdfdff"/><stop offset="0.294" stop-color="#f9f9ff"/><stop offset="0.313" stop-color="#f5f5ff"/><stop offset="0.341" stop-color="#e9e9ff"/><stop offset="0.362" stop-color="#f1f1ff"/><stop offset="0.379" stop-color="#f1f1ff"/><stop offset="0.413" stop-color="#f1f1ff"/><stop offset="0.432" stop-color="#f1f1ff"/><stop offset="0.458" stop-color="#f1f1ff"/><stop offset="0.511" stop-color="#f1f1ff"/><stop offset="0.575" stop-color="#f1f1ff"/><stop offset="0.639" stop-color="#f1f1ff"/><stop offset="0.702" stop-color="#f5f5ff"/><stop offset="0.766" stop-color="#f9f9ff"/><stop offset="0.83" stop-color="#f9f9ff"/><stop offset="0.873" stop-color="#fdfdff"/><stop offset="0.915" stop-color="#fffdfd"/><stop offset="1" stop-color="#fffdfd"/></linearGradient>
<linearGradient id="v59" x1="0" y1="0" x2="0" y2="1"><stop offset="0" stop-color="#e9e9ff"/><stop offset="0.01" stop-color="#e9e9ff"/><stop offset="0.022" stop-color="#e9e9ff"/><stop offset="0.032" stop-color="#ededff"/><stop offset="0.051" stop-color="#fff9f9"/><stop offset="0.072" stop-color="#ffe9e9"/><stop offset="0.092" stop-color="#ffe1e1"/><stop offset="0.106" stop-color="#ffe1e1"/><stop offset="0.121" stop-color="#ffeded"/><stop offset="0.136" stop-color="#fff9f9"/><stop offset="0.155" stop-color="#fff1f1"/><stop offset="0.177" stop-color="#fff9f9"/><stop offset="0.196" stop-color="#fff5f5"/><stop offset="0.224" stop-color="#fffdfd"/><stop offset="0.249" stop-color="#fdfdff"/><stop offset="0.27" stop-color="#fdfdff"/><stop offset="0.294" stop-color="#f9f9ff"/><stop offset="0.313" stop-color="#f5f5ff"/><stop offset="0.341" stop-color="#e9e9ff"/><stop offset="0.362" stop-color="#f1f1ff"/><stop offset="0.379" stop-color="#f1f1ff"/><stop offset="0.413" stop-color="#f1f1ff"/><stop offset="0.432" stop-color="#f1f1ff"/><stop offset="0.458" stop-color="#f1f1ff"/><stop offset="0.511" stop-color="#f1f1ff"/><stop offset="0.575" stop-color="#f1f1ff"/><stop offset="0.639" stop-color="#f1f1ff"/><stop offset="0.702" stop-color="#f5f5ff"/><stop offset="0.766" stop-color="#f9f9ff"/><stop offset="0.83" stop-color="#f9f9ff"/><stop offset="0.873" stop-color="#fdfdff"/><stop offset="0.915" stop-color="#fffdfd"/><stop offset="1" stop-color="#fffdfd"/></linearGradient>
<linearGradient id="vs" x1="0" y1="0" x2="0" y2="1"><stop offset="0" stop-color="#ebebff"/><stop offset=".18" stop-color="#f1f1ff"/><stop offset=".4" stop-color="#f8f6fd"/><stop offset="1" stop-color="#fffafa"/></linearGradient>
<radialGradient id="spV"><stop offset="0" stop-color="#7474f8"/><stop offset=".5" stop-color="#9a9afa" stop-opacity=".7"/><stop offset="1" stop-color="#f0f0ff" stop-opacity="0"/></radialGradient>
<linearGradient id="cbI" x1="0" y1="0" x2="0" y2="1"><stop offset="0" stop-color="#7a0403"/><stop offset="0.025" stop-color="#8e0a01"/><stop offset="0.05" stop-color="#a11201"/><stop offset="0.075" stop-color="#b41b01"/><stop offset="0.1" stop-color="#c32503"/><stop offset="0.125" stop-color="#d02f05"/><stop offset="0.15" stop-color="#dd3d08"/><stop offset="0.175" stop-color="#e7490c"/><stop offset="0.2" stop-color="#f05b12"/><stop offset="0.225" stop-color="#f66c19"/><stop offset="0.25" stop-color="#fb7e21"/><stop offset="0.275" stop-color="#fe932a"/><stop offset="0.3" stop-color="#fea431"/><stop offset="0.325" stop-color="#fbb637"/><stop offset="0.35" stop-color="#f6c33a"/><stop offset="0.375" stop-color="#eecf3a"/><stop offset="0.4" stop-color="#e1dd37"/><stop offset="0.425" stop-color="#d4e735"/><stop offset="0.45" stop-color="#c3f134"/><stop offset="0.475" stop-color="#b4f836"/><stop offset="0.5" stop-color="#a4fc3c"/><stop offset="0.525" stop-color="#8fff49"/><stop offset="0.55" stop-color="#79fe59"/><stop offset="0.575" stop-color="#5dfc6f"/><stop offset="0.6" stop-color="#46f884"/><stop offset="0.625" stop-color="#32f298"/><stop offset="0.65" stop-color="#20eaac"/><stop offset="0.675" stop-color="#19e2bb"/><stop offset="0.7" stop-color="#19d5cd"/><stop offset="0.725" stop-color="#1fc9dd"/><stop offset="0.75" stop-color="#28bceb"/><stop offset="0.775" stop-color="#35abf8"/><stop offset="0.8" stop-color="#3e9bfe"/><stop offset="0.825" stop-color="#458afc"/><stop offset="0.85" stop-color="#477bf2"/><stop offset="0.875" stop-color="#466be3"/><stop offset="0.9" stop-color="#4559cb"/><stop offset="0.925" stop-color="#4249b1"/><stop offset="0.95" stop-color="#3d358b"/><stop offset="0.975" stop-color="#372466"/><stop offset="1" stop-color="#30123b"/></linearGradient>
<linearGradient id="cbV" x1="0" y1="0" x2="0" y2="1"><stop offset="0" stop-color="#800000"/><stop offset="0.125" stop-color="#be0000"/><stop offset="0.25" stop-color="#fe0000"/><stop offset="0.375" stop-color="#ff7d7d"/><stop offset="0.5" stop-color="#fffdfd"/><stop offset="0.625" stop-color="#8181ff"/><stop offset="0.75" stop-color="#0101ff"/><stop offset="0.875" stop-color="#0000a6"/><stop offset="1" stop-color="#00004c"/></linearGradient>
</defs>
<svg x="0" y="65.4" width="1350" height="208" viewBox="0 65.4 1350 208" preserveAspectRatio="none" shape-rendering="crispEdges">
<rect y="65.4" height="208" x="110.6" width="6" fill="url(#i0)"/>
<rect y="65.4" height="208" x="116" width="6" fill="url(#i1)"/>
<rect y="65.4" height="208" x="121.4" width="6" fill="url(#i2)"/>
<rect y="65.4" height="208" x="126.8" width="6" fill="url(#i3)"/>
<rect y="65.4" height="208" x="132.2" width="6" fill="url(#i4)"/>
<rect y="65.4" height="208" x="137.6" width="6" fill="url(#i5)"/>
<rect y="65.4" height="208" x="143" width="6" fill="url(#i6)"/>
<rect y="65.4" height="208" x="148.4" width="6" fill="url(#i7)"/>
<rect y="65.4" height="208" x="153.8" width="6" fill="url(#i8)"/>
<rect y="65.4" height="208" x="159.2" width="6" fill="url(#i9)"/>
<rect y="65.4" height="208" x="164.6" width="6" fill="url(#i10)"/>
<rect y="65.4" height="208" x="170" width="6" fill="url(#i11)"/>
<rect y="65.4" height="208" x="175.4" width="6" fill="url(#i12)"/>
<rect y="65.4" height="208" x="180.8" width="6" fill="url(#i13)"/>
<rect y="65.4" height="208" x="186.2" width="6" fill="url(#i14)"/>
<rect y="65.4" height="208" x="191.6" width="6" fill="url(#i15)"/>
<rect y="65.4" height="208" x="197" width="6" fill="url(#i16)"/>
<rect y="65.4" height="208" x="202.4" width="6" fill="url(#i17)"/>
<rect y="65.4" height="208" x="207.8" width="6" fill="url(#i18)"/>
<rect y="65.4" height="208" x="213.2" width="6" fill="url(#i19)"/>
<rect y="65.4" height="208" x="218.6" width="6" fill="url(#i20)"/>
<rect y="65.4" height="208" x="224" width="6" fill="url(#i21)"/>
<rect y="65.4" height="208" x="229.4" width="6" fill="url(#i22)"/>
<rect y="65.4" height="208" x="234.8" width="6" fill="url(#i23)"/>
<rect y="65.4" height="208" x="240.2" width="6" fill="url(#i24)"/>
<rect y="65.4" height="208" x="245.6" width="6" fill="url(#i25)"/>
<rect y="65.4" height="208" x="251" width="6" fill="url(#i26)"/>
<rect y="65.4" height="208" x="256.4" width="6" fill="url(#i27)"/>
<rect y="65.4" height="208" x="261.8" width="6" fill="url(#i28)"/>
<rect y="65.4" height="208" x="267.2" width="6" fill="url(#i29)"/>
<rect y="65.4" height="208" x="272.6" width="6" fill="url(#i30)"/>
<rect y="65.4" height="208" x="278" width="6" fill="url(#i31)"/>
<rect y="65.4" height="208" x="283.4" width="6" fill="url(#i32)"/>
<rect y="65.4" height="208" x="288.8" width="6" fill="url(#i33)"/>
<rect y="65.4" height="208" x="294.2" width="6" fill="url(#i34)"/>
<rect y="65.4" height="208" x="299.6" width="6" fill="url(#i35)"/>
<rect y="65.4" height="208" x="305" width="6" fill="url(#i36)"/>
<rect y="65.4" height="208" x="310.4" width="6" fill="url(#i37)"/>
<rect y="65.4" height="208" x="315.8" width="6" fill="url(#i38)"/>
<rect y="65.4" height="208" x="321.2" width="6" fill="url(#i39)"/>
<rect y="65.4" height="208" x="326.6" width="6" fill="url(#i40)"/>
<rect y="65.4" height="208" x="332" width="6" fill="url(#i41)"/>
<rect y="65.4" height="208" x="337.4" width="6" fill="url(#i42)"/>
<rect y="65.4" height="208" x="342.8" width="6" fill="url(#i43)"/>
<rect y="65.4" height="208" x="348.2" width="6" fill="url(#i44)"/>
<rect y="65.4" height="208" x="353.6" width="6" fill="url(#i45)"/>
<rect y="65.4" height="208" x="359" width="6" fill="url(#i46)"/>
<rect y="65.4" height="208" x="364.4" width="6" fill="url(#i47)"/>
<rect y="65.4" height="208" x="369.8" width="6" fill="url(#i48)"/>
<rect y="65.4" height="208" x="375.2" width="6" fill="url(#i49)"/>
<rect y="65.4" height="208" x="380.6" width="6" fill="url(#i50)"/>
<rect y="65.4" height="208" x="386" width="6" fill="url(#i51)"/>
<rect y="65.4" height="208" x="391.4" width="6" fill="url(#i52)"/>
<rect y="65.4" height="208" x="396.8" width="6" fill="url(#i53)"/>
<rect y="65.4" height="208" x="402.2" width="6" fill="url(#i54)"/>
<rect y="65.4" height="208" x="407.6" width="6" fill="url(#i55)"/>
<rect y="65.4" height="208" x="413" width="6" fill="url(#i56)"/>
<rect y="65.4" height="208" x="418.4" width="6" fill="url(#i57)"/>
<rect y="65.4" height="208" x="423.8" width="6" fill="url(#i58)"/>
<rect y="65.4" height="208" x="429.2" width="6" fill="url(#i59)"/>
<rect y="65.4" height="208" x="434.6" width="6" fill="url(#i60)"/>
<rect y="65.4" height="208" x="440" width="6" fill="url(#i61)"/>
<rect y="65.4" height="208" x="445.4" width="6" fill="url(#i62)"/>
<rect y="65.4" height="208" x="450.8" width="6" fill="url(#i63)"/>
<rect y="65.4" height="208" x="456.2" width="6" fill="url(#i64)"/>
<rect y="65.4" height="208" x="461.6" width="6" fill="url(#i65)"/>
<rect y="65.4" height="208" x="467" width="6" fill="url(#i66)"/>
<rect y="65.4" height="208" x="472.4" width="6" fill="url(#i67)"/>
<rect y="65.4" height="208" x="477.8" width="6" fill="url(#i68)"/>
<rect y="65.4" height="208" x="483.2" width="6" fill="url(#i69)"/>
<rect y="65.4" height="208" x="488.6" width="6" fill="url(#i70)"/>
<rect y="65.4" height="208" x="494" width="6" fill="url(#i71)"/>
<rect y="65.4" height="208" x="499.4" width="6" fill="url(#i72)"/>
<rect y="65.4" height="208" x="504.8" width="6" fill="url(#i73)"/>
<rect y="65.4" height="208" x="510.2" width="6" fill="url(#i74)"/>
<rect y="65.4" height="208" x="515.6" width="6" fill="url(#i75)"/>
<rect y="65.4" height="208" x="521" width="6" fill="url(#i76)"/>
<rect y="65.4" height="208" x="526.4" width="6" fill="url(#i77)"/>
<rect y="65.4" height="208" x="531.8" width="6" fill="url(#i78)"/>
<rect y="65.4" height="208" x="537.2" width="6" fill="url(#i79)"/>
<rect y="65.4" height="208" x="542.6" width="6" fill="url(#i80)"/>
<rect y="65.4" height="208" x="548" width="6" fill="url(#i81)"/>
<rect y="65.4" height="208" x="553.4" width="6" fill="url(#i82)"/>
<rect y="65.4" height="208" x="558.8" width="6" fill="url(#i83)"/>
<rect y="65.4" height="208" x="564.2" width="6" fill="url(#i84)"/>
<rect y="65.4" height="208" x="569.6" width="6" fill="url(#i85)"/>
<rect y="65.4" height="208" x="575" width="6" fill="url(#i86)"/>
<rect y="65.4" height="208" x="580.4" width="6" fill="url(#i87)"/>
<rect y="65.4" height="208" x="585.8" width="6" fill="url(#i88)"/>
<rect y="65.4" height="208" x="591.2" width="6" fill="url(#i89)"/>
<rect y="65.4" height="208" x="596.6" width="6" fill="url(#i90)"/>
<rect y="65.4" height="208" x="602" width="6" fill="url(#i91)"/>
<rect y="65.4" height="208" x="607.4" width="6" fill="url(#i92)"/>
<rect y="65.4" height="208" x="612.8" width="6" fill="url(#i93)"/>
<rect y="65.4" height="208" x="618.2" width="6" fill="url(#i94)"/>
<rect y="65.4" height="208" x="623.6" width="6" fill="url(#i95)"/>
<rect y="65.4" height="208" x="629" width="6" fill="url(#i96)"/>
<rect y="65.4" height="208" x="634.4" width="6" fill="url(#i97)"/>
<rect y="65.4" height="208" x="639.8" width="6" fill="url(#i98)"/>
<rect y="65.4" height="208" x="645.2" width="6" fill="url(#i99)"/>
<rect y="65.4" height="208" x="650.6" width="6" fill="url(#i100)"/>
<rect y="65.4" height="208" x="656" width="6" fill="url(#i101)"/>
<rect y="65.4" height="208" x="661.4" width="6" fill="url(#i102)"/>
<rect y="65.4" height="208" x="666.8" width="6" fill="url(#i103)"/>
<rect y="65.4" height="208" x="672.2" width="6" fill="url(#i104)"/>
<rect y="65.4" height="208" x="677.6" width="6" fill="url(#i105)"/>
<rect y="65.4" height="208" x="683" width="6" fill="url(#i106)"/>
<rect y="65.4" height="208" x="688.4" width="6" fill="url(#i107)"/>
<rect y="65.4" height="208" x="693.8" width="6" fill="url(#i108)"/>
<rect y="65.4" height="208" x="699.2" width="6" fill="url(#i109)"/>
<rect y="65.4" height="208" x="704.6" width="6" fill="url(#i110)"/>
<rect y="65.4" height="208" x="710" width="6" fill="url(#i111)"/>
<rect y="65.4" height="208" x="715.4" width="6" fill="url(#i112)"/>
<rect y="65.4" height="208" x="720.8" width="6" fill="url(#i113)"/>
<rect y="65.4" height="208" x="726.2" width="6" fill="url(#i114)"/>
<rect y="65.4" height="208" x="731.6" width="6" fill="url(#i115)"/>
<rect y="65.4" height="208" x="737" width="6" fill="url(#i116)"/>
<rect y="65.4" height="208" x="742.4" width="6" fill="url(#i117)"/>
<rect y="65.4" height="208" x="747.8" width="6" fill="url(#i118)"/>
<rect y="65.4" height="208" x="753.2" width="6" fill="url(#i119)"/>
<rect y="65.4" height="208" x="758.6" width="2.5" fill="url(#i120)"/>
<rect y="65.4" height="208" x="784.3" width="6" fill="url(#i121)"/>
<rect y="65.4" height="208" x="789.7" width="6" fill="url(#i122)"/>
<rect y="65.4" height="208" x="795.1" width="6" fill="url(#i123)"/>
<rect y="65.4" height="208" x="800.5" width="6" fill="url(#i124)"/>
<rect y="65.4" height="208" x="805.9" width="6" fill="url(#i125)"/>
<rect y="65.4" height="208" x="811.3" width="6" fill="url(#i126)"/>
<rect y="65.4" height="208" x="816.7" width="6" fill="url(#i127)"/>
<rect y="65.4" height="208" x="822.1" width="6" fill="url(#i128)"/>
<rect y="65.4" height="208" x="827.5" width="6" fill="url(#i129)"/>
<rect y="65.4" height="208" x="832.9" width="6" fill="url(#i130)"/>
<rect y="65.4" height="208" x="838.3" width="6" fill="url(#i131)"/>
<rect y="65.4" height="208" x="843.7" width="6" fill="url(#i132)"/>
<rect y="65.4" height="208" x="849.1" width="6" fill="url(#i133)"/>
<rect y="65.4" height="208" x="854.5" width="6" fill="url(#i134)"/>
<rect y="65.4" height="208" x="859.9" width="6" fill="url(#i135)"/>
<rect y="65.4" height="208" x="865.3" width="6" fill="url(#i136)"/>
<rect y="65.4" height="208" x="870.7" width="6" fill="url(#i137)"/>
<rect y="65.4" height="208" x="876.1" width="6" fill="url(#i138)"/>
<rect y="65.4" height="208" x="881.5" width="6" fill="url(#i139)"/>
<rect y="65.4" height="208" x="886.9" width="6" fill="url(#i140)"/>
<rect y="65.4" height="208" x="892.3" width="6" fill="url(#i141)"/>
<rect y="65.4" height="208" x="897.7" width="6" fill="url(#i142)"/>
<rect y="65.4" height="208" x="903.1" width="6" fill="url(#i143)"/>
<rect y="65.4" height="208" x="908.5" width="6" fill="url(#i144)"/>
<rect y="65.4" height="208" x="913.9" width="6" fill="url(#i145)"/>
<rect y="65.4" height="208" x="919.3" width="6" fill="url(#i146)"/>
<rect y="65.4" height="208" x="924.7" width="6" fill="url(#i147)"/>
<rect y="65.4" height="208" x="930.1" width="6" fill="url(#i148)"/>
<rect y="65.4" height="208" x="935.5" width="6" fill="url(#i149)"/>
<rect y="65.4" height="208" x="940.9" width="6" fill="url(#i150)"/>
<rect y="65.4" height="208" x="946.3" width="6" fill="url(#i151)"/>
<rect y="65.4" height="208" x="951.7" width="6" fill="url(#i152)"/>
<rect y="65.4" height="208" x="957.1" width="6" fill="url(#i153)"/>
<rect y="65.4" height="208" x="962.5" width="6" fill="url(#i154)"/>
<rect y="65.4" height="208" x="967.9" width="6" fill="url(#i155)"/>
<rect y="65.4" height="208" x="973.3" width="6" fill="url(#i156)"/>
<rect y="65.4" height="208" x="978.7" width="6" fill="url(#i157)"/>
<rect y="65.4" height="208" x="984.1" width="6" fill="url(#i158)"/>
<rect y="65.4" height="208" x="989.5" width="6" fill="url(#i159)"/>
<rect y="65.4" height="208" x="994.9" width="6" fill="url(#i160)"/>
<rect y="65.4" height="208" x="1000.3" width="6" fill="url(#i161)"/>
<rect y="65.4" height="208" x="1005.7" width="6" fill="url(#i162)"/>
<rect y="65.4" height="208" x="1011.1" width="6" fill="url(#i163)"/>
<rect y="65.4" height="208" x="1016.5" width="6" fill="url(#i164)"/>
<rect y="65.4" height="208" x="1021.9" width="6" fill="url(#i165)"/>
<rect y="65.4" height="208" x="1027.3" width="6" fill="url(#i166)"/>
<rect y="65.4" height="208" x="1032.7" width="6" fill="url(#i167)"/>
<rect y="65.4" height="208" x="1038.1" width="6" fill="url(#i168)"/>
<rect y="65.4" height="208" x="1043.5" width="6" fill="url(#i169)"/>
<rect y="65.4" height="208" x="1048.9" width="6" fill="url(#i170)"/>
<rect y="65.4" height="208" x="1054.3" width="6" fill="url(#i171)"/>
<rect y="65.4" height="208" x="1059.7" width="6" fill="url(#i172)"/>
<rect y="65.4" height="208" x="1065.1" width="6" fill="url(#i173)"/>
<rect y="65.4" height="208" x="1070.5" width="6" fill="url(#i174)"/>
<rect y="65.4" height="208" x="1075.9" width="6" fill="url(#i175)"/>
<rect y="65.4" height="208" x="1081.3" width="6" fill="url(#i176)"/>
<rect y="65.4" height="208" x="1086.7" width="6" fill="url(#i177)"/>
<rect y="65.4" height="208" x="1092.1" width="6" fill="url(#i178)"/>
<rect y="65.4" height="208" x="1097.5" width="6" fill="url(#i179)"/>
<rect y="65.4" height="208" x="1102.9" width="6" fill="url(#i180)"/>
<rect y="65.4" height="208" x="1108.3" width="6" fill="url(#i181)"/>
<rect y="65.4" height="208" x="1113.7" width="6" fill="url(#i182)"/>
<rect y="65.4" height="208" x="1119.1" width="6" fill="url(#i183)"/>
<rect y="65.4" height="208" x="1124.5" width="6" fill="url(#i184)"/>
<rect y="65.4" height="208" x="1129.9" width="6" fill="url(#i185)"/>
<rect y="65.4" height="208" x="1135.3" width="6" fill="url(#i186)"/>
<rect y="65.4" height="208" x="1140.7" width="6" fill="url(#i187)"/>
<rect y="65.4" height="208" x="1146.1" width="6" fill="url(#i188)"/>
<rect y="65.4" height="208" x="1151.5" width="6" fill="url(#i189)"/>
<rect y="65.4" height="208" x="1156.9" width="6" fill="url(#i190)"/>
<rect y="65.4" height="208" x="1162.3" width="6" fill="url(#i191)"/>
<rect y="65.4" height="208" x="1167.7" width="6" fill="url(#i192)"/>
<rect y="65.4" height="208" x="1173.1" width="6" fill="url(#i193)"/>
<rect y="65.4" height="208" x="1178.5" width="6" fill="url(#i194)"/>
<rect y="65.4" height="208" x="1183.9" width="6" fill="url(#i195)"/>
<rect y="65.4" height="208" x="1189.3" width="5.8" fill="url(#i196)"/>
<rect x="760.5" y="65.4" width="23.8" height="208" fill="#30123b"/>
<rect x="1194.5" y="65.4" width="14.5" height="208" fill="#30123b"/>
<rect x="759.9" y="65.4" width="1.3" height="208" fill="url(#ie0)"/>
<rect x="783.7" y="65.4" width="1.3" height="208" fill="url(#ie1)"/>
<rect x="1193.9" y="65.4" width="1.2" height="208" fill="url(#ie2)"/>
</svg>
<ellipse cx="545.2" cy="240.2" rx="1.7" ry="6.2" fill="url(#spI)"/>
<svg x="0" y="273.4" width="1350" height="207.9" viewBox="0 273.4 1350 207.9" preserveAspectRatio="none" shape-rendering="crispEdges">
<rect x="110.6" y="273.4" width="36.6" height="207.9" fill="url(#v0)"/>
<rect x="146.6" y="273.4" width="9.6" height="207.9" fill="url(#v1)"/>
<rect x="155.6" y="273.4" width="9.6" height="207.9" fill="url(#v2)"/>
<rect x="164.6" y="273.4" width="9.6" height="207.9" fill="url(#v3)"/>
<rect x="173.6" y="273.4" width="9.6" height="207.9" fill="url(#v4)"/>
<rect x="182.6" y="273.4" width="9.6" height="207.9" fill="url(#v5)"/>
<rect x="191.6" y="273.4" width="9.6" height="207.9" fill="url(#v6)"/>
<rect x="200.6" y="273.4" width="9.6" height="207.9" fill="url(#v7)"/>
<rect x="209.6" y="273.4" width="9.6" height="207.9" fill="url(#v8)"/>
<rect x="218.6" y="273.4" width="9.6" height="207.9" fill="url(#v9)"/>
<rect x="227.6" y="273.4" width="9.6" height="207.9" fill="url(#v10)"/>
<rect x="236.6" y="273.4" width="9.6" height="207.9" fill="url(#v11)"/>
<rect x="245.6" y="273.4" width="9.6" height="207.9" fill="url(#v12)"/>
<rect x="254.6" y="273.4" width="9.6" height="207.9" fill="url(#v13)"/>
<rect x="263.6" y="273.4" width="9.6" height="207.9" fill="url(#v14)"/>
<rect x="272.6" y="273.4" width="9.6" height="207.9" fill="url(#v15)"/>
<rect x="281.6" y="273.4" width="9.6" height="207.9" fill="url(#v16)"/>
<rect x="290.6" y="273.4" width="9.6" height="207.9" fill="url(#v17)"/>
<rect x="299.6" y="273.4" width="9.6" height="207.9" fill="url(#v18)"/>
<rect x="308.6" y="273.4" width="9.6" height="207.9" fill="url(#v19)"/>
<rect x="317.6" y="273.4" width="9.6" height="207.9" fill="url(#v20)"/>
<rect x="326.6" y="273.4" width="9.6" height="207.9" fill="url(#v21)"/>
<rect x="335.6" y="273.4" width="9.6" height="207.9" fill="url(#v22)"/>
<rect x="344.6" y="273.4" width="9.6" height="207.9" fill="url(#v23)"/>
<rect x="353.6" y="273.4" width="9.6" height="207.9" fill="url(#v24)"/>
<rect x="362.6" y="273.4" width="9.6" height="207.9" fill="url(#v25)"/>
<rect x="371.6" y="273.4" width="9.6" height="207.9" fill="url(#v26)"/>
<rect x="380.6" y="273.4" width="9.6" height="207.9" fill="url(#v27)"/>
<rect x="389.6" y="273.4" width="9.6" height="207.9" fill="url(#v28)"/>
<rect x="398.6" y="273.4" width="18.6" height="207.9" fill="url(#v29)"/>
<rect x="416.6" y="273.4" width="9.6" height="207.9" fill="url(#v30)"/>
<rect x="425.6" y="273.4" width="9.6" height="207.9" fill="url(#v31)"/>
<rect x="434.6" y="273.4" width="9.6" height="207.9" fill="url(#v32)"/>
<rect x="443.6" y="273.4" width="9.6" height="207.9" fill="url(#v33)"/>
<rect x="452.6" y="273.4" width="9.6" height="207.9" fill="url(#v34)"/>
<rect x="461.6" y="273.4" width="9.6" height="207.9" fill="url(#v35)"/>
<rect x="470.6" y="273.4" width="9.6" height="207.9" fill="url(#v36)"/>
<rect x="479.6" y="273.4" width="18.6" height="207.9" fill="url(#v37)"/>
<rect x="497.6" y="273.4" width="18.6" height="207.9" fill="url(#v38)"/>
<rect x="515.6" y="273.4" width="18.6" height="207.9" fill="url(#v39)"/>
<rect x="533.6" y="273.4" width="36.6" height="207.9" fill="url(#v40)"/>
<rect x="569.6" y="273.4" width="36.6" height="207.9" fill="url(#v41)"/>
<rect x="605.6" y="273.4" width="18.6" height="207.9" fill="url(#v42)"/>
<rect x="623.6" y="273.4" width="18.6" height="207.9" fill="url(#v43)"/>
<rect x="641.6" y="273.4" width="18.6" height="207.9" fill="url(#v44)"/>
<rect x="659.6" y="273.4" width="54.6" height="207.9" fill="url(#v45)"/>
<rect x="713.6" y="273.4" width="36.6" height="207.9" fill="url(#v46)"/>
<rect x="749.6" y="273.4" width="11.5" height="207.9" fill="url(#v47)"/>
<rect x="784.3" y="273.4" width="18.6" height="207.9" fill="url(#v48)"/>
<rect x="802.3" y="273.4" width="18.6" height="207.9" fill="url(#v49)"/>
<rect x="820.3" y="273.4" width="18.6" height="207.9" fill="url(#v50)"/>
<rect x="838.3" y="273.4" width="18.6" height="207.9" fill="url(#v51)"/>
<rect x="856.3" y="273.4" width="18.6" height="207.9" fill="url(#v52)"/>
<rect x="874.3" y="273.4" width="54.6" height="207.9" fill="url(#v53)"/>
<rect x="928.3" y="273.4" width="36.6" height="207.9" fill="url(#v54)"/>
<rect x="964.3" y="273.4" width="36.6" height="207.9" fill="url(#v55)"/>
<rect x="1000.3" y="273.4" width="18.6" height="207.9" fill="url(#v56)"/>
<rect x="1018.3" y="273.4" width="18.6" height="207.9" fill="url(#v57)"/>
<rect x="1036.3" y="273.4" width="18.6" height="207.9" fill="url(#v58)"/>
<rect x="1054.3" y="273.4" width="140.8" height="207.9" fill="url(#v59)"/>
<rect x="760.5" y="273.4" width="23.8" height="207.9" fill="#fffdfd"/>
<rect x="1194.5" y="273.4" width="14.5" height="207.9" fill="url(#vs)"/>
</svg>
<ellipse cx="545.4" cy="448.4" rx="1.4" ry="4.2" fill="url(#spV)" opacity=".8"/>
<svg x="0" y="0" width="1350" height="725" viewBox="0 0 1350 725">
<path d="M110.6 678.1 116 677.8 121.5 677.9 126.9 677.9 132.4 677.7 137.8 677.8 143.3 677.8 148.7 677.6 154.2 677.8 159.6 677.8 165.1 677.6 170.5 677.6 176 677.7 181.4 677.6 186.9 677.6 192.3 677.4 197.7 677.6 203.2 677.5 208.6 677.5 214.1 677.3 219.5 677.6 225 677.4 230.4 677.4 235.9 677.6 241.3 677.4 246.8 677.2 252.2 677.3 257.7 677.1 263.1 677.4 268.6 677.2 274 677.2 279.4 677.3 284.9 677 290.3 677.2 295.8 676.9 301.2 677.1 306.7 677 312.1 677.2 317.6 677.2 323 677 328.5 677.1 333.9 677 339.4 677.1 344.8 676.9 350.3 676.8 355.7 676.8 361.1 677 366.6 677.2 372 677 377.5 676.9 382.9 677.2 388.4 677 393.8 677 399.3 677 404.7 677 410.2 677 415.6 676.9 421.1 677.1 426.5 677 432 677.1 437.4 677 442.9 676.8 448.3 677 453.7 677.2 459.2 677 464.6 676.9 470.1 676.9 475.5 676.9 481 677 486.4 676.9 491.9 677.1 497.3 677 502.8 677 508.2 677.1 513.7 677.2 519.1 677 524.6 677 530 677.1 535.4 677 540.9 676.8 546.3 677.1 551.8 677.1 557.2 677 562.7 676.9 568.1 677 573.6 676.9 579 677 584.5 677.1 589.9 677.2 595.4 677.1 600.8 677.1 606.3 677.1 611.7 677 617.1 677 622.6 676.9 628 677 633.5 677.2 638.9 677.1 644.4 677 649.8 677 655.3 676.9 660.7 677 666.2 677 671.6 676.9 677.1 677 682.5 676.9 688 677.1 693.4 677 698.8 677.2 704.3 677 709.7 677 715.2 677 720.6 677.1 726.1 677.1 731.5 676.9 737 677 742.4 677 747.9 677 753.3 676.9 758.8 677.2 764.2 677 769.7 676.9 775.1 677.1 780.5 677 786 677 791.4 677.1 796.9 677 802.3 677 807.8 677.1 813.2 677 818.7 676.9 824.1 677 829.6 676.9 835 677 840.5 676.9 845.9 676.8 851.4 677 856.8 676.9 862.2 676.8 867.7 677 873.1 676.9 878.6 677 884 676.9 889.5 676.9 894.9 676.9 900.4 676.9 905.8 677 911.3 676.9 916.7 677 922.2 676.8 927.6 677 933.1 676.8 938.5 677 944 677.1 949.4 677.1 954.8 677.2 960.3 676.8 965.7 677.1 971.2 677.1 976.6 677.1 982.1 676.9 987.5 677 993 677.2 998.4 676.9 1003.9 677 1009.3 677.1 1014.8 676.9 1020.2 677.1 1025.7 676.9 1031.1 676.9 1036.5 676.9 1042 677 1047.4 677 1052.9 677.1 1058.3 676.9 1063.8 677 1069.2 677.1 1074.7 677.1 1080.1 676.9 1085.6 677.1 1091 677 1096.5 677 1101.9 677 1107.4 677.1 1112.8 677 1118.2 676.8 1123.7 676.9 1129.1 677.1 1134.6 677 1140 677.1 1145.5 677 1150.9 676.9 1156.4 677.1 1161.8 676.9 1167.3 676.8 1172.7 677.2 1178.2 676.8 1183.6 677.1 1189.1 677.1 1194.5 677 L1194.5 680.5 1189.1 680.6 1183.6 680.4 1178.2 680.4 1172.7 680.5 1167.3 680.2 1161.8 680.4 1156.4 680.3 1150.9 680.5 1145.5 680.4 1140 680.4 1134.6 680.4 1129.1 680.4 1123.7 680.4 1118.2 680.2 1112.8 680.1 1107.4 680.3 1101.9 680.4 1096.5 680.4 1091 680.5 1085.6 680.5 1080.1 680.4 1074.7 680.5 1069.2 680.3 1063.8 680.3 1058.3 680.4 1052.9 680.6 1047.4 680.4 1042 680.2 1036.5 680.5 1031.1 680.2 1025.7 680.3 1020.2 680.5 1014.8 680.4 1009.3 680.3 1003.9 680.3 998.4 680.4 993 680.4 987.5 680.5 982.1 680.5 976.6 680.3 971.2 680.4 965.7 680.4 960.3 680.2 954.8 680.4 949.4 680.4 944 680.2 938.5 680.4 933.1 680.6 927.6 680.7 922.2 680.3 916.7 680.6 911.3 680.5 905.8 680.4 900.4 680.3 894.9 680.3 889.5 680.3 884 680.3 878.6 680.3 873.1 680.6 867.7 680.4 862.2 680.4 856.8 680.3 851.4 680.4 845.9 680.3 840.5 680.4 835 680.3 829.6 680.3 824.1 680.4 818.7 680.4 813.2 680.4 807.8 680.5 802.3 680.5 796.9 680.2 791.4 680.4 786 680.5 780.5 680.3 775.1 680.3 769.7 680.4 764.2 680.5 758.8 680.4 753.3 680.3 747.9 680.3 742.4 680.7 737 680.3 731.5 680.3 726.1 680.4 720.6 680.5 715.2 680.3 709.7 680.3 704.3 680.3 698.8 680.3 693.4 680.5 688 680.4 682.5 680.4 677.1 680.5 671.6 680.4 666.2 680.2 660.7 680.4 655.3 680.4 649.8 680.3 644.4 680.6 638.9 680.4 633.5 680.6 628 680.5 622.6 680.4 617.1 680.3 611.7 680.5 606.3 680.4 600.8 680.4 595.4 680.5 589.9 680.3 584.5 680.3 579 680.4 573.6 680.4 568.1 680.5 562.7 680.4 557.2 680.2 551.8 680.2 546.3 680.3 540.9 680.5 535.4 680.2 530 680.4 524.6 680.3 519.1 680.5 513.7 680.5 508.2 680.3 502.8 680.4 497.3 680.5 491.9 680.4 486.4 680.5 481 680.3 475.5 680.4 470.1 680.3 464.6 680.4 459.2 680.5 453.7 680.4 448.3 680.2 442.9 680.5 437.4 680.5 432 680.5 426.5 680.4 421.1 680.3 415.6 680.4 410.2 680.5 404.7 680.4 399.3 680.4 393.8 680.4 388.4 680.4 382.9 680.4 377.5 680.3 372 680.4 366.6 680.3 361.1 680.5 355.7 680.3 350.3 680.5 344.8 680.4 339.4 680.5 333.9 680.2 328.5 680.4 323 680.5 317.6 680.5 312.1 680.5 306.7 680.7 301.2 680.8 295.8 680.8 290.3 680.8 284.9 680.9 279.4 680.8 274 680.9 268.6 681.1 263.1 681 257.7 681 252.2 681.2 246.8 681.2 241.3 681.1 235.9 681.3 230.4 681.3 225 681.6 219.5 681.5 214.1 681.6 208.6 681.5 203.2 681.6 197.7 681.6 192.3 681.7 186.9 681.8 181.4 681.8 176 681.9 170.5 681.9 165.1 681.9 159.6 682 154.2 682 148.7 682.2 143.3 682.2 137.8 682.3 132.4 682.3 126.9 682.2 121.5 682.3 116 682.5 110.6 682.3Z" fill="#1a3c9a"/>
<path d="M110.6 677.7 116 677.8 121.5 677.5 126.9 677.7 132.4 677.6 137.8 677.4 143.3 677.7 148.7 677.5 154.2 677.6 159.6 677.5 165.1 677.6 170.5 677.6 176 677.3 181.4 677.3 186.9 677.4 192.3 677.4 197.7 677.3 203.2 677.3 208.6 677.3 214.1 677 219.5 677.2 225 677.1 230.4 677.2 235.9 677.1 241.3 677.1 246.8 677.1 252.2 677 257.7 677.1 263.1 677 268.6 677 274 677 279.4 677.1 284.9 677 290.3 677 295.8 677 301.2 676.8 306.7 677 312.1 676.9 317.6 676.9 323 676.8 328.5 676.8 333.9 676.9 339.4 677 344.8 676.7 350.3 676.9 355.7 676.8 361.1 676.9 366.6 676.8 372 676.9 377.5 676.5 382.9 676.7 388.4 676.7 393.8 676.8 399.3 676.7 404.7 676.7 410.2 676.9 415.6 677 421.1 676.5 426.5 676.8 432 676.8 437.4 676.8 442.9 676.8 448.3 676.7 453.7 676.7 459.2 676.9 464.6 676.9 470.1 676.8 475.5 676.7 481 676.8 486.4 676.8 491.9 676.9 497.3 676.8 502.8 676.7 508.2 676.8 513.7 676.7 519.1 676.9 524.6 676.9 530 676.7 535.4 676.8 540.9 676.7 546.3 676.9 551.8 676.9 557.2 676.8 562.7 676.9 568.1 676.8 573.6 676.7 579 676.7 584.5 676.8 589.9 676.8 595.4 676.8 600.8 676.7 606.3 676.9 611.7 676.9 617.1 676.8 622.6 676.7 628 676.9 633.5 676.9 638.9 676.8 644.4 676.7 649.8 676.8 655.3 677 660.7 676.6 666.2 676.8 671.6 676.8 677.1 676.7 682.5 676.8 688 676.7 693.4 676.8 698.8 676.9 704.3 676.8 709.7 676.7 715.2 676.6 720.6 676.7 726.1 676.6 731.5 677 737 676.8 742.4 676.7 747.9 676.7 753.3 676.7 758.8 676.8 764.2 676.7 769.7 677 775.1 676.7 780.5 676.7 786 676.8 791.4 676.9 796.9 676.9 802.3 676.8 807.8 676.8 813.2 676.8 818.7 676.9 824.1 676.8 829.6 676.7 835 676.7 840.5 676.8 845.9 676.7 851.4 676.9 856.8 676.8 862.2 676.7 867.7 676.8 873.1 676.7 878.6 676.8 884 676.9 889.5 676.7 894.9 676.6 900.4 676.8 905.8 676.8 911.3 676.8 916.7 676.8 922.2 676.8 927.6 676.9 933.1 676.7 938.5 676.8 944 676.7 949.4 676.7 954.8 676.9 960.3 676.9 965.7 676.6 971.2 676.7 976.6 676.8 982.1 676.9 987.5 676.7 993 676.8 998.4 676.7 1003.9 677.1 1009.3 676.8 1014.8 676.9 1020.2 676.9 1025.7 676.9 1031.1 676.9 1036.5 676.8 1042 676.9 1047.4 676.8 1052.9 676.9 1058.3 676.7 1063.8 676.7 1069.2 676.9 1074.7 676.9 1080.1 676.8 1085.6 676.7 1091 676.8 1096.5 676.8 1101.9 677 1107.4 676.9 1112.8 676.9 1118.2 676.8 1123.7 676.7 1129.1 676.9 1134.6 677 1140 676.9 1145.5 676.8 1150.9 676.9 1156.4 676.8 1161.8 676.9 1167.3 676.7 1172.7 676.7 1178.2 676.9 1183.6 676.8 1189.1 677 1194.5 676.8 L1194.5 680.1 1189.1 680 1183.6 680 1178.2 680.1 1172.7 679.9 1167.3 680 1161.8 680 1156.4 680 1150.9 680.1 1145.5 680 1140 680 1134.6 679.9 1129.1 679.9 1123.7 680 1118.2 679.8 1112.8 679.9 1107.4 680 1101.9 680.1 1096.5 679.9 1091 680 1085.6 680.1 1080.1 680 1074.7 680 1069.2 680 1063.8 680.1 1058.3 679.9 1052.9 680 1047.4 680 1042 680 1036.5 680 1031.1 679.9 1025.7 679.9 1020.2 680 1014.8 680.2 1009.3 680.1 1003.9 679.9 998.4 680 993 680 987.5 680.1 982.1 679.9 976.6 680.2 971.2 679.9 965.7 679.9 960.3 680 954.8 680.1 949.4 679.9 944 679.9 938.5 680 933.1 680 927.6 680.2 922.2 679.9 916.7 680 911.3 680.2 905.8 680 900.4 679.9 894.9 679.8 889.5 679.9 884 680.1 878.6 679.8 873.1 680 867.7 680 862.2 680.1 856.8 679.9 851.4 679.9 845.9 680.1 840.5 680.1 835 679.9 829.6 680.1 824.1 679.8 818.7 679.9 813.2 679.9 807.8 680 802.3 680.1 796.9 680 791.4 679.9 786 680.1 780.5 680 775.1 679.8 769.7 680 764.2 679.8 758.8 680.2 753.3 680 747.9 679.9 742.4 680 737 680.1 731.5 680.1 726.1 680.2 720.6 680.1 715.2 679.9 709.7 679.9 704.3 680.1 698.8 680 693.4 680.1 688 680 682.5 680.1 677.1 680.1 671.6 679.8 666.2 680.1 660.7 680.1 655.3 680 649.8 680 644.4 680 638.9 679.8 633.5 680 628 679.9 622.6 680 617.1 679.9 611.7 680.1 606.3 680 600.8 679.9 595.4 679.9 589.9 680.1 584.5 680.1 579 680 573.6 679.7 568.1 679.9 562.7 680 557.2 680.1 551.8 679.9 546.3 679.9 540.9 680 535.4 680 530 679.9 524.6 680 519.1 679.8 513.7 680 508.2 680 502.8 680 497.3 680 491.9 679.9 486.4 679.9 481 679.9 475.5 680 470.1 680 464.6 679.9 459.2 680 453.7 680 448.3 680.2 442.9 679.9 437.4 679.9 432 679.8 426.5 680.2 421.1 679.9 415.6 680.1 410.2 680 404.7 680.2 399.3 680 393.8 679.9 388.4 680.1 382.9 680 377.5 680 372 680.1 366.6 680 361.1 680 355.7 680.1 350.3 680 344.8 679.9 339.4 679.9 333.9 680.1 328.5 680 323 680.2 317.6 680.1 312.1 680 306.7 680.2 301.2 680.2 295.8 680.4 290.3 680.4 284.9 680.6 279.4 680.5 274 680.5 268.6 680.7 263.1 680.5 257.7 680.7 252.2 680.7 246.8 680.9 241.3 680.9 235.9 680.8 230.4 681 225 681.1 219.5 681 214.1 681.1 208.6 681.2 203.2 681.2 197.7 681.2 192.3 681.4 186.9 681.3 181.4 681.5 176 681.5 170.5 681.6 165.1 681.6 159.6 681.8 154.2 681.7 148.7 681.9 143.3 681.9 137.8 681.7 132.4 681.9 126.9 681.8 121.5 681.8 116 681.9 110.6 682.1Z" fill="#0000ff"/>
<path d="M110.6 660l2.5-.1 2.5-.1 2.5 .3 2.5-.1 2.5 0 2.5-.1 2.5 0 2.5 .1 2.5 0 2.5 0 2.5 0 2.5 0 2.5 .1 2.5 0 2.5-.2 2.5 .2 2.5 0 2.5 0 2.5-.1 2.5 0 2.5-.1 2.5 .2 2.5-.4 2.5 .3 2.5 0 2.5 .2 2.5-.2 2.5-.1 2.5-.1 2.5 .1 2.5 .2 2.5 0 2.5-.1 2.5 0 2.5 0 2.5 .2 2.5-.3 2.5 .2 2.5 .2 2.5-.2 2.5-.1 2.5 .1 2.5-.1 2.5 .1 2.5 .2 2.5 0 2.5-.5 2.5 .4 2.5 .1 2.5-.3 2.5 .1 2.5 .2 2.5-.3 2.5 .1 2.5 0 2.5-.3 2.5 .3 2.5 0 2.5 .1 2.5 .2 2.5-.2 2.5-.2 2.5 .1 2.5 0 2.5 .1 2.5-.3 2.5 0 2.5-.1 2.5 .4 2.5-.1 2.5-.1 2.5 0 2.5 0 2.5 0 2.5 .1 2.5-.1 2.5 .3 2.5-.1 2.5-.2 2.5 0 2.5 .3 2.5-.1 2.5 0 2.5 0 2.5 .1 2.5-.3 2.5 0 2.5-.1 2.5 .3 2.5-.1 2.5-.1 2.5 0 2.5 .2 2.5-.1 2.5 0 2.5 .2 2.5-.3 2.5 0 2.5 .5 2.5-.4 2.5 0 2.5-.1 2.5 .1 2.5 .2 2.5-.1 2.5 0 2.5-.1 2.5-.2 2.5 .3 2.5 .2 2.5-.1 2.5-.2 2.5 .2 2.5-.2 2.5 .1 2.5-.2 2.5 .1 2.5 .1 2.5-.1 2.5 .2 2.5 .1 2.5-.1 2.5-.2 2.5 0 2.5 0 2.5-.1 2.5 .2 2.5 0 2.5 0 2.5 0 2.5 0 2.5 0 2.5-.1 2.5 .3 2.5-.1 2.5-.2 2.5 0 2.5 0 2.5 .1 2.5 .2 2.5-.1 2.5 0 2.5 0 2.5 0 2.5 0 2.5 0 2.5-.1 2.5-.2 2.5 .2 2.5 .3 2.5-.4 2.5 0 2.5 .3 2.5-.2 2.5 0 2.5 .2 2.5-.1 2.5 0 2.5-.2 2.5 .2 2.5 0 2.5 0 2.5 .1 2.5 0 2.5-.1 2.5 0 2.5-.2 2.5 .2 2.5 0 2.5-.1 2.5-.1 2.5 .1 2.5-.1 2.5 .2 2.5 0 2.5-.2 2.5 .2 2.5 .1 2.5 0 2.5 0 2.5-.2 2.5 0 2.5 0 2.5 .1 2.5 .3 2.5-.2 2.5 .1 2.5-.1 2.5-.4 2.5 .2 2.5 0 2.5 .2 2.5 .1 2.5-.3 2.5 .1 2.5 0 2.5-.1 2.5 0 2.5 0 2.5 .2 2.5-.2 2.5 .2 2.5-.1 2.5 .1 2.5 .1 2.5-.3 2.5 0 2.5 .1 2.5-.1 2.5 0 2.5 .1 2.5 0 2.5-.2 2.5 .1 2.5 .2 2.5 .1 2.5-.5 2.5 .5 2.5-.1 2.5-.2 2.5-.1 2.5 .3 2.5-.1 2.5 0 2.5 .1 2.5-.1 2.5 .1 2.5 0 2.5 .1 2.5 .1 2.5 0 2.5-.2 2.5-.1 2.5 .4 2.5-.2 2.5-.1 2.5-.2 2.5 .3 2.5-.2 2.5 0 2.5-.1 2.5 .1 2.5 .1 2.5-1.2 2.5 .6 2.5 .3 2.5-.1 2.5 0 2.5 0 2.5 0 2.5 .3 2.5-.2 2.5 .2 2.5 0 2.5-.2 2.5 .2 2.5-.1 2.5-.1 2.5 .1 2.4 .1M784.3 660.4l2.5 0 2.5-.2 2.5 .1 2.5 .1 2.5 .1 2.5-.5 2.5 .5 2.5-.2 2.5 .2 2.5-.2 2.5-.1 2.5 .2 2.5 .1 2.5-.1 2.5-.3 2.5 .4 2.5-.3 2.5 .1 2.5-.1 2.5-.1 2.5 .1 2.5 .1 2.5 0 2.5 .1 2.5 0 2.5-.2 2.5 .2 2.5 .2 2.5 0 2.5-.1 2.5 0 2.5 .1 2.5 0 2.5 .1 2.5-.3 2.5 0 2.5 .3 2.5 0 2.5 0 2.5-.5 2.5 .3 2.5-.4 2.5-.1 2.5 .6 2.5 0 2.5 0 2.5 .2 2.5-.2 2.5 .1 2.5 0 2.5-.1 2.5 .1 2.5-.1 2.5-.1 2.5 .2 2.5 0 2.5-.1 2.5 .1 2.5 0 2.5-.3 2.5 .2 2.5-.1 2.5 0 2.5 .1 2.5-.1 2.5 0 2.5 .1 2.5 0 2.5 0 2.5 .3 2.5-.4 2.5 .1 2.5-.2 2.5 .3 2.5 .1 2.5 0 2.5-.3 2.5 .1 2.5 .2 2.5-.2 2.5 .1 2.5-.2 2.5 .3 2.5-.1 2.5 0 2.5-.2 2.5 .1 2.5 0 2.5 0 2.5 0 2.5 0 2.5 0 2.5 .2 2.5-.5 2.5 .1 2.5 0 2.5 .1 2.5-.1 2.5 .3 2.5-.1 2.5 0 2.5-.1 2.5 .1 2.5 0 2.5 0 2.5-.1 2.5 .2 2.5-.3 2.5 .4 2.5-.6 2.5 .3 2.5-.1 2.5 .3 2.5-.3 2.5 .4 2.5-.4 2.5 .5 2.5-.2 2.5-.1 2.5 .1 2.5 .2 2.5-.2 2.5-.4 2.5 .5 2.5-.2 2.5-.2 2.5 .3 2.5-.3 2.5 .2 2.5 0 2.5-.1 2.5 .2 2.5-.2 2.5 .1 2.5-.1 2.5 .1 2.5 .3 2.5-.3 2.5-.1 2.5 .1 2.5-.1 2.5 .1 2.5 0 2.5 0 2.5 0 2.5-.1 2.5 .2 2.5 0 2.5-.2 2.5 .1 2.5 0 2.5 .2 2.5-.1 2.5-.2 2.5 .1 2.5-.2 2.5 .1 2.5 .1 2.5 .1 2.5 0 2.5-.1 2.5-.2 2.5 .3 1.5-.1" fill="none" stroke="#ff0000" stroke-width="1.5" stroke-linejoin="round" stroke-linecap="round"/>
<path d="M110.6 659.4l2.5 0 2.5 .1 2.5 0 2.5 0 2.5-.1 2.5 .1 2.5-.1 2.5 0 2.5 .2 2.5-.2 2.5-.1 2.5 .3 2.5-.1 2.5 0 2.5-.1 2.5 0 2.5 0 2.5-.1 2.5 .3 2.5-.2 2.5 0 2.5 0 2.5 .2 2.5-.1 2.5-.1 2.5 0 2.5 .1 2.5 0 2.5-.2 2.5 .2 2.5-.1 2.5 0 2.5 0 2.5 .1 2.5 .1 2.5-.2 2.5 .1 2.5-.2 2.5 .2 2.5 0 2.5-.2 2.5 .1 2.5 .1 2.5-.3 2.5 .2 2.5 .1 2.5-.2 2.5 .1 2.5 0 2.5 .1 2.5-.2 2.5 .3 2.5-.1 2.5 .1 2.5 0 2.5-.1 2.5 0 2.5-.2 2.5 0 2.5 0 2.5 .1 2.5 .1 2.5-.2 2.5 .1 2.5-.1 2.5 0 2.5 .3 2.5-.1 2.5 .1 2.5 0 2.5-.2 2.5-.1 2.5 .4 2.5-.3 2.5-.1 2.5 .2 2.5 0 2.5-.1 2.5 0 2.5 .1 2.5 0 2.5 0 2.5-.1 2.5 0 2.5 .1 2.5 0 2.5 .1 2.5-.2 2.5 .1 2.5-.2 2.5 .3 2.5-.3 2.5 .2 2.5-.1 2.5 .1 2.5 0 2.5-.2 2.5 .1 2.5-.1 2.5 .3 2.5-.2 2.5-.1 2.5 .1 2.5 .2 2.5 0 2.5 0 2.5-.2 2.5 .1 2.5 .1 2.5-.2 2.5 0 2.5 0 2.5 0 2.5 .2 2.5-.1 2.5 0 2.5 0 2.5 .1 2.5 0 2.5-.1 2.5-.1 2.5 0 2.5 .2 2.5-.2 2.5-.1 2.5 .2 2.5 0 2.5 .1 2.5 0 2.5-.2 2.5 0 2.5 .1 2.5-.1 2.5 .1 2.5 0 2.5 0 2.5-.2 2.5 .1 2.5 .2 2.5-.2 2.5 .2 2.5 0 2.5-.1 2.5-.1 2.5 .1 2.5-.1 2.5 .1 2.5 0 2.5-.1 2.5 .1 2.5 0 2.5-.1 2.5 .1 2.5-.1 2.5-.1 2.5 .2 2.5 0 2.5-.1 2.5-.1 2.5 .3 2.5 0 2.5 0 2.5-.1 2.5-.1 2.5 .1 2.5-.1 2.5 .3 2.5-.2 2.5 .1 2.5-.2 2.5 0 2.5 .1 2.5 .1 2.5 0 2.5 0 2.5-.3 2.5 .3 2.5-.2 2.5 .3 2.5 0 2.5-.1 2.5 0 2.5-.2 2.5 .4 2.5-.2 2.5 0 2.5-.2 2.5 .1 2.5-.1 2.5 .1 2.5 0 2.5 .1 2.5 .1 2.5-.1 2.5 0 2.5-.1 2.5 .2 2.5-.2 2.5 .2 2.5-.4 2.5 .1 2.5 .2 2.5-.1 2.5 .4 2.5-.1 2.5-.4 2.5 0 2.5 .1 2.5 .2 2.5 0 2.5-.1 2.5-.2 2.5 .1 2.5-.2 2.5 .1 2.5 .2 2.5 0 2.5-.2 2.5 .2 2.5 .1 2.5-.1 2.5-.1 2.5 .1 2.5 0 2.5 0 2.5-.1 2.5 0 2.5 .1 2.5-.1 2.5 .2 2.5 0 2.5 0 2.5 .1 2.5 0 2.5 0 2.5-.1 2.5-.1 2.5 .3 2.5-.3 2.5 0 2.5 0 2.5 .1 2.5 0 2.5-.9 2.5 .3 2.5 .1 2.5 .2 2.5 .1 2.5-.1 2.5 0 2.5 .1 2.5 .1 2.5-.2 2.5-.1 2.5 .1 2.5 .1 2.5-.2 2.5 .3 2.5-.1 2.4 .1M784.3 659.6l2.5-.1 2.5 .2 2.5-.2 2.5 0 2.5 .1 2.5 0 2.5 0 2.5-.1 2.5 .1 2.5 0 2.5 .2 2.5-.3 2.5 .1 2.5-.1 2.5-.1 2.5 .2 2.5 .1 2.5-.2 2.5 0 2.5 0 2.5 .2 2.5-.2 2.5 .1 2.5-.1 2.5 .1 2.5-.1 2.5-.2 2.5 .3 2.5 0 2.5-.2 2.5 .2 2.5-.1 2.5 0 2.5 .1 2.5-.2 2.5 .2 2.5 .1 2.5-.2 2.5 .1 2.5 .1 2.5-.1 2.5-.1 2.5-.6 2.5 .8 2.5 0 2.5 .1 2.5-.3 2.5 .3 2.5-.1 2.5 .1 2.5-.2 2.5 0 2.5 0 2.5 0 2.5 .1 2.5 .1 2.5 0 2.5-.1 2.5-.1 2.5 .1 2.5 .1 2.5 0 2.5-.1 2.5 0 2.5-.1 2.5 .1 2.5 .1 2.5-.4 2.5 .3 2.5-.1 2.5-.1 2.5 .2 2.5 0 2.5 0 2.5-.1 2.5 .3 2.5-.2 2.5 0 2.5 .2 2.5-.1 2.5 0 2.5 0 2.5-.3 2.5 .4 2.5-.2 2.5 0 2.5 .1 2.5-.2 2.5 .1 2.5 .1 2.5-.1 2.5 .1 2.5-.3 2.5 .1 2.5 0 2.5 .1 2.5 .4 2.5-.4 2.5 0 2.5 0 2.5 .1 2.5 0 2.5-.2 2.5 .2 2.5-.1 2.5 .1 2.5-.3 2.5 0 2.5 .3 2.5-.3 2.5 .2 2.5 0 2.5 0 2.5 0 2.5 0 2.5 0 2.5 0 2.5 0 2.5 .3 2.5-.2 2.5 0 2.5-.1 2.5-.1 2.5 .1 2.5 0 2.5 .1 2.5-.2 2.5-.1 2.5 .1 2.5 .2 2.5 .2 2.5-.2 2.5-.2 2.5 .1 2.5-.1 2.5 .1 2.5-.1 2.5-.1 2.5 .2 2.5 0 2.5 0 2.5 0 2.5 .2 2.5-.2 2.5 0 2.5 .1 2.5-.3 2.5 .3 2.5-.2 2.5 0 2.5 .1 2.5 .2 2.5-.3 2.5 .2 2.5-.1 2.5-.1 2.5 .2 2.5-.2 2.5-.1 2.5 .1 2.5 0 2.5 .2 2.5-.2 1.5 .3" fill="none" stroke="#bf2000" stroke-width="1.6" stroke-linejoin="round" stroke-linecap="round"/>
<path d="M110.6 658.7l2.5-.1 2.5 0 2.5 .1 2.5-.2 2.5 0 2.5 .1 2.5 .2 2.5-.1 2.5 0 2.5 0 2.5-.2 2.5 .2 2.5-.2 2.5 .3 2.5-.1 2.5 0 2.5 0 2.5 0 2.5 0 2.5 0 2.5-.1 2.5 0 2.5 .1 2.5 .2 2.5-.1 2.5-.1 2.5 .1 2.5-.1 2.5 .1 2.5-.1 2.5 0 2.5 .2 2.5-.1 2.5 .1 2.5-.3 2.5 0 2.5 .1 2.5 .1 2.5-.1 2.5 .1 2.5-.1 2.5 .2 2.5-.1 2.5-.2 2.5 .2 2.5-.1 2.5 .1 2.5-.1 2.5 .1 2.5 0 2.5-.4 2.5 .1 2.5 .2 2.5 0 2.5 .1 2.5-.1 2.5-.1 2.5 .2 2.5-.2 2.5 .1 2.5 0 2.5 .1 2.5-.2 2.5 0 2.5-.1 2.5 .5 2.5-.4 2.5 0 2.5 0 2.5 .1 2.5 0 2.5 .1 2.5 0 2.5 0 2.5-.1 2.5 0 2.5 .2 2.5-.2 2.5 .1 2.5-.3 2.5 .3 2.5 0 2.5 .1 2.5-.5 2.5 .3 2.5 0 2.5 0 2.5 0 2.5 .1 2.5 0 2.5-.1 2.5 0 2.5 0 2.5 0 2.5 0 2.5 0 2.5-.2 2.5 .4 2.5-.3 2.5 .1 2.5-.1 2.5 .1 2.5-.1 2.5 .1 2.5 0 2.5-.1 2.5 .2 2.5 .1 2.5-.1 2.5 0 2.5-.2 2.5 .1 2.5 .1 2.5-.1 2.5 .1 2.5-.1 2.5 .1 2.5-.1 2.5 0 2.5 .1 2.5 0 2.5 0 2.5-.2 2.5 .1 2.5 .1 2.5-.2 2.5 .3 2.5-.1 2.5 0 2.5-.1 2.5 .1 2.5-.1 2.5 .3 2.5-.2 2.5-.2 2.5 .2 2.5-.1 2.5 0 2.5 0 2.5 0 2.5 .1 2.5 0 2.5 0 2.5-.1 2.5-.1 2.5 .1 2.5 .1 2.5 .1 2.5 .1 2.5-.4 2.5 .2 2.5-.1 2.5 0 2.5 .1 2.5-.1 2.5 0 2.5 0 2.5 .1 2.5 .1 2.5 0 2.5-.2 2.5 0 2.5 0 2.5 0 2.5 .2 2.5-.2 2.5 .1 2.5-.2 2.5 .1 2.5 .1 2.5 .1 2.5-.2 2.5 .1 2.5-.2 2.5 0 2.5 .1 2.5 0 2.5 .1 2.5 0 2.5-.2 2.5 .2 2.5-.1 2.5 .3 2.5-.2 2.5 0 2.5 0 2.5 0 2.5 0 2.5-.1 2.5 .2 2.5-.1 2.5 .1 2.5-.1 2.5 .1 2.5-.2 2.5 .5 2.5-.5 2.5 0 2.5 .2 2.5 0 2.5-.2 2.5-.1 2.5 0 2.5 .1 2.5 0 2.5 .1 2.5 .1 2.5 0 2.5-.2 2.5 .1 2.5 .1 2.5 0 2.5-.1 2.5-.1 2.5 .2 2.5 .1 2.5-.3 2.5 .3 2.5 0 2.5-.2 2.5-.2 2.5 .2 2.5 0 2.5 .1 2.5-.2 2.5 .4 2.5 0 2.5-.3 2.5-.2 2.5 .2 2.5 .1 2.5 .1 2.5-.1 2.5-.1 2.5-.1 2.5 .2 2.5 .1 2.5-.2 2.5 .1 2.5 0 2.5 0 2.5-.1 2.5 .1 2.5-1.1 2.5 .8 2.5-.1 2.5 .2 2.5-.1 2.5 .1 2.5-.1 2.5 .1 2.5-.1 2.5-.1 2.5 .2 2.5 0 2.5-.1 2.5 .1 2.5-.1 2.5 .2 2.4 0M784.3 658.8l2.5 .3 2.5-.3 2.5 0 2.5 .1 2.5-.1 2.5-.1 2.5 .2 2.5 0 2.5-.4 2.5 .3 2.5 0 2.5-.1 2.5 .2 2.5-.2 2.5 .2 2.5-.2 2.5 0 2.5 .2 2.5-.2 2.5 .1 2.5-.1 2.5 0 2.5 .2 2.5 0 2.5-.2 2.5 0 2.5 .4 2.5-.4 2.5 0 2.5 .1 2.5-.1 2.5 .1 2.5 .1 2.5 0 2.5-.1 2.5 .1 2.5-.1 2.5 0 2.5 0 2.5 0 2.5 0 2.5 0 2.5-.7 2.5 .8 2.5-.1 2.5 0 2.5 .1 2.5 .1 2.5-.1 2.5 .1 2.5 .1 2.5-.2 2.5-.1 2.5 0 2.5 .1 2.5 .1 2.5 .1 2.5-.3 2.5 .2 2.5 0 2.5 .1 2.5-.2 2.5 0 2.5-.2 2.5 .1 2.5 0 2.5 0 2.5 0 2.5-.1 2.5 .2 2.5 0 2.5 .1 2.5-.1 2.5 .1 2.5 0 2.5-.3 2.5 .2 2.5-.1 2.5 0 2.5 .1 2.5 0 2.5 .1 2.5 .1 2.5-.2 2.5 0 2.5 0 2.5 0 2.5 .1 2.5-.2 2.5 .2 2.5-.1 2.5 .1 2.5 0 2.5 .1 2.5-.2 2.5-.1 2.5-.1 2.5 .2 2.5-.2 2.5 0 2.5 .2 2.5-.1 2.5 .2 2.5 .1 2.5-.2 2.5 0 2.5-.2 2.5 .2 2.5-.1 2.5 0 2.5-.1 2.5 .4 2.5-.4 2.5 .1 2.5 .1 2.5 0 2.5 0 2.5 0 2.5-.1 2.5 .2 2.5-.1 2.5-.2 2.5 .4 2.5-.2 2.5 .1 2.5-.3 2.5 .1 2.5 0 2.5 0 2.5 .2 2.5-.3 2.5 .2 2.5-.1 2.5 .2 2.5-.1 2.5-.1 2.5 .3 2.5-.2 2.5 .1 2.5-.2 2.5 .1 2.5 0 2.5 0 2.5 0 2.5-.1 2.5-.2 2.5 .2 2.5 0 2.5 .1 2.5 .1 2.5 .1 2.5-.1 2.5 0 2.5 0 2.5 0 2.5 0 2.5-.1 2.5 0 2.5 0 2.5 .2 2.5-.1 2.5 .1 2.5-.3 1.5 .1" fill="none" stroke="#804000" stroke-width="1.6" stroke-linejoin="round" stroke-linecap="round"/>
<path d="M110.6 657.9l2.5 .1 2.5-.2 2.5-.1 2.5 0 2.5 .2 2.5 .2 2.5-.2 2.5-.1 2.5 .1 2.5 0 2.5 0 2.5 0 2.5-.1 2.5 0 2.5 .2 2.5-.1 2.5 .1 2.5-.2 2.5 .2 2.5-.1 2.5 0 2.5 .1 2.5-.1 2.5 0 2.5 .1 2.5 0 2.5 0 2.5 0 2.5 0 2.5-.1 2.5 .3 2.5-.3 2.5 .1 2.5-.2 2.5-.1 2.5 .1 2.5 .1 2.5 .1 2.5-.1 2.5 .1 2.5 0 2.5 0 2.5-.1 2.5 0 2.5 0 2.5-.1 2.5 .3 2.5-.3 2.5 .1 2.5 0 2.5-.2 2.5 .3 2.5-.1 2.5 0 2.5 0 2.5-.1 2.5 .1 2.5 0 2.5 .1 2.5 0 2.5-.3 2.5 .3 2.5 0 2.5 0 2.5 0 2.5-.2 2.5 .2 2.5-.1 2.5 .3 2.5-.3 2.5-.1 2.5 .1 2.5 .2 2.5-.2 2.5-.2 2.5 .4 2.5-.1 2.5-.1 2.5 .1 2.5-.2 2.5 0 2.5 .2 2.5-.1 2.5 .1 2.5-.1 2.5 .1 2.5-.1 2.5-.2 2.5 .3 2.5-.1 2.5 .1 2.5-.1 2.5 .2 2.5-.2 2.5-.2 2.5 .2 2.5 .1 2.5-.1 2.5 0 2.5 .2 2.5-.2 2.5 .1 2.5-.1 2.5-.1 2.5 0 2.5 .1 2.5 .1 2.5-.2 2.5 0 2.5 0 2.5 .1 2.5-.1 2.5 .1 2.5 .2 2.5-.1 2.5-.2 2.5 .1 2.5 .2 2.5-.1 2.5-.1 2.5-.1 2.5 0 2.5 .1 2.5 0 2.5-.1 2.5 0 2.5 .1 2.5-.2 2.5 .1 2.5 .1 2.5 .1 2.5 0 2.5 0 2.5 .1 2.5-.1 2.5-.1 2.5 .3 2.5-.1 2.5-.1 2.5-.1 2.5 .1 2.5-.3 2.5 .2 2.5-.2 2.5 .2 2.5 .1 2.5-.1 2.5 .2 2.5-.2 2.5 .1 2.5-.1 2.5 .1 2.5-.1 2.5 .2 2.5 0 2.5-.1 2.5-.2 2.5 .2 2.5 .1 2.5-.1 2.5 0 2.5 0 2.5 .1 2.5-.4 2.5 .4 2.5-.1 2.5 0 2.5-.1 2.5 .1 2.5 0 2.5-.2 2.5 .2 2.5 0 2.5 .1 2.5-.1 2.5-.1 2.5 .1 2.5 0 2.5 0 2.5 0 2.5-.1 2.5-.1 2.5 .1 2.5-.1 2.5 .1 2.5 .1 2.5-.2 2.5 0 2.5 .2 2.5-.1 2.5 0 2.5-.1 2.5 0 2.5 .1 2.5 .2 2.5-.1 2.5-.2 2.5 .2 2.5 0 2.5 0 2.5-.2 2.5 .1 2.5 .3 2.5-.3 2.5 .1 2.5-.1 2.5-.1 2.5 .1 2.5 .2 2.5 0 2.5-.2 2.5 0 2.5 0 2.5-.2 2.5 .3 2.5 .1 2.5 0 2.5-.2 2.5 .2 2.5 0 2.5-.2 2.5 .1 2.5-.1 2.5 .1 2.5 .2 2.5-.3 2.5 0 2.5 .2 2.5-.1 2.5-.2 2.5 .1 2.5 0 2.5 .1 2.5 .1 2.5 0 2.5-.1 2.5 .1 2.5-.1 2.5 .1 2.5 .1 2.5-.2 2.5 0 2.5 .3 2.5-1.1 2.5 .3 2.5 .1 2.5 .1 2.5 .2 2.5-.1 2.5 0 2.5 0 2.5 .1 2.5 .1 2.5-.3 2.5 .2 2.5 0 2.5 0 2.5-.1 2.5 .2 2.4 0M784.3 658l2.5 .1 2.5-.2 2.5 .1 2.5-.1 2.5 0 2.5 .1 2.5-.1 2.5-.1 2.5 .3 2.5-.1 2.5-.2 2.5-.1 2.5 .2 2.5 .1 2.5 0 2.5 .1 2.5-.2 2.5 .1 2.5-.2 2.5 .2 2.5 0 2.5-.1 2.5 0 2.5 0 2.5 0 2.5 .2 2.5-.3 2.5 .3 2.5-.3 2.5 .1 2.5-.1 2.5 .1 2.5 0 2.5 .1 2.5-.1 2.5 .2 2.5-.1 2.5-.1 2.5 .1 2.5 0 2.5-.1 2.5-.1 2.5-.6 2.5 .8 2.5 .1 2.5 0 2.5-.1 2.5 .1 2.5-.1 2.5 0 2.5 .2 2.5-.1 2.5 .1 2.5-.2 2.5 0 2.5-.1 2.5 .2 2.5-.1 2.5-.1 2.5 .1 2.5 0 2.5-.2 2.5 .1 2.5 .2 2.5-.1 2.5 0 2.5-.2 2.5 .4 2.5-.1 2.5 0 2.5-.2 2.5 .2 2.5 0 2.5-.1 2.5 0 2.5 0 2.5 .1 2.5-.1 2.5 0 2.5-.1 2.5-.1 2.5 .3 2.5 .1 2.5-.1 2.5 .1 2.5-.2 2.5 0 2.5 0 2.5 0 2.5 .2 2.5-.3 2.5 0 2.5 .1 2.5-.1 2.5 .2 2.5-.3 2.5 .3 2.5 0 2.5-.1 2.5 .2 2.5 .1 2.5-.3 2.5 .1 2.5 0 2.5 0 2.5-.1 2.5-.1 2.5 .2 2.5-.1 2.5 .1 2.5 0 2.5-.1 2.5 0 2.5 0 2.5 0 2.5 .1 2.5-.1 2.5 0 2.5-.2 2.5 .3 2.5-.2 2.5 .1 2.5 .2 2.5 0 2.5-.2 2.5-.1 2.5 .2 2.5-.1 2.5 0 2.5-.1 2.5 .2 2.5 .1 2.5-.3 2.5 0 2.5 0 2.5 .2 2.5-.3 2.5 .2 2.5 0 2.5-.1 2.5 .2 2.5-.3 2.5 .1 2.5 0 2.5 .2 2.5-.1 2.5-.1 2.5 .2 2.5-.1 2.5-.1 2.5 .1 2.5 0 2.5 .3 2.5-.4 2.5 .1 2.5 0 2.5 0 2.5 .2 2.5-.1 2.5 0 2.5-.1 2.5-.1 2.5 .1 1.5 0" fill="none" stroke="#406000" stroke-width="1.6" stroke-linejoin="round" stroke-linecap="round"/>
<path d="M110.6 650.1l1.6 .3 1.6 .2 1.6-.1 1.6 0 1.6 .3 1.6 .4 1.6-.9 1.6 .6 1.6 .3 1.6-.4 1.6 .2 1.6 .4 1.6-.1 1.6-.3 1.6 .3 1.6 .3 1.6-.6 1.6 .4 1.6 .2 1.6-.5 1.6 0 1.6 .2 1.6-.2 1.6 .1 1.6 0 1.6 0 1.6-.3 1.6 .5 1.6 .3 1.6-.8 1.6 .5 1.6 .2 1.6-.3 1.6 0 1.6 .2 1.6 0 1.6-.5 1.6 .5 1.6 .4 1.6-1 1.6 .5 1.6 .4 1.6-.6 1.6 0 1.6 .5 1.6-.1 1.6-.4 1.6 .5 1.6 .3 1.6-1.1 1.6 .5 1.6 .5 1.6-.9 1.6 .2 1.6 .7 1.6-.4 1.6-.6 1.6 .7 1.6 .2 1.6-.8 1.6 .8 1.6 .2 1.6-.7 1.6 .1 1.6 .4 1.6-.2 1.6-.2 1.6 .2 1.6 .2 1.6-.5 1.6 .3 1.6 .2 1.6-.5 1.6 .2 1.6 .4 1.6-.3 1.6-.3 1.6 .6 1.6 0 1.6-.7 1.6 .5 1.6 .2 1.6-.7 1.6 .5 1.6 .3 1.6-.2 1.6-.3 1.6 .2 1.6 .1 1.6-.6 1.6 .8 1.6 .1 1.6-.7 1.6 .3 1.6 .2 1.6-.3 1.6-.1 1.6 .4 1.6 0 1.6-.5 1.6 .6 1.6 0 1.6-.5 1.6 .2 1.6 .3 1.6-.5 1.6 .2 1.6 .4 1.6 .2 1.6 0 1.6 .8 1.6 .2 1.6-.9 1.6 .6 1.6 .2 1.6-.8 1.6 .3 1.6 .4 1.6-.4 1.6-.1 1.6 .5 1.6 .1 1.6-.8 1.6 .6 1.6 .3 1.6-.7 1.6 .1 1.6 .3 1.6 .1 1.6-.1 1.6 .1 1.6-.2 1.6-.1 1.6 .2 1.6 .4 1.6-.9 1.6 .4 1.6 .2 1.6-.2 1.6-.2 1.6 .5 1.6-.2 1.6-.5 1.6 .6 1.6 .2 1.6-1 1.6 .6 1.6 .4 1.6-.4 1.6 .3 1.6-.1 1.6 0 1.6-.5 1.6 .3 1.6 .4 1.6-.5 1.6 .3 1.6 .4 1.6-.4 1.6 .2 1.6 0 1.6 0 1.6-.3 1.6 .4 1.6 .1 1.6-.5 1.6-.3 1.6 .7 1.6 .2 1.6-.4 1.6 .2 1.6 0 1.6 0 1.6 .2 1.6 0 1.6-.7 1.6 .5 1.6 .1 1.6-.2 1.6 .4 1.6 .2 1.6-.5 1.6-.2 1.6 .2 1.6 .4 1.6-.3 1.6 .3 1.6 .1 1.6-.7 1.6 0 1.6 .9 1.6-.6 1.6 .6 1.6-.7 1.6 .2 1.6-.1 1.6 .4 1.6 .2 1.6-.5 1.6 .4 1.6-.3 1.6 0 1.6-.1 1.6 .2 1.6 0 1.6 .1 1.6 .9 1.6-1 1.6 0 1.6 .4 1.6-.1 1.6 .2 1.6-.5 1.6 .5 1.6-.4 1.6 .3 1.6 0 1.6 .1 1.6-.4 1.6-.2 1.6 .3 1.6 .3 1.6-.2 1.6 .4 1.6-.6 1.6 .5 1.6 .2 1.6-.8 1.6 .5 1.6 .5 1.6-.6 1.6 .2 1.6-.2 1.6 .3 1.6-.4 1.6-.1 1.6 .2 1.6 0 1.6-.3 1.6 .1 1.6 .6 1.6-.7 1.6-.1 1.6 .2 1.6 .2 1.6-.7 1.6 .8 1.6 0 1.6 0 1.6-.3 1.6 0 1.6 0 1.6 .1 1.6 .4 1.6-.5 1.6-.1 1.6-.1 1.6 .2 1.6 0 1.6 .3 1.6-.2 1.6 .1 1.6 .1 1.6-.5 1.6-.2 1.6 .2 1.6 .1 1.6-.2 1.6 .3 1.6 .1 1.6 .2 1.6-.4 1.6-.1 1.6 .3 1.6-.5 1.6 .3 1.6-.2 1.6 .4 1.6-1 1.6 1 1.6 0 1.6-.4 1.6 .2 1.6 0 1.6 .1 1.6 .1 1.6-.3 1.6 .3 1.6-.6 1.6 .4 1.6 0 1.6-.6 1.6 .5 1.6-.1 1.6 .2 1.6-.3 1.6-.1 1.6 0 1.6 .4 1.6 .2 1.6 0 1.6-.3 1.6 .5 1.6-.2 1.6-.1 1.6 .5 1.6-.2 1.6-.5 1.6 .7 1.6 0 1.6-.1 1.6 .3 1.6-.3 1.6 .4 1.6-.3 1.6 .8 1.6-1 1.6 .4 1.6 .1 1.6 .3 1.6-.3 1.6-.1 1.6 .6 1.6-.4 1.6 .1 1.6 0 1.6 .3 1.6-.6 1.6 .3 1.6 .2 1.6 0 1.6 .1 1.6-.1 1.6 0 1.6-.3 1.6 .4 1.6-.5 1.6 0 1.6-.2 1.6 .1 1.6 .2 1.6-.2 1.6-.3 1.6 .3 1.6-.1 1.6-.2 1.6 .2 1.6-.2 1.6 .1 1.6 .1 1.6-.3 1.6 .2 1.6-.2 1.6 0 1.6 .1 1.6-.1 1.6-.2 1.6 0 1.6 0 1.6-.3 1.6 .3 1.6-.2 1.6-.2 1.6 0 1.6 .2 1.6-.3 1.6 .5 1.6-.6 1.6 .2 1.6-.4 1.6 .3 1.6-.1 1.6 .1 1.6-.1 1.6-.2 1.6 .4 1.6-.2 1.6-.4 1.6-.1 1.6-.7 1.6-1.1 1.6 1.4 1.6-.2 1.6 .1 1.6-.2 1.6 .3 1.6-.1 1.6 0 1.6 .2 1.6 .1 1.6-.1 1.6-.4 1.6 .4 1.6 0 1.6-.2 1.6-.1 1.6 .3 1.6 0 1.6 0 1.6 0 1.6 .1 1.6 0 1.6 0 1.6 .1 1.6-.1 1.6-.1 .3 .2M784.3 653l1.6 .3 1.6-.7 1.6 .2 1.6-.1 1.6 .2 1.6-.2 1.6 .1 1.6 .2 1.6-.3 1.6 .1 1.6 .2 1.6-.1 1.6-.4 1.6 .6 1.6-.4 1.6 .1 1.6-.1 1.6 0 1.6-.1 1.6 .2 1.6-.2 1.6-.1 1.6 .1 1.6 .2 1.6-.2 1.6 .4 1.6-.2 1.6 .3 1.6 .1 1.6-.1 1.6 .1 1.6-.1 1.6 0 1.6-.1 1.6 .3 1.6-.1 1.6-.3 1.6 .3 1.6 .2 1.6-.2 1.6 .1 1.6-.2 1.6-.2 1.6 .1 1.6 0 1.6-.2 1.6 .3 1.6-.2 1.6-.1 1.6 .1 1.6-.1 1.6 .1 1.6 .1 1.6-.3 1.6-.1 1.6 .3 1.6 .1 1.6-.4 1.6-.1 1.6-.1 1.6 .2 1.6 0 1.6-.2 1.6 .2 1.6-.2 1.6-.1 1.6-2.1 1.6 2.3 1.6 0 1.6 0 1.6-.3 1.6 .3 1.6-.1 1.6 .1 1.6 0 1.6-.2 1.6 0 1.6-.1 1.6 .1 1.6 0 1.6-.1 1.6 .2 1.6 .2 1.6-.2 1.6-.1 1.6 0 1.6 .2 1.6 .2 1.6-.2 1.6 0 1.6-.2 1.6 .2 1.6 .1 1.6-.2 1.6 .1 1.6-.1 1.6 .2 1.6 .2 1.6-.2 1.6 0 1.6 0 1.6-.1 1.6-.1 1.6 .1 1.6 .1 1.6 0 1.6 .2 1.6-.1 1.6 .1 1.6-.1 1.6-.1 1.6 .1 1.6-.3 1.6 .5 1.6-.3 1.6 0 1.6 .4 1.6-.4 1.6 0 1.6-.1 1.6-.2 1.6-.1 1.6-.1 1.6-.1 1.6-.2 1.6 .1 1.6-.2 1.6 .2 1.6 0 1.6-.4 1.6 .2 1.6 .1 1.6-.4 1.6-.1 1.6 .5 1.6-.2 1.6 .2 1.6-.1 1.6-.1 1.6 0 1.6 .1 1.6-.2 1.6 .1 1.6 .2 1.6-.2 1.6 .1 1.6-.1 1.6 0 1.6-.2 1.6 .3 1.6-.2 1.6 .1 1.6-.3 1.6 .3 1.6 0 1.6-.2 1.6-.1 1.6 .2 1.6 0 1.6-.1 1.6 0 1.6 .2 1.6-.2 1.6 0 1.6 .2 1.6-.2 1.6-.1 1.6 .3 1.6-.3 1.6 .3 1.6-.3 1.6 .1 1.6 .2 1.6-.1 1.6 0 1.6 0 1.6 .1 1.6-.1 1.6 0 1.6 0 1.6 .3 1.6-.4 1.6 .3 1.6-.3 1.6 .3 1.6 .1 1.6-.3 1.6 .4 1.6-.4 1.6 0 1.6 .2 1.6-.2 1.6 .3 1.6 0 1.6-.5 1.6 .2 1.6 .2 1.6 .1 1.6-.2 1.6 .1 1.6 .2 1.6-.2 1.6 .4 1.6-.1 1.6 .4 1.6 .2 1.6-.3 1.6 0 1.6 .2 1.6 .5 1.6-.2 1.6 .2 1.6-.3 1.6 .1 1.6 0 1.6 .2 1.6-.2 1.6-.1 1.6 .1 1.6 0 1.6 .1 1.6-.2 1.6 0 1.6 .1 1.6-.4 1.6 .4 1.6 .1 1.6-.1 1.6-.2 1.6-.1 1.6 .4 1.6-.3 1.6 0 1.6 .1 1.6-.3 1.6 .1 1.6 .1 1.6-.3 1.6 .2 1.6-.2 1.6-.1 1.6 0 1.6 0 1.6 0 1.6-.2 1.6-.3 1.6 .4 1.6-.3 1.6 0 1.6 .3 1.6 0 1.6 0 1.6 .1 1.6 .1 1.6 .2 1-.2" fill="none" stroke="#008000" stroke-width="1.9" stroke-linejoin="round" stroke-linecap="round"/>
<path d="M110.6 640.9l1.6 .3 1.6 .6 1.6-.2 1.6-.3 1.6 .6 1.6 .4 1.6-.9 1.6 .6 1.6 .4 1.6-.7 1.6 .3 1.6 .4 1.6 0 1.6-.2 1.6 .4 1.6 .2 1.6-.6 1.6 .3 1.6 .3 1.6-.7 1.6 .6 1.6-.1 1.6-.1 1.6 0 1.6 .1 1.6 .1 1.6-.4 1.6 .2 1.6 .7 1.6-.9 1.6 .2 1.6 .4 1.6-.3 1.6-.1 1.6 .3 1.6 .2 1.6-.7 1.6 .5 1.6 .6 1.6-1.2 1.6 .5 1.6 .5 1.6-.3 1.6-.3 1.6 .6 1.6-.3 1.6-.6 1.6 .7 1.6 .4 1.6-1.1 1.6 .6 1.6 .6 1.6-.6 1.6 .1 1.6 .2 1.6 0 1.6-.3 1.6 .2 1.6 .2 1.6-.6 1.6 .6 1.6 .1 1.6-.6 1.6 .4 1.6 .2 1.6-.3 1.6-.1 1.6 .3 1.6-.1 1.6-.5 1.6 .7 1.6 .1 1.6-.5 1.6 .2 1.6 .4 1.6-.3 1.6-.4 1.6 .6 1.6 0 1.6-.4 1.6 .6 1.6 .2 1.6-.9 1.6 .2 1.6 .6 1.6-.4 1.6-.1 1.6 .5 1.6 .1 1.6-.6 1.6 .4 1.6 .1 1.6-.4 1.6 .2 1.6 .2 1.6-.2 1.6-.1 1.6 .6 1.6-.2 1.6-.4 1.6 .6 1.6 .1 1.6-.9 1.6 .5 1.6 .5 1.6-.8 1.6 .3 1.6 .5 1.6-.4 1.6-.5 1.6 .9 1.6 .3 1.6-1 1.6 .6 1.6 .6 1.6-1.1 1.6 .4 1.6 .3 1.6-.4 1.6-.1 1.6 .4 1.6 .3 1.6-.5 1.6 .2 1.6 .5 1.6-.6 1.6 .2 1.6 .2 1.6-.4 1.6 .3 1.6-.1 1.6-.1 1.6-.4 1.6 .7 1.6 0 1.6-.5 1.6 .3 1.6 .5 1.6-.7 1.6 .2 1.6 .4 1.6 .1 1.6-.6 1.6 .4 1.6 .3 1.6-.5 1.6 .3 1.6 .1 1.6-.3 1.6-.2 1.6 .6 1.6-.3 1.6-.2 1.6 .6 1.6 .4 1.6-.9 1.6 .3 1.6 .2 1.6-.2 1.6-.1 1.6 .5 1.6 0 1.6-.3 1.6 .1 1.6 .4 1.6-.8 1.6 .1 1.6 .8 1.6-.3 1.6 .1 1.6-.1 1.6-.8 1.6 .4 1.6 .6 1.6-.1 1.6-.1 1.6-.1 1.6 .6 1.6-.7 1.6 .3 1.6-.1 1.6 .1 1.6 0 1.6 .1 1.6-.1 1.6-.2 1.6 .2 1.6 .5 1.6-.3 1.6 .1 1.6 .2 1.6-.3 1.6 .1 1.6-.4 1.6 .5 1.6 .1 1.6-.2 1.6 .4 1.6-.8 1.6 .6 1.6 0 1.6 .1 1.6-.1 1.6 .7 1.6-1.4 1.6 .3 1.6 .4 1.6 .3 1.6-.4 1.6 .1 1.6-.1 1.6-.1 1.6 .2 1.6 .8 1.6-.7 1.6 .9 1.6-.3 1.6-.3 1.6 .1 1.6 .2 1.6-.5 1.6-.3 1.6 .9 1.6-.5 1.6 .4 1.6 0 1.6-.6 1.6 .7 1.6-.2 1.6 .3 1.6-.2 1.6-.2 1.6 .1 1.6-.1 1.6 .4 1.6-.2 1.6 .3 1.6-.4 1.6 .1 1.6-.5 1.6 .2 1.6 .1 1.6-.2 1.6 .1 1.6 0 1.6-.5 1.6 .6 1.6 .1 1.6-.4 1.6-.1 1.6 .9 1.6-.7 1.6-.3 1.6 .2 1.6-.4 1.6-.1 1.6 .1 1.6 .3 1.6 .2 1.6 .2 1.6-.2 1.6 .1 1.6 0 1.6-.5 1.6 0 1.6 .3 1.6 .2 1.6 .1 1.6-.8 1.6-.1 1.6 1.1 1.6-.8 1.6 .5 1.6-.2 1.6-.6 1.6 .8 1.6-.1 1.6 .1 1.6-.3 1.6-.3 1.6 .3 1.6 .1 1.6-.4 1.6 .4 1.6 0 1.6-.6 1.6 .3 1.6 .1 1.6 .1 1.6-.2 1.6-.1 1.6 .2 1.6-.3 1.6 .4 1.6-.2 1.6 0 1.6 .4 1.6 0 1.6-.6 1.6 .6 1.6-.2 1.6-.1 1.6 .2 1.6 .5 1.6-.6 1.6 .1 1.6-.1 1.6 .1 1.6 .1 1.6-.1 1.6 .2 1.6 .1 1.6 .4 1.6-.3 1.6 .4 1.6-.1 1.6 .1 1.6-.3 1.6 0 1.6-.1 1.6 .1 1.6 0 1.6 .2 1.6 .4 1.6 0 1.6-.3 1.6 .3 1.6-.6 1.6-.3 1.6 .6 1.6 0 1.6 .3 1.6 .3 1.6-.6 1.6 .1 1.6 0 1.6-.2 1.6 0 1.6-.2 1.6 .2 1.6-.5 1.6-.2 1.6 .3 1.6 .1 1.6 0 1.6-.3 1.6 .2 1.6-.3 1.6 .2 1.6-.2 1.6-.2 1.6 .3 1.6-.3 1.6-.1 1.6 .2 1.6-.1 1.6-.4 1.6 .4 1.6-.4 1.6 .1 1.6 0 1.6 .2 1.6-.3 1.6 .1 1.6-.3 1.6 .1 1.6-.3 1.6 .1 1.6-.2 1.6-.1 1.6 .1 1.6 .1 1.6-.1 1.6-.2 1.6 .1 1.6-.3 1.6 .1 1.6 0 1.6-.1 1.6 0 1.6 0 1.6-.1 1.6 0 1.6 .1 1.6-.4 1.6 .5 1.6-.1 1.6-.1 1.6-.2 1.6 .1 1.6-.1 1.6 .2 1.6 0 1.6 0 1.6-.1 1.6-.3 1.6 .1 1.6 .1 1.6 .1 1.6-.3 1.6 .1 1.6 .1 1.6-.1 1.6 0 1.6 .4 1.6-.4 .3 .3M784.3 644.2l1.6-.1 1.6 .2 1.6-.2 1.6 0 1.6-.3 1.6 .4 1.6-.2 1.6 .3 1.6-.1 1.6-.2 1.6-.1 1.6 .2 1.6-.1 1.6 0 1.6 .4 1.6-.4 1.6 .2 1.6 .1 1.6-.2 1.6 0 1.6 0 1.6 .1 1.6-.1 1.6 .1 1.6 0 1.6-.1 1.6 .1 1.6 0 1.6 .2 1.6 .2 1.6-.3 1.6 .1 1.6 0 1.6 .2 1.6 .2 1.6-.3 1.6 0 1.6-.4 1.6 .3 1.6 0 1.6-.2 1.6-.1 1.6 .2 1.6-.1 1.6 .2 1.6-.4 1.6 0 1.6 0 1.6 0 1.6-.3 1.6 .4 1.6-.1 1.6-.2 1.6-.1 1.6 .1 1.6-.1 1.6-.1 1.6 0 1.6 0 1.6-.1 1.6 .1 1.6 0 1.6-.1 1.6-.1 1.6 .1 1.6 .1 1.6 .1 1.6-.1 1.6-.5 1.6 .3 1.6 .3 1.6 .2 1.6-.2 1.6-.1 1.6 0 1.6-.1 1.6 .4 1.6-.2 1.6-.2 1.6 .2 1.6 0 1.6-.4 1.6 .2 1.6 .3 1.6 0 1.6-.4 1.6 .2 1.6 .2 1.6-.2 1.6-.2 1.6 .2 1.6 .1 1.6 0 1.6-.2 1.6 .5 1.6-.4 1.6-.2 1.6 .2 1.6-.4 1.6 .3 1.6 .1 1.6 .4 1.6-.4 1.6 .1 1.6 0 1.6-.1 1.6-.1 1.6 .3 1.6-.1 1.6 .1 1.6 0 1.6-.3 1.6 0 1.6 .1 1.6 0 1.6 .1 1.6-.1 1.6-.1 1.6 .3 1.6-.1 1.6-.3 1.6-.3 1.6 0 1.6-.1 1.6-.2 1.6-.1 1.6 .1 1.6-.1 1.6-.2 1.6-.2 1.6 .1 1.6 .2 1.6-.3 1.6-.1 1.6 .5 1.6-.4 1.6-.1 1.6 .2 1.6-.3 1.6 .1 1.6 .2 1.6-.3 1.6-.1 1.6 .3 1.6 0 1.6-.4 1.6 .2 1.6 .2 1.6-.2 1.6 .1 1.6-.1 1.6-.1 1.6 0 1.6 .1 1.6 0 1.6-.4 1.6 .1 1.6 .3 1.6 0 1.6-.2 1.6 .1 1.6-.2 1.6 0 1.6 .2 1.6 0 1.6-.1 1.6-.1 1.6 .2 1.6-.1 1.6 0 1.6 0 1.6-.1 1.6 .2 1.6 0 1.6 .2 1.6-.1 1.6-.2 1.6-.2 1.6 .3 1.6-.2 1.6 .4 1.6-.5 1.6 .1 1.6 .4 1.6-.3 1.6 .1 1.6 0 1.6-.2 1.6 .2 1.6-.2 1.6 .1 1.6 .3 1.6-.3 1.6 .1 1.6-.3 1.6 .4 1.6-.3 1.6 0 1.6 0 1.6 0 1.6 0 1.6 .2 1.6 .1 1.6 .3 1.6-.1 1.6 .2 1.6 .3 1.6 .1 1.6 0 1.6 .3 1.6 .1 1.6 .1 1.6 0 1.6 0 1.6 0 1.6-.2 1.6 .3 1.6-.2 1.6-.1 1.6 .2 1.6-.2 1.6 .3 1.6-.2 1.6-.2 1.6 0 1.6 .1 1.6 0 1.6 .2 1.6 0 1.6 .1 1.6-.1 1.6-.3 1.6 .4 1.6 0 1.6-.5 1.6 .2 1.6 .1 1.6-.1 1.6 .2 1.6 0 1.6-.1 1.6-.2 1.6-.1 1.6 .2 1.6 0 1.6 0 1.6-.2 1.6 .1 1.6 .1 1.6 .2 1.6-.2 1.6 0 1.6 .1 1.6 0 1.6 .1 1-.2" fill="none" stroke="#006040" stroke-width="2" stroke-linejoin="round" stroke-linecap="round"/>
<path d="M110.6 630.4l1.5 .1 1.5 1 1.5 .1 1.5-.5 1.5 .5 1.5 .6 1.5-.7 1.5 .4 1.5 .8 1.5-.3 1.5 0 1.5 .2 1.5 .9 1.5-.7 1.5 .2 1.5 .6 1.5 0 1.5-.6 1.5 0 1.5 .4 1.5-.7 1.5-.2 1.5 .3 1.5 .3 1.5-.7 1.5 0 1.5 .1 1.5-.3 1.5-.4 1.5 .5 1.5 .2 1.5-1.1 1.5 .5 1.5 .6 1.5-.2 1.5-.5 1.5 .6 1.5 .5 1.5-1.2 1.5 .5 1.5 .8 1.5-.6 1.5-.2 1.5 .4 1.5 .7 1.5-1.2 1.5 .4 1.5 .5 1.5 0 1.5-.7 1.5 .6 1.5 .4 1.5-.7 1.5 .3 1.5 .5 1.5 0 1.5-1.1 1.5 .9 1.5 .5 1.5-.6 1.5-.3 1.5 .6 1.5 .1 1.5-.7 1.5 .2 1.5 .6 1.5-.5 1.5 0 1.5 .7 1.5-.1 1.5-.8 1.5 .6 1.5 .2 1.5-.2 1.5-.2 1.5 .2 1.5 .4 1.5-.9 1.5 .4 1.5 .5 1.5-.4 1.5-.1 1.5 .3 1.5 .5 1.5-1.1 1.5 .3 1.5 .6 1.5-.3 1.5-.5 1.5 .4 1.5 .9 1.5-1.2 1.5 .4 1.5 .3 1.5 .2 1.5-.7 1.5 .2 1.5 .7 1.5-.9 1.5 .4 1.5 .3 1.5 .1 1.5-.6 1.5 .3 1.5 .7 1.5-.5 1.5-.3 1.5 .7 1.5 0 1.5-.7 1.5 .2 1.5 .6 1.5-.4 1.5-.1 1.5 .5 1.5 .5 1.5-1.1 1.5 .6 1.5 .3 1.5-.6 1.5 .2 1.5 .1 1.5 .4 1.5-1 1.5 .8 1.5 .5 1.5-.5 1.5-.2 1.5 .5 1.5 .6 1.5-.7 1.5 0 1.5 .6 1.5-.6 1.5 .1 1.5 .2 1.5 .4 1.5-1 1.5 .4 1.5 .4 1.5-.3 1.5-.3 1.5 .9 1.5 .2 1.5-.7 1.5 .2 1.5 .1 1.5 .1 1.5-.5 1.5 .4 1.5 .5 1.5-.6 1.5 .2 1.5 .4 1.5-.1 1.5-.5 1.5 .7 1.5 .6 1.5-.9 1.5-.1 1.5 .5 1.5 .1 1.5-.5 1.5 .4 1.5 .4 1.5-.6 1.5-.2 1.5 .1 1.5 .7 1.5-.6 1.5 0 1.5 .5 1.5-.5 1.5 0 1.5 .8 1.5-.3 1.5 .1 1.5-.3 1.5 .2 1.5-.1 1.5 .4 1.5-.3 1.5 .5 1.5-1.4 1.5 1 1.5-.1 1.5 0 1.5 .2 1.5 0 1.5 .6 1.5-1.1 1.5 .3 1.5 .5 1.5 .1 1.5-.5 1.5 .3 1.5 0 1.5-.8 1.5 .7 1.5 .2 1.5 .1 1.5-.1 1.5 .2 1.5-.2 1.5-.1 1.5 .2 1.5 0 1.5-.6 1.5 .3 1.5 .3 1.5 .5 1.5-.6 1.5-.3 1.5 1 1.5-.3 1.5-.4 1.5 .5 1.5 .2 1.5-.4 1.5-.1 1.5 .1 1.5 .5 1.5-.5 1.5 .4 1.5-.7 1.5 .3 1.5 .1 1.5 .1 1.5-.4 1.5 .3 1.5 .8 1.5-.3 1.5-.4 1.5-.1 1.5 0 1.5 .6 1.5-.6 1.5 .3 1.5 .6 1.5-.1 1.5-.2 1.5-.6 1.5 .6 1.5 .2 1.5-.7 1.5 .9 1.5-.5 1.5 .2 1.5-.3 1.5-.2 1.5-.2 1.5 .9 1.5-.5 1.5-.4 1.5 .5 1.5-.6 1.5 .5 1.5-.1 1.5 0 1.5 .2 1.5-.2 1.5-1 1.5 1 1.5 0 1.5-.3 1.5 .2 1.5 .3 1.5-.2 1.5 .1 1.5 .4 1.5-.5 1.5-.4 1.5-.4 1.5 .8 1.5-.8 1.5 .9 1.5-.1 1.5-.4 1.5 .2 1.5-.5 1.5-.1 1.5 .7 1.5-.8 1.5 .5 1.5-.1 1.5 .5 1.5-.5 1.5 .5 1.5-.2 1.5-.8 1.5 0 1.5-.2 1.5 .6 1.5-1.1 1.5 .8 1.5-.5 1.5 .3 1.5 .6 1.5-.5 1.5 0 1.5-.1 1.5 .4 1.5-.5 1.5 .2 1.5 0 1.5-.2 1.5 0 1.5 .6 1.5-.1 1.5 0 1.5-.7 1.5 .2 1.5-.2 1.5-.2 1.5 .3 1.5 .1 1.5-.1 1.5-.2 1.5 .5 1.5-.1 1.5-.4 1.5 1 1.5-1.1 1.5 .8 1.5-.6 1.5 .5 1.5 0 1.5 .3 1.5-.6 1.5-.1 1.5 .9 1.5-.7 1.5-.1 1.5 .2 1.5-.1 1.5 0 1.5 .6 1.5 .1 1.5-.6 1.5 .1 1.5 .2 1.5-.4 1.5 .4 1.5-.3 1.5-.5 1.5 .7 1.5-.6 1.5 .5 1.5 .2 1.5-.5 1.5 .2 1.5 .5 1.5-1 1.5-.3 1.5 .7 1.5 0 1.5 .6 1.5-.4 1.5-.1 1.5-.2 1.5-.4 1.5 .1 1.5 .2 1.5 0 1.5-.1 1.5 .1 1.5 0 1.5-.2 1.5 0 1.5-.1 1.5 .3 1.5-.5 1.5 .4 1.5 0 1.5-.5 1.5 .2 1.5 .3 1.5-.4 1.5 0 1.5 0 1.5 .1 1.5-.2 1.5-.2 1.5-.2 1.5-.1 1.5 .2 1.5-.4 1.5 .1 1.5 .1 1.5-.3 1.5 0 1.5 0 1.5 0 1.5-.3 1.5 .1 1.5-.1 1.5-.1 1.5-.3 1.5 .3 1.5-.3 1.5 0 1.5-.1 1.5 .2 1.5-.2 1.5 .3 1.5-.5 1.5 0 1.5 .2 1.5-.2 1.5 0 1.5 .1 1.5-.2 1.5-.1 1.5 0 1.5 .1 1.5-.1 1.5 .1 1.5-.3 1.5 0 1.5-.1 1.5 0 1.5 0 1.5 0 1.5-.2 1.5 0 1.5 .1 1.5 .1 1.5-.2 1.5-.1 1.5 .3 1.5-.1 1.5-.2 1.5 0 .4-.3M784.3 632.7l1.5 .3 1.5 .2 1.5 0 1.5-.2 1.5-.2 1.5 .2 1.5-.4 1.5 .2 1.5-.1 1.5 .1 1.5 .2 1.5 .1 1.5-.3 1.5 0 1.5-.3 1.5 .1 1.5 .3 1.5-.1 1.5 0 1.5-.1 1.5 .1 1.5-.2 1.5 0 1.5 .4 1.5-.6 1.5 .2 1.5-.1 1.5 .2 1.5-.2 1.5 0 1.5 0 1.5 .1 1.5-.2 1.5-.1 1.5 .2 1.5-.1 1.5 .2 1.5-.2 1.5 0 1.5 .1 1.5 0 1.5 .1 1.5-.2 1.5-.2 1.5 .2 1.5 0 1.5 0 1.5 .1 1.5-.2 1.5 .2 1.5-.2 1.5 .3 1.5-.5 1.5-.1 1.5 .2 1.5 .5 1.5-.5 1.5 0 1.5 .1 1.5-.2 1.5 .1 1.5 0 1.5 .3 1.5-.2 1.5-.1 1.5 .1 1.5-.1 1.5-.3 1.5 .4 1.5-.3 1.5 .1 1.5 0 1.5 .1 1.5 0 1.5-.1 1.5-.2 1.5 0 1.5 .1 1.5-.1 1.5 0 1.5-.1 1.5 0 1.5 .1 1.5-.1 1.5 0 1.5-.1 1.5-.1 1.5 .3 1.5 0 1.5-.2 1.5 .2 1.5-.2 1.5-.2 1.5 .4 1.5-.6 1.5 .3 1.5 .2 1.5-.3 1.5 .3 1.5-.3 1.5 .3 1.5-.3 1.5 .1 1.5-.1 1.5 .4 1.5-.4 1.5 0 1.5 0 1.5-.2 1.5-.2 1.5 .1 1.5 0 1.5-.1 1.5-.1 1.5-.2 1.5 .1 1.5-.4 1.5 .1 1.5-.3 1.5 .1 1.5 0 1.5-.2 1.5-.1 1.5 .3 1.5-.2 1.5 .1 1.5-.1 1.5-.2 1.5 0 1.5-.1 1.5 0 1.5-.4 1.5 .1 1.5 .1 1.5 0 1.5-.1 1.5-.1 1.5 .1 1.5-.1 1.5-.2 1.5 .3 1.5-.2 1.5 .1 1.5-.3 1.5-.3 1.5 .5 1.5 .2 1.5-.7 1.5 .3 1.5 .2 1.5-.1 1.5-.1 1.5 0 1.5-.1 1.5 .2 1.5 0 1.5-.1 1.5-.4 1.5 .5 1.5-.2 1.5 0 1.5 .2 1.5-.1 1.5-.2 1.5 .2 1.5-.2 1.5-.2 1.5 .2 1.5-.4 1.5 0 1.5 .3 1.5 .2 1.5-.5 1.5 .4 1.5-.2 1.5 .2 1.5-.3 1.5 .5 1.5-.4 1.5-.2 1.5 .1 1.5-.3 1.5 .3 1.5-.2 1.5 .2 1.5-.1 1.5-.4 1.5 0 1.5 .4 1.5-.1 1.5 .3 1.5-.3 1.5 .3 1.5-.2 1.5 .3 1.5-.2 1.5 0 1.5-.2 1.5 .3 1.5 0 1.5-.1 1.5 .1 1.5-.2 1.5 .1 1.5 .1 1.5-.1 1.5 .3 1.5-.2 1.5-.1 1.5-.1 1.5 .2 1.5-.2 1.5 .1 1.5 0 1.5 .3 1.5 0 1.5 .2 1.5 .2 1.5-.4 1.5 .5 1.5 .1 1.5 .3 1.5 .1 1.5 .1 1.5 .2 1.5-.5 1.5 .1 1.5 .4 1.5 0 1.5-.4 1.5 .3 1.5 0 1.5-.4 1.5 .1 1.5 .2 1.5-.1 1.5 .3 1.5-.2 1.5 0 1.5-.3 1.5 0 1.5 .1 1.5 .3 1.5 0 1.5-.4 1.5 .1 1.5-.4 1.5 .6 1.5-.4 1.5 .3 1.5 0 1.5-.3 1.5 .1 1.5 .1 1.5 .1 1.5-.2 1.5-.1 1.5 .1 1.5 .2 1.5-.3 1.5 0 1.5 .3 1.5-.2 1.5-.1 1.5 0 1.5 .1 1.5 .1 1.5-.1 1.5-.1 1.5-.2 1.5 .3 1.5 0 1-.1" fill="none" stroke="#004080" stroke-width="1.9" stroke-linejoin="round" stroke-linecap="round"/>
<path d="M110.6 609l.9 .2 .9 .9 .9 .3 .9 .5 .9 .5 .9-1.1 .9 .4 .9 .8 .9 .6 .9 .7 .9-.4 .9-.3 .9-.1 .9 1.4 .9 0 .9 .9 .9-.2 .9-.4 .9 .6 .9 .6 .9 .7 .9 1.3 .9-.6 .9-.5 .9 .7 .9 .4 .9 .1 .9-.4 .9-1.3 .9-1.6 .9-.6 .9 1.1 .9 .6 .9 .6 .9-1.2 .9 .4 .9 1 .9 .5 .9 .9 .9 .7 .9-.7 .9-.2 .9 .4 .9 .1 .9 0 .9-.5 .9-.9 .9 .1 .9-.2 .9-.2 .9 .5 .9-.2 .9-.9 .9 0 .9 .4 .9 .2 .9 .3 .9 .1 .9-.4 .9-.6 .9 1.1 .9 0 .9 .5 .9 .1 .9-1.3 .9 .4 .9 .4 .9 .9 .9 .7 .9-1.1 .9-.7 .9 .5 .9 .7 .9-.1 .9 1.4 .9-1.4 .9-.9 .9 .5 .9 .5 .9 .6 .9 .6 .9-.9 .9-.8 .9 .4 .9 .8 .9 .5 .9 .8 .9-1.9 .9-.3 .9 .5 .9 .6 .9 .9 .9 .8 .9-1.1 .9 0 .9 .6 .9 .9 .9 .7 .9 .9 .9-1 .9-.2 .9-.1 .9 .4 .9 .9 .9-.5 .9-1.8 .9 .4 .9 .1 .9 .1 .9 .3 .9-.4 .9-1 .9-.1 .9 .1 .9 .5 .9 .1 .9-.1 .9-.8 .9 .1 .9 .4 .9 .7 .9 .3 .9 .1 .9-2 .9 .5 .9 .8 .9 .9 .9 .6 .9-.9 .9-.7 .9 .4 .9 .7 .9 .9 .9-.5 .9 .2 .9-.9 .9 .2 .9 .7 .9 .4 .9 .5 .9-1.1 .9-.5 .9 0 .9 .8 .9 .1 .9 .4 .9-.8 .9-.7 .9 .6 .9 .4 .9 .3 .9-.2 .9-.6 .9-.2 .9 .8 .9-.4 .9 .9 .9-.4 .9-.9 .9 .4 .9-.1 .9 .6 .9 .2 .9-.5 .9-.7 .9 0 .9 .4 .9 .9 .9 0 .9-.9 .9 0 .9 0 .9 .6 .9 .6 .9-.1 .9-.1 .9-1.1 .9 .5 .9 .5 .9 .6 .9 .8 .9-.7 .9-1 .9 .7 .9-.3 .9 1.2 .9 .7 .9-1 .9-.5 .9 .3 .9 .9 .9 .2 .9 .9 .9-1.4 .9-.9 .9 .7 .9 .5 .9 .1 .9 .7 .9-1.8 .9-.5 .9-.2 .9 1.1 .9 .1 .9 .7 .9-1.9 .9-.3 .9 .5 .9 .2 .9 .8 .9-.5 .9-1.1 .9 .1 .9 .5 .9 .5 .9 0 .9-.4 .9-.8 .9 .4 .9-.1 .9 1 .9 .1 .9-1 .9-.3 .9 .7 .9 .2 .9 .5 .9 .2 .9-1 .9-1 .9 .7 .9 .6 .9 .2 .9 .4 .9-.1 .9-.5 .9-.5 .9 .5 .9 .6 .9 .4 .9-1.3 .9 1 .9-.3 .9 .3 .9-.3 .9 1 .9-1.2 .9 0 .9 .3 .9 .3 .9 .5 .9 0 .9-.6 .9-1.1 .9 1.3 .9 .1 .9 1.2 .9-.7 .9-1.6 .9 .9 .9-.3 .9 .2 .9 .7 .9 .4 .9-.7 .9-.8 .9 .6 .9 .3 .9 0 .9-.1 .9-.7 .9 .1 .9 .7 .9-.7 .9 1.1 .9-.3 .9-.4 .9-.4 .9 .3 .9 .4 .9 .1 .9-.4 .9-.7 .9 .3 .9 .1 .9 .4 .9 .2 .9-.4 .9-.8 .9 1.1 .9 0 .9 .2 .9-.1 .9 0 .9-.8 .9 .4 .9 .3 .9 .2 .9 .7 .9-1.4 .9-.3 .9 .6 .9 .2 .9 .5 .9 .4 .9-.6 .9-.5 .9-.1 .9 .3 .9 .3 .9 .6 .9-1.5 .9-.6 .9 .2 .9 .9 .9-.5 .9-.9 .9 .4 .9-.3 .9 .4 .9 .2 .9 0 .9-.3 .9-1.1 .9-.4 .9-.4 .9 .2 .9 1.2 .9-.2 .9-1.2 .9-.3 .9 .7 .9-.1 .9 .1 .9-.6 .9-1.1 .9 .2 .9 .7 .9 .6 .9 .1 .9-1.2 .9-.1 .9 0 .9 .4 .9 .3 .9 .5 .9-1.2 .9 1.1 .9-.6 .9-.2 .9 1.7 .9-1.3 .9 .2 .9-.5 .9 1.1 .9-1.7 .9 1.3 .9-1.1 .9 .9 .9-.1 .9-.8 .9-.9 .9 .8 .9 .3 .9-1.6 .9-.7 .9 .7 .9-1.7 .9 .2 .9-.3 .9-.7 .9 0 .9-.9 .9-.8 .9-.5 .9 .1 .9-.5 .9 .1 .9-.2 .9-1.1 .9 1 .9-.9 .9 .5 .9-.8 .9 .1 .9 0 .9 .9 .9-.8 .9 1.2 .9-.7 .9-1.2 .9 .7 .9 .7 .9-.3 .9-.4 .9-.1 .9-.8 .9 .1 .9 1.3 .9-1 .9 .1 .9 .4 .9-1.2 .9 .1 .9 1.3 .9-.8 .9 0 .9 1 .9-.6 .9 .3 .9 .3 .9-1.3 .9 1.7 .9-.5 .9-.3 .9 1 .9-1 .9-.1 .9-.3 .9 .7 .9-.3 .9 .6 .9-.7 .9 0 .9-.1 .9 0 .9 0 .9-.1 .9-.7 .9-1.1 .9 1.1 .9-.9 .9 .9 .9-.2 .9-.3 .9-.5 .9 .2 .9-.7 .9 .6 .9 .4 .9-.4 .9-.4 .9-.7 .9 .1 .9 1.2 .9-.6 .9-.4 .9 0 .9-.8 .9 .5 .9 .4 .9-.2 .9 .6 .9-.8 .9 .3 .9-.8 .9 .5 .9 .1 .9 0 .9-.2 .9-.2 .9 .4 .9 .9 .9-1.1 .9-.6 .9 .9 .9 .2 .9-.6 .9 .4 .9-1.5 .9 1.2 .9-.3 .9 1.3 .9-.8 .9 1 .9-1 .9-.2 .9-.1 .9-.2 .9 .5 .9 1 .9-1.3 .9 .6 .9 .7 .9-.3 .9 .3 .9 0 .9 .1 .9-1.4 .9 1.9 .9-.5 .9-.3 .9 .3 .9 0 .9 .1 .9-.9 .9 .1 .9 .1 .9 1.2 .9-1.1 .9 .2 .9-.5 .9 .6 .9-.1 .9 0 .9 .7 .9-.8 .9-.4 .9 1.8 .9-1.6 .9 0 .9-.6 .9 1.6 .9-.7 .9 .2 .9 .5 .9-.4 .9 0 .9 .3 .9-.6 .9 .4 .9-.3 .9-.1 .9 .4 .9-.6 .9-.1 .9-1.1 .9 .5 .9 .1 .9 0 .9 .1 .9-.1 .9-.1 .9 .3 .9-.1 .9-.1 .9-1.4 .9 1.5 .9 .5 .9-.3 .9-1 .9-.6 .9 .4 .9 .8 .9-.5 .9-1.2 .9-.8 .9 1.4 .9 1.2 .9-2 .9 .5 .9 .5 .9 .1 .9 .2 .9-1 .9 1.2 .9-.1 .9 1.1 .9-.4 .9 .4 .9-1 .9 .4 .9 .5 .9 .4 .9-.3 .9-.2 .9 .6 .9-.3 .9 1.6 .9-.6 .9-.6 .9 .8 .9-.7 .9 1.2 .9-.2 .9 1.3 .9-.8 .9-.6 .9 1 .9-.2 .9 .5 .9-1.8 .9 1.2 .9 .1 .9 1.1 .9-1 .9 .8 .9-.4 .9-.8 .9 .5 .9 .6 .9-.3 .9 0 .9 0 .9-.1 .9 .2 .9-.2 .9-.6 .9 .7 .9 0 .9 .6 .9-.9 .9 .6 .9-.5 .9 .5 .9-.8 .9 .3 .9-.4 .9 .2 .9 .2 .9 .2 .9-.3 .9 .1 .9-.2 .9 .5 .9-.4 .9 .5 .9-.1 .9-.5 .9 .3 .9-.2 .9 .4 .9-.2 .9 .2 .9-.5 .9 0 .9 0 .9 .2 .9 0 .9-.2 .9-.1 .9 0 .9-.2 .9-.2 .9-.2 .9-.1 .9-.1 .9 .2 .9-.1 .9-.4 .9 .2 .9-.5 .9 .3 .9-.6 .9 .4 .9-.3 .9 0 .9-.2 .9-.3 .9 .1 .9-.1 .9 .1 .9-.2 .9 0 .9-.2 .9-.4 .9 .3 .9-.5 .9 0 .9 0 .9-.3 .9 .1 .9 .4 .9-.3 .9-.1 .9-.1 .9 .9 .9-.7 .9 .2 .9 0 .9 .2 .9-.4 .9 0 .9 .2 .9-.1 .9-.1 .9-.1 .9 .4 .9-.1 .9 .4 .9-.3 .9 .1 .9 .2 .9-.6 .9 .6 .9-.3 .9 0 .9 .3 .9-.1 .9-.2 .9 .3 .9 .3 .9-.1 .9-.1 .9-.2 .9 .1 .9 .1 .9-.1 .9 .2 .9 .1 .9-.5 .9 .3 .9 .1 .9-.1 .9 0 .9 .4 .9-.4 .9 .1 .9-.1 .9 .1 .9 0 .9 0 .9-.3 .9 0 .9 .3 .9 .1 .9-.1 .9 .3 .9-.2 .9 .2 .9-.1 .9-.4 .1 .5M784.3 610.6l.9-.1 .9 0 .9-.2 .9 .4 .9-.3 .9-.1 .9 .4 .9 .2 .9-.1 .9 .1 .9-.2 .9 .5 .9-.1 .9-.1 .9 .1 .9 .1 .9 .2 .9-.3 .9 0 .9 .3 .9 0 .9-.3 .9 .3 .9 .1 .9 .1 .9 .2 .9 .1 .9 .3 .9-.2 .9 .2 .9-.2 .9 .2 .9 0 .9 0 .9 .3 .9 .4 .9-.2 .9 .1 .9 .1 .9 .1 .9-.2 .9 0 .9 .2 .9 .2 .9-.2 .9-.4 .9 .5 .9-.1 .9-.1 .9 0 .9-.4 .9 .4 .9 .1 .9 .2 .9-.1 .9-.1 .9 .2 .9 0 .9 .1 .9 0 .9 .2 .9-.5 .9 .5 .9 0 .9-.2 .9 .3 .9-.1 .9-.1 .9 0 .9 .4 .9 0 .9 .2 .9 0 .9 0 .9-.3 .9 .2 .9 .1 .9 .5 .9-.5 .9-.1 .9 .1 .9 .4 .9-.2 .9 .3 .9-.2 .9 .4 .9-.5 .9 .2 .9 .3 .9-.1 .9-.1 .9 .6 .9-.6 .9 .1 .9 .5 .9 .2 .9-.3 .9-.2 .9 0 .9 .1 .9 .2 .9 .4 .9 0 .9 0 .9-.2 .9 .3 .9 .2 .9 .1 .9 0 .9 0 .9 .4 .9 .1 .9-.2 .9 .3 .9 .2 .9 .2 .9 .1 .9-.2 .9 .3 .9-.3 .9-.1 .9 .5 .9 .2 .9-.3 .9 .4 .9 .2 .9 .1 .9 .1 .9 .2 .9-.2 .9 .1 .9 .3 .9 .2 .9-.2 .9 .4 .9 0 .9-.2 .9 .2 .9 0 .9 .3 .9 0 .9 .4 .9-.8 .9 .4 .9 .3 .9 .2 .9-.1 .9 0 .9 .3 .9-.1 .9 .2 .9 .2 .9 0 .9-.4 .9 .2 .9 .3 .9 0 .9-.1 .9 .3 .9-.1 .9 .2 .9 .1 .9-.1 .9 .2 .9-.1 .9 .1 .9 .2 .9-.4 .9 0 .9 .1 .9 .5 .9-.1 .9-.1 .9 0 .9-.1 .9 .4 .9-.1 .9 0 .9 0 .9-.2 .9 .2 .9-.5 .9 .3 .9-.3 .9-.3 .9 .1 .9 .3 .9-.8 .9 0 .9 0 .9 0 .9 0 .9 .2 .9-.5 .9 .1 .9-.3 .9-.2 .9 .1 .9-.2 .9 .1 .9 .1 .9-.5 .9 .3 .9-.5 .9 .4 .9-.7 .9 .1 .9 0 .9-.1 .9-.3 .9 .3 .9-.5 .9 .3 .9-.5 .9 .4 .9-.2 .9-.2 .9 0 .9-.3 .9-.1 .9 .2 .9-.5 .9 0 .9-.1 .9-.1 .9-.1 .9-.5 .9 .4 .9-.1 .9 .1 .9-.2 .9-.3 .9 0 .9-.3 .9 0 .9 .1 .9 .4 .9 0 .9 .2 .9-.1 .9 .1 .9 .3 .9-.1 .9 .4 .9 .2 .9-.2 .9 .1 .9 0 .9 .7 .9-.1 .9 .2 .9-.2 .9 0 .9 .3 .9 .4 .9 .2 .9 0 .9-.1 .9 .1 .9 .3 .9-.3 .9 .3 .9-.3 .9 .1 .9 0 .9-.1 .9-.1 .9 .2 .9-.3 .9-.1 .9-.2 .9 .2 .9 .1 .9-.2 .9-.4 .9 .4 .9 0 .9-.3 .9 .1 .9 0 .9-.2 .9 .2 .9-.1 .9-.3 .9-.3 .9 .4 .9 .4 .9-.1 .9-.3 .9-.2 .9 .5 .9-.2 .9 .1 .9 0 .9-.3 .9 0 .9-.2 .9 .2 .9-.3 .9 .3 .9-.2 .9 .3 .9-.4 .9 .2 .9-.3 .9 .2 .9-.2 .9 .4 .9 0 .9-.5 .9 .1 .9 .4 .9 0 .9 .4 .9-.5 .9 .2 .9 0 .9 .1 .9 .3 .9-.3 .9-.2 .9 .7 .9-.3 .9-.3 .9 .2 .9 .1 .9 .1 .9 .2 .9-.3 .9 0 .9-.1 .9 .2 .9 0 .9 .1 .9-.5 .9 .2 .9 .3 .9 .2 .9-.1 .9-.6 .9 0 .9 .5 .9-.1 .9 0 .9 .4 .9-.6 .9 .4 .9-.2 .9-.1 .9-.3 .9 .2 .9 .5 .9-.3 .9 .1 .9 0 .9-.1 .9 .2 .9 0 .9 0 .9 .1 .9 .1 .9 .4 .9 .1 .9 .3 .9-.2 .9 .1 .9 0 .9 .7 .9 .5 .9-.4 .9-.3 .9 .7 .9-.1 .9 .4 .9 0 .9 .1 .9-.1 .9 0 .9 .3 .9-.2 .9 .3 .9-.3 .9 .1 .9-.1 .9 .4 .9-.2 .9 0 .9 .3 .9-.1 .9 0 .9-.1 .9 .2 .9 .1 .9 .1 .9-.3 .9 .3 .9-.4 .9 .5 .9-.2 .9 .3 .9-.2 .9 .6 .9-.3 .9 .1 .9-.5 .9 .1 .9 .5 .9-.2 .9 .4 .9-.3 .9 .2 .9-.2 .9 .3 .9 .1 .9 .1 .9-.2 .9-.1 .9 .4 .9 0 .9 .1 .9-.3 .9 .5 .9-.2 .9-.1 .9 .2 .9 .3 .9-.1 .9 .1 .9 0 .9-.1 .9 .4 .9-.1 .9-.2 .9 0 .9 .2 .9 .1 .9 .3 .9-.6 .9 .7 .9 .2 .9-.3 .9 .4 .9-.4 .9 .2 .9 0 .9 .4 .9-.2 .9 0 .9-.5 .9 .2 .9-.2 .9 .1 .9 0 .9 .2 .4-.3" fill="none" stroke="#0020bf" stroke-width="1.85" stroke-linejoin="round" stroke-linecap="round"/>
<path d="M110.6 577.7l.8-.8 .8 0 .8 1.7 .8-.2 .8 .9 .8-2.2 .8-2.3 .8 1.6 .8 2 .8 1.5 .8 1.2 .8 .5 .8-1 .8-1.3 .8 1.7 .8 1 .8 2.4 .8 1.1 .8-.2 .8-1.9 .8-.4 .8 2.2 .8 1.9 .8 1.2 .8 1.6 .8-1.3 .8-1.9 .8 1.9 .8 0 .8-.7 .8-3.1 .8-1.5 .8-4.6 .8 .8 .8 1.3 .8-.1 .8 1.1 .8 .9 .8-2.3 .8-.1 .8 2.5 .8 1.3 .8 2.1 .8 2.9 .8 .3 .8-1.7 .8-1.1 .8 1.5 .8 .5 .8 .1 .8 1.3 .8-2.3 .8 0 .8-2.5 .8 0 .8-1.6 .8-1 .8-.9 .8-2.3 .8-1.6 .8 1.9 .8 0 .8 0 .8 .2 .8 .8 .8-1.4 .8-2 .8 1.6 .8 1.5 .8 0 .8 .3 .8 .1 .8-1.8 .8-1 .8 .9 .8 1.1 .8 .5 .8 .1 .8-2.2 .8-2 .8 .8 .8 1.3 .8-.2 .8 1.4 .8-.7 .8-3.7 .8 .3 .8 .5 .8 0 .8 .5 .8 2.1 .8-1.5 .8-3.5 .8 .2 .8 1.2 .8 .3 .8 1.2 .8 1.5 .8-3.2 .8-.3 .8 .7 .8 1.6 .8-.4 .8 2.6 .8-1.1 .8-1.4 .8-.4 .8 1.3 .8 2.4 .8 1 .8 1.4 .8-1 .8-2.1 .8-.5 .8 1.1 .8 .5 .8 1.6 .8-.4 .8-3.2 .8-1.3 .8 1.5 .8 .4 .8 .7 .8-1 .8 .3 .8-2.8 .8 .2 .8-.1 .8-.1 .8 .1 .8 1.4 .8-4.1 .8 .7 .8 .5 .8 0 .8 1.5 .8 .2 .8-.7 .8-1.2 .8-.1 .8 .4 .8 .4 .8 1.4 .8 .9 .8-.8 .8-2.2 .8 1.2 .8-.2 .8 1 .8 .4 .8 1.3 .8-1.7 .8-1.2 .8-.2 .8 1.4 .8-1.1 .8 .6 .8-2.1 .8-.5 .8-.9 .8 .1 .8 1.1 .8 .1 .8 1 .8-1.4 .8-1 .8 .5 .8 1.1 .8 .2 .8 .7 .8 1.1 .8-1.7 .8-.6 .8 .3 .8 1.2 .8-.5 .8 .7 .8-.3 .8-2.5 .8-.3 .8 .6 .8 1.6 .8-.6 .8 .7 .8-2 .8-.2 .8-.9 .8 1 .8 .3 .8 .1 .8-.6 .8-2.5 .8 .6 .8 1.6 .8 0 .8 1.5 .8 .2 .8-.9 .8-2.3 .8 .6 .8 1.2 .8 1.2 .8-.2 .8 .5 .8-1.2 .8-1.2 .8 1.3 .8 1.6 .8-.1 .8 2.3 .8-1.1 .8-2.3 .8-1 .8 2.6 .8 1.3 .8 .5 .8 1.1 .8-2.2 .8-3.2 .8 1.4 .8 .5 .8 .8 .8 1.2 .8 .1 .8-2.2 .8-.9 .8 .1 .8 1.3 .8 .1 .8 .7 .8-1.2 .8-3.3 .8 .3 .8 .2 .8 .4 .8 .7 .8 1.7 .8-3.3 .8-2.5 .8 .9 .8 0 .8 .7 .8 .7 .8-.7 .8-1.2 .8-.1 .8 .9 .8 .7 .8 1.4 .8 0 .8-.1 .8-1.6 .8 .1 .8 1.5 .8-.3 .8 1.3 .8 .3 .8-1.8 .8-.7 .8 1.1 .8 .7 .8 .7 .8 0 .8 0 .8-1.4 .8-.4 .8 1 .8-.5 .8 1.2 .8 1 .8-1.1 .8-.8 .8-.1 .8 1.8 .8-1.2 .8 2.5 .8-1.5 .8-1.6 .8-.6 .8 .7 .8 .8 .8 .5 .8 1.2 .8-.5 .8-2.7 .8 1.4 .8 0 .8 .3 .8 1 .8-.1 .8-.8 .8-3.1 .8 2 .8-.6 .8 1.2 .8-.3 .8 1 .8-2.5 .8-.4 .8-.7 .8 .2 .8 1.6 .8 1.3 .8-2 .8-2.7 .8 2.3 .8-1 .8 1.2 .8-.6 .8 .2 .8-.7 .8-2.4 .8 2.1 .8 1.3 .8 1 .8 .1 .8 1.9 .8-1.7 .8 .3 .8-.2 .8 1.8 .8 .8 .8 .4 .8-1.3 .8-1.9 .8 .2 .8 .6 .8 .6 .8-.3 .8-.1 .8-1 .8-1.3 .8 .7 .8 .2 .8-.5 .8 2.6 .8-1 .8-2.3 .8 .2 .8 1.1 .8 .7 .8 .4 .8 1.7 .8-1.5 .8-1.4 .8 2.6 .8-.6 .8 1.3 .8-.6 .8 .1 .8-1.7 .8 .9 .8 .2 .8-.4 .8 .3 .8 .8 .8-2.1 .8-1.2 .8 1.1 .8-1.2 .8 1.6 .8-.3 .8 .4 .8-1.9 .8-.3 .8 .3 .8 .1 .8-1.6 .8 1.8 .8 .3 .8-3.2 .8-.8 .8 1.4 .8 1.1 .8-1.6 .8 1.6 .8-1.6 .8-1 .8 .6 .8-.3 .8-.2 .8 .8 .8 1.1 .8-1.5 .8 0 .8-.8 .8 1 .8-.1 .8 2.6 .8 .1 .8-1 .8 .4 .8-.7 .8 .4 .8 1.8 .8-1.1 .8 .8 .8 .2 .8-2.3 .8 .6 .8 2.6 .8-.6 .8 .3 .8-.6 .8-2.2 .8 2.4 .8-.6 .8-.2 .8-.6 .8-1.2 .8-1.1 .8-.7 .8 .7 .8 .2 .8 .9 .8-1 .8-2 .8 1.2 .8-2.3 .8 1.6 .8 .9 .8-2.3 .8-.2 .8 .2 .8 1.2 .8-1.3 .8-.2 .8 .9 .8-1.9 .8-.3 .8 1.6 .8 .3 .8-.1 .8-.3 .8 .5 .8-2.3 .8 0 .8 .4 .8 1.6 .8-.7 .8 0 .8-.8 .8 1.4 .8 0 .8 .5 .8-.1 .8 2.1 .8-3.4 .8 2.1 .8-3.1 .8-.7 .8 2 .8-1.2 .8-.5 .8 .8 .8 2.4 .8-3.5 .8 .4 .8 2.1 .8-1.4 .8 3.6 .8-3.3 .8 1.1 .8 1 .8-.9 .8 .3 .8-.3 .8 1.9 .8 1.6 .8-1.4 .8-.7 .8 3.1 .8-.2 .8-.4 .8-1 .8-1.2 .8 1.1 .8-1.6 .8-.6 .8 .1 .8 .5 .8 .4 .8-1.8 .8-1.4 .8-.9 .8 .9 .8 .1 .8 .5 .8-.6 .8-1.5 .8-.1 .8 .7 .8-.7 .8-.1 .8-.1 .8-.6 .8-.3 .8 .1 .8-1 .8 .5 .8 1 .8 .7 .8 .2 .8-3.2 .8 2.6 .8-1 .8 1.5 .8 .7 .8 1 .8-2.9 .8 1.6 .8-3.6 .8 2.3 .8-2.5 .8 1.3 .8-1.1 .8-1.2 .8 1.2 .8-1.2 .8 .1 .8 .6 .8 .4 .8 .6 .8-1.3 .8-.3 .8-.6 .8 2.5 .8-.2 .8 .4 .8-1.5 .8 2.1 .8-.3 .8 2.1 .8-2.3 .8 1.6 .8 .7 .8-2.1 .8 .6 .8-.2 .8 .6 .8 1.5 .8-.4 .8-1.5 .8 3.6 .8-2.9 .8 2.2 .8-.7 .8 1 .8-.1 .8-.1 .8 .2 .8 1.3 .8-2.1 .8-.2 .8-.2 .8-1 .8 2.1 .8-2.3 .8 .2 .8 1.9 .8-.5 .8 .2 .8-3.6 .8 1.2 .8-.3 .8 1.6 .8 .1 .8 .5 .8 .3 .8 1.8 .8-4 .8 1.5 .8 .4 .8-.8 .8-.8 .8 1.4 .8-.3 .8-.1 .8-1.1 .8-1.4 .8 1.5 .8 2.2 .8-.5 .8-2.4 .8 1.5 .8 1.3 .8 .3 .8-2.2 .8 .4 .8-.3 .8-.9 .8 3.2 .8-3.5 .8 2.5 .8 .7 .8-1.1 .8 .1 .8-2.9 .8 2.6 .8 .2 .8 0 .8-2 .8 .4 .8-.8 .8 2.3 .8-2.1 .8 .5 .8 0 .8-.7 .8 1.4 .8-.3 .8-1.1 .8-.7 .8 0 .8-1.7 .8 1.3 .8-.1 .8-.5 .8-.7 .8 2.2 .8 0 .8-.5 .8 1.4 .8-.8 .8 2.4 .8-1.4 .8 1 .8 0 .8 2.3 .8-.7 .8 2.4 .8 1.1 .8 .5 .8 4.5 .8-.1 .8-.7 .8 2.3 .8 .9 .8-.1 .8 2 .8-1.5 .8-1.2 .8-1.1 .8-.3 .8 .1 .8 .2 .8 .7 .8 .5 .8-1.6 .8 1.7 .8 2.2 .8 .9 .8-1.6 .8-1.2 .8 1.4 .8-2.5 .8-.4 .8 .1 .8-.2 .8 4.6 .8-1.5 .8-2.9 .8 2.2 .8-.5 .8 2.2 .8-2.1 .8-.6 .8 .9 .8 .2 .8-2.5 .8 .9 .8-.7 .8 2.2 .8-.5 .8-.3 .8-1.2 .8 1.7 .8-.5 .8 .9 .8 .7 .8 0 .8 1 .8 .7 .8-.4 .8 0 .8-.2 .8-.8 .8 0 .8-.2 .8-.5 .8 0 .8 .3 .8 .9 .8 .6 .8 .3 .8 .3 .8-.8 .8-.4 .8 .2 .8-.6 .8-.3 .8-.4 .8-.9 .8-.5 .8 .4 .8-1.4 .8 0 .8 .3 .8-1.2 .8 .1 .8-.8 .8 .6 .8-1.1 .8 0 .8-1.1 .8 .1 .8-.3 .8-.7 .8 0 .8-.5 .8-.1 .8-.6 .8-.3 .8-.5 .8 .3 .8-.4 .8-.4 .8 .4 .8-.9 .8-.3 .8-.4 .8 .3 .8-.3 .8-.5 .8 0 .8 0 .8-.3 .8 .2 .8-.2 .8 .2 .8-1 .8-.1 .8-.2 .8-.1 .8 .1 .8-.1 .8 .4 .8-.7 .8 .3 .8 .2 .8 .2 .8-.3 .8 .2 .8-.1 .8 0 .8-.2 .8 .4 .8 .4 .8 .3 .8-.5 .8 .4 .8-.1 .8 .1 .8-.1 .8 .3 .8 .3 .8 0 .8-.1 .8 .5 .8-.3 .8 0 .8 .2 .8 0 .8-.2 .8 .4 .8-.2 .8-.2 .8 .7 .8-.3 .8-.3 .8 .3 .8-.3 .8 .2 .8-.5 .8 .2 .8-.5 .8 .1 .8 .2 .8-.3 .8 .6 .8-.8 .8 .3 .8-.3 .8 .8 .8-.4 .8-.4 .8 .7 .8-.1 .8 .8 .8-.2 .8-.5 .8 .5 .8 0 .8-.1 .8-.1 .8 0 .8-.3 .8 .3 .8-.3 .8 0 .8-.1 .8-.2 .3 .8M784.3 567.4l.8 .3 .8 .8 .8-.6 .8 0 .8-.2 .8 .1 .8 .8 .8-.4 .8-.1 .8 .8 .8 0 .8 .4 .8-1 .8 .7 .8-1 .8 1.1 .8-.3 .8-.5 .8 .6 .8-.4 .8 .1 .8-.2 .8 .3 .8-.1 .8-.4 .8 .3 .8 .5 .8 .9 .8 .4 .8 .3 .8 .3 .8 .2 .8 .6 .8 .6 .8 .4 .8 .6 .8 .4 .8-.3 .8 1.1 .8 0 .8 0 .8 .4 .8 .4 .8 0 .8 .3 .8 .8 .8 .5 .8-.1 .8 1.7 .8-.6 .8 .4 .8-.6 .8-.5 .8 .1 .8-.7 .8-.4 .8 .1 .8-.4 .8-.6 .8-.4 .8-.3 .8 .5 .8 .6 .8 .7 .8 .3 .8 .2 .8 1.1 .8 1.2 .8 .3 .8-.2 .8 1.1 .8 .2 .8 0 .8-.3 .8-.4 .8-.5 .8 .3 .8-.8 .8-.2 .8-.3 .8-.1 .8-.4 .8-.2 .8-.4 .8-.2 .8-.3 .8 .1 .8-.6 .8-.2 .8 .6 .8 .3 .8-.3 .8 .2 .8-.3 .8 1.3 .8-.1 .8 .5 .8-.7 .8 0 .8 1 .8-.2 .8 .6 .8-.2 .8 .5 .8-.4 .8 0 .8 .2 .8-.2 .8 0 .8 .5 .8-.4 .8 0 .8 .1 .8-.1 .8 .2 .8 .4 .8-.2 .8-.8 .8-.3 .8 .6 .8 .1 .8 .4 .8 1 .8 .5 .8 .7 .8 .5 .8 1 .8-.3 .8 .5 .8 .7 .8 .7 .8 0 .8 .3 .8 0 .8 1.6 .8 .4 .8 1.1 .8 .6 .8 .5 .8 .2 .8 .8 .8 0 .8 1.1 .8 0 .8-.1 .8-.9 .8-.2 .8-.6 .8 1 .8 0 .8 .1 .8 .5 .8 .3 .8 1.2 .8 .6 .8 .1 .8 .6 .8-.1 .8 1.3 .8 0 .8 .7 .8-1.1 .8-.1 .8-.3 .8-.5 .8-.7 .8 0 .8-.5 .8-.2 .8-.5 .8 .5 .8-.5 .8 0 .8-.3 .8 0 .8 .5 .8 1.6 .8 .4 .8 .4 .8 .6 .8 .8 .8 .3 .8 1.2 .8 .4 .8 .5 .8 .5 .8 .6 .8 .9 .8 .4 .8 .3 .8 .8 .8 .4 .8 .5 .8 1 .8 .1 .8-.3 .8-.2 .8-1 .8-.1 .8-.6 .8-.8 .8-.3 .8-.8 .8-.6 .8-.6 .8-.1 .8 .4 .8 .6 .8-1 .8 .3 .8-.4 .8 .3 .8-.5 .8 0 .8-.2 .8-.6 .8-.3 .8-.4 .8-.2 .8-.3 .8-.3 .8-.5 .8-.8 .8-.2 .8-.2 .8-.5 .8-.1 .8-1 .8 .7 .8 .6 .8 .8 .8 .3 .8 .5 .8 .9 .8 .4 .8-.3 .8 0 .8-.6 .8-.1 .8-.4 .8-.6 .8-.3 .8-.3 .8-.2 .8-.6 .8-.3 .8-1.1 .8-.5 .8-.2 .8-1.5 .8-.7 .8-.1 .8-.4 .8-.3 .8-.4 .8-.3 .8-.9 .8-.4 .8-.2 .8-.8 .8-.4 .8 0 .8 1 .8 .4 .8 0 .8 .8 .8 .7 .8 .8 .8 .6 .8 .5 .8 .3 .8 1.1 .8 .5 .8-.1 .8 .8 .8 .8 .8 .2 .8 .5 .8 .2 .8 1.1 .8-.2 .8 1 .8 .8 .8-.3 .8 1.3 .8 .7 .8 .3 .8 1 .8 1.1 .8 .2 .8 .7 .8 0 .8-.6 .8-.7 .8-.9 .8-.8 .8-1 .8-.8 .8-.7 .8 .2 .8-1 .8-.2 .8-1 .8-.1 .8-.3 .8-.3 .8-.4 .8 .6 .8 .2 .8 .9 .8 0 .8 1 .8 .3 .8 .7 .8 .4 .8-.5 .8-.4 .8-.7 .8-.9 .8 .4 .8-1 .8 .1 .8-.6 .8-.6 .8-.5 .8-.4 .8-.4 .8-.2 .8-.1 .8-.1 .8-.1 .8-.4 .8 .1 .8-.6 .8 .1 .8-.4 .8 .2 .8 0 .8 0 .8-.7 .8 .5 .8-.6 .8 0 .8 0 .8 1.2 .8 .3 .8 1.2 .8 .4 .8 0 .8 0 .8 .1 .8-.7 .8 0 .8 0 .8-.2 .8-.1 .8 .3 .8-.6 .8-.2 .8-.2 .8-.3 .8 .5 .8-.6 .8 1 .8-1 .8 0 .8 .5 .8 .9 .8 .9 .8 .4 .8 .9 .8 .8 .8 .6 .8 .7 .8 .6 .8 .4 .8 .5 .8 0 .8 .1 .8 0 .8-.5 .8-.6 .8 .2 .8-.9 .8-.3 .8-.2 .8-.1 .8-.1 .8-.6 .8-.4 .8 .3 .8-.3 .8-.1 .8-.1 .8-.4 .8 .1 .8-.9 .8-.2 .8 .2 .8-.4 .8-.1 .8 .6 .8 0 .8 1 .8 .2 .8 .7 .8 .8 .8 .4 .8 .3 .8 .4 .8 .4 .8 1 .8-.5 .8 .9 .8 .5 .8 .7 .8 .3 .8 .6 .8 1 .8 .1 .8 .7 .8-.3 .8 0 .8 0 .8 .8 .8-.6 .8 .3 .8 .9 .8-.4 .8-.1 .8 0 .8-.1 .8 .6 .8 .3 .8-.4 .8 .1 .8 .7 .8-.5 .8 .5 .8 .5 .8-.8 .8 .2 .8-.3 .8-.4 .8 1 .8-.2 .8-.3 .8 .3 .8-.4 .8-.3 .8 .2 .8 0 .8-.1 .8 .6 .8-.5 .8-.2 .8 .3 .8 .1 .8 .4 .8-.4 .8-.5 .8 .1 .8 .5 .8-.5 .8 .5 .8 .9 .8-.5 .8 .5 .8 .8 .8 .4 .8 .5 .8-.7 .8 .6 .8-.2 .8-.4 .8 .3 .8 .1 .8 .4 .8-.7 .8 .4 .8-.6 .8 .7 .8-.4 .8 .4 .8-.8 .8 0 .8-.1 .8 1 .8-.7 .8-.2 .8 .5 .8 .7 .8 .1 .8 .2 .8-.3 .8 .4 .8-.3 .8 .3 .8 .9 .8 .3 .8-.2 .8-.6 .8 .1 .8 .1 .8 .5 .8-.7 .8-.3 .8 .1 .8-.1 .8 0 .8 0 .2 .6" fill="none" stroke="#0000ff" stroke-width="1.9" stroke-linejoin="round" stroke-linecap="round"/>
<path d="M1193.3 607.5 Q1194.3 608.5 1194.5 619.5" fill="none" stroke="#0000ff" stroke-width="1.3"/>
<path d="M1193.3 623.4 Q1194.3 624.4 1194.5 629.2" fill="none" stroke="#0020bf" stroke-width="1.3"/>
<path d="M1193.3 629.7 Q1194.3 630.7 1194.5 637.5" fill="none" stroke="#004080" stroke-width="1.3"/>
<path d="M1193.3 643.3 Q1194.3 644.3 1194.5 647" fill="none" stroke="#006040" stroke-width="1.3"/>
<path d="M1193.3 652.3 Q1194.3 653.3 1194.5 655" fill="none" stroke="#008000" stroke-width="1.3"/>
<circle cx="760.7" cy="583" r="0.45" fill="#0000ff"/>
<circle cx="760.7" cy="597" r="0.45" fill="#0000ff"/>
<circle cx="760.7" cy="606" r="0.45" fill="#0000ff"/>
<circle cx="760.7" cy="615.5" r="0.45" fill="#0000ff"/>
<circle cx="760.7" cy="623" r="0.45" fill="#0000ff"/>
<circle cx="760.7" cy="629" r="0.45" fill="#0000ff"/>
<circle cx="760.7" cy="640" r="0.45" fill="#0000ff"/>
<circle cx="760.7" cy="649" r="0.45" fill="#0000ff"/>
<circle cx="760.7" cy="656" r="0.5" fill="#0018c8"/>
<circle cx="760.7" cy="657.2" r="0.5" fill="#0018c8"/>
<circle cx="760.7" cy="658.4" r="0.5" fill="#0018c8"/>
<circle cx="760.7" cy="659.6" r="0.5" fill="#0018c8"/>
<circle cx="760.7" cy="660.8" r="0.5" fill="#0018c8"/>
<circle cx="760.7" cy="662" r="0.5" fill="#0018c8"/>
<circle cx="760.7" cy="663.2" r="0.5" fill="#0018c8"/>
<circle cx="760.7" cy="664.4" r="0.5" fill="#0018c8"/>
<circle cx="760.7" cy="665.6" r="0.5" fill="#0018c8"/>
<circle cx="760.7" cy="666.8" r="0.5" fill="#0018c8"/>
<circle cx="760.7" cy="668" r="0.5" fill="#0018c8"/>
<circle cx="760.7" cy="669.2" r="0.5" fill="#0018c8"/>
<circle cx="760.7" cy="670.4" r="0.5" fill="#0018c8"/>
<circle cx="760.7" cy="671.6" r="0.5" fill="#0018c8"/>
<circle cx="760.7" cy="672.8" r="0.5" fill="#0018c8"/>
<circle cx="760.7" cy="674" r="0.5" fill="#0018c8"/>
<circle cx="760.7" cy="675.2" r="0.5" fill="#0018c8"/>
<circle cx="760.7" cy="676.4" r="0.5" fill="#0018c8"/>
<circle cx="760.7" cy="677.6" r="0.5" fill="#0018c8"/>
<circle cx="784.2" cy="583" r="0.45" fill="#0000ff"/>
<circle cx="784.2" cy="597" r="0.45" fill="#0000ff"/>
<circle cx="784.2" cy="606" r="0.45" fill="#0000ff"/>
<circle cx="784.2" cy="615.5" r="0.45" fill="#0000ff"/>
<circle cx="784.2" cy="623" r="0.45" fill="#0000ff"/>
<circle cx="784.2" cy="629" r="0.45" fill="#0000ff"/>
<circle cx="784.2" cy="640" r="0.45" fill="#0000ff"/>
<circle cx="784.2" cy="649" r="0.45" fill="#0000ff"/>
<circle cx="784.2" cy="656" r="0.5" fill="#0018c8"/>
<circle cx="784.2" cy="657.2" r="0.5" fill="#0018c8"/>
<circle cx="784.2" cy="658.4" r="0.5" fill="#0018c8"/>
<circle cx="784.2" cy="659.6" r="0.5" fill="#0018c8"/>
<circle cx="784.2" cy="660.8" r="0.5" fill="#0018c8"/>
<circle cx="784.2" cy="662" r="0.5" fill="#0018c8"/>
<circle cx="784.2" cy="663.2" r="0.5" fill="#0018c8"/>
<circle cx="784.2" cy="664.4" r="0.5" fill="#0018c8"/>
<circle cx="784.2" cy="665.6" r="0.5" fill="#0018c8"/>
<circle cx="784.2" cy="666.8" r="0.5" fill="#0018c8"/>
<circle cx="784.2" cy="668" r="0.5" fill="#0018c8"/>
<circle cx="784.2" cy="669.2" r="0.5" fill="#0018c8"/>
<circle cx="784.2" cy="670.4" r="0.5" fill="#0018c8"/>
<circle cx="784.2" cy="671.6" r="0.5" fill="#0018c8"/>
<circle cx="784.2" cy="672.8" r="0.5" fill="#0018c8"/>
<circle cx="784.2" cy="674" r="0.5" fill="#0018c8"/>
<circle cx="784.2" cy="675.2" r="0.5" fill="#0018c8"/>
<circle cx="784.2" cy="676.4" r="0.5" fill="#0018c8"/>
<circle cx="784.2" cy="677.6" r="0.5" fill="#0018c8"/>
<circle cx="1194.6" cy="621" r="0.45" fill="#006040"/>
<circle cx="1194.6" cy="623.3" r="0.45" fill="#008000"/>
<circle cx="1194.6" cy="625.6" r="0.45" fill="#006040"/>
<circle cx="1194.6" cy="627.9" r="0.45" fill="#008000"/>
<circle cx="1194.6" cy="630.2" r="0.45" fill="#bf2000"/>
<circle cx="1194.6" cy="632.5" r="0.45" fill="#0000ff"/>
<circle cx="1194.6" cy="634.8" r="0.45" fill="#bf2000"/>
<circle cx="1194.6" cy="637.1" r="0.45" fill="#006040"/>
<circle cx="1194.6" cy="639.4" r="0.45" fill="#008000"/>
<circle cx="1194.6" cy="641.7" r="0.45" fill="#006040"/>
<circle cx="1194.6" cy="644" r="0.45" fill="#008000"/>
<circle cx="1194.6" cy="646.3" r="0.45" fill="#bf2000"/>
<circle cx="1194.6" cy="648.6" r="0.45" fill="#0000ff"/>
<circle cx="1194.6" cy="650.9" r="0.45" fill="#bf2000"/>
<circle cx="1194.6" cy="653.2" r="0.45" fill="#006040"/>
<circle cx="1194.6" cy="655.5" r="0.45" fill="#008000"/>
<circle cx="1194.6" cy="657.8" r="0.45" fill="#006040"/>
<circle cx="1194.6" cy="660.1" r="0.45" fill="#0000ff"/>
<circle cx="1194.6" cy="662.4" r="0.45" fill="#bf2000"/>
<circle cx="1194.6" cy="664.7" r="0.45" fill="#0000ff"/>
<circle cx="1194.6" cy="667" r="0.45" fill="#bf2000"/>
<circle cx="1194.6" cy="669.3" r="0.45" fill="#006040"/>
<circle cx="1194.6" cy="671.6" r="0.45" fill="#008000"/>
<circle cx="1194.6" cy="673.9" r="0.45" fill="#006040"/>
<circle cx="1194.6" cy="676.2" r="0.45" fill="#0000ff"/>
<path d="M760.8 664V678.5M784.1 664V678.5" stroke="#1020c0" stroke-width="0.9" fill="none"/>
<path d="M761.1 671V678.5" stroke="#a03010" stroke-width="0.7" fill="none"/>
<rect x="760.5" y="677.9" width="23.8" height="1.3" fill="#0000ff"/>
<rect x="1195.9" y="672.9" width="1.9" height="5" fill="#c23a1a"/>
<rect x="1194.2" y="677.6" width="14.8" height="4.8" fill="#0000ff"/>
<rect x="1197.5" y="679.8" width="11.5" height="0.8" fill="#ffffff"/>
<path d="M1194.6 687.4 Q1196.5 685.2 1200 684.9 T1205 686.2 T1209 686.6" fill="none" stroke="#0000ff" stroke-width="1.3"/>
</svg>
<rect x="74.5" y="65.5" width="1155" height="208" fill="none" stroke="#000" stroke-width="1.11"/>
<rect x="74.5" y="273.5" width="1155" height="208" fill="none" stroke="#000" stroke-width="1.11"/>
<rect x="74.5" y="481.5" width="1155" height="208" fill="none" stroke="#000" stroke-width="1.11"/>
<path d="M110.5 65.5v-5.25M110.5 273.5v5.25M110.5 481.5v5.25M110.5 689.5v5.25M219.5 65.5v-5.25M219.5 273.5v5.25M219.5 481.5v5.25M219.5 689.5v5.25M327.5 65.5v-5.25M327.5 273.5v5.25M327.5 481.5v5.25M327.5 689.5v5.25M435.5 65.5v-5.25M435.5 273.5v5.25M435.5 481.5v5.25M435.5 689.5v5.25M543.5 65.5v-5.25M543.5 273.5v5.25M543.5 481.5v5.25M543.5 689.5v5.25M652.5 65.5v-5.25M652.5 273.5v5.25M652.5 481.5v5.25M652.5 689.5v5.25M760.5 65.5v-5.25M760.5 273.5v5.25M760.5 481.5v5.25M760.5 689.5v5.25M868.5 65.5v-5.25M868.5 273.5v5.25M868.5 481.5v5.25M868.5 689.5v5.25M977.5 65.5v-5.25M977.5 273.5v5.25M977.5 481.5v5.25M977.5 689.5v5.25M1085.5 65.5v-5.25M1085.5 273.5v5.25M1085.5 481.5v5.25M1085.5 689.5v5.25M1193.5 65.5v-5.25M1193.5 273.5v5.25M1193.5 481.5v5.25M1193.5 689.5v5.25" stroke="#000" stroke-width="1.08" fill="none"/>
<path d="M74.5 65.5v-3.15M74.5 273.5v3.15M74.5 481.5v3.15M74.5 689.5v3.15M92.5 65.5v-3.15M92.5 273.5v3.15M92.5 481.5v3.15M92.5 689.5v3.15M128.5 65.5v-3.15M128.5 273.5v3.15M128.5 481.5v3.15M128.5 689.5v3.15M146.5 65.5v-3.15M146.5 273.5v3.15M146.5 481.5v3.15M146.5 689.5v3.15M164.5 65.5v-3.15M164.5 273.5v3.15M164.5 481.5v3.15M164.5 689.5v3.15M183.5 65.5v-3.15M183.5 273.5v3.15M183.5 481.5v3.15M183.5 689.5v3.15M201.5 65.5v-3.15M201.5 273.5v3.15M201.5 481.5v3.15M201.5 689.5v3.15M237.5 65.5v-3.15M237.5 273.5v3.15M237.5 481.5v3.15M237.5 689.5v3.15M255.5 65.5v-3.15M255.5 273.5v3.15M255.5 481.5v3.15M255.5 689.5v3.15M273.5 65.5v-3.15M273.5 273.5v3.15M273.5 481.5v3.15M273.5 689.5v3.15M291.5 65.5v-3.15M291.5 273.5v3.15M291.5 481.5v3.15M291.5 689.5v3.15M309.5 65.5v-3.15M309.5 273.5v3.15M309.5 481.5v3.15M309.5 689.5v3.15M345.5 65.5v-3.15M345.5 273.5v3.15M345.5 481.5v3.15M345.5 689.5v3.15M363.5 65.5v-3.15M363.5 273.5v3.15M363.5 481.5v3.15M363.5 689.5v3.15M381.5 65.5v-3.15M381.5 273.5v3.15M381.5 481.5v3.15M381.5 689.5v3.15M399.5 65.5v-3.15M399.5 273.5v3.15M399.5 481.5v3.15M399.5 689.5v3.15M417.5 65.5v-3.15M417.5 273.5v3.15M417.5 481.5v3.15M417.5 689.5v3.15M453.5 65.5v-3.15M453.5 273.5v3.15M453.5 481.5v3.15M453.5 689.5v3.15M471.5 65.5v-3.15M471.5 273.5v3.15M471.5 481.5v3.15M471.5 689.5v3.15M489.5 65.5v-3.15M489.5 273.5v3.15M489.5 481.5v3.15M489.5 689.5v3.15M507.5 65.5v-3.15M507.5 273.5v3.15M507.5 481.5v3.15M507.5 689.5v3.15M525.5 65.5v-3.15M525.5 273.5v3.15M525.5 481.5v3.15M525.5 689.5v3.15M562.5 65.5v-3.15M562.5 273.5v3.15M562.5 481.5v3.15M562.5 689.5v3.15M580.5 65.5v-3.15M580.5 273.5v3.15M580.5 481.5v3.15M580.5 689.5v3.15M598.5 65.5v-3.15M598.5 273.5v3.15M598.5 481.5v3.15M598.5 689.5v3.15M616.5 65.5v-3.15M616.5 273.5v3.15M616.5 481.5v3.15M616.5 689.5v3.15M634.5 65.5v-3.15M634.5 273.5v3.15M634.5 481.5v3.15M634.5 689.5v3.15M670.5 65.5v-3.15M670.5 273.5v3.15M670.5 481.5v3.15M670.5 689.5v3.15M688.5 65.5v-3.15M688.5 273.5v3.15M688.5 481.5v3.15M688.5 689.5v3.15M706.5 65.5v-3.15M706.5 273.5v3.15M706.5 481.5v3.15M706.5 689.5v3.15M724.5 65.5v-3.15M724.5 273.5v3.15M724.5 481.5v3.15M724.5 689.5v3.15M742.5 65.5v-3.15M742.5 273.5v3.15M742.5 481.5v3.15M742.5 689.5v3.15M778.5 65.5v-3.15M778.5 273.5v3.15M778.5 481.5v3.15M778.5 689.5v3.15M796.5 65.5v-3.15M796.5 273.5v3.15M796.5 481.5v3.15M796.5 689.5v3.15M814.5 65.5v-3.15M814.5 273.5v3.15M814.5 481.5v3.15M814.5 689.5v3.15M832.5 65.5v-3.15M832.5 273.5v3.15M832.5 481.5v3.15M832.5 689.5v3.15M850.5 65.5v-3.15M850.5 273.5v3.15M850.5 481.5v3.15M850.5 689.5v3.15M886.5 65.5v-3.15M886.5 273.5v3.15M886.5 481.5v3.15M886.5 689.5v3.15M904.5 65.5v-3.15M904.5 273.5v3.15M904.5 481.5v3.15M904.5 689.5v3.15M922.5 65.5v-3.15M922.5 273.5v3.15M922.5 481.5v3.15M922.5 689.5v3.15M940.5 65.5v-3.15M940.5 273.5v3.15M940.5 481.5v3.15M940.5 689.5v3.15M959.5 65.5v-3.15M959.5 273.5v3.15M959.5 481.5v3.15M959.5 689.5v3.15M995.5 65.5v-3.15M995.5 273.5v3.15M995.5 481.5v3.15M995.5 689.5v3.15M1013.5 65.5v-3.15M1013.5 273.5v3.15M1013.5 481.5v3.15M1013.5 689.5v3.15M1031.5 65.5v-3.15M1031.5 273.5v3.15M1031.5 481.5v3.15M1031.5 689.5v3.15M1049.5 65.5v-3.15M1049.5 273.5v3.15M1049.5 481.5v3.15M1049.5 689.5v3.15M1067.5 65.5v-3.15M1067.5 273.5v3.15M1067.5 481.5v3.15M1067.5 689.5v3.15M1103.5 65.5v-3.15M1103.5 273.5v3.15M1103.5 481.5v3.15M1103.5 689.5v3.15M1121.5 65.5v-3.15M1121.5 273.5v3.15M1121.5 481.5v3.15M1121.5 689.5v3.15M1139.5 65.5v-3.15M1139.5 273.5v3.15M1139.5 481.5v3.15M1139.5 689.5v3.15M1157.5 65.5v-3.15M1157.5 273.5v3.15M1157.5 481.5v3.15M1157.5 689.5v3.15M1175.5 65.5v-3.15M1175.5 273.5v3.15M1175.5 481.5v3.15M1175.5 689.5v3.15M1211.5 65.5v-3.15M1211.5 273.5v3.15M1211.5 481.5v3.15M1211.5 689.5v3.15M1229.5 65.5v-3.15M1229.5 273.5v3.15M1229.5 481.5v3.15M1229.5 689.5v3.15" stroke="#000" stroke-width="0.86" fill="none"/>
<path d="M74.5 65.5h-5.4M74.5 70.5h-5.4M74.5 74.5h-5.4M74.5 79.5h-5.4M74.5 83.5h-5.4M74.5 87.5h-5.4M74.5 92.5h-5.4M74.5 96.5h-5.4M74.5 101.5h-5.4M74.5 105.5h-5.4M74.5 110.5h-5.4M74.5 114.5h-5.4M74.5 118.5h-5.4M74.5 123.5h-5.4M74.5 127.5h-5.4M74.5 132.5h-5.4M74.5 136.5h-5.4M74.5 141.5h-5.4M74.5 145.5h-5.4M74.5 149.5h-5.4M74.5 154.5h-5.4M74.5 158.5h-5.4M74.5 163.5h-5.4M74.5 167.5h-5.4M74.5 172.5h-5.4M74.5 176.5h-5.4M74.5 180.5h-5.4M74.5 185.5h-5.4M74.5 189.5h-5.4M74.5 194.5h-5.4M74.5 198.5h-5.4M74.5 202.5h-5.4M74.5 207.5h-5.4M74.5 211.5h-5.4M74.5 216.5h-5.4M74.5 220.5h-5.4M74.5 225.5h-5.4M74.5 229.5h-5.4M74.5 233.5h-5.4M74.5 238.5h-5.4M74.5 242.5h-5.4M74.5 247.5h-5.4M74.5 251.5h-5.4M74.5 256.5h-5.4M74.5 260.5h-5.4M74.5 264.5h-5.4M74.5 269.5h-5.4M74.5 273.5h-5.4M74.5 273.5h-5.4M74.5 278.5h-5.4M74.5 282.5h-5.4M74.5 286.5h-5.4M74.5 291.5h-5.4M74.5 295.5h-5.4M74.5 300.5h-5.4M74.5 304.5h-5.4M74.5 308.5h-5.4M74.5 313.5h-5.4M74.5 317.5h-5.4M74.5 322.5h-5.4M74.5 326.5h-5.4M74.5 331.5h-5.4M74.5 335.5h-5.4M74.5 339.5h-5.4M74.5 344.5h-5.4M74.5 348.5h-5.4M74.5 353.5h-5.4M74.5 357.5h-5.4M74.5 361.5h-5.4M74.5 366.5h-5.4M74.5 370.5h-5.4M74.5 375.5h-5.4M74.5 379.5h-5.4M74.5 384.5h-5.4M74.5 388.5h-5.4M74.5 392.5h-5.4M74.5 397.5h-5.4M74.5 401.5h-5.4M74.5 406.5h-5.4M74.5 410.5h-5.4M74.5 414.5h-5.4M74.5 419.5h-5.4M74.5 423.5h-5.4M74.5 428.5h-5.4M74.5 432.5h-5.4M74.5 437.5h-5.4M74.5 441.5h-5.4M74.5 445.5h-5.4M74.5 450.5h-5.4M74.5 454.5h-5.4M74.5 459.5h-5.4M74.5 463.5h-5.4M74.5 467.5h-5.4M74.5 472.5h-5.4M74.5 476.5h-5.4M74.5 481.5h-5.4M74.5 679.5h-5.4M74.5 629.5h-5.4M74.5 580.5h-5.4M74.5 530.5h-5.4" stroke="#000" stroke-width="1.08" fill="none"/>
<rect x="1239.5" y="76.5" width="9" height="187" fill="url(#cbI)" stroke="#000" stroke-width="1.11"/>
<path d="M1248.5 263.5h5.25M1248.5 216.5h5.25M1248.5 169.5h5.25M1248.5 122.5h5.25M1248.5 76.5h5.25" stroke="#000" stroke-width="1.11" fill="none"/>
<rect x="1239.5" y="283.5" width="9" height="188" fill="url(#cbV)" stroke="#000" stroke-width="1.11"/>
<path d="M1248.5 471.5h5.25M1248.5 424.5h5.25M1248.5 377.5h5.25M1248.5 330.5h5.25M1248.5 283.5h5.25" stroke="#000" stroke-width="1.11" fill="none"/>
<rect x="1234.5" y="487" width="109.8" height="177.3" rx="2.8" ry="2.8" fill="#fff" fill-opacity="0.8" stroke="#ccc" stroke-width="1.1"/>
<circle cx="1251.7" cy="498.7" r="3.75" fill="#0000ff"/>
<circle cx="1251.7" cy="517.96" r="3.75" fill="#0020bf"/>
<circle cx="1251.7" cy="537.22" r="3.75" fill="#004080"/>
<circle cx="1251.7" cy="556.48" r="3.75" fill="#006040"/>
<circle cx="1251.7" cy="575.74" r="3.75" fill="#008000"/>
<circle cx="1251.7" cy="595" r="3.75" fill="#406000"/>
<circle cx="1251.7" cy="614.26" r="3.75" fill="#804000"/>
<circle cx="1251.7" cy="633.52" r="3.75" fill="#bf2000"/>
<circle cx="1251.7" cy="652.78" r="3.75" fill="#ff0000"/>
<g opacity=".999"><text x="91.06" y="57" font-size="14.65" textLength="39.06" lengthAdjust="spacingAndGlyphs" fill="#000">00:00</text>
<text x="91.06" y="709" font-size="14.65" textLength="39.06" lengthAdjust="spacingAndGlyphs" fill="#000">00:00</text>
<text x="199.35" y="57" font-size="14.65" textLength="39.06" lengthAdjust="spacingAndGlyphs" fill="#000">01:00</text>
<text x="199.35" y="709" font-size="14.65" textLength="39.06" lengthAdjust="spacingAndGlyphs" fill="#000">01:00</text>
<text x="307.63" y="57" font-size="14.65" textLength="39.06" lengthAdjust="spacingAndGlyphs" fill="#000">02:00</text>
<text x="307.63" y="709" font-size="14.65" textLength="39.06" lengthAdjust="spacingAndGlyphs" fill="#000">02:00</text>
<text x="415.91" y="57" font-size="14.65" textLength="39.06" lengthAdjust="spacingAndGlyphs" fill="#000">03:00</text>
<text x="415.91" y="709" font-size="14.65" textLength="39.06" lengthAdjust="spacingAndGlyphs" fill="#000">03:00</text>
<text x="524.19" y="57" font-size="14.65" textLength="39.06" lengthAdjust="spacingAndGlyphs" fill="#000">04:00</text>
<text x="524.19" y="709" font-size="14.65" textLength="39.06" lengthAdjust="spacingAndGlyphs" fill="#000">04:00</text>
<text x="632.47" y="57" font-size="14.65" textLength="39.06" lengthAdjust="spacingAndGlyphs" fill="#000">05:00</text>
<text x="632.47" y="709" font-size="14.65" textLength="39.06" lengthAdjust="spacingAndGlyphs" fill="#000">05:00</text>
<text x="740.75" y="57" font-size="14.65" textLength="39.06" lengthAdjust="spacingAndGlyphs" fill="#000">06:00</text>
<text x="740.75" y="709" font-size="14.65" textLength="39.06" lengthAdjust="spacingAndGlyphs" fill="#000">06:00</text>
<text x="849.03" y="57" font-size="14.65" textLength="39.06" lengthAdjust="spacingAndGlyphs" fill="#000">07:00</text>
<text x="849.03" y="709" font-size="14.65" textLength="39.06" lengthAdjust="spacingAndGlyphs" fill="#000">07:00</text>
<text x="957.31" y="57" font-size="14.65" textLength="39.06" lengthAdjust="spacingAndGlyphs" fill="#000">08:00</text>
<text x="957.31" y="709" font-size="14.65" textLength="39.06" lengthAdjust="spacingAndGlyphs" fill="#000">08:00</text>
<text x="1065.6" y="57" font-size="14.65" textLength="39.06" lengthAdjust="spacingAndGlyphs" fill="#000">09:00</text>
<text x="1065.6" y="709" font-size="14.65" textLength="39.06" lengthAdjust="spacingAndGlyphs" fill="#000">09:00</text>
<text x="1173.88" y="57" font-size="14.65" textLength="39.06" lengthAdjust="spacingAndGlyphs" fill="#000">10:00</text>
<text x="1173.88" y="709" font-size="14.65" textLength="39.06" lengthAdjust="spacingAndGlyphs" fill="#000">10:00</text>
<text x="34.46" y="70.5" font-size="14.65" textLength="29.96" lengthAdjust="spacingAndGlyphs" fill="#000">24.0</text>
<text x="34.46" y="92.63" font-size="14.65" textLength="29.96" lengthAdjust="spacingAndGlyphs" fill="#000">20.0</text>
<text x="34.46" y="114.76" font-size="14.65" textLength="29.96" lengthAdjust="spacingAndGlyphs" fill="#000">16.0</text>
<text x="34.46" y="141.31" font-size="14.65" textLength="29.96" lengthAdjust="spacingAndGlyphs" fill="#000">12.0</text>
<text x="34.46" y="163.44" font-size="14.65" textLength="29.96" lengthAdjust="spacingAndGlyphs" fill="#000">10.0</text>
<text x="43.3" y="185.56" font-size="14.65" textLength="21.12" lengthAdjust="spacingAndGlyphs" fill="#000">8.0</text>
<text x="43.3" y="212.12" font-size="14.65" textLength="21.12" lengthAdjust="spacingAndGlyphs" fill="#000">6.0</text>
<text x="43.3" y="234.24" font-size="14.65" textLength="21.12" lengthAdjust="spacingAndGlyphs" fill="#000">5.0</text>
<text x="43.3" y="256.37" font-size="14.65" textLength="21.12" lengthAdjust="spacingAndGlyphs" fill="#000">4.0</text>
<text x="43.3" y="278.5" font-size="14.65" textLength="21.12" lengthAdjust="spacingAndGlyphs" fill="#000">3.0</text>
<text x="34.46" y="300.63" font-size="14.65" textLength="29.96" lengthAdjust="spacingAndGlyphs" fill="#000">20.0</text>
<text x="34.46" y="322.76" font-size="14.65" textLength="29.96" lengthAdjust="spacingAndGlyphs" fill="#000">16.0</text>
<text x="34.46" y="349.31" font-size="14.65" textLength="29.96" lengthAdjust="spacingAndGlyphs" fill="#000">12.0</text>
<text x="34.46" y="371.44" font-size="14.65" textLength="29.96" lengthAdjust="spacingAndGlyphs" fill="#000">10.0</text>
<text x="43.3" y="393.56" font-size="14.65" textLength="21.12" lengthAdjust="spacingAndGlyphs" fill="#000">8.0</text>
<text x="43.3" y="420.12" font-size="14.65" textLength="21.12" lengthAdjust="spacingAndGlyphs" fill="#000">6.0</text>
<text x="43.3" y="442.24" font-size="14.65" textLength="21.12" lengthAdjust="spacingAndGlyphs" fill="#000">5.0</text>
<text x="43.3" y="464.37" font-size="14.65" textLength="21.12" lengthAdjust="spacingAndGlyphs" fill="#000">4.0</text>
<text x="43.3" y="486.5" font-size="14.65" textLength="21.12" lengthAdjust="spacingAndGlyphs" fill="#000">3.0</text>
<text x="56.55" y="684.5" font-size="14.65" textLength="7.87" lengthAdjust="spacingAndGlyphs" fill="#000">0</text>
<text x="38.87" y="634.97" font-size="14.65" textLength="25.54" lengthAdjust="spacingAndGlyphs" fill="#000">500</text>
<text x="30.04" y="585.45" font-size="14.65" textLength="34.38" lengthAdjust="spacingAndGlyphs" fill="#000">1000</text>
<text x="30.04" y="535.92" font-size="14.65" textLength="34.38" lengthAdjust="spacingAndGlyphs" fill="#000">1500</text>
<text transform="translate(23.2 169.3) rotate(-90)" x="-65.46" y="0" font-size="17.59" textLength="91.42" lengthAdjust="spacingAndGlyphs" fill="#000">Frequency,</text>
<text transform="translate(23.2 169.3) rotate(-90)" x="31.26" y="0" font-size="17.59" textLength="34.2" lengthAdjust="spacingAndGlyphs" fill="#000">GHz</text>
<text transform="translate(23.2 377.25) rotate(-90)" x="-65.46" y="0" font-size="17.59" textLength="91.42" lengthAdjust="spacingAndGlyphs" fill="#000">Frequency,</text>
<text transform="translate(23.2 377.25) rotate(-90)" x="31.26" y="0" font-size="17.59" textLength="34.2" lengthAdjust="spacingAndGlyphs" fill="#000">GHz</text>
<text transform="translate(19.2 585.2) rotate(-90)" x="-77.6" y="0" font-size="17.59" textLength="55.32" lengthAdjust="spacingAndGlyphs" fill="#000">Stokes</text>
<text transform="translate(19.2 585.2) rotate(-90)" x="-16.98" y="0" font-size="17.59" textLength="21.62" lengthAdjust="spacingAndGlyphs" fill="#000">I,V</text>
<text transform="translate(19.2 585.2) rotate(-90)" x="9.93" y="0" font-size="17.59" textLength="37.25" lengthAdjust="spacingAndGlyphs" fill="#000">plot,</text>
<text transform="translate(19.2 585.2) rotate(-90)" x="52.48" y="0" font-size="17.59" textLength="25.12" lengthAdjust="spacingAndGlyphs" fill="#000">sfu</text>
<text x="167.2" y="27.6" font-size="17.51" textLength="95.31" lengthAdjust="spacingAndGlyphs" fill="#000">2025-08-30</text>
<text x="273.65" y="27.6" font-size="17.51" textLength="96.41" lengthAdjust="spacingAndGlyphs" fill="#000">SOLARSPEL</text>
<text x="381.19" y="27.6" font-size="17.51" textLength="36.51" lengthAdjust="spacingAndGlyphs" fill="#000">3-24</text>
<text x="423.57" y="27.6" font-size="17.51" textLength="34.06" lengthAdjust="spacingAndGlyphs" fill="#000">GHz</text>
<text x="462.9" y="27.6" font-size="17.51" textLength="158.5" lengthAdjust="spacingAndGlyphs" fill="#000">spectropolarimeter</text>
<text x="626.68" y="27.6" font-size="17.51" textLength="37.39" lengthAdjust="spacingAndGlyphs" fill="#000">data</text>
<text x="679.9" y="27.6" font-size="17.51" textLength="55.09" lengthAdjust="spacingAndGlyphs" fill="#000">Stokes</text>
<text x="740.26" y="27.6" font-size="17.51" textLength="21.53" lengthAdjust="spacingAndGlyphs" fill="#000">I,V</text>
<text x="778.2" y="27.6" font-size="17.51" textLength="19.96" lengthAdjust="spacingAndGlyphs" fill="#000">48</text>
<text x="804.02" y="27.6" font-size="17.51" textLength="83.26" lengthAdjust="spacingAndGlyphs" fill="#000">frequency</text>
<text x="892.56" y="27.6" font-size="17.51" textLength="74.34" lengthAdjust="spacingAndGlyphs" fill="#000">channels</text>
<text x="982.73" y="27.6" font-size="17.51" textLength="94.33" lengthAdjust="spacingAndGlyphs" fill="#000">(calibration</text>
<text x="1082.34" y="27.6" font-size="17.51" textLength="101.04" lengthAdjust="spacingAndGlyphs" fill="#000">preliminary)</text>
<text x="1232.5" y="708.8" font-size="16.41" textLength="30.83" lengthAdjust="spacingAndGlyphs" fill="#000">UTC</text>
<text x="1268.27" y="708.8" font-size="16.41" textLength="38.05" lengthAdjust="spacingAndGlyphs" fill="#000">Time</text>
<text x="1258.39" y="268.25" font-size="14.65" textLength="7.87" lengthAdjust="spacingAndGlyphs" fill="#000">0</text>
<text x="1258.39" y="221.25" font-size="14.65" textLength="25.54" lengthAdjust="spacingAndGlyphs" fill="#000">500</text>
<text x="1258.39" y="174.25" font-size="14.65" textLength="34.38" lengthAdjust="spacingAndGlyphs" fill="#000">1000</text>
<text x="1258.39" y="127.25" font-size="14.65" textLength="34.38" lengthAdjust="spacingAndGlyphs" fill="#000">1500</text>
<text x="1258.39" y="81.25" font-size="14.65" textLength="34.38" lengthAdjust="spacingAndGlyphs" fill="#000">2000</text>
<text transform="translate(1312.1 170.5) rotate(-90)" x="-71.79" y="0" font-size="17.59" textLength="55.32" lengthAdjust="spacingAndGlyphs" fill="#000">Stokes</text>
<text transform="translate(1312.1 170.5) rotate(-90)" x="-11.18" y="0" font-size="17.59" textLength="4.92" lengthAdjust="spacingAndGlyphs" fill="#000">I</text>
<text transform="translate(1312.1 170.5) rotate(-90)" x="-0.96" y="0" font-size="17.59" textLength="42.34" lengthAdjust="spacingAndGlyphs" fill="#000">map,</text>
<text transform="translate(1312.1 170.5) rotate(-90)" x="46.67" y="0" font-size="17.59" textLength="25.12" lengthAdjust="spacingAndGlyphs" fill="#000">sfu</text>
<text x="1257.9" y="476.25" font-size="14.65" textLength="37.66" lengthAdjust="spacingAndGlyphs" fill="#000">−200</text>
<text x="1257.9" y="429.25" font-size="14.65" textLength="37.66" lengthAdjust="spacingAndGlyphs" fill="#000">−100</text>
<text x="1258.39" y="382.25" font-size="14.65" textLength="7.87" lengthAdjust="spacingAndGlyphs" fill="#000">0</text>
<text x="1258.39" y="335.25" font-size="14.65" textLength="25.54" lengthAdjust="spacingAndGlyphs" fill="#000">100</text>
<text x="1258.39" y="288.25" font-size="14.65" textLength="25.54" lengthAdjust="spacingAndGlyphs" fill="#000">200</text>
<text transform="translate(1314.8 378) rotate(-90)" x="-75.04" y="0" font-size="17.59" textLength="55.32" lengthAdjust="spacingAndGlyphs" fill="#000">Stokes</text>
<text transform="translate(1314.8 378) rotate(-90)" x="-14.42" y="0" font-size="17.59" textLength="11.4" lengthAdjust="spacingAndGlyphs" fill="#000">V</text>
<text transform="translate(1314.8 378) rotate(-90)" x="2.28" y="0" font-size="17.59" textLength="42.34" lengthAdjust="spacingAndGlyphs" fill="#000">map,</text>
<text transform="translate(1314.8 378) rotate(-90)" x="49.92" y="0" font-size="17.59" textLength="25.12" lengthAdjust="spacingAndGlyphs" fill="#000">sfu</text>
<text x="1274.24" y="502.5" font-size="13.19" textLength="34.91" lengthAdjust="spacingAndGlyphs" fill="#000">19.69</text>
<text x="1313.56" y="502.5" font-size="13.19" textLength="25.65" lengthAdjust="spacingAndGlyphs" fill="#000">GHz</text>
<text x="1274.24" y="521.76" font-size="13.19" textLength="34.91" lengthAdjust="spacingAndGlyphs" fill="#000">15.69</text>
<text x="1313.56" y="521.76" font-size="13.19" textLength="25.65" lengthAdjust="spacingAndGlyphs" fill="#000">GHz</text>
<text x="1274.24" y="541.02" font-size="13.19" textLength="34.91" lengthAdjust="spacingAndGlyphs" fill="#000">11.83</text>
<text x="1313.56" y="541.02" font-size="13.19" textLength="25.65" lengthAdjust="spacingAndGlyphs" fill="#000">GHz</text>
<text x="1274.24" y="560.28" font-size="13.19" textLength="26.96" lengthAdjust="spacingAndGlyphs" fill="#000">9.83</text>
<text x="1305.61" y="560.28" font-size="13.19" textLength="25.65" lengthAdjust="spacingAndGlyphs" fill="#000">GHz</text>
<text x="1274.24" y="579.54" font-size="13.19" textLength="26.96" lengthAdjust="spacingAndGlyphs" fill="#000">7.83</text>
<text x="1305.61" y="579.54" font-size="13.19" textLength="25.65" lengthAdjust="spacingAndGlyphs" fill="#000">GHz</text>
<text x="1274.24" y="598.8" font-size="13.19" textLength="26.96" lengthAdjust="spacingAndGlyphs" fill="#000">5.90</text>
<text x="1305.61" y="598.8" font-size="13.19" textLength="25.65" lengthAdjust="spacingAndGlyphs" fill="#000">GHz</text>
<text x="1274.24" y="618.06" font-size="13.19" textLength="26.96" lengthAdjust="spacingAndGlyphs" fill="#000">4.90</text>
<text x="1305.61" y="618.06" font-size="13.19" textLength="25.65" lengthAdjust="spacingAndGlyphs" fill="#000">GHz</text>
<text x="1274.24" y="637.32" font-size="13.19" textLength="26.96" lengthAdjust="spacingAndGlyphs" fill="#000">3.90</text>
<text x="1305.61" y="637.32" font-size="13.19" textLength="25.65" lengthAdjust="spacingAndGlyphs" fill="#000">GHz</text>
<text x="1274.24" y="656.58" font-size="13.19" textLength="26.96" lengthAdjust="spacingAndGlyphs" fill="#000">3.00</text>
<text x="1305.61" y="656.58" font-size="13.19" textLength="25.65" lengthAdjust="spacingAndGlyphs" fill="#000">GHz</text></g>
</svg>
</body></html>
